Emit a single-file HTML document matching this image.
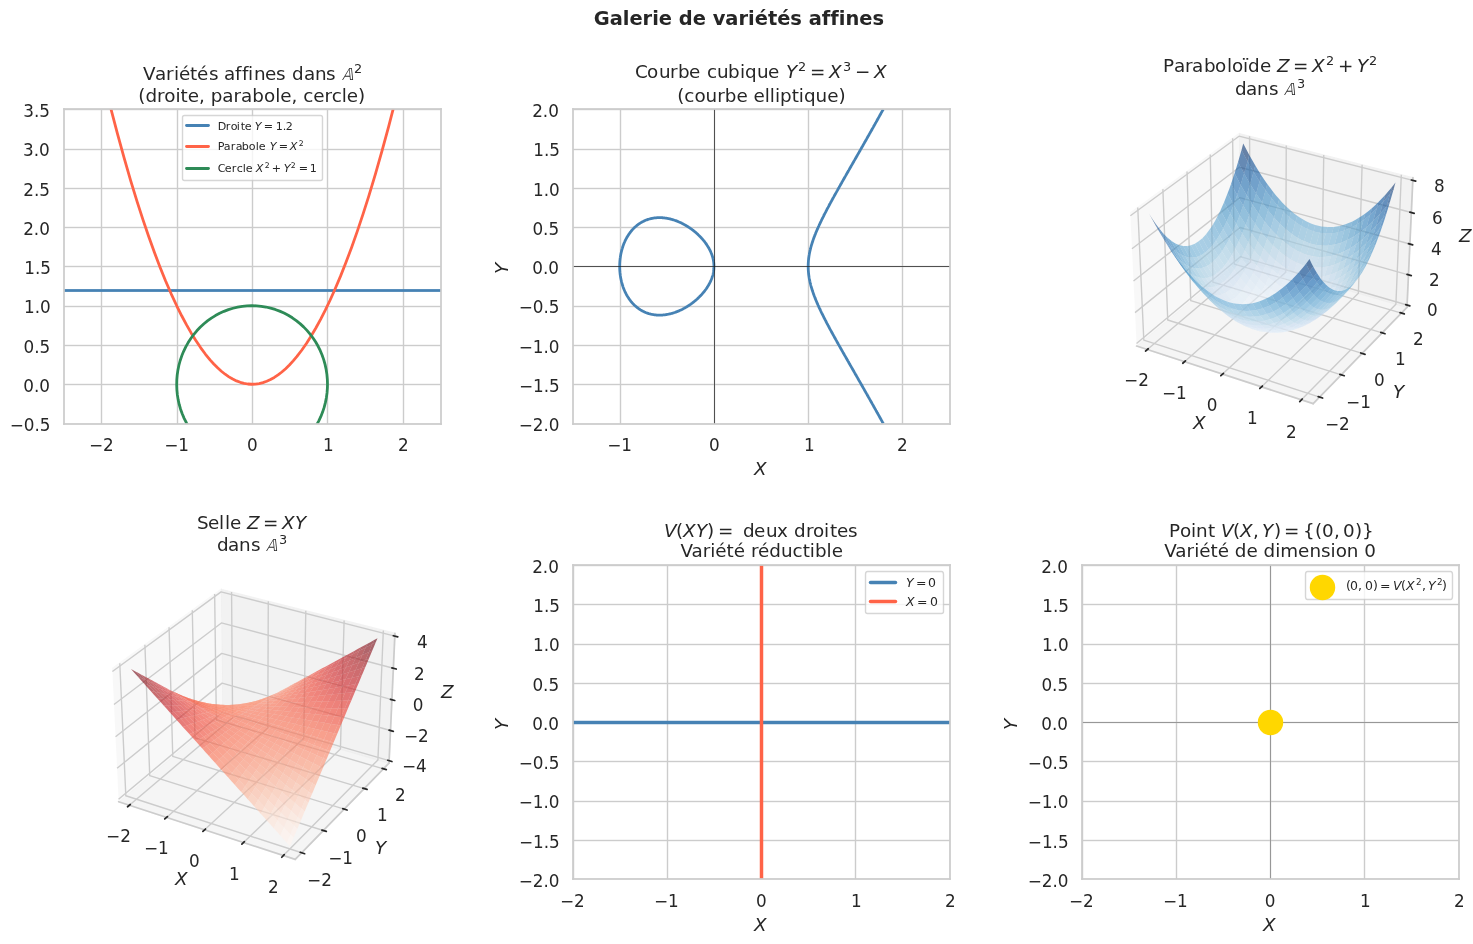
<!DOCTYPE html>
<html lang="fr"><head><meta charset="utf-8"><title>Galerie de variétés affines</title>
<style>html,body{margin:0;padding:0;background:#fff;overflow:hidden}svg{display:block}svg *{stroke-linejoin:round;stroke-linecap:butt}text{font-family:"DejaVu Sans","Liberation Sans",sans-serif;fill:#262626;white-space:pre;font-variant-ligatures:none;font-kerning:normal}</style></head>
<body>
<svg width="1473" height="944" viewBox="0 0 1473 944"><defs></defs><g><g><path d="M-161 989L1639 989L1639 -11L-161 -11Z" style="fill:#ffffff" /></g><g><g><path d="M64 424L441 424L441 109L64 109Z" style="fill:#ffffff" /></g><g><g><g><rect clip-path="url(#pf85b3733b2)" style="fill:#cccccc" x="100.806" y="108.806" width="1.389" height="316.389" /></g><g><text style="font-size:16.806px;text-anchor:middle" x="101.33" y="451">−2</text></g></g><g><g><rect clip-path="url(#pf85b3733b2)" style="fill:#cccccc" x="176.806" y="108.806" width="1.389" height="316.389" /></g><g><text style="font-size:16.806px;text-anchor:middle" x="176.56" y="451">−1</text></g></g><g><g><rect clip-path="url(#pf85b3733b2)" style="fill:#cccccc" x="251.806" y="108.806" width="1.389" height="316.389" /></g><g><text style="font-size:16.806px;text-anchor:middle" x="252.23" y="451">0</text></g></g><g><g><rect clip-path="url(#pf85b3733b2)" style="fill:#cccccc" x="326.806" y="108.806" width="1.389" height="316.389" /></g><g><text style="font-size:16.806px;text-anchor:middle" x="328.32" y="451">1</text></g></g><g><g><rect clip-path="url(#pf85b3733b2)" style="fill:#cccccc" x="402.806" y="108.806" width="1.389" height="316.389" /></g><g><text style="font-size:16.806px;text-anchor:middle" x="403.39" y="451">2</text></g></g></g><g><g><g><rect clip-path="url(#pf85b3733b2)" style="fill:#cccccc" x="63.806" y="423.806" width="378.389" height="1.389" /></g><g><text style="font-size:16.806px;text-anchor:end" x="50.52" y="431">−0.5</text></g></g><g><g><rect clip-path="url(#pf85b3733b2)" style="fill:#cccccc" x="63.806" y="383.806" width="378.389" height="1.389" /></g><g><text style="font-size:16.806px;text-anchor:end" x="50.01" y="392">0.0</text></g></g><g><g><rect clip-path="url(#pf85b3733b2)" style="fill:#cccccc" x="63.806" y="344.806" width="378.389" height="1.389" /></g><g><text style="font-size:16.806px;text-anchor:end" x="50.19" y="353">0.5</text></g></g><g><g><rect clip-path="url(#pf85b3733b2)" style="fill:#cccccc" x="63.806" y="305.806" width="378.389" height="1.389" /></g><g><text style="font-size:16.806px;text-anchor:end" x="50.77" y="313">1.0</text></g></g><g><g><rect clip-path="url(#pf85b3733b2)" style="fill:#cccccc" x="63.806" y="265.806" width="378.389" height="1.389" /></g><g><text style="font-size:16.806px;text-anchor:end" x="51.03" y="274">1.5</text></g></g><g><g><rect clip-path="url(#pf85b3733b2)" style="fill:#cccccc" x="63.806" y="226.806" width="378.389" height="1.389" /></g><g><text style="font-size:16.806px;text-anchor:end" x="49.91" y="235">2.0</text></g></g><g><g><rect clip-path="url(#pf85b3733b2)" style="fill:#cccccc" x="63.806" y="187.806" width="378.389" height="1.389" /></g><g><text style="font-size:16.806px;text-anchor:end" x="50.01" y="196">2.5</text></g></g><g><g><rect clip-path="url(#pf85b3733b2)" style="fill:#cccccc" x="63.806" y="148.806" width="378.389" height="1.389" /></g><g><text style="font-size:16.806px;text-anchor:end" x="49.73" y="156">3.0</text></g></g><g><g><rect clip-path="url(#pf85b3733b2)" style="fill:#cccccc" x="63.806" y="108.806" width="378.389" height="1.389" /></g><g><text style="font-size:16.806px;text-anchor:end" x="49.95" y="117">3.5</text></g></g></g><g><rect clip-path="url(#pf85b3733b2)" style="fill:#4682b4" x="63.111" y="289.111" width="379.778" height="2.778" /></g><g><path d="M82.72 -12.14L90.03 21.35L97.59 54.42L104.2 82.05L110.82 108.48L117.43 133.7L124.04 157.71L130.66 180.52L137.27 202.11L142.94 219.65L148.61 236.31L154.28 252.08L159.95 266.96L165.62 280.95L171.29 294.05L176.96 306.27L181.69 315.77L186.41 324.65L191.13 332.92L195.86 340.57L200.58 347.6L205.31 354.02L210.03 359.82L213.81 364.01L217.59 367.81L221.37 371.22L225.15 374.23L228.93 376.84L232.71 379.06L236.49 380.89L240.27 382.32L244.05 383.36L247.83 384L251.61 384.25L255.39 384.1L259.17 383.56L262.95 382.62L266.73 381.29L270.51 379.56L274.29 377.44L278.07 374.92L281.85 372.01L285.63 368.7L289.41 365L293.19 360.9L296.97 356.41L301.69 350.24L306.42 343.46L311.14 336.05L315.87 328.03L320.59 319.4L325.32 310.14L330.04 300.27L334.76 289.78L340.43 276.38L346.1 262.1L351.77 246.92L357.44 230.86L363.11 213.9L368.78 196.06L375.4 174.12L382.01 150.98L388.63 126.62L395.24 101.06L401.85 74.28L408.47 46.3L415.08 17.11L421.45 -12.14L421.45 -12.14" clip-path="url(#pf85b3733b2)" style="fill:none;stroke:#ff6347;stroke-width:2.778;stroke-linecap:round" /></g><g><path d="M327.49 384.25L327.34 379.3L326.89 374.38L326.15 369.49L325.11 364.66L323.78 359.91L322.17 355.26L320.28 350.72L318.12 346.31L315.69 342.06L313.02 337.97L310.1 334.06L306.95 330.36L303.59 326.86L300.02 323.6L296.26 320.58L292.33 317.8L288.23 315.3L284 313.06L279.63 311.11L275.16 309.45L270.59 308.08L265.96 307.02L261.26 306.26L256.53 305.82L251.79 305.68L247.04 305.85L242.31 306.34L237.63 307.14L233 308.24L228.44 309.64L223.98 311.34L219.63 313.33L215.41 315.59L211.34 318.14L207.43 320.94L203.69 323.99L200.15 327.29L196.81 330.81L193.69 334.54L190.8 338.47L188.16 342.58L185.77 346.85L183.64 351.28L181.78 355.83L180.2 360.5L178.91 365.26L177.91 370.1L177.2 374.99L176.79 379.92L176.68 384.87L176.87 389.81L177.35 394.74L178.13 399.62L179.21 404.44L180.57 409.18L182.22 413.82L184.15 418.34L186.34 422.73L188.79 426.97L191.5 431.03L194.45 434.91L197.62 438.59L201.01 442.06L204.61 445.29L208.39 448.29L212.34 451.02L216.46 453.5L220.71 455.7L225.09 457.61L229.57 459.24L234.15 460.57L238.79 461.59L243.49 462.31L248.23 462.72L252.97 462.82L257.72 462.6L262.44 462.08L267.12 461.24L271.74 460.1L276.29 458.66L280.73 456.93L285.07 454.91L289.27 452.6L293.33 450.03L297.22 447.19L300.93 444.11L304.45 440.78L307.76 437.24L310.85 433.48L313.71 429.53L316.32 425.4L318.68 421.1L320.77 416.66L322.6 412.09L324.14 407.41L325.39 402.64L326.36 397.79L327.03 392.89L327.4 387.96L327.49 384.25L327.49 384.25" clip-path="url(#pf85b3733b2)" style="fill:none;stroke:#2e8b57;stroke-width:2.778;stroke-linecap:round" /></g><g><rect style="fill:#cccccc" x="63.132" y="108.132" width="1.736" height="316.736" /></g><g><rect style="fill:#cccccc" x="440.132" y="108.132" width="1.736" height="316.736" /></g><g><rect style="fill:#cccccc" x="63.132" y="423.132" width="378.736" height="1.736" /></g><g><rect style="fill:#cccccc" x="63.132" y="108.132" width="378.736" height="1.736" /></g><g><g transform="translate(142.01 81)"><text><tspan x="1 13 24 32 37 48 55 67 76 82 93 100 106 112 123 134 144 150 162 173 184 194" y="-1" style="font-size:18.333px">Variétés affines dans </tspan><tspan x="212" y="-8" style="font-size:12.833px">2</tspan></text><text transform="translate(200 -1) skewX(-14) scale(0.92 1)" style="font-size:16.5px">𝔸</text></g><text style="font-size:18.333px" x="138.32" y="102">(droite, parabole, cercle)</text></g><g><g><path d="M184.5 180.5L320.5 180.5Q322.5 180.5 322.5 178.5L322.5 117.5Q322.5 115.5 320.5 115.5L184.5 115.5Q182.5 115.5 182.5 117.5L182.5 178.5Q182.5 180.5 184.5 180.5Z" style="fill:#ffffff;opacity:0.8;stroke:#cccccc;stroke-linejoin:miter;stroke-width:1.389" /></g><g><path d="M186.5 125.5L208.5 125.5" style="fill:none;stroke:#4682b4;stroke-width:2.778;stroke-linecap:round" /></g><g><g transform="translate(216.82 130)"><text><tspan x="1 9 14 20 24 28 35" y="0" style="font-size:11.111px">Droite </tspan><tspan x="38" y="0" style="font-style:italic;font-size:11.111px">Y</tspan><tspan x="47 59 66 69" y="0" style="font-size:11.111px">=1.2</tspan></text></g></g><g><path d="M186.5 146.5L208.5 146.5" style="fill:none;stroke:#ff6347;stroke-width:2.778;stroke-linecap:round" /></g><g><g transform="translate(216.84 151)"><text><tspan x="1 7 14 19 25 32 39 42 49" y="-0.6" style="font-size:11.111px">Parabole </tspan><tspan x="53" y="-0.6" style="font-style:italic;font-size:11.111px">Y</tspan><tspan x="62" y="-0.6" style="font-size:11.111px">=</tspan><tspan x="73" y="-0.6" style="font-style:italic;font-size:11.111px">X</tspan><tspan x="82" y="-4.6" style="font-size:7.778px">2</tspan></text></g></g><g><path d="M186.5 168.5L208.5 168.5" style="fill:none;stroke:#2e8b57;stroke-width:2.778;stroke-linecap:round" /></g><g><g transform="translate(216.78 173)"><text><tspan x="1 8 15 20 26 29 36" y="-0.6" style="font-size:11.111px">Cercle </tspan><tspan x="39" y="-0.6" style="font-style:italic;font-size:11.111px">X</tspan><tspan x="48" y="-4.6" style="font-size:7.778px">2</tspan><tspan x="55" y="-0.6" style="font-size:11.111px">+</tspan><tspan x="67" y="-0.6" style="font-style:italic;font-size:11.111px">Y</tspan><tspan x="74" y="-4.6" style="font-size:7.778px">2</tspan><tspan x="82 93" y="-0.6" style="font-size:11.111px">=1</tspan></text></g></g></g></g><g><g><path d="M573 424L950 424L950 109L573 109Z" style="fill:#ffffff" /></g><g><g><g><rect clip-path="url(#p10204e9731)" style="fill:#cccccc" x="619.806" y="108.806" width="1.389" height="316.389" /></g><g><text style="font-size:16.806px;text-anchor:middle" x="619.56" y="451">−1</text></g></g><g><g><rect clip-path="url(#p10204e9731)" style="fill:#cccccc" x="713.806" y="108.806" width="1.389" height="316.389" /></g><g><text style="font-size:16.806px;text-anchor:middle" x="714.36" y="451">0</text></g></g><g><g><rect clip-path="url(#p10204e9731)" style="fill:#cccccc" x="807.806" y="108.806" width="1.389" height="316.389" /></g><g><text style="font-size:16.806px;text-anchor:middle" x="809.42" y="451">1</text></g></g><g><g><rect clip-path="url(#p10204e9731)" style="fill:#cccccc" x="901.806" y="108.806" width="1.389" height="316.389" /></g><g><text style="font-size:16.806px;text-anchor:middle" x="902.45" y="451">2</text></g></g><g><g transform="translate(753.03 475)"><text><tspan x="1" y="0" style="font-style:italic;font-size:18.333px">X</tspan></text></g></g></g><g><g><g><rect clip-path="url(#p10204e9731)" style="fill:#cccccc" x="572.806" y="423.806" width="378.389" height="1.389" /></g><g><text style="font-size:16.806px;text-anchor:end" x="559.49" y="431">−2.0</text></g></g><g><g><rect clip-path="url(#p10204e9731)" style="fill:#cccccc" x="572.806" y="383.806" width="378.389" height="1.389" /></g><g><text style="font-size:16.806px;text-anchor:end" x="559.69" y="392">−1.5</text></g></g><g><g><rect clip-path="url(#p10204e9731)" style="fill:#cccccc" x="572.806" y="344.806" width="378.389" height="1.389" /></g><g><text style="font-size:16.806px;text-anchor:end" x="559.5" y="353">−1.0</text></g></g><g><g><rect clip-path="url(#p10204e9731)" style="fill:#cccccc" x="572.806" y="305.806" width="378.389" height="1.389" /></g><g><text style="font-size:16.806px;text-anchor:end" x="559.5" y="313">−0.5</text></g></g><g><g><rect clip-path="url(#p10204e9731)" style="fill:#cccccc" x="572.806" y="265.806" width="378.389" height="1.389" /></g><g><text style="font-size:16.806px;text-anchor:end" x="558.99" y="274">0.0</text></g></g><g><g><rect clip-path="url(#p10204e9731)" style="fill:#cccccc" x="572.806" y="226.806" width="378.389" height="1.389" /></g><g><text style="font-size:16.806px;text-anchor:end" x="559.17" y="235">0.5</text></g></g><g><g><rect clip-path="url(#p10204e9731)" style="fill:#cccccc" x="572.806" y="187.806" width="378.389" height="1.389" /></g><g><text style="font-size:16.806px;text-anchor:end" x="559.76" y="196">1.0</text></g></g><g><g><rect clip-path="url(#p10204e9731)" style="fill:#cccccc" x="572.806" y="148.806" width="378.389" height="1.389" /></g><g><text style="font-size:16.806px;text-anchor:end" x="560.02" y="156">1.5</text></g></g><g><g><rect clip-path="url(#p10204e9731)" style="fill:#cccccc" x="572.806" y="108.806" width="378.389" height="1.389" /></g><g><text style="font-size:16.806px;text-anchor:end" x="558.9" y="117">2.0</text></g></g><g><g transform="translate(508.15 275.08)rotate(-90)"><text><tspan x="1" y="0" style="font-style:italic;font-size:18.333px">Y</tspan></text></g></g></g><g><path d="M883.26 423.54L882.97 423.01L882.86 422.83L882.68 422.49L882.39 421.96L882.23 421.69L882.09 421.44L881.8 420.91L881.6 420.55L881.51 420.39L881.22 419.86L880.98 419.42L880.93 419.34L880.64 418.81L880.35 418.29L880.35 418.28L880.06 417.76L879.77 417.24L879.72 417.15L879.47 416.71L879.18 416.19L879.09 416.02L878.89 415.67L878.6 415.14L878.46 414.89L878.31 414.62L878.01 414.09L877.83 413.76L877.72 413.57L877.43 413.04L877.2 412.63L877.13 412.52L876.84 411.99L876.57 411.5L876.55 411.47L876.26 410.94L875.96 410.42L875.94 410.38L875.67 409.89L875.38 409.37L875.31 409.25L875.08 408.84L874.79 408.32L874.68 408.13L874.49 407.8L874.2 407.27L874.05 407.01L873.91 406.75L873.61 406.22L873.42 405.88L873.32 405.7L873.02 405.17L872.79 404.76L872.73 404.65L872.43 404.12L872.16 403.64L872.14 403.6L871.84 403.07L871.55 402.55L871.53 402.52L871.25 402.02L870.96 401.5L870.9 401.41L870.66 400.97L870.36 400.45L870.28 400.29L870.07 399.92L869.77 399.4L869.65 399.17L869.48 398.88L869.18 398.35L869.02 398.06L868.88 397.83L868.59 397.3L868.39 396.94L868.29 396.78L867.99 396.25L867.76 395.83L867.7 395.73L867.4 395.2L867.13 394.72L867.1 394.68L866.81 394.15L866.51 393.63L866.5 393.61L866.21 393.1L865.92 392.58L865.87 392.5L865.62 392.05L865.32 391.53L865.24 391.39L865.02 391.01L864.73 390.48L864.61 390.28L864.43 389.96L864.13 389.43L863.98 389.17L863.83 388.91L863.53 388.38L863.35 388.06L863.24 387.86L862.94 387.33L862.72 386.95L862.64 386.81L862.34 386.28L862.09 385.85L862.04 385.76L861.74 385.23L861.46 384.74L861.45 384.71L861.15 384.18L860.85 383.66L860.83 383.63L860.55 383.14L860.25 382.61L860.2 382.53L859.95 382.09L859.65 381.56L859.57 381.42L859.35 381.04L859.05 380.51L858.95 380.32L858.75 379.99L858.46 379.46L858.32 379.22L858.16 378.94L857.86 378.41L857.69 378.11L857.56 377.89L857.26 377.36L857.06 377.01L856.96 376.84L856.66 376.31L856.43 375.91L856.36 375.79L856.06 375.26L855.8 374.81L855.76 374.74L855.46 374.22L855.17 373.71L855.16 373.69L854.86 373.17L854.56 372.64L854.54 372.6L854.26 372.12L853.96 371.59L853.91 371.5L853.66 371.07L853.36 370.54L853.28 370.4L853.06 370.02L852.76 369.49L852.65 369.3L852.46 368.97L852.16 368.44L852.02 368.2L851.86 367.92L851.56 367.39L851.39 367.1L851.26 366.87L850.96 366.35L850.76 366L850.66 365.82L850.36 365.3L850.13 364.9L850.06 364.77L849.76 364.25L849.5 363.79L849.46 363.72L849.16 363.2L848.87 362.69L848.86 362.67L848.56 362.15L848.26 361.62L848.25 361.59L847.96 361.1L847.66 360.57L847.62 360.49L847.36 360.05L847.07 359.52L846.99 359.39L846.77 359L846.47 358.47L846.36 358.28L846.17 357.95L845.87 357.43L845.73 357.18L845.57 356.9L845.27 356.38L845.1 356.07L844.97 355.85L844.67 355.33L844.47 354.97L844.37 354.8L844.08 354.28L843.84 353.86L843.78 353.75L843.48 353.23L843.21 352.75L843.18 352.7L842.88 352.18L842.59 351.65L842.58 351.64L842.29 351.13L841.99 350.6L841.95 350.53L841.69 350.08L841.4 349.56L841.32 349.42L841.1 349.03L840.8 348.51L840.69 348.31L840.51 347.98L840.21 347.46L840.06 347.2L839.91 346.93L839.62 346.41L839.43 346.08L839.32 345.88L839.03 345.36L838.8 344.96L838.73 344.83L838.43 344.31L838.17 343.84L838.14 343.78L837.85 343.26L837.55 342.73L837.54 342.72L837.26 342.21L836.96 341.69L836.92 341.6L836.67 341.16L836.38 340.64L836.29 340.47L836.09 340.11L835.79 339.59L835.66 339.34L835.5 339.06L835.21 338.54L835.03 338.21L834.92 338.01L834.63 337.49L834.4 337.07L834.34 336.96L834.05 336.44L833.77 335.93L833.76 335.91L833.47 335.39L833.18 334.86L833.14 334.79L832.89 334.34L832.6 333.81L832.51 333.64L832.31 333.29L832.03 332.77L831.88 332.49L831.74 332.24L831.46 331.72L831.25 331.34L831.17 331.19L830.88 330.67L830.62 330.18L830.6 330.14L830.32 329.62L830.03 329.09L829.99 329.01L829.75 328.57L829.47 328.04L829.36 327.84L829.19 327.52L828.91 326.99L828.73 326.67L828.63 326.47L828.35 325.94L828.1 325.48L828.07 325.42L827.79 324.9L827.51 324.37L827.47 324.29L827.24 323.85L826.96 323.32L826.84 323.1L826.69 322.8L826.41 322.27L826.22 321.89L826.14 321.75L825.87 321.22L825.6 320.7L825.59 320.68L825.32 320.17L825.06 319.65L824.96 319.45L824.79 319.12L824.52 318.6L824.33 318.22L824.25 318.07L823.99 317.55L823.72 317.02L823.7 316.98L823.46 316.5L823.2 315.98L823.07 315.72L822.93 315.45L822.67 314.93L822.44 314.45L822.41 314.4L822.16 313.88L821.9 313.35L821.81 313.17L821.64 312.83L821.39 312.3L821.18 311.87L821.14 311.78L820.88 311.25L820.63 310.73L820.55 310.55L820.38 310.2L820.14 309.68L819.92 309.22L819.89 309.15L819.65 308.63L819.4 308.11L819.29 307.86L819.16 307.58L818.92 307.06L818.68 306.53L818.66 306.49L818.44 306.01L818.21 305.48L818.03 305.08L817.98 304.96L817.74 304.43L817.51 303.91L817.4 303.65L817.29 303.38L817.06 302.86L816.83 302.33L816.77 302.19L816.61 301.81L816.39 301.28L816.17 300.76L816.14 300.69L815.96 300.23L815.74 299.71L815.53 299.19L815.51 299.15L815.32 298.66L815.11 298.14L814.9 297.61L814.89 297.56L814.7 297.09L814.5 296.56L814.3 296.04L814.26 295.92L814.1 295.51L813.91 294.99L813.72 294.46L813.63 294.21L813.53 293.94L813.34 293.41L813.16 292.89L813 292.42L812.98 292.36L812.8 291.84L812.62 291.32L812.45 290.79L812.37 290.54L812.28 290.27L812.11 289.74L811.95 289.22L811.79 288.69L811.74 288.53L811.63 288.17L811.47 287.64L811.32 287.12L811.17 286.59L811.11 286.37L811.02 286.07L810.88 285.54L810.74 285.02L810.61 284.49L810.48 283.99L810.47 283.97L810.34 283.45L810.22 282.92L810.09 282.4L809.98 281.87L809.86 281.35L809.85 281.3L809.75 280.82L809.64 280.3L809.53 279.77L809.43 279.25L809.34 278.72L809.24 278.2L809.22 278.06L809.15 277.67L809.07 277.15L808.99 276.62L808.91 276.1L808.83 275.57L808.76 275.05L808.7 274.53L808.64 274L808.59 273.59L808.58 273.48L808.52 272.95L808.47 272.43L808.43 271.9L808.39 271.38L808.35 270.85L808.31 270.33L808.28 269.8L808.26 269.28L808.24 268.75L808.22 268.23L808.21 267.7L808.2 267.18L808.2 266.66L808.2 266.13L808.2 265.61L808.21 265.08L808.22 264.56L808.24 264.03L808.26 263.51L808.28 262.98L808.31 262.46L808.35 261.93L808.39 261.41L808.43 260.88L808.47 260.36L808.52 259.83L808.58 259.31L808.59 259.2L808.64 258.78L808.7 258.26L808.76 257.74L808.83 257.21L808.91 256.69L808.99 256.16L809.07 255.64L809.15 255.11L809.22 254.73L809.24 254.59L809.34 254.06L809.43 253.54L809.53 253.01L809.64 252.49L809.75 251.96L809.85 251.49L809.86 251.44L809.98 250.91L810.09 250.39L810.22 249.87L810.34 249.34L810.47 248.82L810.48 248.79L810.61 248.29L810.74 247.77L810.88 247.24L811.02 246.72L811.11 246.42L811.17 246.19L811.32 245.67L811.47 245.14L811.63 244.62L811.74 244.25L811.79 244.09L811.95 243.57L812.11 243.04L812.28 242.52L812.37 242.25L812.45 242L812.62 241.47L812.8 240.95L812.98 240.42L813 240.36L813.16 239.9L813.34 239.37L813.53 238.85L813.63 238.58L813.72 238.32L813.91 237.8L814.1 237.27L814.26 236.87L814.3 236.75L814.5 236.22L814.7 235.7L814.89 235.22L814.9 235.17L815.11 234.65L815.32 234.12L815.51 233.64L815.53 233.6L815.74 233.08L815.96 232.55L816.14 232.1L816.17 232.03L816.39 231.5L816.61 230.98L816.77 230.6L816.83 230.45L817.06 229.93L817.29 229.4L817.4 229.13L817.51 228.88L817.74 228.35L817.98 227.83L818.03 227.7L818.21 227.3L818.44 226.78L818.66 226.3L818.68 226.25L818.92 225.73L819.16 225.21L819.29 224.92L819.4 224.68L819.65 224.16L819.89 223.63L819.92 223.57L820.14 223.11L820.38 222.58L820.55 222.23L820.63 222.06L820.88 221.53L821.14 221.01L821.18 220.92L821.39 220.48L821.64 219.96L821.81 219.62L821.9 219.43L822.16 218.91L822.41 218.38L822.44 218.34L822.67 217.86L822.93 217.33L823.07 217.07L823.2 216.81L823.46 216.29L823.7 215.81L823.72 215.76L823.99 215.24L824.25 214.71L824.33 214.57L824.52 214.19L824.79 213.66L824.96 213.33L825.06 213.14L825.32 212.61L825.59 212.11L825.6 212.09L825.87 211.56L826.14 211.04L826.22 210.9L826.41 210.51L826.69 209.99L826.84 209.69L826.96 209.46L827.24 208.94L827.47 208.49L827.51 208.42L827.79 207.89L828.07 207.37L828.1 207.3L828.35 206.84L828.63 206.32L828.73 206.12L828.91 205.79L829.19 205.27L829.36 204.94L829.47 204.74L829.75 204.22L829.99 203.77L830.03 203.69L830.32 203.17L830.6 202.64L830.62 202.61L830.88 202.12L831.17 201.59L831.25 201.45L831.46 201.07L831.74 200.55L831.88 200.29L832.03 200.02L832.31 199.5L832.51 199.14L832.6 198.97L832.89 198.45L833.14 198L833.18 197.92L833.47 197.4L833.76 196.87L833.77 196.85L834.05 196.35L834.34 195.82L834.4 195.71L834.63 195.3L834.92 194.77L835.03 194.58L835.21 194.25L835.5 193.72L835.66 193.45L835.79 193.2L836.09 192.67L836.29 192.32L836.38 192.15L836.67 191.63L836.92 191.19L836.96 191.1L837.26 190.58L837.54 190.06L837.55 190.05L837.85 189.53L838.14 189L838.17 188.94L838.43 188.48L838.73 187.95L838.8 187.82L839.03 187.43L839.32 186.9L839.43 186.71L839.62 186.38L839.91 185.85L840.06 185.59L840.21 185.33L840.51 184.8L840.69 184.48L840.8 184.28L841.1 183.76L841.32 183.36L841.4 183.23L841.69 182.71L841.95 182.25L841.99 182.18L842.29 181.66L842.58 181.14L842.59 181.13L842.88 180.61L843.18 180.08L843.21 180.03L843.48 179.56L843.78 179.03L843.84 178.93L844.08 178.51L844.37 177.98L844.47 177.82L844.67 177.46L844.97 176.93L845.1 176.71L845.27 176.41L845.57 175.88L845.73 175.61L845.87 175.36L846.17 174.84L846.36 174.5L846.47 174.31L846.77 173.79L846.99 173.4L847.07 173.26L847.36 172.74L847.62 172.3L847.66 172.21L847.96 171.69L848.25 171.19L848.26 171.16L848.56 170.64L848.86 170.11L848.87 170.09L849.16 169.59L849.46 169.06L849.5 168.99L849.76 168.54L850.06 168.01L850.13 167.89L850.36 167.49L850.66 166.97L850.76 166.79L850.96 166.44L851.26 165.92L851.39 165.69L851.56 165.39L851.86 164.87L852.02 164.59L852.16 164.34L852.46 163.82L852.65 163.49L852.76 163.29L853.06 162.77L853.28 162.38L853.36 162.24L853.66 161.72L853.91 161.28L853.96 161.19L854.26 160.67L854.54 160.18L854.56 160.14L854.86 159.62L855.16 159.09L855.17 159.08L855.46 158.57L855.76 158.05L855.8 157.98L856.06 157.52L856.36 157L856.43 156.88L856.66 156.47L856.96 155.95L857.06 155.77L857.26 155.42L857.56 154.9L857.69 154.67L857.86 154.37L858.16 153.85L858.32 153.57L858.46 153.32L858.75 152.8L858.95 152.47L859.05 152.27L859.35 151.75L859.57 151.36L859.65 151.22L859.95 150.7L860.2 150.26L860.25 150.18L860.55 149.65L860.83 149.15L860.85 149.13L861.15 148.6L861.45 148.08L861.46 148.05L861.74 147.55L862.04 147.03L862.09 146.94L862.34 146.5L862.64 145.98L862.72 145.83L862.94 145.45L863.24 144.93L863.35 144.73L863.53 144.4L863.83 143.88L863.98 143.62L864.13 143.35L864.43 142.83L864.61 142.51L864.73 142.31L865.02 141.78L865.24 141.4L865.32 141.26L865.62 140.73L865.87 140.29L865.92 140.21L866.21 139.68L866.5 139.18L866.51 139.16L866.81 138.63L867.1 138.11L867.13 138.07L867.4 137.58L867.7 137.06L867.76 136.95L867.99 136.53L868.29 136.01L868.39 135.84L868.59 135.48L868.88 134.96L869.02 134.73L869.18 134.43L869.48 133.91L869.65 133.61L869.77 133.39L870.07 132.86L870.28 132.5L870.36 132.34L870.66 131.81L870.9 131.38L870.96 131.29L871.25 130.76L871.53 130.26L871.55 130.24L871.84 129.71L872.14 129.19L872.16 129.14L872.43 128.66L872.73 128.14L872.79 128.02L873.02 127.61L873.32 127.09L873.42 126.9L873.61 126.56L873.91 126.04L874.05 125.78L874.2 125.52L874.49 124.99L874.68 124.66L874.79 124.47L875.08 123.94L875.31 123.53L875.38 123.42L875.67 122.89L875.94 122.41L875.96 122.37L876.26 121.84L876.55 121.32L876.57 121.28L876.84 120.79L877.13 120.27L877.2 120.15L877.43 119.74L877.72 119.22L877.83 119.03L878.01 118.69L878.31 118.17L878.46 117.9L878.6 117.64L878.89 117.12L879.09 116.77L879.18 116.6L879.47 116.07L879.72 115.64L879.77 115.55L880.06 115.02L880.35 114.5L880.35 114.5L880.64 113.97L880.93 113.45L880.98 113.37L881.22 112.92L881.51 112.4L881.6 112.23L881.8 111.87L882.09 111.35L882.23 111.1L882.39 110.82L882.68 110.3L882.86 109.96L882.97 109.77L883.26 109.25M655.64 314.95L655.44 314.93L655.01 314.88L654.38 314.8L653.75 314.71L653.12 314.61L652.49 314.5L652 314.4L651.86 314.37L651.23 314.24L650.6 314.09L649.98 313.93L649.77 313.88L649.35 313.76L648.72 313.58L648.09 313.38L648 313.35L647.46 313.17L646.83 312.95L646.51 312.83L646.2 312.71L645.57 312.46L645.21 312.3L644.94 312.19L644.31 311.91L644.03 311.78L643.68 311.61L643.05 311.3L642.96 311.25L642.42 310.97L641.98 310.73L641.79 310.63L641.16 310.27L641.06 310.2L640.53 309.89L640.2 309.68L639.9 309.49L639.4 309.15L639.28 309.07L638.65 308.64L638.64 308.63L638.02 308.18L637.92 308.11L637.39 307.7L637.23 307.58L636.76 307.2L636.58 307.06L636.13 306.68L635.95 306.53L635.5 306.13L635.36 306.01L634.87 305.56L634.78 305.48L634.24 304.96L634.23 304.96L633.7 304.43L633.61 304.34L633.2 303.91L632.98 303.68L632.7 303.38L632.35 303L632.23 302.86L631.77 302.33L631.72 302.28L631.33 301.81L631.09 301.52L630.9 301.28L630.49 300.76L630.46 300.73L630.09 300.23L629.83 299.9L629.7 299.71L629.32 299.19L629.2 299.02L628.96 298.66L628.6 298.14L628.57 298.09L628.26 297.61L627.95 297.12L627.93 297.09L627.6 296.56L627.32 296.08L627.29 296.04L626.99 295.51L626.69 294.99L626.69 294.99L626.4 294.46L626.12 293.94L626.06 293.82L625.85 293.41L625.59 292.89L625.43 292.56L625.33 292.36L625.08 291.84L624.84 291.32L624.8 291.22L624.61 290.79L624.38 290.27L624.17 289.76L624.16 289.74L623.95 289.22L623.74 288.69L623.54 288.17L623.54 288.17L623.34 287.64L623.15 287.12L622.97 286.59L622.91 286.42L622.79 286.07L622.62 285.54L622.46 285.02L622.29 284.49L622.28 284.45L622.14 283.97L621.99 283.45L621.84 282.92L621.7 282.4L621.65 282.19L621.57 281.87L621.44 281.35L621.32 280.82L621.2 280.3L621.08 279.77L621.02 279.49L620.97 279.25L620.87 278.72L620.77 278.2L620.67 277.67L620.58 277.15L620.49 276.62L620.41 276.1L620.39 275.97L620.34 275.57L620.26 275.05L620.19 274.53L620.13 274L620.07 273.48L620.02 272.95L619.96 272.43L619.92 271.9L619.88 271.38L619.84 270.85L619.8 270.33L619.77 269.8L619.76 269.59L619.75 269.28L619.73 268.75L619.71 268.23L619.7 267.7L619.69 267.18L619.69 266.66L619.69 266.13L619.69 265.61L619.7 265.08L619.71 264.56L619.73 264.03L619.75 263.51L619.76 263.19L619.77 262.98L619.8 262.46L619.84 261.93L619.88 261.41L619.92 260.88L619.96 260.36L620.02 259.83L620.07 259.31L620.13 258.78L620.19 258.26L620.26 257.74L620.34 257.21L620.39 256.82L620.41 256.69L620.49 256.16L620.58 255.64L620.67 255.11L620.77 254.59L620.87 254.06L620.97 253.54L621.02 253.3L621.08 253.01L621.2 252.49L621.32 251.96L621.44 251.44L621.57 250.91L621.65 250.59L621.7 250.39L621.84 249.87L621.99 249.34L622.14 248.82L622.28 248.33L622.29 248.29L622.46 247.77L622.62 247.24L622.79 246.72L622.91 246.37L622.97 246.19L623.15 245.67L623.34 245.14L623.54 244.62L623.54 244.61L623.74 244.09L623.95 243.57L624.16 243.04L624.17 243.02L624.38 242.52L624.61 242L624.8 241.57L624.84 241.47L625.08 240.95L625.33 240.42L625.43 240.22L625.59 239.9L625.85 239.37L626.06 238.97L626.12 238.85L626.4 238.32L626.69 237.8L626.69 237.8L626.99 237.27L627.29 236.75L627.32 236.7L627.6 236.22L627.93 235.7L627.95 235.67L628.26 235.17L628.57 234.69L628.6 234.65L628.96 234.12L629.2 233.77L629.32 233.6L629.7 233.08L629.83 232.89L630.09 232.55L630.46 232.06L630.49 232.03L630.9 231.5L631.09 231.26L631.33 230.98L631.72 230.51L631.77 230.45L632.23 229.93L632.35 229.79L632.7 229.4L632.98 229.1L633.2 228.88L633.61 228.45L633.7 228.35L634.23 227.83L634.24 227.82L634.78 227.3L634.87 227.22L635.36 226.78L635.5 226.65L635.95 226.25L636.13 226.11L636.58 225.73L636.76 225.58L637.23 225.21L637.39 225.08L637.92 224.68L638.02 224.61L638.64 224.16L638.65 224.15L639.28 223.71L639.4 223.63L639.9 223.3L640.2 223.11L640.53 222.9L641.06 222.58L641.16 222.52L641.79 222.16L641.98 222.06L642.42 221.81L642.96 221.53L643.05 221.48L643.68 221.17L644.03 221.01L644.31 220.88L644.94 220.6L645.21 220.48L645.57 220.33L646.2 220.08L646.51 219.96L646.83 219.84L647.46 219.62L648 219.43L648.09 219.41L648.72 219.21L649.35 219.02L649.77 218.91L649.98 218.85L650.6 218.69L651.23 218.55L651.86 218.41L652 218.38L652.49 218.29L653.12 218.18L653.75 218.07L654.38 217.99L655.01 217.91L655.44 217.86L655.64 217.84L656.27 217.78L656.9 217.73L657.53 217.7L658.16 217.67L658.79 217.65L659.42 217.65L660.05 217.65L660.68 217.66L661.31 217.69L661.93 217.72L662.56 217.76L663.19 217.81L663.72 217.86L663.82 217.87L664.45 217.94L665.08 218.02L665.71 218.1L666.34 218.2L666.97 218.31L667.41 218.38L667.6 218.42L668.23 218.54L668.86 218.67L669.49 218.81L669.9 218.91L670.12 218.96L670.75 219.12L671.38 219.28L671.92 219.43L672.01 219.46L672.63 219.64L673.26 219.83L673.67 219.96L673.89 220.03L674.52 220.24L675.15 220.46L675.23 220.48L675.78 220.68L676.41 220.91L676.66 221.01L677.04 221.16L677.67 221.41L677.98 221.53L678.3 221.67L678.93 221.93L679.21 222.06L679.56 222.21L680.19 222.49L680.38 222.58L680.82 222.79L681.45 223.09L681.48 223.11L682.08 223.4L682.53 223.63L682.71 223.72L683.34 224.05L683.54 224.16L683.96 224.38L684.5 224.68L684.59 224.73L685.22 225.09L685.43 225.21L685.85 225.45L686.32 225.73L686.48 225.82L687.11 226.21L687.19 226.25L687.74 226.6L688.02 226.78L688.37 227L688.83 227.3L689 227.42L689.61 227.83L689.63 227.84L690.26 228.27L690.37 228.35L690.89 228.72L691.11 228.88L691.52 229.17L691.83 229.4L692.15 229.64L692.53 229.93L692.78 230.11L693.22 230.45L693.41 230.6L693.88 230.98L694.04 231.1L694.53 231.5L694.66 231.61L695.16 232.03L695.29 232.14L695.78 232.55L695.92 232.67L696.38 233.08L696.55 233.23L696.97 233.6L697.18 233.79L697.55 234.12L697.81 234.37L698.11 234.65L698.44 234.97L698.66 235.17L699.07 235.58L699.2 235.7L699.7 236.2L699.72 236.22L700.23 236.75L700.33 236.85L700.73 237.27L700.96 237.51L701.22 237.8L701.59 238.2L701.7 238.32L702.17 238.85L702.22 238.9L702.63 239.37L702.85 239.63L703.08 239.9L703.48 240.38L703.51 240.42L703.94 240.95L704.11 241.15L704.36 241.47L704.74 241.96L704.77 242L705.16 242.52L705.37 242.79L705.55 243.04L705.93 243.57L705.99 243.66L706.3 244.09L706.62 244.57L706.66 244.62L707.01 245.14L707.25 245.52L707.35 245.67L707.68 246.19L707.88 246.52L708.01 246.72L708.32 247.24L708.51 247.57L708.63 247.77L708.92 248.29L709.14 248.69L709.21 248.82L709.49 249.34L709.76 249.87L709.77 249.88L710.02 250.39L710.28 250.91L710.4 251.18L710.52 251.44L710.76 251.96L710.99 252.49L711.03 252.59L711.21 253.01L711.42 253.54L711.62 254.06L711.66 254.17L711.81 254.59L712 255.11L712.17 255.64L712.29 255.99L712.34 256.16L712.5 256.69L712.65 257.21L712.8 257.74L712.92 258.21L712.93 258.26L713.06 258.78L713.17 259.31L713.28 259.83L713.39 260.36L713.48 260.88L713.55 261.32L713.56 261.41L713.64 261.93L713.7 262.46L713.76 262.98L713.81 263.51L713.86 264.03L713.89 264.56L713.91 265.08L713.93 265.61L713.94 266.13L713.94 266.66L713.93 267.18L713.91 267.7L713.89 268.23L713.86 268.75L713.81 269.28L713.76 269.8L713.7 270.33L713.64 270.85L713.56 271.38L713.55 271.47L713.48 271.9L713.39 272.43L713.28 272.95L713.17 273.48L713.06 274L712.93 274.53L712.92 274.58L712.8 275.05L712.65 275.57L712.5 276.1L712.34 276.62L712.29 276.79L712.17 277.15L712 277.67L711.81 278.2L711.66 278.61L711.62 278.72L711.42 279.25L711.21 279.77L711.03 280.19L710.99 280.3L710.76 280.82L710.52 281.35L710.4 281.61L710.28 281.87L710.02 282.4L709.77 282.9L709.76 282.92L709.49 283.45L709.21 283.97L709.14 284.1L708.92 284.49L708.63 285.02L708.51 285.22L708.32 285.54L708.01 286.07L707.88 286.27L707.68 286.59L707.35 287.12L707.25 287.27L707.01 287.64L706.66 288.17L706.62 288.22L706.3 288.69L705.99 289.12L705.93 289.22L705.55 289.74L705.37 289.99L705.16 290.27L704.77 290.79L704.74 290.83L704.36 291.32L704.11 291.63L703.94 291.84L703.51 292.36L703.48 292.41L703.08 292.89L702.85 293.16L702.63 293.41L702.22 293.89L702.17 293.94L701.7 294.46L701.59 294.59L701.22 294.99L700.96 295.27L700.73 295.51L700.33 295.94L700.23 296.04L699.72 296.56L699.7 296.58L699.2 297.09L699.07 297.21L698.66 297.61L698.44 297.82L698.11 298.14L697.81 298.41L697.55 298.66L697.18 298.99L696.97 299.19L696.55 299.56L696.38 299.71L695.92 300.11L695.78 300.23L695.29 300.65L695.16 300.76L694.66 301.17L694.53 301.28L694.04 301.69L693.88 301.81L693.41 302.18L693.22 302.33L692.78 302.67L692.53 302.86L692.15 303.15L691.83 303.38L691.52 303.61L691.11 303.91L690.89 304.07L690.37 304.43L690.26 304.51L689.63 304.95L689.61 304.96L689 305.37L688.83 305.48L688.37 305.78L688.02 306.01L687.74 306.18L687.19 306.53L687.11 306.58L686.48 306.96L686.32 307.06L685.85 307.33L685.43 307.58L685.22 307.7L684.59 308.06L684.5 308.11L683.96 308.4L683.54 308.63L683.34 308.74L682.71 309.07L682.53 309.15L682.08 309.39L681.48 309.68L681.45 309.7L680.82 310L680.38 310.2L680.19 310.29L679.56 310.58L679.21 310.73L678.93 310.85L678.3 311.12L677.98 311.25L677.67 311.38L677.04 311.63L676.66 311.78L676.41 311.87L675.78 312.1L675.23 312.3L675.15 312.33L674.52 312.55L673.89 312.75L673.67 312.83L673.26 312.95L672.63 313.15L672.01 313.33L671.92 313.35L671.38 313.5L670.75 313.67L670.12 313.82L669.9 313.88L669.49 313.97L668.86 314.11L668.23 314.24L667.6 314.37L667.41 314.4L666.97 314.48L666.34 314.59L665.71 314.68L665.08 314.77L664.45 314.85L663.82 314.92L663.72 314.93L663.19 314.98L662.56 315.03L661.93 315.07L661.31 315.1L660.68 315.12L660.05 315.13L659.42 315.14L658.79 315.13L658.16 315.12L657.53 315.09L656.9 315.05L656.27 315.01L655.64 314.95Z" clip-path="url(#p10204e9731)" style="fill:none;stroke:#4682b4;stroke-width:2.778" /></g><g><rect clip-path="url(#p10204e9731)" style="fill:#1a1a1a" x="573.153" y="266.153" width="377.694" height="0.694" /></g><g><rect clip-path="url(#p10204e9731)" style="fill:#1a1a1a" x="714.153" y="109.153" width="0.694" height="315.694" /></g><g><rect style="fill:#cccccc" x="572.132" y="108.132" width="1.736" height="316.736" /></g><g><rect style="fill:#cccccc" x="949.132" y="108.132" width="1.736" height="316.736" /></g><g><rect style="fill:#cccccc" x="572.132" y="423.132" width="378.736" height="1.736" /></g><g><rect style="fill:#cccccc" x="572.132" y="108.132" width="378.736" height="1.736" /></g><g><g transform="translate(633.88 79)"><text><tspan x="1 13 25 36 44 55 67 73 83 94 106 111 123 134 146" y="-1" style="font-size:18.333px">Courbe cubique </tspan><tspan x="152" y="-1" style="font-style:italic;font-size:18.333px">Y</tspan><tspan x="164" y="-8" style="font-size:12.833px">2</tspan><tspan x="176" y="-1" style="font-size:18.333px">=</tspan><tspan x="195" y="-1" style="font-style:italic;font-size:18.333px">X</tspan><tspan x="209" y="-8" style="font-size:12.833px">3</tspan><tspan x="221" y="-1" style="font-size:18.333px">−</tspan><tspan x="240" y="-1" style="font-style:italic;font-size:18.333px">X</tspan></text></g><text style="font-size:18.333px" x="677.16" y="102">(courbe elliptique)</text></g></g><g><path d="M1113 424L1427 424L1427 109L1113 109Z" style="fill:#ffffff" /></g><g><g><path d="M1136.64 346.04L1240.43 259.05L1238.99 133.58L1130.23 212.95" style="fill:#f2f2f2;opacity:0.5;stroke:#f2f2f2;stroke-linejoin:miter;stroke-width:1.389" /></g></g><g><g><path d="M1240.43 259.05L1406.97 307.45L1412.92 177.67L1238.99 133.58" style="fill:#e6e6e6;opacity:0.5;stroke:#e6e6e6;stroke-linejoin:miter;stroke-width:1.389" /></g></g><g><g><path d="M1136.64 346.04L1313.19 403.7L1406.97 307.45L1240.43 259.05" style="fill:#ececec;opacity:0.5;stroke:#ececec;stroke-linejoin:miter;stroke-width:1.389" /></g></g><g><g><path d="M1147.34 349.54L1250.56 261.99L1249.55 136.26" style="fill:none;stroke:#cccccc;stroke-width:1.389" /><path d="M1184.53 361.68L1285.75 272.22L1286.25 145.56" style="fill:none;stroke:#cccccc;stroke-width:1.389" /><path d="M1222.59 374.11L1321.69 282.67L1323.76 155.07" style="fill:none;stroke:#cccccc;stroke-width:1.389" /><path d="M1261.53 386.83L1358.39 293.33L1362.11 164.79" style="fill:none;stroke:#cccccc;stroke-width:1.389" /><path d="M1301.38 399.85L1395.89 304.23L1401.31 174.73" style="fill:none;stroke:#cccccc;stroke-width:1.389" /></g></g><g><g><path d="M1137.75 207.46L1143.8 340.05L1319.68 397.04" style="fill:none;stroke:#cccccc;stroke-width:1.389" /><path d="M1162.88 189.12L1167.72 320L1341.35 374.8" style="fill:none;stroke:#cccccc;stroke-width:1.389" /><path d="M1187.03 171.5L1190.75 300.69L1362.18 353.42" style="fill:none;stroke:#cccccc;stroke-width:1.389" /><path d="M1210.26 154.55L1212.94 282.09L1382.21 332.87" style="fill:none;stroke:#cccccc;stroke-width:1.389" /><path d="M1232.62 138.23L1234.33 264.16L1401.49 313.08" style="fill:none;stroke:#cccccc;stroke-width:1.389" /></g></g><g><g><path d="M1407.08 305.02L1240.4 256.69L1136.52 343.55" style="fill:none;stroke:#cccccc;stroke-width:1.389" /><path d="M1408.47 274.83L1240.07 227.46L1135.03 312.63" style="fill:none;stroke:#cccccc;stroke-width:1.389" /><path d="M1409.88 244.01L1239.73 197.65L1133.51 281.03" style="fill:none;stroke:#cccccc;stroke-width:1.389" /><path d="M1411.32 212.53L1239.38 167.23L1131.96 248.74" style="fill:none;stroke:#cccccc;stroke-width:1.389" /><path d="M1412.79 180.38L1239.02 136.2L1130.37 215.73" style="fill:none;stroke:#cccccc;stroke-width:1.389" /></g></g><g><g><path d="M1136.64 346.04L1313.19 403.7" style="fill:none;stroke:#cccccc;stroke-width:1.736;stroke-linecap:round" /></g><g><g><path d="M1274.3 262.15" clip-path="url(#p0a0b44ae8d)" style="fill:none;stroke:#cccccc;stroke-linecap:round;stroke-width:1.389" /></g><g><path d="M1148.24 348.77L1145.53 351.06" style="fill:none;stroke:#262626;stroke-width:1.736;stroke-linecap:round" /></g><g><text style="font-size:16.806px;text-anchor:middle" x="1136.46" y="386">−2</text></g></g><g><g><path d="M1274.3 262.15" clip-path="url(#p0a0b44ae8d)" style="fill:none;stroke:#cccccc;stroke-linecap:round;stroke-width:1.389" /></g><g><path d="M1185.42 360.9L1182.77 363.25" style="fill:none;stroke:#262626;stroke-width:1.736;stroke-linecap:round" /></g><g><text style="font-size:16.806px;text-anchor:middle" x="1174.4" y="399">−1</text></g></g><g><g><path d="M1274.3 262.15" clip-path="url(#p0a0b44ae8d)" style="fill:none;stroke:#cccccc;stroke-linecap:round;stroke-width:1.389" /></g><g><path d="M1223.45 373.31L1220.85 375.71" style="fill:none;stroke:#262626;stroke-width:1.736;stroke-linecap:round" /></g><g><text style="font-size:16.806px;text-anchor:middle" x="1212.19" y="411">0</text></g></g><g><g><path d="M1274.3 262.15" clip-path="url(#p0a0b44ae8d)" style="fill:none;stroke:#cccccc;stroke-linecap:round;stroke-width:1.389" /></g><g><path d="M1262.37 386.01L1259.83 388.47" style="fill:none;stroke:#262626;stroke-width:1.736;stroke-linecap:round" /></g><g><text style="font-size:16.806px;text-anchor:middle" x="1252.43" y="424">1</text></g></g><g><g><path d="M1274.3 262.15" clip-path="url(#p0a0b44ae8d)" style="fill:none;stroke:#cccccc;stroke-linecap:round;stroke-width:1.389" /></g><g><path d="M1302.21 399.01L1299.73 401.52" style="fill:none;stroke:#262626;stroke-width:1.736;stroke-linecap:round" /></g><g><text style="font-size:16.806px;text-anchor:middle" x="1291.33" y="438">2</text></g></g><g><g transform="translate(1192.09 429)"><text><tspan x="1" y="0" style="font-style:italic;font-size:18.333px">X</tspan></text></g></g></g><g><g><path d="M1406.97 307.45L1313.19 403.7" style="fill:none;stroke:#cccccc;stroke-width:1.736;stroke-linecap:round" /></g><g><g><path d="M1274.3 262.15" clip-path="url(#p0a0b44ae8d)" style="fill:none;stroke:#cccccc;stroke-linecap:round;stroke-width:1.389" /></g><g><path d="M1318.19 396.56L1322.64 398" style="fill:none;stroke:#262626;stroke-width:1.736;stroke-linecap:round" /></g><g><text style="font-size:16.806px;text-anchor:middle" x="1337.43" y="430">−2</text></g></g><g><g><path d="M1274.3 262.15" clip-path="url(#p0a0b44ae8d)" style="fill:none;stroke:#cccccc;stroke-linecap:round;stroke-width:1.389" /></g><g><path d="M1339.89 374.34L1344.28 375.72" style="fill:none;stroke:#262626;stroke-width:1.736;stroke-linecap:round" /></g><g><text style="font-size:16.806px;text-anchor:middle" x="1358.5" y="408">−1</text></g></g><g><g><path d="M1274.3 262.15" clip-path="url(#p0a0b44ae8d)" style="fill:none;stroke:#cccccc;stroke-linecap:round;stroke-width:1.389" /></g><g><path d="M1360.74 352.98L1365.07 354.31" style="fill:none;stroke:#262626;stroke-width:1.736;stroke-linecap:round" /></g><g><text style="font-size:16.806px;text-anchor:middle" x="1379.37" y="386">0</text></g></g><g><g><path d="M1274.3 262.15" clip-path="url(#p0a0b44ae8d)" style="fill:none;stroke:#cccccc;stroke-linecap:round;stroke-width:1.389" /></g><g><path d="M1380.79 332.44L1385.06 333.72" style="fill:none;stroke:#262626;stroke-width:1.736;stroke-linecap:round" /></g><g><text style="font-size:16.806px;text-anchor:middle" x="1400.33" y="365">1</text></g></g><g><g><path d="M1274.3 262.15" clip-path="url(#p0a0b44ae8d)" style="fill:none;stroke:#cccccc;stroke-linecap:round;stroke-width:1.389" /></g><g><path d="M1400.08 312.67L1404.3 313.91" style="fill:none;stroke:#262626;stroke-width:1.736;stroke-linecap:round" /></g><g><text style="font-size:16.806px;text-anchor:middle" x="1418.28" y="345">2</text></g></g><g><g transform="translate(1391.9 398)"><text><tspan x="1" y="0" style="font-style:italic;font-size:18.333px">Y</tspan></text></g></g></g><g><g><path d="M1406.97 307.45L1412.92 177.67" style="fill:none;stroke:#cccccc;stroke-width:1.736;stroke-linecap:round" /></g><g><g><path d="M1274.3 262.15" style="fill:none;stroke:#cccccc;stroke-linecap:round;stroke-width:1.389" /></g><g><path d="M1405.69 304.61L1409.89 305.83" style="fill:none;stroke:#262626;stroke-width:1.736;stroke-linecap:round" /></g><g><text style="font-size:16.806px;text-anchor:middle" x="1432.41" y="316">0</text></g></g><g><g><path d="M1274.3 262.15" style="fill:none;stroke:#cccccc;stroke-linecap:round;stroke-width:1.389" /></g><g><path d="M1407.05 274.43L1411.3 275.63" style="fill:none;stroke:#262626;stroke-width:1.736;stroke-linecap:round" /></g><g><text style="font-size:16.806px;text-anchor:middle" x="1434.28" y="286">2</text></g></g><g><g><path d="M1274.3 262.15" style="fill:none;stroke:#cccccc;stroke-linecap:round;stroke-width:1.389" /></g><g><path d="M1408.45 243.62L1412.74 244.79" style="fill:none;stroke:#262626;stroke-width:1.736;stroke-linecap:round" /></g><g><text style="font-size:16.806px;text-anchor:middle" x="1436.35" y="255">4</text></g></g><g><g><path d="M1274.3 262.15" style="fill:none;stroke:#cccccc;stroke-linecap:round;stroke-width:1.389" /></g><g><path d="M1409.87 212.15L1414.21 213.29" style="fill:none;stroke:#262626;stroke-width:1.736;stroke-linecap:round" /></g><g><text style="font-size:16.806px;text-anchor:middle" x="1437.4" y="224">6</text></g></g><g><g><path d="M1274.3 262.15" style="fill:none;stroke:#cccccc;stroke-linecap:round;stroke-width:1.389" /></g><g><path d="M1411.33 180.01L1415.72 181.12" style="fill:none;stroke:#262626;stroke-width:1.736;stroke-linecap:round" /></g><g><text style="font-size:16.806px;text-anchor:middle" x="1439.39" y="192">8</text></g></g><g><g transform="translate(1458 242)"><text><tspan x="1" y="0" style="font-style:italic;font-size:18.333px">Z</tspan></text></g></g></g><g><g><path d="M1268.07 210.32L1271.06 214L1274.04 217.47L1275.77 211.56L1277.49 205.44L1274.51 201.96L1271.52 198.28L1269.8 204.4Z" clip-path="url(#p0a0b44ae8d)" style="fill:#4a98c9;fill-opacity:0.6" /><path d="M1274.04 217.47L1277.03 220.75L1280.01 223.82L1281.74 217.9L1283.46 211.78L1280.48 208.71L1277.49 205.44L1275.77 211.56Z" clip-path="url(#p0a0b44ae8d)" style="fill:#5aa2cf;fill-opacity:0.6" /><path d="M1271.52 198.28L1274.51 201.96L1277.49 205.44L1279.21 199.11L1276.23 195.63L1273.24 191.95Z" clip-path="url(#p0a0b44ae8d)" style="fill:#3989c1;fill-opacity:0.6" /><path d="M1264.62 221.54L1267.61 225.22L1270.6 228.7L1272.32 223.19L1274.04 217.47L1271.06 214L1268.07 210.32L1266.35 216.03Z" clip-path="url(#p0a0b44ae8d)" style="fill:#64a9d3;fill-opacity:0.6" /><path d="M1277.49 205.44L1280.48 208.71L1283.46 211.78L1285.19 205.45L1282.2 202.38L1279.21 199.11Z" clip-path="url(#p0a0b44ae8d)" style="fill:#4594c7;fill-opacity:0.6" /><path d="M1270.6 228.7L1273.58 231.97L1276.57 235.04L1278.29 229.53L1280.01 223.82L1277.03 220.75L1274.04 217.47L1272.32 223.19Z" clip-path="url(#p0a0b44ae8d)" style="fill:#74b3d8;fill-opacity:0.6" /><path d="M1262.1 202.34L1265.09 206.43L1268.07 210.32L1269.8 204.4L1271.52 198.28L1268.53 194.39L1265.55 190.29L1263.82 196.42Z" clip-path="url(#p0a0b44ae8d)" style="fill:#3c8cc3;fill-opacity:0.6" /><path d="M1265.55 190.29L1268.53 194.39L1271.52 198.28L1273.24 191.95L1270.26 188.06L1267.27 183.96Z" clip-path="url(#p0a0b44ae8d)" style="fill:#2c7cba;fill-opacity:0.6" /><path d="M1258.65 213.56L1261.64 217.65L1264.62 221.54L1266.35 216.03L1268.07 210.32L1265.09 206.43L1262.1 202.34L1260.37 208.05Z" clip-path="url(#p0a0b44ae8d)" style="fill:#539ecd;fill-opacity:0.6" /><path d="M1280.01 223.82L1283 226.68L1285.99 229.35L1287.72 223.43L1289.44 217.3L1286.45 214.64L1283.46 211.78L1281.74 217.9Z" clip-path="url(#p0a0b44ae8d)" style="fill:#65aad4;fill-opacity:0.6" /><path d="M1283.46 211.78L1286.45 214.64L1289.44 217.3L1291.17 210.97L1288.18 208.31L1285.19 205.45Z" clip-path="url(#p0a0b44ae8d)" style="fill:#519ccc;fill-opacity:0.6" /><path d="M1276.57 235.04L1279.56 237.91L1282.54 240.58L1284.27 235.06L1285.99 229.35L1283 226.68L1280.01 223.82L1278.29 229.53Z" clip-path="url(#p0a0b44ae8d)" style="fill:#82bbdb;fill-opacity:0.6" /><path d="M1261.17 231.95L1264.16 235.64L1267.14 239.11L1268.87 234.01L1270.6 228.7L1267.61 225.22L1264.62 221.54L1262.9 226.85Z" clip-path="url(#p0a0b44ae8d)" style="fill:#7db8da;fill-opacity:0.6" /><path d="M1267.14 239.11L1270.13 242.39L1273.12 245.47L1274.84 240.35L1276.57 235.04L1273.58 231.97L1270.6 228.7L1268.87 234.01Z" clip-path="url(#p0a0b44ae8d)" style="fill:#8fc2de;fill-opacity:0.6" /><path d="M1255.19 223.97L1258.18 228.07L1261.17 231.95L1262.9 226.85L1264.62 221.54L1261.64 217.65L1258.65 213.56L1256.92 218.87Z" clip-path="url(#p0a0b44ae8d)" style="fill:#69add5;fill-opacity:0.6" /><path d="M1256.11 193.52L1259.11 198.03L1262.1 202.34L1263.82 196.42L1265.55 190.29L1262.56 185.99L1259.56 181.47L1257.84 187.6Z" clip-path="url(#p0a0b44ae8d)" style="fill:#2d7dbb;fill-opacity:0.6" /><path d="M1259.56 181.47L1262.56 185.99L1265.55 190.29L1267.27 183.96L1264.28 179.65L1261.29 175.14Z" clip-path="url(#p0a0b44ae8d)" style="fill:#1d6cb1;fill-opacity:0.6" /><path d="M1252.66 204.75L1255.65 209.26L1258.65 213.56L1260.37 208.05L1262.1 202.34L1259.11 198.03L1256.11 193.52L1254.39 199.24Z" clip-path="url(#p0a0b44ae8d)" style="fill:#4090c5;fill-opacity:0.6" /><path d="M1273.12 245.47L1276.11 248.34L1279.1 251.01L1280.82 245.9L1282.54 240.58L1279.56 237.91L1276.57 235.04L1274.84 240.35Z" clip-path="url(#p0a0b44ae8d)" style="fill:#9dcae1;fill-opacity:0.6" /><path d="M1285.99 229.35L1288.98 231.81L1291.98 234.07L1293.7 228.15L1295.43 222.02L1292.43 219.76L1289.44 217.3L1287.72 223.43Z" clip-path="url(#p0a0b44ae8d)" style="fill:#6fb0d7;fill-opacity:0.6" /><path d="M1289.44 217.3L1292.43 219.76L1295.43 222.02L1297.16 215.68L1294.16 213.43L1291.17 210.97Z" clip-path="url(#p0a0b44ae8d)" style="fill:#5ba3d0;fill-opacity:0.6" /><path d="M1282.54 240.58L1285.54 243.05L1288.53 245.31L1290.25 239.79L1291.98 234.07L1288.98 231.81L1285.99 229.35L1284.27 235.06Z" clip-path="url(#p0a0b44ae8d)" style="fill:#8fc2de;fill-opacity:0.6" /><path d="M1257.71 241.57L1260.7 245.25L1263.69 248.73L1265.42 244.02L1267.14 239.11L1264.16 235.64L1261.17 231.95L1259.44 236.86Z" clip-path="url(#p0a0b44ae8d)" style="fill:#95c5df;fill-opacity:0.6" /><path d="M1263.69 248.73L1266.68 252.01L1269.66 255.09L1271.39 250.38L1273.12 245.47L1270.13 242.39L1267.14 239.11L1265.42 244.02Z" clip-path="url(#p0a0b44ae8d)" style="fill:#a6cee4;fill-opacity:0.6" /><path d="M1249.19 215.17L1252.19 219.68L1255.19 223.97L1256.92 218.87L1258.65 213.56L1255.65 209.26L1252.66 204.75L1250.93 210.06Z" clip-path="url(#p0a0b44ae8d)" style="fill:#56a0ce;fill-opacity:0.6" /><path d="M1251.72 233.59L1254.71 237.68L1257.71 241.57L1259.44 236.86L1261.17 231.95L1258.18 228.07L1255.19 223.97L1253.45 228.88Z" clip-path="url(#p0a0b44ae8d)" style="fill:#82bbdb;fill-opacity:0.6" /><path d="M1279.1 251.01L1282.09 253.48L1285.08 255.75L1286.81 250.63L1288.53 245.31L1285.54 243.05L1282.54 240.58L1280.82 245.9Z" clip-path="url(#p0a0b44ae8d)" style="fill:#a8cee4;fill-opacity:0.6" /><path d="M1250.11 183.88L1253.12 188.81L1256.11 193.52L1257.84 187.6L1259.56 181.47L1256.57 176.75L1253.57 171.81L1251.84 177.95Z" clip-path="url(#p0a0b44ae8d)" style="fill:#1c6bb0;fill-opacity:0.6" /><path d="M1269.66 255.09L1272.65 257.97L1275.65 260.64L1277.37 255.93L1279.1 251.01L1276.11 248.34L1273.12 245.47L1271.39 250.38Z" clip-path="url(#p0a0b44ae8d)" style="fill:#b2d2e8;fill-opacity:0.6" /><path d="M1253.57 171.81L1256.57 176.75L1259.56 181.47L1261.29 175.14L1258.29 170.41L1255.29 165.47Z" clip-path="url(#p0a0b44ae8d)" style="fill:#115ca5;fill-opacity:0.6" /><path d="M1246.65 195.11L1249.66 200.04L1252.66 204.75L1254.39 199.24L1256.11 193.52L1253.12 188.81L1250.11 183.88L1248.39 189.6Z" clip-path="url(#p0a0b44ae8d)" style="fill:#2f7fbc;fill-opacity:0.6" /><path d="M1291.98 234.07L1294.98 236.13L1297.98 237.99L1299.71 232.06L1301.44 225.92L1298.43 224.07L1295.43 222.02L1293.7 228.15Z" clip-path="url(#p0a0b44ae8d)" style="fill:#79b5d9;fill-opacity:0.6" /><path d="M1245.72 224.78L1248.72 229.29L1251.72 233.59L1253.45 228.88L1255.19 223.97L1252.19 219.68L1249.19 215.17L1247.46 220.08Z" clip-path="url(#p0a0b44ae8d)" style="fill:#6aaed6;fill-opacity:0.6" /><path d="M1295.43 222.02L1298.43 224.07L1301.44 225.92L1303.17 219.58L1300.16 217.73L1297.16 215.68Z" clip-path="url(#p0a0b44ae8d)" style="fill:#63a8d3;fill-opacity:0.6" /><path d="M1288.53 245.31L1291.53 247.38L1294.53 249.24L1296.26 243.71L1297.98 237.99L1294.98 236.13L1291.98 234.07L1290.25 239.79Z" clip-path="url(#p0a0b44ae8d)" style="fill:#97c6df;fill-opacity:0.6" /><path d="M1243.18 205.53L1246.19 210.46L1249.19 215.17L1250.93 210.06L1252.66 204.75L1249.66 200.04L1246.65 195.11L1244.92 200.43Z" clip-path="url(#p0a0b44ae8d)" style="fill:#4191c6;fill-opacity:0.6" /><path d="M1254.23 250.39L1257.23 254.07L1260.22 257.56L1261.95 253.25L1263.69 248.73L1260.7 245.25L1257.71 241.57L1255.97 246.08Z" clip-path="url(#p0a0b44ae8d)" style="fill:#a9cfe5;fill-opacity:0.6" /><path d="M1275.65 260.64L1278.64 263.12L1281.63 265.4L1283.36 260.67L1285.08 255.75L1282.09 253.48L1279.1 251.01L1277.37 255.93Z" clip-path="url(#p0a0b44ae8d)" style="fill:#bcd7eb;fill-opacity:0.6" /><path d="M1260.22 257.56L1263.21 260.84L1266.2 263.93L1267.94 259.61L1269.66 255.09L1266.68 252.01L1263.69 248.73L1261.95 253.25Z" clip-path="url(#p0a0b44ae8d)" style="fill:#b7d4ea;fill-opacity:0.6" /><path d="M1248.24 242.4L1251.23 246.49L1254.23 250.39L1255.97 246.08L1257.71 241.57L1254.71 237.68L1251.72 233.59L1249.98 238.09Z" clip-path="url(#p0a0b44ae8d)" style="fill:#97c6df;fill-opacity:0.6" /><path d="M1285.08 255.75L1288.08 257.82L1291.08 259.69L1292.81 254.57L1294.53 249.24L1291.53 247.38L1288.53 245.31L1286.81 250.63Z" clip-path="url(#p0a0b44ae8d)" style="fill:#afd1e7;fill-opacity:0.6" /><path d="M1266.2 263.93L1269.2 266.81L1272.19 269.49L1273.92 265.17L1275.65 260.64L1272.65 257.97L1269.66 255.09L1267.94 259.61Z" clip-path="url(#p0a0b44ae8d)" style="fill:#c3daee;fill-opacity:0.6" /><path d="M1244.1 173.38L1247.11 178.73L1250.11 183.88L1251.84 177.95L1253.57 171.81L1250.56 166.66L1247.55 161.3L1245.83 167.44Z" clip-path="url(#p0a0b44ae8d)" style="fill:#0e59a2;fill-opacity:0.6" /><path d="M1247.55 161.3L1250.56 166.66L1253.57 171.81L1255.29 165.47L1252.29 160.32L1249.28 154.95Z" clip-path="url(#p0a0b44ae8d)" style="fill:#084a91;fill-opacity:0.6" /><path d="M1239.7 215.15L1242.71 220.07L1245.72 224.78L1247.46 220.08L1249.19 215.17L1246.19 210.46L1243.18 205.53L1241.44 210.44Z" clip-path="url(#p0a0b44ae8d)" style="fill:#549fcd;fill-opacity:0.6" /><path d="M1240.63 184.63L1243.64 189.98L1246.65 195.11L1248.39 189.6L1250.11 183.88L1247.11 178.73L1244.1 173.38L1242.36 179.11Z" clip-path="url(#p0a0b44ae8d)" style="fill:#1d6cb1;fill-opacity:0.6" /><path d="M1242.23 233.59L1245.23 238.1L1248.24 242.4L1249.98 238.09L1251.72 233.59L1248.72 229.29L1245.72 224.78L1243.97 229.29Z" clip-path="url(#p0a0b44ae8d)" style="fill:#81badb;fill-opacity:0.6" /><path d="M1281.63 265.4L1284.63 267.47L1287.64 269.35L1289.36 264.62L1291.08 259.69L1288.08 257.82L1285.08 255.75L1283.36 260.67Z" clip-path="url(#p0a0b44ae8d)" style="fill:#c2d9ee;fill-opacity:0.6" /><path d="M1297.98 237.99L1300.99 239.64L1304 241.1L1305.73 235.16L1307.46 229.02L1304.45 227.57L1301.44 225.92L1299.71 232.06Z" clip-path="url(#p0a0b44ae8d)" style="fill:#7fb9da;fill-opacity:0.6" /><path d="M1237.15 195.05L1240.17 200.4L1243.18 205.53L1244.92 200.43L1246.65 195.11L1243.64 189.98L1240.63 184.63L1238.89 189.94Z" clip-path="url(#p0a0b44ae8d)" style="fill:#2f7fbc;fill-opacity:0.6" /><path d="M1272.19 269.49L1275.18 271.97L1278.18 274.25L1279.91 269.92L1281.63 265.4L1278.64 263.12L1275.65 260.64L1273.92 265.17Z" clip-path="url(#p0a0b44ae8d)" style="fill:#caddf0;fill-opacity:0.6" /><path d="M1301.44 225.92L1304.45 227.57L1307.46 229.02L1309.2 222.67L1306.18 221.23L1303.17 219.58Z" clip-path="url(#p0a0b44ae8d)" style="fill:#68acd5;fill-opacity:0.6" /><path d="M1294.53 249.24L1297.54 250.91L1300.55 252.37L1302.28 246.83L1304 241.1L1300.99 239.64L1297.98 237.99L1296.26 243.71Z" clip-path="url(#p0a0b44ae8d)" style="fill:#9dcae1;fill-opacity:0.6" /><path d="M1250.74 258.42L1253.74 262.11L1256.74 265.6L1258.48 261.68L1260.22 257.56L1257.23 254.07L1254.23 250.39L1252.49 254.5Z" clip-path="url(#p0a0b44ae8d)" style="fill:#b8d5ea;fill-opacity:0.6" /><path d="M1256.74 265.6L1259.74 268.89L1262.73 271.97L1264.47 268.05L1266.2 263.93L1263.21 260.84L1260.22 257.56L1258.48 261.68Z" clip-path="url(#p0a0b44ae8d)" style="fill:#c6dbef;fill-opacity:0.6" /><path d="M1291.08 259.69L1294.09 261.37L1297.1 262.84L1298.83 257.7L1300.55 252.37L1297.54 250.91L1294.53 249.24L1292.81 254.57Z" clip-path="url(#p0a0b44ae8d)" style="fill:#b4d3e9;fill-opacity:0.6" /><path d="M1244.74 250.42L1247.74 254.52L1250.74 258.42L1252.49 254.5L1254.23 250.39L1251.23 246.49L1248.24 242.4L1246.49 246.51Z" clip-path="url(#p0a0b44ae8d)" style="fill:#a8cee4;fill-opacity:0.6" /><path d="M1236.2 223.95L1239.22 228.88L1242.23 233.59L1243.97 229.29L1245.72 224.78L1242.71 220.07L1239.7 215.15L1237.95 219.65Z" clip-path="url(#p0a0b44ae8d)" style="fill:#66abd4;fill-opacity:0.6" /><path d="M1262.73 271.97L1265.73 274.86L1268.72 277.55L1270.46 273.62L1272.19 269.49L1269.2 266.81L1266.2 263.93L1264.47 268.05Z" clip-path="url(#p0a0b44ae8d)" style="fill:#cde0f1;fill-opacity:0.6" /><path d="M1233.66 204.67L1236.68 210.01L1239.7 215.15L1241.44 210.44L1243.18 205.53L1240.17 200.4L1237.15 195.05L1235.41 199.96Z" clip-path="url(#p0a0b44ae8d)" style="fill:#3e8ec4;fill-opacity:0.6" /><path d="M1238.05 162.02L1241.08 167.81L1244.1 173.38L1245.83 167.44L1247.55 161.3L1244.54 155.72L1241.52 149.93L1239.79 156.08Z" clip-path="url(#p0a0b44ae8d)" style="fill:#08458a;fill-opacity:0.6" /><path d="M1278.18 274.25L1281.18 276.34L1284.19 278.22L1285.91 273.89L1287.64 269.35L1284.63 267.47L1281.63 265.4L1279.91 269.92Z" clip-path="url(#p0a0b44ae8d)" style="fill:#cee0f2;fill-opacity:0.6" /><path d="M1241.52 149.93L1244.54 155.72L1247.55 161.3L1249.28 154.95L1246.26 149.36L1243.24 143.56Z" clip-path="url(#p0a0b44ae8d)" style="fill:#083573;fill-opacity:0.6" /><path d="M1234.58 173.28L1237.61 179.06L1240.63 184.63L1242.36 179.11L1244.1 173.38L1241.08 167.81L1238.05 162.02L1236.32 167.76Z" clip-path="url(#p0a0b44ae8d)" style="fill:#0e58a2;fill-opacity:0.6" /><path d="M1238.72 241.61L1241.73 246.12L1244.74 250.42L1246.49 246.51L1248.24 242.4L1245.23 238.1L1242.23 233.59L1240.48 237.7Z" clip-path="url(#p0a0b44ae8d)" style="fill:#94c4df;fill-opacity:0.6" /><path d="M1287.64 269.35L1290.64 271.03L1293.65 272.51L1295.38 267.77L1297.1 262.84L1294.09 261.37L1291.08 259.69L1289.36 264.62Z" clip-path="url(#p0a0b44ae8d)" style="fill:#c7dbef;fill-opacity:0.6" /><path d="M1268.72 277.55L1271.72 280.04L1274.72 282.33L1276.45 278.39L1278.18 274.25L1275.18 271.97L1272.19 269.49L1270.46 273.62Z" clip-path="url(#p0a0b44ae8d)" style="fill:#d3e3f3;fill-opacity:0.6" /><path d="M1231.1 183.72L1234.13 189.49L1237.15 195.05L1238.89 189.94L1240.63 184.63L1237.61 179.06L1234.58 173.28L1232.84 178.6Z" clip-path="url(#p0a0b44ae8d)" style="fill:#1c6ab0;fill-opacity:0.6" /><path d="M1304 241.1L1307.02 242.35L1310.05 243.4L1311.78 237.46L1313.52 231.31L1310.49 230.26L1307.46 229.02L1305.73 235.16Z" clip-path="url(#p0a0b44ae8d)" style="fill:#82bbdb;fill-opacity:0.6" /><path d="M1307.46 229.02L1310.49 230.26L1313.52 231.31L1315.25 224.95L1312.22 223.91L1309.2 222.67Z" clip-path="url(#p0a0b44ae8d)" style="fill:#6aaed6;fill-opacity:0.6" /><path d="M1300.55 252.37L1303.57 253.63L1306.59 254.69L1308.32 249.15L1310.05 243.4L1307.02 242.35L1304 241.1L1302.28 246.83Z" clip-path="url(#p0a0b44ae8d)" style="fill:#a1cbe2;fill-opacity:0.6" /><path d="M1230.15 213.48L1233.18 218.82L1236.2 223.95L1237.95 219.65L1239.7 215.15L1236.68 210.01L1233.66 204.67L1231.91 209.17Z" clip-path="url(#p0a0b44ae8d)" style="fill:#4f9bcb;fill-opacity:0.6" /><path d="M1247.24 265.66L1250.24 269.36L1253.25 272.85L1254.99 269.32L1256.74 265.6L1253.74 262.11L1250.74 258.42L1248.99 262.14Z" clip-path="url(#p0a0b44ae8d)" style="fill:#c6dbef;fill-opacity:0.6" /><path d="M1232.68 231.96L1235.7 236.89L1238.72 241.61L1240.48 237.7L1242.23 233.59L1239.22 228.88L1236.2 223.95L1234.44 228.06Z" clip-path="url(#p0a0b44ae8d)" style="fill:#79b5d9;fill-opacity:0.6" /><path d="M1253.25 272.85L1256.25 276.15L1259.25 279.24L1260.99 275.71L1262.73 271.97L1259.74 268.89L1256.74 265.6L1254.99 269.32Z" clip-path="url(#p0a0b44ae8d)" style="fill:#cee0f2;fill-opacity:0.6" /><path d="M1297.1 262.84L1300.12 264.11L1303.14 265.18L1304.87 260.04L1306.59 254.69L1303.57 253.63L1300.55 252.37L1298.83 257.7Z" clip-path="url(#p0a0b44ae8d)" style="fill:#b7d4ea;fill-opacity:0.6" /><path d="M1241.22 257.65L1244.23 261.76L1247.24 265.66L1248.99 262.14L1250.74 258.42L1247.74 254.52L1244.74 250.42L1242.98 254.14Z" clip-path="url(#p0a0b44ae8d)" style="fill:#b5d4e9;fill-opacity:0.6" /><path d="M1227.59 193.34L1230.63 199.11L1233.66 204.67L1235.41 199.96L1237.15 195.05L1234.13 189.49L1231.1 183.72L1229.35 188.63Z" clip-path="url(#p0a0b44ae8d)" style="fill:#2a7ab9;fill-opacity:0.6" /><path d="M1284.19 278.22L1287.19 279.91L1290.21 281.39L1291.93 277.05L1293.65 272.51L1290.64 271.03L1287.64 269.35L1285.91 273.89Z" clip-path="url(#p0a0b44ae8d)" style="fill:#d1e2f3;fill-opacity:0.6" /><path d="M1274.72 282.33L1277.72 284.42L1280.73 286.31L1282.46 282.36L1284.19 278.22L1281.18 276.34L1278.18 274.25L1276.45 278.39Z" clip-path="url(#p0a0b44ae8d)" style="fill:#d7e6f5;fill-opacity:0.6" /><path d="M1259.25 279.24L1262.25 282.13L1265.25 284.83L1266.99 281.29L1268.72 277.55L1265.73 274.86L1262.73 271.97L1260.99 275.71Z" clip-path="url(#p0a0b44ae8d)" style="fill:#d5e5f4;fill-opacity:0.6" /><path d="M1235.19 248.83L1238.21 253.35L1241.22 257.65L1242.98 254.14L1244.74 250.42L1241.73 246.12L1238.72 241.61L1236.96 245.32Z" clip-path="url(#p0a0b44ae8d)" style="fill:#a3cce3;fill-opacity:0.6" /><path d="M1293.65 272.51L1296.67 273.79L1299.7 274.87L1301.42 270.12L1303.14 265.18L1300.12 264.11L1297.1 262.84L1295.38 267.77Z" clip-path="url(#p0a0b44ae8d)" style="fill:#c9ddf0;fill-opacity:0.6" /><path d="M1265.25 284.83L1268.25 287.32L1271.25 289.62L1272.99 286.07L1274.72 282.33L1271.72 280.04L1268.72 277.55L1266.99 281.29Z" clip-path="url(#p0a0b44ae8d)" style="fill:#dbe9f6;fill-opacity:0.6" /><path d="M1226.62 221.48L1229.65 226.83L1232.68 231.96L1234.44 228.06L1236.2 223.95L1233.18 218.82L1230.15 213.48L1228.39 217.58Z" clip-path="url(#p0a0b44ae8d)" style="fill:#5fa6d1;fill-opacity:0.6" /><path d="M1224.07 202.15L1227.11 207.92L1230.15 213.48L1231.91 209.17L1233.66 204.67L1230.63 199.11L1227.59 193.34L1225.83 197.84Z" clip-path="url(#p0a0b44ae8d)" style="fill:#3888c1;fill-opacity:0.6" /><path d="M1310.05 243.4L1313.09 244.26L1316.13 244.9L1317.86 238.94L1319.6 232.78L1316.56 232.14L1313.52 231.31L1311.78 237.46Z" clip-path="url(#p0a0b44ae8d)" style="fill:#84bcdb;fill-opacity:0.6" /><path d="M1313.52 231.31L1316.56 232.14L1319.6 232.78L1321.34 226.41L1318.29 225.78L1315.25 224.95Z" clip-path="url(#p0a0b44ae8d)" style="fill:#6caed6;fill-opacity:0.6" /><path d="M1306.59 254.69L1309.63 255.55L1312.67 256.21L1314.4 250.66L1316.13 244.9L1313.09 244.26L1310.05 243.4L1308.32 249.15Z" clip-path="url(#p0a0b44ae8d)" style="fill:#a1cbe2;fill-opacity:0.6" /><path d="M1229.14 239.18L1232.17 244.11L1235.19 248.83L1236.96 245.32L1238.72 241.61L1235.7 236.89L1232.68 231.96L1230.91 235.67Z" clip-path="url(#p0a0b44ae8d)" style="fill:#89bedc;fill-opacity:0.6" /><path d="M1280.73 286.31L1283.74 288L1286.75 289.49L1288.48 285.54L1290.21 281.39L1287.19 279.91L1284.19 278.22L1282.46 282.36Z" clip-path="url(#p0a0b44ae8d)" style="fill:#dae8f6;fill-opacity:0.6" /><path d="M1290.21 281.39L1293.22 282.68L1296.25 283.77L1297.97 279.42L1299.7 274.87L1296.67 273.79L1293.65 272.51L1291.93 277.05Z" clip-path="url(#p0a0b44ae8d)" style="fill:#d3e3f3;fill-opacity:0.6" /><path d="M1243.71 272.12L1246.72 275.82L1249.73 279.33L1251.49 276.19L1253.25 272.85L1250.24 269.36L1247.24 265.66L1245.48 268.99Z" clip-path="url(#p0a0b44ae8d)" style="fill:#ccdff1;fill-opacity:0.6" /><path d="M1249.73 279.33L1252.74 282.63L1255.74 285.73L1257.5 282.58L1259.25 279.24L1256.25 276.15L1253.25 272.85L1251.49 276.19Z" clip-path="url(#p0a0b44ae8d)" style="fill:#d4e4f4;fill-opacity:0.6" /><path d="M1271.25 289.62L1274.26 291.71L1277.27 293.61L1279 290.06L1280.73 286.31L1277.72 284.42L1274.72 282.33L1272.99 286.07Z" clip-path="url(#p0a0b44ae8d)" style="fill:#dfebf7;fill-opacity:0.6" /><path d="M1303.14 265.18L1306.17 266.05L1309.21 266.72L1310.94 261.57L1312.67 256.21L1309.63 255.55L1306.59 254.69L1304.87 260.04Z" clip-path="url(#p0a0b44ae8d)" style="fill:#b7d4ea;fill-opacity:0.6" /><path d="M1237.69 264.1L1240.7 268.21L1243.71 272.12L1245.48 268.99L1247.24 265.66L1244.23 261.76L1241.22 257.65L1239.46 260.98Z" clip-path="url(#p0a0b44ae8d)" style="fill:#bfd8ed;fill-opacity:0.6" /><path d="M1255.74 285.73L1258.75 288.63L1261.75 291.33L1263.5 288.17L1265.25 284.83L1262.25 282.13L1259.25 279.24L1257.5 282.58Z" clip-path="url(#p0a0b44ae8d)" style="fill:#dbe9f6;fill-opacity:0.6" /><path d="M1220.53 210.15L1223.58 215.92L1226.62 221.48L1228.39 217.58L1230.15 213.48L1227.11 207.92L1224.07 202.15L1222.3 206.25Z" clip-path="url(#p0a0b44ae8d)" style="fill:#4594c7;fill-opacity:0.6" /><path d="M1231.64 255.26L1234.67 259.79L1237.69 264.1L1239.46 260.98L1241.22 257.65L1238.21 253.35L1235.19 248.83L1233.42 252.15Z" clip-path="url(#p0a0b44ae8d)" style="fill:#add0e6;fill-opacity:0.6" /><path d="M1299.7 274.87L1302.73 275.75L1305.76 276.43L1307.49 271.67L1309.21 266.72L1306.17 266.05L1303.14 265.18L1301.42 270.12Z" clip-path="url(#p0a0b44ae8d)" style="fill:#c9ddf0;fill-opacity:0.6" /><path d="M1223.06 228.69L1226.11 234.04L1229.14 239.18L1230.91 235.67L1232.68 231.96L1229.65 226.83L1226.62 221.48L1224.84 225.18Z" clip-path="url(#p0a0b44ae8d)" style="fill:#6caed6;fill-opacity:0.6" /><path d="M1261.75 291.33L1264.76 293.83L1267.77 296.13L1269.51 292.97L1271.25 289.62L1268.25 287.32L1265.25 284.83L1263.5 288.17Z" clip-path="url(#p0a0b44ae8d)" style="fill:#e1edf8;fill-opacity:0.6" /><path d="M1286.75 289.49L1289.77 290.79L1292.8 291.89L1294.52 287.92L1296.25 283.77L1293.22 282.68L1290.21 281.39L1288.48 285.54Z" clip-path="url(#p0a0b44ae8d)" style="fill:#dce9f6;fill-opacity:0.6" /><path d="M1277.27 293.61L1280.28 295.31L1283.3 296.81L1285.03 293.25L1286.75 289.49L1283.74 288L1280.73 286.31L1279 290.06Z" clip-path="url(#p0a0b44ae8d)" style="fill:#e2edf8;fill-opacity:0.6" /><path d="M1225.58 245.6L1228.61 250.54L1231.64 255.26L1233.42 252.15L1235.19 248.83L1232.17 244.11L1229.14 239.18L1227.36 242.49Z" clip-path="url(#p0a0b44ae8d)" style="fill:#97c6df;fill-opacity:0.6" /><path d="M1316.13 244.9L1319.18 245.35L1322.24 245.59L1323.98 239.62L1325.72 233.44L1322.66 233.21L1319.6 232.78L1317.86 238.94Z" clip-path="url(#p0a0b44ae8d)" style="fill:#82bbdb;fill-opacity:0.6" /><path d="M1319.6 232.78L1322.66 233.21L1325.72 233.44L1327.47 227.06L1324.4 226.84L1321.34 226.41Z" clip-path="url(#p0a0b44ae8d)" style="fill:#69add5;fill-opacity:0.6" /><path d="M1296.25 283.77L1299.28 284.66L1302.32 285.35L1304.04 280.98L1305.76 276.43L1302.73 275.75L1299.7 274.87L1297.97 279.42Z" clip-path="url(#p0a0b44ae8d)" style="fill:#d3e4f3;fill-opacity:0.6" /><path d="M1312.67 256.21L1315.72 256.67L1318.78 256.92L1320.51 251.36L1322.24 245.59L1319.18 245.35L1316.13 244.9L1314.4 250.66Z" clip-path="url(#p0a0b44ae8d)" style="fill:#a0cbe2;fill-opacity:0.6" /><path d="M1267.77 296.13L1270.78 298.24L1273.79 300.14L1275.53 296.97L1277.27 293.61L1274.26 291.71L1271.25 289.62L1269.51 292.97Z" clip-path="url(#p0a0b44ae8d)" style="fill:#e6f0f9;fill-opacity:0.6" /><path d="M1240.17 277.79L1243.18 281.51L1246.2 285.02L1247.97 282.27L1249.73 279.33L1246.72 275.82L1243.71 272.12L1241.94 275.05Z" clip-path="url(#p0a0b44ae8d)" style="fill:#d1e2f3;fill-opacity:0.6" /><path d="M1309.21 266.72L1312.26 267.19L1315.32 267.45L1317.05 262.29L1318.78 256.92L1315.72 256.67L1312.67 256.21L1310.94 261.57Z" clip-path="url(#p0a0b44ae8d)" style="fill:#b5d4e9;fill-opacity:0.6" /><path d="M1246.2 285.02L1249.21 288.32L1252.22 291.43L1253.99 288.68L1255.74 285.73L1252.74 282.63L1249.73 279.33L1247.97 282.27Z" clip-path="url(#p0a0b44ae8d)" style="fill:#d9e8f5;fill-opacity:0.6" /><path d="M1216.96 217.35L1220.01 223.12L1223.06 228.69L1224.84 225.18L1226.62 221.48L1223.58 215.92L1220.53 210.15L1218.75 213.85Z" clip-path="url(#p0a0b44ae8d)" style="fill:#529dcc;fill-opacity:0.6" /><path d="M1234.12 269.76L1237.15 273.88L1240.17 277.79L1241.94 275.05L1243.71 272.12L1240.7 268.21L1237.69 264.1L1235.91 267.03Z" clip-path="url(#p0a0b44ae8d)" style="fill:#c7dcef;fill-opacity:0.6" /><path d="M1252.22 291.43L1255.23 294.34L1258.24 297.05L1260 294.29L1261.75 291.33L1258.75 288.63L1255.74 285.73L1253.99 288.68Z" clip-path="url(#p0a0b44ae8d)" style="fill:#e0ecf8;fill-opacity:0.6" /><path d="M1219.48 235.1L1222.53 240.45L1225.58 245.6L1227.36 242.49L1229.14 239.18L1226.11 234.04L1223.06 228.69L1221.28 231.99Z" clip-path="url(#p0a0b44ae8d)" style="fill:#7ab6d9;fill-opacity:0.6" /><path d="M1283.3 296.81L1286.32 298.12L1289.35 299.22L1291.07 295.65L1292.8 291.89L1289.77 290.79L1286.75 289.49L1285.03 293.25Z" clip-path="url(#p0a0b44ae8d)" style="fill:#e4eff9;fill-opacity:0.6" /><path d="M1305.76 276.43L1308.81 276.91L1311.87 277.18L1313.59 272.42L1315.32 267.45L1312.26 267.19L1309.21 266.72L1307.49 271.67Z" clip-path="url(#p0a0b44ae8d)" style="fill:#c8dcf0;fill-opacity:0.6" /><path d="M1228.06 260.91L1231.1 265.44L1234.12 269.76L1235.91 267.03L1237.69 264.1L1234.67 259.79L1231.64 255.26L1229.86 258.19Z" clip-path="url(#p0a0b44ae8d)" style="fill:#b5d4e9;fill-opacity:0.6" /><path d="M1292.8 291.89L1295.83 292.78L1298.87 293.48L1300.59 289.51L1302.32 285.35L1299.28 284.66L1296.25 283.77L1294.52 287.92Z" clip-path="url(#p0a0b44ae8d)" style="fill:#dceaf6;fill-opacity:0.6" /><path d="M1273.79 300.14L1276.81 301.85L1279.83 303.36L1281.56 300.18L1283.3 296.81L1280.28 295.31L1277.27 293.61L1275.53 296.97Z" clip-path="url(#p0a0b44ae8d)" style="fill:#e9f2fa;fill-opacity:0.6" /><path d="M1258.24 297.05L1261.26 299.56L1264.27 301.87L1266.02 299.1L1267.77 296.13L1264.76 293.83L1261.75 291.33L1260 294.29Z" clip-path="url(#p0a0b44ae8d)" style="fill:#e7f0fa;fill-opacity:0.6" /><path d="M1221.98 251.23L1225.03 256.17L1228.06 260.91L1229.86 258.19L1231.64 255.26L1228.61 250.54L1225.58 245.6L1223.78 248.51Z" clip-path="url(#p0a0b44ae8d)" style="fill:#a1cbe2;fill-opacity:0.6" /><path d="M1302.32 285.35L1305.36 285.83L1308.42 286.12L1310.14 281.75L1311.87 277.18L1308.81 276.91L1305.76 276.43L1304.04 280.98Z" clip-path="url(#p0a0b44ae8d)" style="fill:#d2e3f3;fill-opacity:0.6" /><path d="M1322.24 245.59L1325.32 245.63L1328.4 245.46L1330.14 239.48L1331.89 233.29L1328.8 233.47L1325.72 233.44L1323.98 239.62Z" clip-path="url(#p0a0b44ae8d)" style="fill:#7cb7da;fill-opacity:0.6" /><path d="M1264.27 301.87L1267.28 303.98L1270.3 305.89L1272.05 303.11L1273.79 300.14L1270.78 298.24L1267.77 296.13L1266.02 299.1Z" clip-path="url(#p0a0b44ae8d)" style="fill:#eaf3fb;fill-opacity:0.6" /><path d="M1213.36 223.74L1216.42 229.53L1219.48 235.1L1221.28 231.99L1223.06 228.69L1220.01 223.12L1216.96 217.35L1215.16 220.65Z" clip-path="url(#p0a0b44ae8d)" style="fill:#5da5d1;fill-opacity:0.6" /><path d="M1325.72 233.44L1328.8 233.47L1331.89 233.29L1333.64 226.89L1330.55 227.08L1327.47 227.06Z" clip-path="url(#p0a0b44ae8d)" style="fill:#65aad4;fill-opacity:0.6" /><path d="M1318.78 256.92L1321.84 256.98L1324.92 256.82L1326.66 251.25L1328.4 245.46L1325.32 245.63L1322.24 245.59L1320.51 251.36Z" clip-path="url(#p0a0b44ae8d)" style="fill:#9cc9e1;fill-opacity:0.6" /><path d="M1315.32 267.45L1318.38 267.52L1321.46 267.38L1323.19 262.2L1324.92 256.82L1321.84 256.98L1318.78 256.92L1317.05 262.29Z" clip-path="url(#p0a0b44ae8d)" style="fill:#b2d2e8;fill-opacity:0.6" /><path d="M1236.59 282.69L1239.62 286.41L1242.64 289.93L1244.42 287.57L1246.2 285.02L1243.18 281.51L1240.17 277.79L1238.38 280.34Z" clip-path="url(#p0a0b44ae8d)" style="fill:#d5e5f4;fill-opacity:0.6" /><path d="M1289.35 299.22L1292.38 300.13L1295.42 300.83L1297.15 297.25L1298.87 293.48L1295.83 292.78L1292.8 291.89L1291.07 295.65Z" clip-path="url(#p0a0b44ae8d)" style="fill:#e4eff9;fill-opacity:0.6" /><path d="M1242.64 289.93L1245.66 293.24L1248.68 296.36L1250.45 293.99L1252.22 291.43L1249.21 288.32L1246.2 285.02L1244.42 287.57Z" clip-path="url(#p0a0b44ae8d)" style="fill:#ddeaf7;fill-opacity:0.6" /><path d="M1279.83 303.36L1282.85 304.67L1285.88 305.78L1287.62 302.6L1289.35 299.22L1286.32 298.12L1283.3 296.81L1281.56 300.18Z" clip-path="url(#p0a0b44ae8d)" style="fill:#eaf3fb;fill-opacity:0.6" /><path d="M1230.54 274.64L1233.57 278.76L1236.59 282.69L1238.38 280.34L1240.17 277.79L1237.15 273.88L1234.12 269.76L1232.33 272.3Z" clip-path="url(#p0a0b44ae8d)" style="fill:#cbdef1;fill-opacity:0.6" /><path d="M1215.87 240.71L1218.93 246.08L1221.98 251.23L1223.78 248.51L1225.58 245.6L1222.53 240.45L1219.48 235.1L1217.68 238Z" clip-path="url(#p0a0b44ae8d)" style="fill:#84bcdb;fill-opacity:0.6" /><path d="M1248.68 296.36L1251.7 299.27L1254.71 301.99L1256.48 299.62L1258.24 297.05L1255.23 294.34L1252.22 291.43L1250.45 293.99Z" clip-path="url(#p0a0b44ae8d)" style="fill:#e4eff9;fill-opacity:0.6" /><path d="M1298.87 293.48L1301.92 293.98L1304.97 294.27L1306.69 290.3L1308.42 286.12L1305.36 285.83L1302.32 285.35L1300.59 289.51Z" clip-path="url(#p0a0b44ae8d)" style="fill:#dbe9f6;fill-opacity:0.6" /><path d="M1311.87 277.18L1314.93 277.26L1318.01 277.13L1319.73 272.35L1321.46 267.38L1318.38 267.52L1315.32 267.45L1313.59 272.42Z" clip-path="url(#p0a0b44ae8d)" style="fill:#c6dbef;fill-opacity:0.6" /><path d="M1270.3 305.89L1273.32 307.61L1276.35 309.12L1278.09 306.34L1279.83 303.36L1276.81 301.85L1273.79 300.14L1272.05 303.11Z" clip-path="url(#p0a0b44ae8d)" style="fill:#eef5fc;fill-opacity:0.6" /><path d="M1224.46 265.77L1227.5 270.3L1230.54 274.64L1232.33 272.3L1234.12 269.76L1231.1 265.44L1228.06 260.91L1226.26 263.44Z" clip-path="url(#p0a0b44ae8d)" style="fill:#bcd7eb;fill-opacity:0.6" /><path d="M1254.71 301.99L1257.73 304.51L1260.75 306.82L1262.51 304.44L1264.27 301.87L1261.26 299.56L1258.24 297.05L1256.48 299.62Z" clip-path="url(#p0a0b44ae8d)" style="fill:#eaf3fb;fill-opacity:0.6" /><path d="M1218.36 256.07L1221.41 261.02L1224.46 265.77L1226.26 263.44L1228.06 260.91L1225.03 256.17L1221.98 251.23L1220.17 253.75Z" clip-path="url(#p0a0b44ae8d)" style="fill:#a6cee4;fill-opacity:0.6" /><path d="M1308.42 286.12L1311.48 286.21L1314.56 286.09L1316.28 281.71L1318.01 277.13L1314.93 277.26L1311.87 277.18L1310.14 281.75Z" clip-path="url(#p0a0b44ae8d)" style="fill:#d0e1f2;fill-opacity:0.6" /><path d="M1209.73 229.34L1212.8 235.13L1215.87 240.71L1217.68 238L1219.48 235.1L1216.42 229.53L1213.36 223.74L1211.55 226.64Z" clip-path="url(#p0a0b44ae8d)" style="fill:#65aad4;fill-opacity:0.6" /><path d="M1285.88 305.78L1288.92 306.69L1291.96 307.4L1293.69 304.21L1295.42 300.83L1292.38 300.13L1289.35 299.22L1287.62 302.6Z" clip-path="url(#p0a0b44ae8d)" style="fill:#eaf3fb;fill-opacity:0.6" /><path d="M1260.75 306.82L1263.77 308.94L1266.79 310.86L1268.55 308.47L1270.3 305.89L1267.28 303.98L1264.27 301.87L1262.51 304.44Z" clip-path="url(#p0a0b44ae8d)" style="fill:#eef5fc;fill-opacity:0.6" /><path d="M1295.42 300.83L1298.47 301.34L1301.52 301.64L1303.25 298.06L1304.97 294.27L1301.92 293.98L1298.87 293.48L1297.15 297.25Z" clip-path="url(#p0a0b44ae8d)" style="fill:#e3eef9;fill-opacity:0.6" /><path d="M1328.4 245.46L1331.49 245.09L1334.6 244.52L1336.35 238.51L1338.1 232.31L1334.99 232.9L1331.89 233.29L1330.14 239.48Z" clip-path="url(#p0a0b44ae8d)" style="fill:#75b4d8;fill-opacity:0.6" /><path d="M1331.89 233.29L1334.99 232.9L1338.1 232.31L1339.85 225.89L1336.74 226.49L1333.64 226.89Z" clip-path="url(#p0a0b44ae8d)" style="fill:#5fa6d1;fill-opacity:0.6" /><path d="M1276.35 309.12L1279.38 310.44L1282.41 311.56L1284.15 308.76L1285.88 305.78L1282.85 304.67L1279.83 303.36L1278.09 306.34Z" clip-path="url(#p0a0b44ae8d)" style="fill:#f0f6fd;fill-opacity:0.6" /><path d="M1324.92 256.82L1328.01 256.47L1331.12 255.91L1332.86 250.31L1334.6 244.52L1331.49 245.09L1328.4 245.46L1326.66 251.25Z" clip-path="url(#p0a0b44ae8d)" style="fill:#94c4df;fill-opacity:0.6" /><path d="M1321.46 267.38L1324.55 267.03L1327.65 266.49L1329.38 261.3L1331.12 255.91L1328.01 256.47L1324.92 256.82L1323.19 262.2Z" clip-path="url(#p0a0b44ae8d)" style="fill:#abd0e6;fill-opacity:0.6" /><path d="M1212.23 245.53L1215.3 250.9L1218.36 256.07L1220.17 253.75L1221.98 251.23L1218.93 246.08L1215.87 240.71L1214.05 243.22Z" clip-path="url(#p0a0b44ae8d)" style="fill:#8cc0dd;fill-opacity:0.6" /><path d="M1232.99 286.79L1236.03 290.52L1239.06 294.05L1240.85 292.09L1242.64 289.93L1239.62 286.41L1236.59 282.69L1234.8 284.84Z" clip-path="url(#p0a0b44ae8d)" style="fill:#d7e6f5;fill-opacity:0.6" /><path d="M1239.06 294.05L1242.08 297.38L1245.11 300.5L1246.9 298.53L1248.68 296.36L1245.66 293.24L1242.64 289.93L1240.85 292.09Z" clip-path="url(#p0a0b44ae8d)" style="fill:#dfecf7;fill-opacity:0.6" /><path d="M1304.97 294.27L1308.04 294.37L1311.11 294.26L1312.83 290.28L1314.56 286.09L1311.48 286.21L1308.42 286.12L1306.69 290.3Z" clip-path="url(#p0a0b44ae8d)" style="fill:#d9e7f5;fill-opacity:0.6" /><path d="M1226.92 278.72L1229.96 282.86L1232.99 286.79L1234.8 284.84L1236.59 282.69L1233.57 278.76L1230.54 274.64L1228.73 276.78Z" clip-path="url(#p0a0b44ae8d)" style="fill:#cde0f1;fill-opacity:0.6" /><path d="M1245.11 300.5L1248.13 303.43L1251.16 306.15L1252.94 304.17L1254.71 301.99L1251.7 299.27L1248.68 296.36L1246.9 298.53Z" clip-path="url(#p0a0b44ae8d)" style="fill:#e7f0fa;fill-opacity:0.6" /><path d="M1266.79 310.86L1269.82 312.59L1272.85 314.11L1274.6 311.71L1276.35 309.12L1273.32 307.61L1270.3 305.89L1268.55 308.47Z" clip-path="url(#p0a0b44ae8d)" style="fill:#f2f7fd;fill-opacity:0.6" /><path d="M1318.01 277.13L1321.09 276.8L1324.19 276.27L1325.92 271.48L1327.65 266.49L1324.55 267.03L1321.46 267.38L1319.73 272.35Z" clip-path="url(#p0a0b44ae8d)" style="fill:#bfd8ed;fill-opacity:0.6" /><path d="M1220.82 269.83L1223.87 274.38L1226.92 278.72L1228.73 276.78L1230.54 274.64L1227.5 270.3L1224.46 265.77L1222.64 267.9Z" clip-path="url(#p0a0b44ae8d)" style="fill:#bfd8ed;fill-opacity:0.6" /><path d="M1251.16 306.15L1254.18 308.68L1257.21 311L1258.98 309.01L1260.75 306.82L1257.73 304.51L1254.71 301.99L1252.94 304.17Z" clip-path="url(#p0a0b44ae8d)" style="fill:#edf4fc;fill-opacity:0.6" /><path d="M1291.96 307.4L1295.01 307.92L1298.07 308.23L1299.8 305.03L1301.52 301.64L1298.47 301.34L1295.42 300.83L1293.69 304.21Z" clip-path="url(#p0a0b44ae8d)" style="fill:#eaf2fb;fill-opacity:0.6" /><path d="M1282.41 311.56L1285.45 312.48L1288.5 313.2L1290.23 310.4L1291.96 307.4L1288.92 306.69L1285.88 305.78L1284.15 308.76Z" clip-path="url(#p0a0b44ae8d)" style="fill:#f0f6fd;fill-opacity:0.6" /><path d="M1206.06 234.14L1209.15 239.94L1212.23 245.53L1214.05 243.22L1215.87 240.71L1212.8 235.13L1209.73 229.34L1207.9 231.84Z" clip-path="url(#p0a0b44ae8d)" style="fill:#6caed6;fill-opacity:0.6" /><path d="M1214.7 260.11L1217.76 265.07L1220.82 269.83L1222.64 267.9L1224.46 265.77L1221.41 261.02L1218.36 256.07L1216.53 258.19Z" clip-path="url(#p0a0b44ae8d)" style="fill:#abd0e6;fill-opacity:0.6" /><path d="M1314.56 286.09L1317.64 285.77L1320.74 285.25L1322.46 280.86L1324.19 276.27L1321.09 276.8L1318.01 277.13L1316.28 281.71Z" clip-path="url(#p0a0b44ae8d)" style="fill:#ccdff1;fill-opacity:0.6" /><path d="M1301.52 301.64L1304.59 301.75L1307.66 301.65L1309.39 298.05L1311.11 294.26L1308.04 294.37L1304.97 294.27L1303.25 298.06Z" clip-path="url(#p0a0b44ae8d)" style="fill:#e1edf8;fill-opacity:0.6" /><path d="M1272.85 314.11L1275.88 315.43L1278.92 316.56L1280.67 314.15L1282.41 311.56L1279.38 310.44L1276.35 309.12L1274.6 311.71Z" clip-path="url(#p0a0b44ae8d)" style="fill:#f4f9fe;fill-opacity:0.6" /><path d="M1257.21 311L1260.24 313.13L1263.27 315.06L1265.03 313.06L1266.79 310.86L1263.77 308.94L1260.75 306.82L1258.98 309.01Z" clip-path="url(#p0a0b44ae8d)" style="fill:#f1f7fd;fill-opacity:0.6" /><path d="M1334.6 244.52L1337.72 243.73L1340.85 242.74L1342.6 236.72L1344.36 230.49L1341.22 231.5L1338.1 232.31L1336.35 238.51Z" clip-path="url(#p0a0b44ae8d)" style="fill:#6aaed6;fill-opacity:0.6" /><path d="M1338.1 232.31L1341.22 231.5L1344.36 230.49L1346.12 224.06L1342.98 225.08L1339.85 225.89Z" clip-path="url(#p0a0b44ae8d)" style="fill:#56a0ce;fill-opacity:0.6" /><path d="M1331.12 255.91L1334.23 255.14L1337.36 254.16L1339.1 248.55L1340.85 242.74L1337.72 243.73L1334.6 244.52L1332.86 250.31Z" clip-path="url(#p0a0b44ae8d)" style="fill:#89bedc;fill-opacity:0.6" /><path d="M1208.55 249.54L1211.63 254.93L1214.7 260.11L1216.53 258.19L1218.36 256.07L1215.3 250.9L1212.23 245.53L1210.39 247.64Z" clip-path="url(#p0a0b44ae8d)" style="fill:#91c3de;fill-opacity:0.6" /><path d="M1311.11 294.26L1314.19 293.95L1317.29 293.44L1319.01 289.44L1320.74 285.25L1317.64 285.77L1314.56 286.09L1312.83 290.28Z" clip-path="url(#p0a0b44ae8d)" style="fill:#d5e5f4;fill-opacity:0.6" /><path d="M1327.65 266.49L1330.76 265.73L1333.88 264.77L1335.62 259.57L1337.36 254.16L1334.23 255.14L1331.12 255.91L1329.38 261.3Z" clip-path="url(#p0a0b44ae8d)" style="fill:#a3cce3;fill-opacity:0.6" /><path d="M1229.36 290.11L1232.4 293.85L1235.44 297.39L1237.25 295.82L1239.06 294.05L1236.03 290.52L1232.99 286.79L1231.18 288.55Z" clip-path="url(#p0a0b44ae8d)" style="fill:#d8e7f5;fill-opacity:0.6" /><path d="M1235.44 297.39L1238.48 300.73L1241.51 303.86L1243.31 302.28L1245.11 300.5L1242.08 297.38L1239.06 294.05L1237.25 295.82Z" clip-path="url(#p0a0b44ae8d)" style="fill:#e0ecf8;fill-opacity:0.6" /><path d="M1263.27 315.06L1266.3 316.79L1269.33 318.32L1271.09 316.31L1272.85 314.11L1269.82 312.59L1266.79 310.86L1265.03 313.06Z" clip-path="url(#p0a0b44ae8d)" style="fill:#f4f9fe;fill-opacity:0.6" /><path d="M1223.26 282.02L1226.31 286.17L1229.36 290.11L1231.18 288.55L1232.99 286.79L1229.96 282.86L1226.92 278.72L1225.09 280.47Z" clip-path="url(#p0a0b44ae8d)" style="fill:#cee0f2;fill-opacity:0.6" /><path d="M1288.5 313.2L1291.55 313.72L1294.61 314.04L1296.34 311.23L1298.07 308.23L1295.01 307.92L1291.96 307.4L1290.23 310.4Z" clip-path="url(#p0a0b44ae8d)" style="fill:#eff6fc;fill-opacity:0.6" /><path d="M1241.51 303.86L1244.55 306.8L1247.58 309.53L1249.37 307.94L1251.16 306.15L1248.13 303.43L1245.11 300.5L1243.31 302.28Z" clip-path="url(#p0a0b44ae8d)" style="fill:#e7f1fa;fill-opacity:0.6" /><path d="M1324.19 276.27L1327.3 275.53L1330.42 274.58L1332.15 269.78L1333.88 264.77L1330.76 265.73L1327.65 266.49L1325.92 271.48Z" clip-path="url(#p0a0b44ae8d)" style="fill:#b7d4ea;fill-opacity:0.6" /><path d="M1298.07 308.23L1301.14 308.34L1304.21 308.25L1305.94 305.05L1307.66 301.65L1304.59 301.75L1301.52 301.64L1299.8 305.03Z" clip-path="url(#p0a0b44ae8d)" style="fill:#e7f1fa;fill-opacity:0.6" /><path d="M1278.92 316.56L1281.97 317.48L1285.02 318.21L1286.76 315.8L1288.5 313.2L1285.45 312.48L1282.41 311.56L1280.67 314.15Z" clip-path="url(#p0a0b44ae8d)" style="fill:#f4f9fe;fill-opacity:0.6" /><path d="M1217.14 273.1L1220.21 277.66L1223.26 282.02L1225.09 280.47L1226.92 278.72L1223.87 274.38L1220.82 269.83L1218.99 271.56Z" clip-path="url(#p0a0b44ae8d)" style="fill:#c1d9ed;fill-opacity:0.6" /><path d="M1247.58 309.53L1250.61 312.07L1253.64 314.4L1255.43 312.8L1257.21 311L1254.18 308.68L1251.16 306.15L1249.37 307.94Z" clip-path="url(#p0a0b44ae8d)" style="fill:#eef5fc;fill-opacity:0.6" /><path d="M1202.36 238.13L1205.46 243.94L1208.55 249.54L1210.39 247.64L1212.23 245.53L1209.15 239.94L1206.06 234.14L1204.22 236.23Z" clip-path="url(#p0a0b44ae8d)" style="fill:#71b1d7;fill-opacity:0.6" /><path d="M1307.66 301.65L1310.75 301.35L1313.84 300.85L1315.57 297.24L1317.29 293.44L1314.19 293.95L1311.11 294.26L1309.39 298.05Z" clip-path="url(#p0a0b44ae8d)" style="fill:#ddeaf7;fill-opacity:0.6" /><path d="M1320.74 285.25L1323.84 284.52L1326.96 283.59L1328.69 279.18L1330.42 274.58L1327.3 275.53L1324.19 276.27L1322.46 280.86Z" clip-path="url(#p0a0b44ae8d)" style="fill:#c7dcef;fill-opacity:0.6" /><path d="M1211 263.35L1214.08 268.33L1217.14 273.1L1218.99 271.56L1220.82 269.83L1217.76 265.07L1214.7 260.11L1212.85 261.83Z" clip-path="url(#p0a0b44ae8d)" style="fill:#add0e6;fill-opacity:0.6" /><path d="M1269.33 318.32L1272.37 319.65L1275.42 320.78L1277.17 318.77L1278.92 316.56L1275.88 315.43L1272.85 314.11L1271.09 316.31Z" clip-path="url(#p0a0b44ae8d)" style="fill:#f6faff;fill-opacity:0.6" /><path d="M1253.64 314.4L1256.68 316.53L1259.72 318.47L1261.49 316.86L1263.27 315.06L1260.24 313.13L1257.21 311L1255.43 312.8Z" clip-path="url(#p0a0b44ae8d)" style="fill:#f2f8fd;fill-opacity:0.6" /><path d="M1340.85 242.74L1344 241.54L1347.16 240.12L1348.92 234.08L1350.68 227.84L1347.51 229.27L1344.36 230.49L1342.6 236.72Z" clip-path="url(#p0a0b44ae8d)" style="fill:#5fa6d1;fill-opacity:0.6" /><path d="M1344.36 230.49L1347.51 229.27L1350.68 227.84L1352.45 221.38L1349.28 222.83L1346.12 224.06Z" clip-path="url(#p0a0b44ae8d)" style="fill:#4b98ca;fill-opacity:0.6" /><path d="M1204.83 252.76L1207.92 258.16L1211 263.35L1212.85 261.83L1214.7 260.11L1211.63 254.93L1208.55 249.54L1206.69 251.25Z" clip-path="url(#p0a0b44ae8d)" style="fill:#94c4df;fill-opacity:0.6" /><path d="M1337.36 254.16L1340.5 252.98L1343.66 251.58L1345.41 245.96L1347.16 240.12L1344 241.54L1340.85 242.74L1339.1 248.55Z" clip-path="url(#p0a0b44ae8d)" style="fill:#7cb7da;fill-opacity:0.6" /><path d="M1294.61 314.04L1297.68 314.16L1300.76 314.07L1302.49 311.26L1304.21 308.25L1301.14 308.34L1298.07 308.23L1296.34 311.23Z" clip-path="url(#p0a0b44ae8d)" style="fill:#edf4fc;fill-opacity:0.6" /><path d="M1285.02 318.21L1288.07 318.74L1291.14 319.06L1292.88 316.65L1294.61 314.04L1291.55 313.72L1288.5 313.2L1286.76 315.8Z" clip-path="url(#p0a0b44ae8d)" style="fill:#f3f8fe;fill-opacity:0.6" /><path d="M1317.29 293.44L1320.4 292.73L1323.52 291.8L1325.24 287.79L1326.96 283.59L1323.84 284.52L1320.74 285.25L1319.01 289.44Z" clip-path="url(#p0a0b44ae8d)" style="fill:#d0e2f2;fill-opacity:0.6" /><path d="M1333.88 264.77L1337.02 263.61L1340.18 262.23L1341.92 257.01L1343.66 251.58L1340.5 252.98L1337.36 254.16L1335.62 259.57Z" clip-path="url(#p0a0b44ae8d)" style="fill:#97c6df;fill-opacity:0.6" /><path d="M1259.72 318.47L1262.75 320.21L1265.8 321.74L1267.57 320.13L1269.33 318.32L1266.3 316.79L1263.27 315.06L1261.49 316.86Z" clip-path="url(#p0a0b44ae8d)" style="fill:#f5fafe;fill-opacity:0.6" /><path d="M1304.21 308.25L1307.3 307.96L1310.4 307.47L1312.12 304.25L1313.84 300.85L1310.75 301.35L1307.66 301.65L1305.94 305.05Z" clip-path="url(#p0a0b44ae8d)" style="fill:#e3eef9;fill-opacity:0.6" /><path d="M1225.69 292.64L1228.74 296.39L1231.79 299.94L1233.62 298.77L1235.44 297.39L1232.4 293.85L1229.36 290.11L1227.53 291.48Z" clip-path="url(#p0a0b44ae8d)" style="fill:#d8e7f5;fill-opacity:0.6" /><path d="M1231.79 299.94L1234.84 303.29L1237.88 306.44L1239.7 305.25L1241.51 303.86L1238.48 300.73L1235.44 297.39L1233.62 298.77Z" clip-path="url(#p0a0b44ae8d)" style="fill:#e0ecf8;fill-opacity:0.6" /><path d="M1275.42 320.78L1278.47 321.71L1281.52 322.45L1283.27 320.43L1285.02 318.21L1281.97 317.48L1278.92 316.56L1277.17 318.77Z" clip-path="url(#p0a0b44ae8d)" style="fill:#f6faff;fill-opacity:0.6" /><path d="M1219.57 284.52L1222.63 288.68L1225.69 292.64L1227.53 291.48L1229.36 290.11L1226.31 286.17L1223.26 282.02L1221.42 283.37Z" clip-path="url(#p0a0b44ae8d)" style="fill:#cee0f2;fill-opacity:0.6" /><path d="M1237.88 306.44L1240.92 309.38L1243.97 312.12L1245.78 310.93L1247.58 309.53L1244.55 306.8L1241.51 303.86L1239.7 305.25Z" clip-path="url(#p0a0b44ae8d)" style="fill:#e7f1fa;fill-opacity:0.6" /><path d="M1330.42 274.58L1333.56 273.43L1336.71 272.07L1338.44 267.25L1340.18 262.23L1337.02 263.61L1333.88 264.77L1332.15 269.78Z" clip-path="url(#p0a0b44ae8d)" style="fill:#add0e6;fill-opacity:0.6" /><path d="M1213.43 275.57L1216.5 280.15L1219.57 284.52L1221.42 283.37L1223.26 282.02L1220.21 277.66L1217.14 273.1L1215.29 274.44Z" clip-path="url(#p0a0b44ae8d)" style="fill:#c1d9ed;fill-opacity:0.6" /><path d="M1198.62 241.31L1201.73 247.14L1204.83 252.76L1206.69 251.25L1208.55 249.54L1205.46 243.94L1202.36 238.13L1200.49 239.82Z" clip-path="url(#p0a0b44ae8d)" style="fill:#74b3d8;fill-opacity:0.6" /><path d="M1243.97 312.12L1247.01 314.67L1250.05 317.01L1251.85 315.8L1253.64 314.4L1250.61 312.07L1247.58 309.53L1245.78 310.93Z" clip-path="url(#p0a0b44ae8d)" style="fill:#eef5fc;fill-opacity:0.6" /><path d="M1313.84 300.85L1316.95 300.14L1320.07 299.23L1321.79 295.61L1323.52 291.8L1320.4 292.73L1317.29 293.44L1315.57 297.24Z" clip-path="url(#p0a0b44ae8d)" style="fill:#d8e7f5;fill-opacity:0.6" /><path d="M1265.8 321.74L1268.84 323.08L1271.89 324.22L1273.66 322.6L1275.42 320.78L1272.37 319.65L1269.33 318.32L1267.57 320.13Z" clip-path="url(#p0a0b44ae8d)" style="fill:#f7fbff;fill-opacity:0.6" /><path d="M1326.96 283.59L1330.1 282.45L1333.25 281.1L1334.98 276.68L1336.71 272.07L1333.56 273.43L1330.42 274.58L1328.69 279.18Z" clip-path="url(#p0a0b44ae8d)" style="fill:#bdd7ec;fill-opacity:0.6" /><path d="M1207.26 265.79L1210.35 270.79L1213.43 275.57L1215.29 274.44L1217.14 273.1L1214.08 268.33L1211 263.35L1209.14 264.67Z" clip-path="url(#p0a0b44ae8d)" style="fill:#add0e6;fill-opacity:0.6" /><path d="M1291.14 319.06L1294.21 319.19L1297.29 319.11L1299.03 316.69L1300.76 314.07L1297.68 314.16L1294.61 314.04L1292.88 316.65Z" clip-path="url(#p0a0b44ae8d)" style="fill:#f1f7fd;fill-opacity:0.6" /><path d="M1250.05 317.01L1253.09 319.15L1256.14 321.1L1257.93 319.88L1259.72 318.47L1256.68 316.53L1253.64 314.4L1251.85 315.8Z" clip-path="url(#p0a0b44ae8d)" style="fill:#f2f7fd;fill-opacity:0.6" /><path d="M1300.76 314.07L1303.85 313.79L1306.95 313.3L1308.67 310.48L1310.4 307.47L1307.3 307.96L1304.21 308.25L1302.49 311.26Z" clip-path="url(#p0a0b44ae8d)" style="fill:#e9f2fa;fill-opacity:0.6" /><path d="M1281.52 322.45L1284.59 322.98L1287.65 323.31L1289.4 321.29L1291.14 319.06L1288.07 318.74L1285.02 318.21L1283.27 320.43Z" clip-path="url(#p0a0b44ae8d)" style="fill:#f5fafe;fill-opacity:0.6" /><path d="M1201.06 255.17L1204.17 260.59L1207.26 265.79L1209.14 264.67L1211 263.35L1207.92 258.16L1204.83 252.76L1202.95 254.07Z" clip-path="url(#p0a0b44ae8d)" style="fill:#92c4de;fill-opacity:0.6" /><path d="M1323.52 291.8L1326.65 290.67L1329.79 289.34L1331.52 285.32L1333.25 281.1L1330.1 282.45L1326.96 283.59L1325.24 287.79Z" clip-path="url(#p0a0b44ae8d)" style="fill:#caddf0;fill-opacity:0.6" /><path d="M1347.16 240.12L1350.34 238.5L1353.54 236.66L1355.3 230.6L1357.07 224.33L1353.87 226.19L1350.68 227.84L1348.92 234.08Z" clip-path="url(#p0a0b44ae8d)" style="fill:#529dcc;fill-opacity:0.6" /><path d="M1350.68 227.84L1353.87 226.19L1357.07 224.33L1358.85 217.85L1355.64 219.72L1352.45 221.38Z" clip-path="url(#p0a0b44ae8d)" style="fill:#3f8fc5;fill-opacity:0.6" /><path d="M1310.4 307.47L1313.5 306.77L1316.62 305.86L1318.35 302.64L1320.07 299.23L1316.95 300.14L1313.84 300.85L1312.12 304.25Z" clip-path="url(#p0a0b44ae8d)" style="fill:#deebf7;fill-opacity:0.6" /><path d="M1343.66 251.58L1346.83 249.98L1350.02 248.16L1351.78 242.51L1353.54 236.66L1350.34 238.5L1347.16 240.12L1345.41 245.96Z" clip-path="url(#p0a0b44ae8d)" style="fill:#6aaed6;fill-opacity:0.6" /><path d="M1271.89 324.22L1274.95 325.16L1278.01 325.9L1279.77 324.27L1281.52 322.45L1278.47 321.71L1275.42 320.78L1273.66 322.6Z" clip-path="url(#p0a0b44ae8d)" style="fill:#f7fbff;fill-opacity:0.6" /><path d="M1256.14 321.1L1259.18 322.84L1262.23 324.38L1264.02 323.16L1265.8 321.74L1262.75 320.21L1259.72 318.47L1257.93 319.88Z" clip-path="url(#p0a0b44ae8d)" style="fill:#f5f9fe;fill-opacity:0.6" /><path d="M1340.18 262.23L1343.35 260.64L1346.53 258.84L1348.28 253.6L1350.02 248.16L1346.83 249.98L1343.66 251.58L1341.92 257.01Z" clip-path="url(#p0a0b44ae8d)" style="fill:#87bddc;fill-opacity:0.6" /><path d="M1221.98 294.37L1225.04 298.13L1228.1 301.7L1229.95 300.92L1231.79 299.94L1228.74 296.39L1225.69 292.64L1223.84 293.6Z" clip-path="url(#p0a0b44ae8d)" style="fill:#d6e5f4;fill-opacity:0.6" /><path d="M1228.1 301.7L1231.16 305.06L1234.22 308.21L1236.05 307.42L1237.88 306.44L1234.84 303.29L1231.79 299.94L1229.95 300.92Z" clip-path="url(#p0a0b44ae8d)" style="fill:#deebf7;fill-opacity:0.6" /><path d="M1215.84 286.22L1218.91 290.39L1221.98 294.37L1223.84 293.6L1225.69 292.64L1222.63 288.68L1219.57 284.52L1217.71 285.47Z" clip-path="url(#p0a0b44ae8d)" style="fill:#ccdff1;fill-opacity:0.6" /><path d="M1234.22 308.21L1237.27 311.17L1240.32 313.92L1242.15 313.12L1243.97 312.12L1240.92 309.38L1237.88 306.44L1236.05 307.42Z" clip-path="url(#p0a0b44ae8d)" style="fill:#e6f0f9;fill-opacity:0.6" /><path d="M1336.71 272.07L1339.87 270.49L1343.05 268.71L1344.79 263.88L1346.53 258.84L1343.35 260.64L1340.18 262.23L1338.44 267.25Z" clip-path="url(#p0a0b44ae8d)" style="fill:#9fcae1;fill-opacity:0.6" /><path d="M1194.83 243.69L1197.95 249.54L1201.06 255.17L1202.95 254.07L1204.83 252.76L1201.73 247.14L1198.62 241.31L1196.73 242.6Z" clip-path="url(#p0a0b44ae8d)" style="fill:#72b2d8;fill-opacity:0.6" /><path d="M1320.07 299.23L1323.2 298.11L1326.35 296.78L1328.07 293.16L1329.79 289.34L1326.65 290.67L1323.52 291.8L1321.79 295.61Z" clip-path="url(#p0a0b44ae8d)" style="fill:#d2e3f3;fill-opacity:0.6" /><path d="M1209.67 277.24L1212.76 281.83L1215.84 286.22L1217.71 285.47L1219.57 284.52L1216.5 280.15L1213.43 275.57L1211.56 276.51Z" clip-path="url(#p0a0b44ae8d)" style="fill:#bed8ec;fill-opacity:0.6" /><path d="M1297.29 319.11L1300.39 318.84L1303.49 318.35L1305.22 315.93L1306.95 313.3L1303.85 313.79L1300.76 314.07L1299.03 316.69Z" clip-path="url(#p0a0b44ae8d)" style="fill:#edf4fc;fill-opacity:0.6" /><path d="M1287.65 323.31L1290.73 323.44L1293.82 323.37L1295.56 321.34L1297.29 319.11L1294.21 319.19L1291.14 319.06L1289.4 321.29Z" clip-path="url(#p0a0b44ae8d)" style="fill:#f3f8fe;fill-opacity:0.6" /><path d="M1240.32 313.92L1243.37 316.48L1246.42 318.83L1248.24 318.02L1250.05 317.01L1247.01 314.67L1243.97 312.12L1242.15 313.12Z" clip-path="url(#p0a0b44ae8d)" style="fill:#ebf3fb;fill-opacity:0.6" /><path d="M1262.23 324.38L1265.29 325.73L1268.35 326.87L1270.12 325.64L1271.89 324.22L1268.84 323.08L1265.8 321.74L1264.02 323.16Z" clip-path="url(#p0a0b44ae8d)" style="fill:#f7fbff;fill-opacity:0.6" /><path d="M1333.25 281.1L1336.41 279.54L1339.59 277.77L1341.32 273.34L1343.05 268.71L1339.87 270.49L1336.71 272.07L1334.98 276.68Z" clip-path="url(#p0a0b44ae8d)" style="fill:#b0d2e7;fill-opacity:0.6" /><path d="M1306.95 313.3L1310.06 312.61L1313.18 311.71L1314.9 308.89L1316.62 305.86L1313.5 306.77L1310.4 307.47L1308.67 310.48Z" clip-path="url(#p0a0b44ae8d)" style="fill:#e3eef9;fill-opacity:0.6" /><path d="M1203.48 267.43L1206.58 272.44L1209.67 277.24L1211.56 276.51L1213.43 275.57L1210.35 270.79L1207.26 265.79L1205.38 266.71Z" clip-path="url(#p0a0b44ae8d)" style="fill:#a9cfe5;fill-opacity:0.6" /><path d="M1278.01 325.9L1281.08 326.43L1284.15 326.77L1285.91 325.14L1287.65 323.31L1284.59 322.98L1281.52 322.45L1279.77 324.27Z" clip-path="url(#p0a0b44ae8d)" style="fill:#f6faff;fill-opacity:0.6" /><path d="M1246.42 318.83L1249.48 320.98L1252.53 322.93L1254.34 322.11L1256.14 321.1L1253.09 319.15L1250.05 317.01L1248.24 318.02Z" clip-path="url(#p0a0b44ae8d)" style="fill:#f0f6fd;fill-opacity:0.6" /><path d="M1316.62 305.86L1319.76 304.75L1322.9 303.44L1324.63 300.21L1326.35 296.78L1323.2 298.11L1320.07 299.23L1318.35 302.64Z" clip-path="url(#p0a0b44ae8d)" style="fill:#d8e7f5;fill-opacity:0.6" /><path d="M1329.79 289.34L1332.96 287.79L1336.13 286.04L1337.86 282L1339.59 277.77L1336.41 279.54L1333.25 281.1L1331.52 285.32Z" clip-path="url(#p0a0b44ae8d)" style="fill:#bfd8ed;fill-opacity:0.6" /><path d="M1197.25 256.77L1200.37 262.2L1203.48 267.43L1205.38 266.71L1207.26 265.79L1204.17 260.59L1201.06 255.17L1199.16 256.07Z" clip-path="url(#p0a0b44ae8d)" style="fill:#8fc2de;fill-opacity:0.6" /><path d="M1268.35 326.87L1271.41 327.82L1274.48 328.56L1276.25 327.33L1278.01 325.9L1274.95 325.16L1271.89 324.22L1270.12 325.64Z" clip-path="url(#p0a0b44ae8d)" style="fill:#f7fbff;fill-opacity:0.6" /><path d="M1353.54 236.66L1356.75 234.61L1359.98 232.34L1361.75 226.25L1363.53 219.96L1360.29 222.25L1357.07 224.33L1355.3 230.6Z" clip-path="url(#p0a0b44ae8d)" style="fill:#4292c6;fill-opacity:0.6" /><path d="M1357.07 224.33L1360.29 222.25L1363.53 219.96L1365.31 213.46L1362.07 215.76L1358.85 217.85Z" clip-path="url(#p0a0b44ae8d)" style="fill:#3383be;fill-opacity:0.6" /><path d="M1252.53 322.93L1255.59 324.68L1258.64 326.23L1260.44 325.41L1262.23 324.38L1259.18 322.84L1256.14 321.1L1254.34 322.11Z" clip-path="url(#p0a0b44ae8d)" style="fill:#f3f8fe;fill-opacity:0.6" /><path d="M1350.02 248.16L1353.23 246.13L1356.46 243.88L1358.22 238.21L1359.98 232.34L1356.75 234.61L1353.54 236.66L1351.78 242.51Z" clip-path="url(#p0a0b44ae8d)" style="fill:#5ba3d0;fill-opacity:0.6" /><path d="M1346.53 258.84L1349.73 256.83L1352.95 254.6L1354.7 249.34L1356.46 243.88L1353.23 246.13L1350.02 248.16L1348.28 253.6Z" clip-path="url(#p0a0b44ae8d)" style="fill:#74b3d8;fill-opacity:0.6" /><path d="M1293.82 323.37L1296.91 323.1L1300.02 322.62L1301.75 320.59L1303.49 318.35L1300.39 318.84L1297.29 319.11L1295.56 321.34Z" clip-path="url(#p0a0b44ae8d)" style="fill:#eff6fc;fill-opacity:0.6" /><path d="M1218.23 295.29L1221.3 299.07L1224.38 302.65L1226.25 302.27L1228.1 301.7L1225.04 298.13L1221.98 294.37L1220.11 294.93Z" clip-path="url(#p0a0b44ae8d)" style="fill:#d3e3f3;fill-opacity:0.6" /><path d="M1303.49 318.35L1306.6 317.67L1309.72 316.78L1311.45 314.34L1313.18 311.71L1310.06 312.61L1306.95 313.3L1305.22 315.93Z" clip-path="url(#p0a0b44ae8d)" style="fill:#e7f1fa;fill-opacity:0.6" /><path d="M1224.38 302.65L1227.45 306.02L1230.51 309.19L1232.37 308.8L1234.22 308.21L1231.16 305.06L1228.1 301.7L1226.25 302.27Z" clip-path="url(#p0a0b44ae8d)" style="fill:#dbe9f6;fill-opacity:0.6" /><path d="M1284.15 326.77L1287.24 326.91L1290.33 326.84L1292.07 325.2L1293.82 323.37L1290.73 323.44L1287.65 323.31L1285.91 325.14Z" clip-path="url(#p0a0b44ae8d)" style="fill:#f4f9fe;fill-opacity:0.6" /><path d="M1190.99 245.25L1194.13 251.11L1197.25 256.77L1199.16 256.07L1201.06 255.17L1197.95 249.54L1194.83 243.69L1192.91 244.57Z" clip-path="url(#p0a0b44ae8d)" style="fill:#6fb0d7;fill-opacity:0.6" /><path d="M1212.06 287.11L1215.15 291.3L1218.23 295.29L1220.11 294.93L1221.98 294.37L1218.91 290.39L1215.84 286.22L1213.95 286.76Z" clip-path="url(#p0a0b44ae8d)" style="fill:#c9ddf0;fill-opacity:0.6" /><path d="M1326.35 296.78L1329.51 295.25L1332.68 293.5L1334.41 289.87L1336.13 286.04L1332.96 287.79L1329.79 289.34L1328.07 293.16Z" clip-path="url(#p0a0b44ae8d)" style="fill:#caddf0;fill-opacity:0.6" /><path d="M1343.05 268.71L1346.25 266.71L1349.47 264.5L1351.21 259.65L1352.95 254.6L1349.73 256.83L1346.53 258.84L1344.79 263.88Z" clip-path="url(#p0a0b44ae8d)" style="fill:#8cc0dd;fill-opacity:0.6" /><path d="M1230.51 309.19L1233.58 312.16L1236.64 314.92L1238.48 314.52L1240.32 313.92L1237.27 311.17L1234.22 308.21L1232.37 308.8Z" clip-path="url(#p0a0b44ae8d)" style="fill:#e3eef8;fill-opacity:0.6" /><path d="M1205.87 278.09L1208.97 282.7L1212.06 287.11L1213.95 286.76L1215.84 286.22L1212.76 281.83L1209.67 277.24L1207.78 277.77Z" clip-path="url(#p0a0b44ae8d)" style="fill:#b9d6ea;fill-opacity:0.6" /><path d="M1258.64 326.23L1261.71 327.58L1264.77 328.73L1266.56 327.9L1268.35 326.87L1265.29 325.73L1262.23 324.38L1260.44 325.41Z" clip-path="url(#p0a0b44ae8d)" style="fill:#f5f9fe;fill-opacity:0.6" /><path d="M1313.18 311.71L1316.31 310.61L1319.46 309.3L1321.18 306.47L1322.9 303.44L1319.76 304.75L1316.62 305.86L1314.9 308.89Z" clip-path="url(#p0a0b44ae8d)" style="fill:#ddeaf7;fill-opacity:0.6" /><path d="M1236.64 314.92L1239.7 317.48L1242.76 319.85L1244.6 319.44L1246.42 318.83L1243.37 316.48L1240.32 313.92L1238.48 314.52Z" clip-path="url(#p0a0b44ae8d)" style="fill:#e8f1fa;fill-opacity:0.6" /><path d="M1274.48 328.56L1277.55 329.1L1280.63 329.44L1282.4 328.21L1284.15 326.77L1281.08 326.43L1278.01 325.9L1276.25 327.33Z" clip-path="url(#p0a0b44ae8d)" style="fill:#f6faff;fill-opacity:0.6" /><path d="M1339.59 277.77L1342.78 275.79L1346 273.6L1347.73 269.15L1349.47 264.5L1346.25 266.71L1343.05 268.71L1341.32 273.34Z" clip-path="url(#p0a0b44ae8d)" style="fill:#a1cbe2;fill-opacity:0.6" /><path d="M1199.65 268.24L1202.76 273.27L1205.87 278.09L1207.78 277.77L1209.67 277.24L1206.58 272.44L1203.48 267.43L1201.57 267.94Z" clip-path="url(#p0a0b44ae8d)" style="fill:#a4cce3;fill-opacity:0.6" /><path d="M1242.76 319.85L1245.83 322.01L1248.89 323.97L1250.71 323.55L1252.53 322.93L1249.48 320.98L1246.42 318.83L1244.6 319.44Z" clip-path="url(#p0a0b44ae8d)" style="fill:#edf4fc;fill-opacity:0.6" /><path d="M1322.9 303.44L1326.06 301.91L1329.24 300.17L1330.96 296.94L1332.68 293.5L1329.51 295.25L1326.35 296.78L1324.63 300.21Z" clip-path="url(#p0a0b44ae8d)" style="fill:#d0e2f2;fill-opacity:0.6" /><path d="M1264.77 328.73L1267.84 329.68L1270.92 330.43L1272.7 329.59L1274.48 328.56L1271.41 327.82L1268.35 326.87L1266.56 327.9Z" clip-path="url(#p0a0b44ae8d)" style="fill:#f5fafe;fill-opacity:0.6" /><path d="M1336.13 286.04L1339.33 284.07L1342.54 281.89L1344.26 277.84L1346 273.6L1342.78 275.79L1339.59 277.77L1337.86 282Z" clip-path="url(#p0a0b44ae8d)" style="fill:#b0d2e7;fill-opacity:0.6" /><path d="M1193.39 257.54L1196.52 263L1199.65 268.24L1201.57 267.94L1203.48 267.43L1200.37 262.2L1197.25 256.77L1195.33 257.26Z" clip-path="url(#p0a0b44ae8d)" style="fill:#89bedc;fill-opacity:0.6" /><path d="M1300.02 322.62L1303.14 321.94L1306.26 321.05L1307.99 319.01L1309.72 316.78L1306.6 317.67L1303.49 318.35L1301.75 320.59Z" clip-path="url(#p0a0b44ae8d)" style="fill:#eaf2fb;fill-opacity:0.6" /><path d="M1290.33 326.84L1293.43 326.57L1296.54 326.1L1298.28 324.46L1300.02 322.62L1296.91 323.1L1293.82 323.37L1292.07 325.2Z" clip-path="url(#p0a0b44ae8d)" style="fill:#f0f6fd;fill-opacity:0.6" /><path d="M1248.89 323.97L1251.95 325.72L1255.02 327.28L1256.84 326.86L1258.64 326.23L1255.59 324.68L1252.53 322.93L1250.71 323.55Z" clip-path="url(#p0a0b44ae8d)" style="fill:#f0f6fd;fill-opacity:0.6" /><path d="M1309.72 316.78L1312.86 315.68L1316.01 314.37L1317.74 311.94L1319.46 309.3L1316.31 310.61L1313.18 311.71L1311.45 314.34Z" clip-path="url(#p0a0b44ae8d)" style="fill:#e1edf8;fill-opacity:0.6" /><path d="M1359.98 232.34L1363.23 229.85L1366.5 227.14L1368.28 221.03L1370.06 214.71L1366.78 217.45L1363.53 219.96L1361.75 226.25Z" clip-path="url(#p0a0b44ae8d)" style="fill:#3484bf;fill-opacity:0.6" /><path d="M1363.53 219.96L1366.78 217.45L1370.06 214.71L1371.85 208.18L1368.57 210.93L1365.31 213.46Z" clip-path="url(#p0a0b44ae8d)" style="fill:#2474b7;fill-opacity:0.6" /><path d="M1356.46 243.88L1359.7 241.41L1362.96 238.73L1364.73 233.04L1366.5 227.14L1363.23 229.85L1359.98 232.34L1358.22 238.21Z" clip-path="url(#p0a0b44ae8d)" style="fill:#4a98c9;fill-opacity:0.6" /><path d="M1280.63 329.44L1283.72 329.58L1286.82 329.52L1288.58 328.28L1290.33 326.84L1287.24 326.91L1284.15 326.77L1282.4 328.21Z" clip-path="url(#p0a0b44ae8d)" style="fill:#f4f9fe;fill-opacity:0.6" /><path d="M1352.95 254.6L1356.19 252.16L1359.45 249.49L1361.2 244.21L1362.96 238.73L1359.7 241.41L1356.46 243.88L1354.7 249.34Z" clip-path="url(#p0a0b44ae8d)" style="fill:#60a7d2;fill-opacity:0.6" /><path d="M1187.1 245.98L1190.25 251.87L1193.39 257.54L1195.33 257.26L1197.25 256.77L1194.13 251.11L1190.99 245.25L1189.05 245.72Z" clip-path="url(#p0a0b44ae8d)" style="fill:#69add5;fill-opacity:0.6" /><path d="M1214.43 295.39L1217.52 299.19L1220.6 302.78L1222.5 302.82L1224.38 302.65L1221.3 299.07L1218.23 295.29L1216.33 295.44Z" clip-path="url(#p0a0b44ae8d)" style="fill:#cfe1f2;fill-opacity:0.6" /><path d="M1332.68 293.5L1335.88 291.54L1339.08 289.37L1340.81 285.73L1342.54 281.89L1339.33 284.07L1336.13 286.04L1334.41 289.87Z" clip-path="url(#p0a0b44ae8d)" style="fill:#bdd7ec;fill-opacity:0.6" /><path d="M1220.6 302.78L1223.69 306.17L1226.76 309.35L1228.64 309.37L1230.51 309.19L1227.45 306.02L1224.38 302.65L1222.5 302.82Z" clip-path="url(#p0a0b44ae8d)" style="fill:#d7e6f5;fill-opacity:0.6" /><path d="M1319.46 309.3L1322.62 307.78L1325.8 306.05L1327.52 303.21L1329.24 300.17L1326.06 301.91L1322.9 303.44L1321.18 306.47Z" clip-path="url(#p0a0b44ae8d)" style="fill:#d5e5f4;fill-opacity:0.6" /><path d="M1208.23 287.18L1211.33 291.39L1214.43 295.39L1216.33 295.44L1218.23 295.29L1215.15 291.3L1212.06 287.11L1210.15 287.24Z" clip-path="url(#p0a0b44ae8d)" style="fill:#c4daee;fill-opacity:0.6" /><path d="M1349.47 264.5L1352.7 262.08L1355.95 259.43L1357.7 254.56L1359.45 249.49L1356.19 252.16L1352.95 254.6L1351.21 259.65Z" clip-path="url(#p0a0b44ae8d)" style="fill:#75b4d8;fill-opacity:0.6" /><path d="M1226.76 309.35L1229.84 312.33L1232.92 315.11L1234.78 315.12L1236.64 314.92L1233.58 312.16L1230.51 309.19L1228.64 309.37Z" clip-path="url(#p0a0b44ae8d)" style="fill:#deebf7;fill-opacity:0.6" /><path d="M1270.92 330.43L1274 330.98L1277.09 331.32L1278.86 330.48L1280.63 329.44L1277.55 329.1L1274.48 328.56L1272.7 329.59Z" clip-path="url(#p0a0b44ae8d)" style="fill:#f4f9fe;fill-opacity:0.6" /><path d="M1255.02 327.28L1258.09 328.64L1261.17 329.79L1262.97 329.36L1264.77 328.73L1261.71 327.58L1258.64 326.23L1256.84 326.86Z" clip-path="url(#p0a0b44ae8d)" style="fill:#f2f7fd;fill-opacity:0.6" /><path d="M1202.01 278.13L1205.13 282.76L1208.23 287.18L1210.15 287.24L1212.06 287.11L1208.97 282.7L1205.87 278.09L1203.95 278.21Z" clip-path="url(#p0a0b44ae8d)" style="fill:#b2d2e8;fill-opacity:0.6" /><path d="M1232.92 315.11L1235.99 317.68L1239.06 320.06L1240.92 320.05L1242.76 319.85L1239.7 317.48L1236.64 314.92L1234.78 315.12Z" clip-path="url(#p0a0b44ae8d)" style="fill:#e4eff9;fill-opacity:0.6" /><path d="M1346 273.6L1349.23 271.19L1352.47 268.56L1354.21 264.1L1355.95 259.43L1352.7 262.08L1349.47 264.5L1347.73 269.15Z" clip-path="url(#p0a0b44ae8d)" style="fill:#8cc0dd;fill-opacity:0.6" /><path d="M1296.54 326.1L1299.66 325.42L1302.79 324.53L1304.53 322.89L1306.26 321.05L1303.14 321.94L1300.02 322.62L1298.28 324.46Z" clip-path="url(#p0a0b44ae8d)" style="fill:#eaf3fb;fill-opacity:0.6" /><path d="M1195.76 268.24L1198.89 273.29L1202.01 278.13L1203.95 278.21L1205.87 278.09L1202.76 273.27L1199.65 268.24L1197.71 268.34Z" clip-path="url(#p0a0b44ae8d)" style="fill:#9cc9e1;fill-opacity:0.6" /><path d="M1306.26 321.05L1309.4 319.96L1312.56 318.65L1314.28 316.61L1316.01 314.37L1312.86 315.68L1309.72 316.78L1307.99 319.01Z" clip-path="url(#p0a0b44ae8d)" style="fill:#e3eef9;fill-opacity:0.6" /><path d="M1329.24 300.17L1332.43 298.22L1335.64 296.06L1337.36 292.82L1339.08 289.37L1335.88 291.54L1332.68 293.5L1330.96 296.94Z" clip-path="url(#p0a0b44ae8d)" style="fill:#c7dcef;fill-opacity:0.6" /><path d="M1286.82 329.52L1289.92 329.25L1293.04 328.78L1294.79 327.54L1296.54 326.1L1293.43 326.57L1290.33 326.84L1288.58 328.28Z" clip-path="url(#p0a0b44ae8d)" style="fill:#f0f6fd;fill-opacity:0.6" /><path d="M1239.06 320.06L1242.14 322.23L1245.21 324.19L1247.05 324.18L1248.89 323.97L1245.83 322.01L1242.76 319.85L1240.92 320.05Z" clip-path="url(#p0a0b44ae8d)" style="fill:#e8f1fa;fill-opacity:0.6" /><path d="M1261.17 329.79L1264.25 330.75L1267.33 331.5L1269.13 331.07L1270.92 330.43L1267.84 329.68L1264.77 328.73L1262.97 329.36Z" clip-path="url(#p0a0b44ae8d)" style="fill:#f2f8fd;fill-opacity:0.6" /><path d="M1342.54 281.89L1345.76 279.49L1349.01 276.87L1350.74 272.82L1352.47 268.56L1349.23 271.19L1346 273.6L1344.26 277.84Z" clip-path="url(#p0a0b44ae8d)" style="fill:#9fcae1;fill-opacity:0.6" /><path d="M1316.01 314.37L1319.17 312.86L1322.35 311.13L1324.07 308.69L1325.8 306.05L1322.62 307.78L1319.46 309.3L1317.74 311.94Z" clip-path="url(#p0a0b44ae8d)" style="fill:#d9e7f5;fill-opacity:0.6" /><path d="M1189.48 257.49L1192.63 262.97L1195.76 268.24L1197.71 268.34L1199.65 268.24L1196.52 263L1193.39 257.54L1191.44 257.62Z" clip-path="url(#p0a0b44ae8d)" style="fill:#7fb9da;fill-opacity:0.6" /><path d="M1277.09 331.32L1280.18 331.46L1283.29 331.4L1285.06 330.56L1286.82 329.52L1283.72 329.58L1280.63 329.44L1278.86 330.48Z" clip-path="url(#p0a0b44ae8d)" style="fill:#f2f7fd;fill-opacity:0.6" /><path d="M1245.21 324.19L1248.29 325.96L1251.37 327.52L1253.2 327.5L1255.02 327.28L1251.95 325.72L1248.89 323.97L1247.05 324.18Z" clip-path="url(#p0a0b44ae8d)" style="fill:#ebf3fb;fill-opacity:0.6" /><path d="M1366.5 227.14L1369.79 224.21L1373.1 221.05L1374.89 214.92L1376.68 208.57L1373.36 211.75L1370.06 214.71L1368.28 221.03Z" clip-path="url(#p0a0b44ae8d)" style="fill:#2474b7;fill-opacity:0.6" /><path d="M1370.06 214.71L1373.36 211.75L1376.68 208.57L1378.48 202.01L1375.16 205.21L1371.85 208.18Z" clip-path="url(#p0a0b44ae8d)" style="fill:#1764ab;fill-opacity:0.6" /><path d="M1362.96 238.73L1366.25 235.82L1369.55 232.69L1371.32 226.98L1373.1 221.05L1369.79 224.21L1366.5 227.14L1364.73 233.04Z" clip-path="url(#p0a0b44ae8d)" style="fill:#3888c1;fill-opacity:0.6" /><path d="M1325.8 306.05L1328.99 304.11L1332.2 301.95L1333.92 299.11L1335.64 296.06L1332.43 298.22L1329.24 300.17L1327.52 303.21Z" clip-path="url(#p0a0b44ae8d)" style="fill:#ccdff1;fill-opacity:0.6" /><path d="M1359.45 249.49L1362.73 246.61L1366.02 243.5L1367.78 238.2L1369.55 232.69L1366.25 235.82L1362.96 238.73L1361.2 244.21Z" clip-path="url(#p0a0b44ae8d)" style="fill:#4b98ca;fill-opacity:0.6" /><path d="M1183.15 245.88L1186.32 251.79L1189.48 257.49L1191.44 257.62L1193.39 257.54L1190.25 251.87L1187.1 245.98L1185.13 246.03Z" clip-path="url(#p0a0b44ae8d)" style="fill:#61a7d2;fill-opacity:0.6" /><path d="M1339.08 289.37L1342.31 286.99L1345.55 284.38L1347.28 280.73L1349.01 276.87L1345.76 279.49L1342.54 281.89L1340.81 285.73Z" clip-path="url(#p0a0b44ae8d)" style="fill:#add0e6;fill-opacity:0.6" /><path d="M1267.33 331.5L1270.42 332.05L1273.52 332.4L1275.31 331.96L1277.09 331.32L1274 330.98L1270.92 330.43L1269.13 331.07Z" clip-path="url(#p0a0b44ae8d)" style="fill:#f1f7fd;fill-opacity:0.6" /><path d="M1210.58 294.68L1213.68 298.49L1216.78 302.1L1218.7 302.54L1220.6 302.78L1217.52 299.19L1214.43 295.39L1212.51 295.14Z" clip-path="url(#p0a0b44ae8d)" style="fill:#c9ddf0;fill-opacity:0.6" /><path d="M1216.78 302.1L1219.88 305.5L1222.97 308.7L1224.87 309.13L1226.76 309.35L1223.69 306.17L1220.6 302.78L1218.7 302.54Z" clip-path="url(#p0a0b44ae8d)" style="fill:#d1e2f3;fill-opacity:0.6" /><path d="M1251.37 327.52L1254.45 328.89L1257.53 330.05L1259.35 330.02L1261.17 329.79L1258.09 328.64L1255.02 327.28L1253.2 327.5Z" clip-path="url(#p0a0b44ae8d)" style="fill:#eef5fc;fill-opacity:0.6" /><path d="M1204.36 286.42L1207.47 290.65L1210.58 294.68L1212.51 295.14L1214.43 295.39L1211.33 291.39L1208.23 287.18L1206.3 286.9Z" clip-path="url(#p0a0b44ae8d)" style="fill:#bad6eb;fill-opacity:0.6" /><path d="M1355.95 259.43L1359.22 256.57L1362.52 253.48L1364.27 248.59L1366.02 243.5L1362.73 246.61L1359.45 249.49L1357.7 254.56Z" clip-path="url(#p0a0b44ae8d)" style="fill:#60a7d2;fill-opacity:0.6" /><path d="M1302.79 324.53L1305.93 323.44L1309.09 322.14L1310.82 320.5L1312.56 318.65L1309.4 319.96L1306.26 321.05L1304.53 322.89Z" clip-path="url(#p0a0b44ae8d)" style="fill:#e4eff9;fill-opacity:0.6" /><path d="M1222.97 308.7L1226.06 311.69L1229.15 314.48L1231.04 314.9L1232.92 315.11L1229.84 312.33L1226.76 309.35L1224.87 309.13Z" clip-path="url(#p0a0b44ae8d)" style="fill:#d8e7f5;fill-opacity:0.6" /><path d="M1293.04 328.78L1296.17 328.1L1299.3 327.22L1301.05 325.98L1302.79 324.53L1299.66 325.42L1296.54 326.1L1294.79 327.54Z" clip-path="url(#p0a0b44ae8d)" style="fill:#eaf3fb;fill-opacity:0.6" /><path d="M1198.11 277.33L1201.23 281.98L1204.36 286.42L1206.3 286.9L1208.23 287.18L1205.13 282.76L1202.01 278.13L1200.07 277.83Z" clip-path="url(#p0a0b44ae8d)" style="fill:#a8cee4;fill-opacity:0.6" /><path d="M1312.56 318.65L1315.72 317.14L1318.9 315.42L1320.63 313.38L1322.35 311.13L1319.17 312.86L1316.01 314.37L1314.28 316.61Z" clip-path="url(#p0a0b44ae8d)" style="fill:#dbe9f6;fill-opacity:0.6" /><path d="M1229.15 314.48L1232.23 317.07L1235.32 319.45L1237.2 319.85L1239.06 320.06L1235.99 317.68L1232.92 315.11L1231.04 314.9Z" clip-path="url(#p0a0b44ae8d)" style="fill:#deebf7;fill-opacity:0.6" /><path d="M1283.29 331.4L1286.4 331.14L1289.52 330.66L1291.28 329.82L1293.04 328.78L1289.92 329.25L1286.82 329.52L1285.06 330.56Z" clip-path="url(#p0a0b44ae8d)" style="fill:#eef5fc;fill-opacity:0.6" /><path d="M1352.47 268.56L1355.74 265.71L1359.03 262.64L1360.77 258.16L1362.52 253.48L1359.22 256.57L1355.95 259.43L1354.21 264.1Z" clip-path="url(#p0a0b44ae8d)" style="fill:#74b3d8;fill-opacity:0.6" /><path d="M1335.64 296.06L1338.86 293.69L1342.11 291.09L1343.83 287.84L1345.55 284.38L1342.31 286.99L1339.08 289.37L1337.36 292.82Z" clip-path="url(#p0a0b44ae8d)" style="fill:#b7d4ea;fill-opacity:0.6" /><path d="M1191.82 267.39L1194.97 272.47L1198.11 277.33L1200.07 277.83L1202.01 278.13L1198.89 273.29L1195.76 268.24L1193.8 267.92Z" clip-path="url(#p0a0b44ae8d)" style="fill:#91c3de;fill-opacity:0.6" /><path d="M1235.32 319.45L1238.41 321.63L1241.49 323.6L1243.36 324L1245.21 324.19L1242.14 322.23L1239.06 320.06L1237.2 319.85Z" clip-path="url(#p0a0b44ae8d)" style="fill:#e3eef8;fill-opacity:0.6" /><path d="M1322.35 311.13L1325.54 309.2L1328.75 307.05L1330.48 304.6L1332.2 301.95L1328.99 304.11L1325.8 306.05L1324.07 308.69Z" clip-path="url(#p0a0b44ae8d)" style="fill:#d0e1f2;fill-opacity:0.6" /><path d="M1257.53 330.05L1260.62 331L1263.71 331.76L1265.53 331.73L1267.33 331.5L1264.25 330.75L1261.17 329.79L1259.35 330.02Z" clip-path="url(#p0a0b44ae8d)" style="fill:#eef5fc;fill-opacity:0.6" /><path d="M1273.52 332.4L1276.62 332.54L1279.73 332.48L1281.51 332.04L1283.29 331.4L1280.18 331.46L1277.09 331.32L1275.31 331.96Z" clip-path="url(#p0a0b44ae8d)" style="fill:#eef5fc;fill-opacity:0.6" /><path d="M1349.01 276.87L1352.27 274.04L1355.56 270.99L1357.29 266.91L1359.03 262.64L1355.74 265.71L1352.47 268.56L1350.74 272.82Z" clip-path="url(#p0a0b44ae8d)" style="fill:#87bddc;fill-opacity:0.6" /><path d="M1185.5 256.6L1188.67 262.1L1191.82 267.39L1193.8 267.92L1195.76 268.24L1192.63 262.97L1189.48 257.49L1187.5 257.15Z" clip-path="url(#p0a0b44ae8d)" style="fill:#74b3d8;fill-opacity:0.6" /><path d="M1241.49 323.6L1244.58 325.38L1247.67 326.95L1249.52 327.34L1251.37 327.52L1248.29 325.96L1245.21 324.19L1243.36 324Z" clip-path="url(#p0a0b44ae8d)" style="fill:#e6f0f9;fill-opacity:0.6" /><path d="M1299.3 327.22L1302.45 326.13L1305.61 324.83L1307.35 323.59L1309.09 322.14L1305.93 323.44L1302.79 324.53L1301.05 325.98Z" clip-path="url(#p0a0b44ae8d)" style="fill:#e4eff9;fill-opacity:0.6" /><path d="M1332.2 301.95L1335.42 299.58L1338.66 297L1340.39 294.14L1342.11 291.09L1338.86 293.69L1335.64 296.06L1333.92 299.11Z" clip-path="url(#p0a0b44ae8d)" style="fill:#bfd8ed;fill-opacity:0.6" /><path d="M1373.1 221.05L1376.43 217.67L1379.79 214.06L1381.59 207.9L1383.39 201.52L1380.02 205.16L1376.68 208.57L1374.89 214.92Z" clip-path="url(#p0a0b44ae8d)" style="fill:#1562a9;fill-opacity:0.6" /><path d="M1376.68 208.57L1380.02 205.16L1383.39 201.52L1385.2 194.93L1381.83 198.58L1378.48 202.01Z" clip-path="url(#p0a0b44ae8d)" style="fill:#0a539e;fill-opacity:0.6" /><path d="M1369.55 232.69L1372.88 229.34L1376.23 225.76L1378 220.01L1379.79 214.06L1376.43 217.67L1373.1 221.05L1371.32 226.98Z" clip-path="url(#p0a0b44ae8d)" style="fill:#2676b8;fill-opacity:0.6" /><path d="M1309.09 322.14L1312.26 320.63L1315.44 318.91L1317.17 317.27L1318.9 315.42L1315.72 317.14L1312.56 318.65L1310.82 320.5Z" clip-path="url(#p0a0b44ae8d)" style="fill:#dceaf6;fill-opacity:0.6" /><path d="M1289.52 330.66L1292.66 329.99L1295.8 329.1L1297.55 328.26L1299.3 327.22L1296.17 328.1L1293.04 328.78L1291.28 329.82Z" clip-path="url(#p0a0b44ae8d)" style="fill:#e9f2fa;fill-opacity:0.6" /><path d="M1345.55 284.38L1348.82 281.56L1352.1 278.52L1353.83 274.85L1355.56 270.99L1352.27 274.04L1349.01 276.87L1347.28 280.73Z" clip-path="url(#p0a0b44ae8d)" style="fill:#97c6df;fill-opacity:0.6" /><path d="M1263.71 331.76L1266.81 332.31L1269.92 332.66L1271.72 332.63L1273.52 332.4L1270.42 332.05L1267.33 331.5L1265.53 331.73Z" clip-path="url(#p0a0b44ae8d)" style="fill:#edf4fc;fill-opacity:0.6" /><path d="M1179.14 244.93L1182.33 250.88L1185.5 256.6L1187.5 257.15L1189.48 257.49L1186.32 251.79L1183.15 245.88L1181.15 245.51Z" clip-path="url(#p0a0b44ae8d)" style="fill:#58a1cf;fill-opacity:0.6" /><path d="M1366.02 243.5L1369.34 240.17L1372.69 236.61L1374.45 231.29L1376.23 225.76L1372.88 229.34L1369.55 232.69L1367.78 238.2Z" clip-path="url(#p0a0b44ae8d)" style="fill:#3888c1;fill-opacity:0.6" /><path d="M1247.67 326.95L1250.76 328.32L1253.86 329.48L1255.7 329.87L1257.53 330.05L1254.45 328.89L1251.37 327.52L1249.52 327.34Z" clip-path="url(#p0a0b44ae8d)" style="fill:#e7f1fa;fill-opacity:0.6" /><path d="M1318.9 315.42L1322.1 313.49L1325.31 311.34L1327.03 309.29L1328.75 307.05L1325.54 309.2L1322.35 311.13L1320.63 313.38Z" clip-path="url(#p0a0b44ae8d)" style="fill:#d2e3f3;fill-opacity:0.6" /><path d="M1206.68 293.12L1209.8 296.95L1212.91 300.58L1214.85 301.44L1216.78 302.1L1213.68 298.49L1210.58 294.68L1208.64 294Z" clip-path="url(#p0a0b44ae8d)" style="fill:#bfd8ed;fill-opacity:0.6" /><path d="M1212.91 300.58L1216.02 304L1219.13 307.21L1221.06 308.06L1222.97 308.7L1219.88 305.5L1216.78 302.1L1214.85 301.44Z" clip-path="url(#p0a0b44ae8d)" style="fill:#cadef0;fill-opacity:0.6" /><path d="M1279.73 332.48L1282.85 332.21L1285.98 331.74L1287.76 331.31L1289.52 330.66L1286.4 331.14L1283.29 331.4L1281.51 332.04Z" clip-path="url(#p0a0b44ae8d)" style="fill:#eaf3fb;fill-opacity:0.6" /><path d="M1362.52 253.48L1365.83 250.17L1369.17 246.63L1370.92 241.72L1372.69 236.61L1369.34 240.17L1366.02 243.5L1364.27 248.59Z" clip-path="url(#p0a0b44ae8d)" style="fill:#4a98c9;fill-opacity:0.6" /><path d="M1200.42 284.83L1203.55 289.08L1206.68 293.12L1208.64 294L1210.58 294.68L1207.47 290.65L1204.36 286.42L1202.4 285.73Z" clip-path="url(#p0a0b44ae8d)" style="fill:#afd1e7;fill-opacity:0.6" /><path d="M1219.13 307.21L1222.23 310.22L1225.33 313.02L1227.25 313.85L1229.15 314.48L1226.06 311.69L1222.97 308.7L1221.06 308.06Z" clip-path="url(#p0a0b44ae8d)" style="fill:#d1e2f3;fill-opacity:0.6" /><path d="M1194.14 275.69L1197.28 280.37L1200.42 284.83L1202.4 285.73L1204.36 286.42L1201.23 281.98L1198.11 277.33L1196.13 276.62Z" clip-path="url(#p0a0b44ae8d)" style="fill:#9cc9e1;fill-opacity:0.6" /><path d="M1225.33 313.02L1228.43 315.62L1231.53 318.01L1233.43 318.83L1235.32 319.45L1232.23 317.07L1229.15 314.48L1227.25 313.85Z" clip-path="url(#p0a0b44ae8d)" style="fill:#d7e6f5;fill-opacity:0.6" /><path d="M1342.11 291.09L1345.37 288.28L1348.65 285.25L1350.37 281.98L1352.1 278.52L1348.82 281.56L1345.55 284.38L1343.83 287.84Z" clip-path="url(#p0a0b44ae8d)" style="fill:#a3cce3;fill-opacity:0.6" /><path d="M1359.03 262.64L1362.34 259.35L1365.67 255.83L1367.42 251.33L1369.17 246.63L1365.83 250.17L1362.52 253.48L1360.77 258.16Z" clip-path="url(#p0a0b44ae8d)" style="fill:#5ba3d0;fill-opacity:0.6" /><path d="M1328.75 307.05L1331.98 304.68L1335.22 302.1L1336.94 299.65L1338.66 297L1335.42 299.58L1332.2 301.95L1330.48 304.6Z" clip-path="url(#p0a0b44ae8d)" style="fill:#c6dbef;fill-opacity:0.6" /><path d="M1187.82 265.7L1190.99 270.81L1194.14 275.69L1196.13 276.62L1198.11 277.33L1194.97 272.47L1191.82 267.39L1189.83 266.66Z" clip-path="url(#p0a0b44ae8d)" style="fill:#82bbdb;fill-opacity:0.6" /><path d="M1269.92 332.66L1273.03 332.81L1276.15 332.75L1277.95 332.71L1279.73 332.48L1276.62 332.54L1273.52 332.4L1271.72 332.63Z" clip-path="url(#p0a0b44ae8d)" style="fill:#eaf3fb;fill-opacity:0.6" /><path d="M1253.86 329.48L1256.96 330.44L1260.06 331.2L1261.89 331.58L1263.71 331.76L1260.62 331L1257.53 330.05L1255.7 329.87Z" clip-path="url(#p0a0b44ae8d)" style="fill:#e7f1fa;fill-opacity:0.6" /><path d="M1231.53 318.01L1234.63 320.2L1237.73 322.18L1239.62 323L1241.49 323.6L1238.41 321.63L1235.32 319.45L1233.43 318.83Z" clip-path="url(#p0a0b44ae8d)" style="fill:#dbe9f6;fill-opacity:0.6" /><path d="M1305.61 324.83L1308.79 323.32L1311.98 321.6L1313.71 320.35L1315.44 318.91L1312.26 320.63L1309.09 322.14L1307.35 323.59Z" clip-path="url(#p0a0b44ae8d)" style="fill:#dce9f6;fill-opacity:0.6" /><path d="M1355.56 270.99L1358.87 267.71L1362.19 264.2L1363.93 260.12L1365.67 255.83L1362.34 259.35L1359.03 262.64L1357.29 266.91Z" clip-path="url(#p0a0b44ae8d)" style="fill:#6aaed6;fill-opacity:0.6" /><path d="M1295.8 329.1L1298.95 328.01L1302.12 326.71L1303.87 325.87L1305.61 324.83L1302.45 326.13L1299.3 327.22L1297.55 328.26Z" clip-path="url(#p0a0b44ae8d)" style="fill:#e2edf8;fill-opacity:0.6" /><path d="M1181.47 254.85L1184.65 260.39L1187.82 265.7L1189.83 266.66L1191.82 267.39L1188.67 262.1L1185.5 256.6L1183.49 255.83Z" clip-path="url(#p0a0b44ae8d)" style="fill:#65aad4;fill-opacity:0.6" /><path d="M1315.44 318.91L1318.64 316.98L1321.86 314.83L1323.58 313.19L1325.31 311.34L1322.1 313.49L1318.9 315.42L1317.17 317.27Z" clip-path="url(#p0a0b44ae8d)" style="fill:#d3e4f3;fill-opacity:0.6" /><path d="M1285.98 331.74L1289.12 331.07L1292.27 330.18L1294.04 329.74L1295.8 329.1L1292.66 329.99L1289.52 330.66L1287.76 331.31Z" clip-path="url(#p0a0b44ae8d)" style="fill:#e6f0f9;fill-opacity:0.6" /><path d="M1237.73 322.18L1240.83 323.97L1243.93 325.54L1245.81 326.35L1247.67 326.95L1244.58 325.38L1241.49 323.6L1239.62 323Z" clip-path="url(#p0a0b44ae8d)" style="fill:#deebf7;fill-opacity:0.6" /><path d="M1338.66 297L1341.93 294.19L1345.21 291.16L1346.93 288.31L1348.65 285.25L1345.37 288.28L1342.11 291.09L1340.39 294.14Z" clip-path="url(#p0a0b44ae8d)" style="fill:#abd0e6;fill-opacity:0.6" /><path d="M1260.06 331.2L1263.17 331.76L1266.29 332.11L1268.11 332.49L1269.92 332.66L1266.81 332.31L1263.71 331.76L1261.89 331.58Z" clip-path="url(#p0a0b44ae8d)" style="fill:#e7f0fa;fill-opacity:0.6" /><path d="M1379.79 214.06L1383.17 210.22L1386.58 206.15L1388.38 199.95L1390.19 193.54L1386.78 197.65L1383.39 201.52L1381.59 207.9Z" clip-path="url(#p0a0b44ae8d)" style="fill:#084f99;fill-opacity:0.6" /><path d="M1352.1 278.52L1355.4 275.25L1358.73 271.76L1360.46 268.08L1362.19 264.2L1358.87 267.71L1355.56 270.99L1353.83 274.85Z" clip-path="url(#p0a0b44ae8d)" style="fill:#7cb7da;fill-opacity:0.6" /><path d="M1325.31 311.34L1328.54 308.98L1331.78 306.4L1333.5 304.35L1335.22 302.1L1331.98 304.68L1328.75 307.05L1327.03 309.29Z" clip-path="url(#p0a0b44ae8d)" style="fill:#c8dcf0;fill-opacity:0.6" /><path d="M1383.39 201.52L1386.78 197.65L1390.19 193.54L1392.01 186.91L1388.59 191.04L1385.2 194.93Z" clip-path="url(#p0a0b44ae8d)" style="fill:#084082;fill-opacity:0.6" /><path d="M1376.23 225.76L1379.6 221.94L1383 217.9L1384.78 212.13L1386.58 206.15L1383.17 210.22L1379.79 214.06L1378 220.01Z" clip-path="url(#p0a0b44ae8d)" style="fill:#1562a9;fill-opacity:0.6" /><path d="M1175.07 243.13L1178.27 249.1L1181.47 254.85L1183.49 255.83L1185.5 256.6L1182.33 250.88L1179.14 244.93L1177.11 244.14Z" clip-path="url(#p0a0b44ae8d)" style="fill:#4b98ca;fill-opacity:0.6" /><path d="M1276.15 332.75L1279.28 332.48L1282.42 332.01L1284.21 331.98L1285.98 331.74L1282.85 332.21L1279.73 332.48L1277.95 332.71Z" clip-path="url(#p0a0b44ae8d)" style="fill:#e7f0fa;fill-opacity:0.6" /><path d="M1372.69 236.61L1376.05 232.82L1379.44 228.8L1381.22 223.45L1383 217.9L1379.6 221.94L1376.23 225.76L1374.45 231.29Z" clip-path="url(#p0a0b44ae8d)" style="fill:#2474b7;fill-opacity:0.6" /><path d="M1243.93 325.54L1247.04 326.92L1250.14 328.09L1252.01 328.89L1253.86 329.48L1250.76 328.32L1247.67 326.95L1245.81 326.35Z" clip-path="url(#p0a0b44ae8d)" style="fill:#e0ecf8;fill-opacity:0.6" /><path d="M1202.72 290.72L1205.85 294.57L1208.98 298.21L1210.95 299.5L1212.91 300.58L1209.8 296.95L1206.68 293.12L1204.71 292.02Z" clip-path="url(#p0a0b44ae8d)" style="fill:#b2d2e8;fill-opacity:0.6" /><path d="M1208.98 298.21L1212.11 301.65L1215.23 304.88L1217.19 306.15L1219.13 307.21L1216.02 304L1212.91 300.58L1210.95 299.5Z" clip-path="url(#p0a0b44ae8d)" style="fill:#bfd8ed;fill-opacity:0.6" /><path d="M1369.17 246.63L1372.53 242.86L1375.91 238.87L1377.67 233.94L1379.44 228.8L1376.05 232.82L1372.69 236.61L1370.92 241.72Z" clip-path="url(#p0a0b44ae8d)" style="fill:#3484bf;fill-opacity:0.6" /><path d="M1196.43 282.38L1199.58 286.65L1202.72 290.72L1204.71 292.02L1206.68 293.12L1203.55 289.08L1200.42 284.83L1198.43 283.71Z" clip-path="url(#p0a0b44ae8d)" style="fill:#a1cbe2;fill-opacity:0.6" /><path d="M1215.23 304.88L1218.35 307.9L1221.47 310.72L1223.41 311.97L1225.33 313.02L1222.23 310.22L1219.13 307.21L1217.19 306.15Z" clip-path="url(#p0a0b44ae8d)" style="fill:#c9ddf0;fill-opacity:0.6" /><path d="M1335.22 302.1L1338.49 299.3L1341.77 296.27L1343.49 293.82L1345.21 291.16L1341.93 294.19L1338.66 297L1336.94 299.65Z" clip-path="url(#p0a0b44ae8d)" style="fill:#b2d2e8;fill-opacity:0.6" /><path d="M1190.11 273.19L1193.27 277.89L1196.43 282.38L1198.43 283.71L1200.42 284.83L1197.28 280.37L1194.14 275.69L1192.13 274.55Z" clip-path="url(#p0a0b44ae8d)" style="fill:#8abfdd;fill-opacity:0.6" /><path d="M1348.65 285.25L1351.95 281.99L1355.28 278.51L1357 275.24L1358.73 271.76L1355.4 275.25L1352.1 278.52L1350.37 281.98Z" clip-path="url(#p0a0b44ae8d)" style="fill:#89bedc;fill-opacity:0.6" /><path d="M1302.12 326.71L1305.3 325.2L1308.49 323.47L1310.24 322.64L1311.98 321.6L1308.79 323.32L1305.61 324.83L1303.87 325.87Z" clip-path="url(#p0a0b44ae8d)" style="fill:#dae8f6;fill-opacity:0.6" /><path d="M1221.47 310.72L1224.58 313.33L1227.69 315.73L1229.62 316.98L1231.53 318.01L1228.43 315.62L1225.33 313.02L1223.41 311.97Z" clip-path="url(#p0a0b44ae8d)" style="fill:#cfe1f2;fill-opacity:0.6" /><path d="M1266.29 332.11L1269.41 332.25L1272.54 332.19L1274.35 332.57L1276.15 332.75L1273.03 332.81L1269.92 332.66L1268.11 332.49Z" clip-path="url(#p0a0b44ae8d)" style="fill:#e4eff9;fill-opacity:0.6" /><path d="M1365.67 255.83L1369.03 252.08L1372.41 248.1L1374.16 243.59L1375.91 238.87L1372.53 242.86L1369.17 246.63L1367.42 251.33Z" clip-path="url(#p0a0b44ae8d)" style="fill:#4292c6;fill-opacity:0.6" /><path d="M1311.98 321.6L1315.18 319.66L1318.4 317.51L1320.13 316.27L1321.86 314.83L1318.64 316.98L1315.44 318.91L1313.71 320.35Z" clip-path="url(#p0a0b44ae8d)" style="fill:#d3e3f3;fill-opacity:0.6" /><path d="M1292.27 330.18L1295.44 329.09L1298.61 327.78L1300.37 327.35L1302.12 326.71L1298.95 328.01L1295.8 329.1L1294.04 329.74Z" clip-path="url(#p0a0b44ae8d)" style="fill:#dfebf7;fill-opacity:0.6" /><path d="M1250.14 328.09L1253.26 329.05L1256.37 329.81L1258.22 330.61L1260.06 331.2L1256.96 330.44L1253.86 329.48L1252.01 328.89Z" clip-path="url(#p0a0b44ae8d)" style="fill:#e0ecf8;fill-opacity:0.6" /><path d="M1183.76 263.15L1186.94 268.28L1190.11 273.19L1192.13 274.55L1194.14 275.69L1190.99 270.81L1187.82 265.7L1185.8 264.54Z" clip-path="url(#p0a0b44ae8d)" style="fill:#6fb0d7;fill-opacity:0.6" /><path d="M1227.69 315.73L1230.81 317.93L1233.92 319.92L1235.83 321.16L1237.73 322.18L1234.63 320.2L1231.53 318.01L1229.62 316.98Z" clip-path="url(#p0a0b44ae8d)" style="fill:#d3e3f3;fill-opacity:0.6" /><path d="M1321.86 314.83L1325.09 312.47L1328.34 309.88L1330.06 308.24L1331.78 306.4L1328.54 308.98L1325.31 311.34L1323.58 313.19Z" clip-path="url(#p0a0b44ae8d)" style="fill:#c9ddf0;fill-opacity:0.6" /><path d="M1282.42 332.01L1285.57 331.33L1288.72 330.44L1290.5 330.41L1292.27 330.18L1289.12 331.07L1285.98 331.74L1284.21 331.98Z" clip-path="url(#p0a0b44ae8d)" style="fill:#e1edf8;fill-opacity:0.6" /><path d="M1362.19 264.2L1365.54 260.47L1368.92 256.51L1370.66 252.41L1372.41 248.1L1369.03 252.08L1365.67 255.83L1363.93 260.12Z" clip-path="url(#p0a0b44ae8d)" style="fill:#529dcc;fill-opacity:0.6" /><path d="M1177.36 252.25L1180.57 257.81L1183.76 263.15L1185.8 264.54L1187.82 265.7L1184.65 260.39L1181.47 254.85L1179.42 253.66Z" clip-path="url(#p0a0b44ae8d)" style="fill:#57a0ce;fill-opacity:0.6" /><path d="M1386.58 206.15L1390.01 201.83L1391.82 195.62L1393.63 189.19L1390.19 193.54L1388.38 199.95Z" clip-path="url(#p0a0b44ae8d)" style="fill:#084082;fill-opacity:0.6" /><path d="M1390.19 193.54L1393.63 189.19L1395.46 182.55L1392.01 186.91Z" clip-path="url(#p0a0b44ae8d)" style="fill:#08306b;fill-opacity:0.6" /><path d="M1383 217.9L1386.42 213.61L1388.21 207.83L1390.01 201.83L1386.58 206.15L1384.78 212.13Z" clip-path="url(#p0a0b44ae8d)" style="fill:#0a539e;fill-opacity:0.6" /><path d="M1345.21 291.16L1348.51 287.91L1351.83 284.44L1353.55 281.57L1355.28 278.51L1351.95 281.99L1348.65 285.25L1346.93 288.31Z" clip-path="url(#p0a0b44ae8d)" style="fill:#94c4df;fill-opacity:0.6" /><path d="M1233.92 319.92L1237.03 321.71L1240.15 323.3L1242.05 324.53L1243.93 325.54L1240.83 323.97L1237.73 322.18L1235.83 321.16Z" clip-path="url(#p0a0b44ae8d)" style="fill:#d6e5f4;fill-opacity:0.6" /><path d="M1379.44 228.8L1382.86 224.55L1384.63 219.19L1386.42 213.61L1383 217.9L1381.22 223.45Z" clip-path="url(#p0a0b44ae8d)" style="fill:#1764ab;fill-opacity:0.6" /><path d="M1331.78 306.4L1335.05 303.59L1338.33 300.57L1340.05 298.52L1341.77 296.27L1338.49 299.3L1335.22 302.1L1333.5 304.35Z" clip-path="url(#p0a0b44ae8d)" style="fill:#b5d4e9;fill-opacity:0.6" /><path d="M1256.37 329.81L1259.49 330.37L1262.62 330.72L1264.46 331.52L1266.29 332.11L1263.17 331.76L1260.06 331.2L1258.22 330.61Z" clip-path="url(#p0a0b44ae8d)" style="fill:#dfecf7;fill-opacity:0.6" /><path d="M1272.54 332.19L1275.68 331.92L1278.82 331.45L1280.63 331.83L1282.42 332.01L1279.28 332.48L1276.15 332.75L1274.35 332.57Z" clip-path="url(#p0a0b44ae8d)" style="fill:#e0ecf8;fill-opacity:0.6" /><path d="M1358.73 271.76L1362.08 268.04L1365.45 264.09L1367.18 260.4L1368.92 256.51L1365.54 260.47L1362.19 264.2L1360.46 268.08Z" clip-path="url(#p0a0b44ae8d)" style="fill:#5fa6d1;fill-opacity:0.6" /><path d="M1375.91 238.87L1379.32 234.63L1381.09 229.69L1382.86 224.55L1379.44 228.8L1377.67 233.94Z" clip-path="url(#p0a0b44ae8d)" style="fill:#2474b7;fill-opacity:0.6" /><path d="M1170.93 240.46L1174.15 246.46L1177.36 252.25L1179.42 253.66L1181.47 254.85L1178.27 249.1L1175.07 243.13L1173.01 241.9Z" clip-path="url(#p0a0b44ae8d)" style="fill:#3e8ec4;fill-opacity:0.6" /><path d="M1240.15 323.3L1243.27 324.68L1246.39 325.85L1248.27 327.07L1250.14 328.09L1247.04 326.92L1243.93 325.54L1242.05 324.53Z" clip-path="url(#p0a0b44ae8d)" style="fill:#d8e7f5;fill-opacity:0.6" /><path d="M1308.49 323.47L1311.7 321.54L1314.93 319.38L1316.66 318.55L1318.4 317.51L1315.18 319.66L1311.98 321.6L1310.24 322.64Z" clip-path="url(#p0a0b44ae8d)" style="fill:#d1e2f3;fill-opacity:0.6" /><path d="M1298.61 327.78L1301.8 326.26L1305 324.53L1306.75 324.11L1308.49 323.47L1305.3 325.2L1302.12 326.71L1300.37 327.35Z" clip-path="url(#p0a0b44ae8d)" style="fill:#d7e6f5;fill-opacity:0.6" /><path d="M1372.41 248.1L1375.81 243.89L1377.56 239.37L1379.32 234.63L1375.91 238.87L1374.16 243.59Z" clip-path="url(#p0a0b44ae8d)" style="fill:#3383be;fill-opacity:0.6" /><path d="M1318.4 317.51L1321.63 315.15L1324.89 312.56L1326.61 311.33L1328.34 309.88L1325.09 312.47L1321.86 314.83L1320.13 316.27Z" clip-path="url(#p0a0b44ae8d)" style="fill:#c9ddf0;fill-opacity:0.6" /><path d="M1198.69 287.44L1201.85 291.32L1204.99 294.98L1207 296.71L1208.98 298.21L1205.85 294.57L1202.72 290.72L1200.71 289.19Z" clip-path="url(#p0a0b44ae8d)" style="fill:#a1cbe2;fill-opacity:0.6" /><path d="M1204.99 294.98L1208.14 298.44L1211.28 301.68L1213.26 303.39L1215.23 304.88L1212.11 301.65L1208.98 298.21L1207 296.71Z" clip-path="url(#p0a0b44ae8d)" style="fill:#afd1e7;fill-opacity:0.6" /><path d="M1341.77 296.27L1345.07 293.03L1348.39 289.55L1350.11 287.1L1351.83 284.44L1348.51 287.91L1345.21 291.16L1343.49 293.82Z" clip-path="url(#p0a0b44ae8d)" style="fill:#9cc9e1;fill-opacity:0.6" /><path d="M1288.72 330.44L1291.89 329.34L1295.07 328.03L1296.84 328.01L1298.61 327.78L1295.44 329.09L1292.27 330.18L1290.5 330.41Z" clip-path="url(#p0a0b44ae8d)" style="fill:#dbe9f6;fill-opacity:0.6" /><path d="M1192.37 279.06L1195.53 283.36L1198.69 287.44L1200.71 289.19L1202.72 290.72L1199.58 286.65L1196.43 282.38L1194.41 280.83Z" clip-path="url(#p0a0b44ae8d)" style="fill:#8dc1dd;fill-opacity:0.6" /><path d="M1211.28 301.68L1214.41 304.72L1217.54 307.55L1219.51 309.24L1221.47 310.72L1218.35 307.9L1215.23 304.88L1213.26 303.39Z" clip-path="url(#p0a0b44ae8d)" style="fill:#bad6eb;fill-opacity:0.6" /><path d="M1355.28 278.51L1358.62 274.8L1361.99 270.86L1363.72 267.58L1365.45 264.09L1362.08 268.04L1358.73 271.76L1357 275.24Z" clip-path="url(#p0a0b44ae8d)" style="fill:#6aaed6;fill-opacity:0.6" /><path d="M1262.62 330.72L1265.75 330.86L1268.89 330.8L1270.72 331.6L1272.54 332.19L1269.41 332.25L1266.29 332.11L1264.46 331.52Z" clip-path="url(#p0a0b44ae8d)" style="fill:#ddeaf7;fill-opacity:0.6" /><path d="M1186.01 269.83L1189.2 274.55L1192.37 279.06L1194.41 280.83L1196.43 282.38L1193.27 277.89L1190.11 273.19L1188.07 271.62Z" clip-path="url(#p0a0b44ae8d)" style="fill:#75b4d8;fill-opacity:0.6" /><path d="M1368.92 256.51L1372.32 252.31L1374.06 248.2L1375.81 243.89L1372.41 248.1L1370.66 252.41Z" clip-path="url(#p0a0b44ae8d)" style="fill:#3f8fc5;fill-opacity:0.6" /><path d="M1217.54 307.55L1220.67 310.17L1223.8 312.59L1225.75 314.27L1227.69 315.73L1224.58 313.33L1221.47 310.72L1219.51 309.24Z" clip-path="url(#p0a0b44ae8d)" style="fill:#c4daee;fill-opacity:0.6" /><path d="M1328.34 309.88L1331.6 307.08L1334.89 304.06L1336.61 302.42L1338.33 300.57L1335.05 303.59L1331.78 306.4L1330.06 308.24Z" clip-path="url(#p0a0b44ae8d)" style="fill:#b7d4ea;fill-opacity:0.6" /><path d="M1246.39 325.85L1249.51 326.82L1252.64 327.58L1254.51 328.8L1256.37 329.81L1253.26 329.05L1250.14 328.09L1248.27 327.07Z" clip-path="url(#p0a0b44ae8d)" style="fill:#d8e7f5;fill-opacity:0.6" /><path d="M1278.82 331.45L1281.98 330.76L1285.15 329.87L1286.94 330.26L1288.72 330.44L1285.57 331.33L1282.42 332.01L1280.63 331.83Z" clip-path="url(#p0a0b44ae8d)" style="fill:#dbe9f6;fill-opacity:0.6" /><path d="M1179.62 259.73L1182.82 264.88L1186.01 269.83L1188.07 271.62L1190.11 273.19L1186.94 268.28L1183.76 263.15L1181.7 261.55Z" clip-path="url(#p0a0b44ae8d)" style="fill:#5fa6d1;fill-opacity:0.6" /><path d="M1223.8 312.59L1226.93 314.8L1230.06 316.8L1231.99 318.47L1233.92 319.92L1230.81 317.93L1227.69 315.73L1225.75 314.27Z" clip-path="url(#p0a0b44ae8d)" style="fill:#c9ddf0;fill-opacity:0.6" /><path d="M1365.45 264.09L1368.84 259.91L1370.58 256.21L1372.32 252.31L1368.92 256.51L1367.18 260.4Z" clip-path="url(#p0a0b44ae8d)" style="fill:#4b98ca;fill-opacity:0.6" /><path d="M1351.83 284.44L1355.18 280.73L1358.54 276.8L1360.27 273.93L1361.99 270.86L1358.62 274.8L1355.28 278.51L1353.55 281.57Z" clip-path="url(#p0a0b44ae8d)" style="fill:#75b4d8;fill-opacity:0.6" /><path d="M1173.19 248.75L1176.41 254.35L1179.62 259.73L1181.7 261.55L1183.76 263.15L1180.57 257.81L1177.36 252.25L1175.29 250.61Z" clip-path="url(#p0a0b44ae8d)" style="fill:#4695c8;fill-opacity:0.6" /><path d="M1338.33 300.57L1341.63 297.33L1344.96 293.86L1346.67 291.81L1348.39 289.55L1345.07 293.03L1341.77 296.27L1340.05 298.52Z" clip-path="url(#p0a0b44ae8d)" style="fill:#a0cbe2;fill-opacity:0.6" /><path d="M1230.06 316.8L1233.18 318.6L1236.31 320.19L1238.24 321.85L1240.15 323.3L1237.03 321.71L1233.92 319.92L1231.99 318.47Z" clip-path="url(#p0a0b44ae8d)" style="fill:#ccdff1;fill-opacity:0.6" /><path d="M1268.89 330.8L1272.04 330.53L1275.2 330.05L1277.02 330.85L1278.82 331.45L1275.68 331.92L1272.54 332.19L1270.72 331.6Z" clip-path="url(#p0a0b44ae8d)" style="fill:#d9e8f5;fill-opacity:0.6" /><path d="M1252.64 327.58L1255.77 328.14L1258.91 328.48L1260.77 329.71L1262.62 330.72L1259.49 330.37L1256.37 329.81L1254.51 328.8Z" clip-path="url(#p0a0b44ae8d)" style="fill:#d7e6f5;fill-opacity:0.6" /><path d="M1305 324.53L1308.21 322.59L1311.44 320.43L1313.18 320.01L1314.93 319.38L1311.7 321.54L1308.49 323.47L1306.75 324.11Z" clip-path="url(#p0a0b44ae8d)" style="fill:#cee0f2;fill-opacity:0.6" /><path d="M1314.93 319.38L1318.17 317.01L1321.42 314.42L1323.16 313.59L1324.89 312.56L1321.63 315.15L1318.4 317.51L1316.66 318.55Z" clip-path="url(#p0a0b44ae8d)" style="fill:#c7dbef;fill-opacity:0.6" /><path d="M1295.07 328.03L1298.27 326.51L1301.48 324.77L1303.24 324.76L1305 324.53L1301.8 326.26L1298.61 327.78L1296.84 328.01Z" clip-path="url(#p0a0b44ae8d)" style="fill:#d3e3f3;fill-opacity:0.6" /><path d="M1166.71 236.89L1169.96 242.94L1173.19 248.75L1175.29 250.61L1177.36 252.25L1174.15 246.46L1170.93 240.46L1168.83 238.79Z" clip-path="url(#p0a0b44ae8d)" style="fill:#3181bd;fill-opacity:0.6" /><path d="M1361.99 270.86L1365.38 266.68L1367.11 263.4L1368.84 259.91L1365.45 264.09L1363.72 267.58Z" clip-path="url(#p0a0b44ae8d)" style="fill:#56a0ce;fill-opacity:0.6" /><path d="M1324.89 312.56L1328.16 309.76L1331.44 306.73L1333.17 305.5L1334.89 304.06L1331.6 307.08L1328.34 309.88L1326.61 311.33Z" clip-path="url(#p0a0b44ae8d)" style="fill:#b7d4ea;fill-opacity:0.6" /><path d="M1285.15 329.87L1288.33 328.76L1291.52 327.45L1293.3 327.84L1295.07 328.03L1291.89 329.34L1288.72 330.44L1286.94 330.26Z" clip-path="url(#p0a0b44ae8d)" style="fill:#d5e5f4;fill-opacity:0.6" /><path d="M1236.31 320.19L1239.45 321.58L1242.58 322.75L1244.49 324.41L1246.39 325.85L1243.27 324.68L1240.15 323.3L1238.24 321.85Z" clip-path="url(#p0a0b44ae8d)" style="fill:#cee0f2;fill-opacity:0.6" /><path d="M1348.39 289.55L1351.74 285.85L1355.11 281.92L1356.82 279.46L1358.54 276.8L1355.18 280.73L1351.83 284.44L1350.11 287.1Z" clip-path="url(#p0a0b44ae8d)" style="fill:#7cb7da;fill-opacity:0.6" /><path d="M1258.91 328.48L1262.05 328.63L1265.21 328.56L1267.05 329.79L1268.89 330.8L1265.75 330.86L1262.62 330.72L1260.77 329.71Z" clip-path="url(#p0a0b44ae8d)" style="fill:#d5e5f4;fill-opacity:0.6" /><path d="M1194.6 283.29L1197.78 287.19L1200.94 290.87L1202.98 293.04L1204.99 294.98L1201.85 291.32L1198.69 287.44L1196.66 285.48Z" clip-path="url(#p0a0b44ae8d)" style="fill:#8abfdd;fill-opacity:0.6" /><path d="M1200.94 290.87L1204.1 294.35L1207.26 297.61L1209.27 299.76L1211.28 301.68L1208.14 298.44L1204.99 294.98L1202.98 293.04Z" clip-path="url(#p0a0b44ae8d)" style="fill:#9cc9e1;fill-opacity:0.6" /><path d="M1334.89 304.06L1338.2 300.81L1341.52 297.34L1343.24 295.7L1344.96 293.86L1341.63 297.33L1338.33 300.57L1336.61 302.42Z" clip-path="url(#p0a0b44ae8d)" style="fill:#a1cbe2;fill-opacity:0.6" /><path d="M1188.24 274.86L1191.43 279.18L1194.6 283.29L1196.66 285.48L1198.69 287.44L1195.53 283.36L1192.37 279.06L1190.31 277.07Z" clip-path="url(#p0a0b44ae8d)" style="fill:#75b4d8;fill-opacity:0.6" /><path d="M1207.26 297.61L1210.41 300.67L1213.56 303.51L1215.56 305.64L1217.54 307.55L1214.41 304.72L1211.28 301.68L1209.27 299.76Z" clip-path="url(#p0a0b44ae8d)" style="fill:#a8cee4;fill-opacity:0.6" /><path d="M1275.2 330.05L1278.36 329.36L1281.54 328.46L1283.35 329.27L1285.15 329.87L1281.98 330.76L1278.82 331.45L1277.02 330.85Z" clip-path="url(#p0a0b44ae8d)" style="fill:#d4e4f4;fill-opacity:0.6" /><path d="M1181.85 265.57L1185.05 270.32L1188.24 274.86L1190.31 277.07L1192.37 279.06L1189.2 274.55L1186.01 269.83L1183.94 267.81Z" clip-path="url(#p0a0b44ae8d)" style="fill:#60a7d2;fill-opacity:0.6" /><path d="M1242.58 322.75L1245.72 323.72L1248.86 324.49L1250.75 326.14L1252.64 327.58L1249.51 326.82L1246.39 325.85L1244.49 324.41Z" clip-path="url(#p0a0b44ae8d)" style="fill:#cee0f2;fill-opacity:0.6" /><path d="M1358.54 276.8L1361.94 272.63L1363.66 269.76L1365.38 266.68L1361.99 270.86L1360.27 273.93Z" clip-path="url(#p0a0b44ae8d)" style="fill:#5fa6d1;fill-opacity:0.6" /><path d="M1213.56 303.51L1216.7 306.15L1219.85 308.58L1221.83 310.69L1223.8 312.59L1220.67 310.17L1217.54 307.55L1215.56 305.64Z" clip-path="url(#p0a0b44ae8d)" style="fill:#b2d2e8;fill-opacity:0.6" /><path d="M1175.41 255.41L1178.63 260.6L1181.85 265.57L1183.94 267.81L1186.01 269.83L1182.82 264.88L1179.62 259.73L1177.53 257.68Z" clip-path="url(#p0a0b44ae8d)" style="fill:#4b98ca;fill-opacity:0.6" /><path d="M1311.44 320.43L1314.68 318.05L1317.95 315.45L1319.69 315.04L1321.42 314.42L1318.17 317.01L1314.93 319.38L1313.18 320.01Z" clip-path="url(#p0a0b44ae8d)" style="fill:#c2d9ee;fill-opacity:0.6" /><path d="M1301.48 324.77L1304.7 322.82L1307.93 320.65L1309.69 320.64L1311.44 320.43L1308.21 322.59L1305 324.53L1303.24 324.76Z" clip-path="url(#p0a0b44ae8d)" style="fill:#caddf0;fill-opacity:0.6" /><path d="M1219.85 308.58L1222.99 310.8L1226.14 312.81L1228.1 314.92L1230.06 316.8L1226.93 314.8L1223.8 312.59L1221.83 310.69Z" clip-path="url(#p0a0b44ae8d)" style="fill:#b9d6ea;fill-opacity:0.6" /><path d="M1344.96 293.86L1348.3 290.16L1351.67 286.23L1353.39 284.18L1355.11 281.92L1351.74 285.85L1348.39 289.55L1346.67 291.81Z" clip-path="url(#p0a0b44ae8d)" style="fill:#82bbdb;fill-opacity:0.6" /><path d="M1321.42 314.42L1324.7 311.61L1327.99 308.57L1329.72 307.76L1331.44 306.73L1328.16 309.76L1324.89 312.56L1323.16 313.59Z" clip-path="url(#p0a0b44ae8d)" style="fill:#b4d3e9;fill-opacity:0.6" /><path d="M1291.52 327.45L1294.72 325.92L1297.93 324.17L1299.71 324.58L1301.48 324.77L1298.27 326.51L1295.07 328.03L1293.3 327.84Z" clip-path="url(#p0a0b44ae8d)" style="fill:#cde0f1;fill-opacity:0.6" /><path d="M1265.21 328.56L1268.37 328.28L1271.53 327.8L1273.37 329.03L1275.2 330.05L1272.04 330.53L1268.89 330.8L1267.05 329.79Z" clip-path="url(#p0a0b44ae8d)" style="fill:#d1e2f3;fill-opacity:0.6" /><path d="M1168.94 244.36L1172.18 250L1175.41 255.41L1177.53 257.68L1179.62 259.73L1176.41 254.35L1173.19 248.75L1171.07 246.67Z" clip-path="url(#p0a0b44ae8d)" style="fill:#3787c0;fill-opacity:0.6" /><path d="M1248.86 324.49L1252 325.04L1255.16 325.39L1257.04 327.05L1258.91 328.48L1255.77 328.14L1252.64 327.58L1250.75 326.14Z" clip-path="url(#p0a0b44ae8d)" style="fill:#cde0f1;fill-opacity:0.6" /><path d="M1226.14 312.81L1229.28 314.62L1232.43 316.21L1234.38 318.31L1236.31 320.19L1233.18 318.6L1230.06 316.8L1228.1 314.92Z" clip-path="url(#p0a0b44ae8d)" style="fill:#bed8ec;fill-opacity:0.6" /><path d="M1355.11 281.92L1358.5 277.76L1360.21 275.3L1361.94 272.63L1358.54 276.8L1356.82 279.46Z" clip-path="url(#p0a0b44ae8d)" style="fill:#65aad4;fill-opacity:0.6" /><path d="M1331.44 306.73L1334.75 303.48L1338.08 300L1339.8 298.77L1341.52 297.34L1338.2 300.81L1334.89 304.06L1333.17 305.5Z" clip-path="url(#p0a0b44ae8d)" style="fill:#a1cbe2;fill-opacity:0.6" /><path d="M1281.54 328.46L1284.73 327.34L1287.93 326.02L1289.73 326.84L1291.52 327.45L1288.33 328.76L1285.15 329.87L1283.35 329.27Z" clip-path="url(#p0a0b44ae8d)" style="fill:#cee0f2;fill-opacity:0.6" /><path d="M1162.41 232.43L1165.68 238.51L1168.94 244.36L1171.07 246.67L1173.19 248.75L1169.96 242.94L1166.71 236.89L1164.57 234.78Z" clip-path="url(#p0a0b44ae8d)" style="fill:#2272b6;fill-opacity:0.6" /><path d="M1232.43 316.21L1235.57 317.6L1238.72 318.78L1240.66 320.88L1242.58 322.75L1239.45 321.58L1236.31 320.19L1234.38 318.31Z" clip-path="url(#p0a0b44ae8d)" style="fill:#c1d9ed;fill-opacity:0.6" /><path d="M1341.52 297.34L1344.87 293.64L1348.24 289.7L1349.95 288.07L1351.67 286.23L1348.3 290.16L1344.96 293.86L1343.24 295.7Z" clip-path="url(#p0a0b44ae8d)" style="fill:#84bcdb;fill-opacity:0.6" /><path d="M1255.16 325.39L1258.31 325.53L1261.48 325.46L1263.35 327.12L1265.21 328.56L1262.05 328.63L1258.91 328.48L1257.04 327.05Z" clip-path="url(#p0a0b44ae8d)" style="fill:#cbdef1;fill-opacity:0.6" /><path d="M1271.53 327.8L1274.71 327.1L1277.9 326.19L1279.72 327.43L1281.54 328.46L1278.36 329.36L1275.2 330.05L1273.37 329.03Z" clip-path="url(#p0a0b44ae8d)" style="fill:#ccdff1;fill-opacity:0.6" /><path d="M1190.44 278.24L1193.63 282.16L1196.82 285.87L1198.89 288.48L1200.94 290.87L1197.78 287.19L1194.6 283.29L1192.53 280.88Z" clip-path="url(#p0a0b44ae8d)" style="fill:#6fb0d7;fill-opacity:0.6" /><path d="M1196.82 285.87L1200 289.36L1203.17 292.65L1205.22 295.24L1207.26 297.61L1204.1 294.35L1200.94 290.87L1198.89 288.48Z" clip-path="url(#p0a0b44ae8d)" style="fill:#82bbdb;fill-opacity:0.6" /><path d="M1307.93 320.65L1311.19 318.26L1314.46 315.65L1316.2 315.66L1317.95 315.45L1314.68 318.05L1311.44 320.43L1309.69 320.64Z" clip-path="url(#p0a0b44ae8d)" style="fill:#bcd7eb;fill-opacity:0.6" /><path d="M1351.67 286.23L1355.06 282.06L1356.78 280.01L1358.5 277.76L1355.11 281.92L1353.39 284.18Z" clip-path="url(#p0a0b44ae8d)" style="fill:#69add5;fill-opacity:0.6" /><path d="M1184.04 269.75L1187.24 274.1L1190.44 278.24L1192.53 280.88L1194.6 283.29L1191.43 279.18L1188.24 274.86L1186.15 272.42Z" clip-path="url(#p0a0b44ae8d)" style="fill:#5fa6d1;fill-opacity:0.6" /><path d="M1317.95 315.45L1321.23 312.63L1324.53 309.59L1326.26 309.19L1327.99 308.57L1324.7 311.61L1321.42 314.42L1319.69 315.04Z" clip-path="url(#p0a0b44ae8d)" style="fill:#afd1e7;fill-opacity:0.6" /><path d="M1203.17 292.65L1206.34 295.72L1209.51 298.58L1211.54 301.16L1213.56 303.51L1210.41 300.67L1207.26 297.61L1205.22 295.24Z" clip-path="url(#p0a0b44ae8d)" style="fill:#91c3de;fill-opacity:0.6" /><path d="M1297.93 324.17L1301.16 322.21L1304.41 320.03L1306.17 320.44L1307.93 320.65L1304.7 322.82L1301.48 324.77L1299.71 324.58Z" clip-path="url(#p0a0b44ae8d)" style="fill:#c3daee;fill-opacity:0.6" /><path d="M1238.72 318.78L1241.87 319.75L1245.03 320.52L1246.95 322.61L1248.86 324.49L1245.72 323.72L1242.58 322.75L1240.66 320.88Z" clip-path="url(#p0a0b44ae8d)" style="fill:#c1d9ed;fill-opacity:0.6" /><path d="M1177.6 260.4L1180.82 265.18L1184.04 269.75L1186.15 272.42L1188.24 274.86L1185.05 270.32L1181.85 265.57L1179.73 263.1Z" clip-path="url(#p0a0b44ae8d)" style="fill:#4b98ca;fill-opacity:0.6" /><path d="M1209.51 298.58L1212.67 301.23L1215.84 303.67L1217.85 306.24L1219.85 308.58L1216.7 306.15L1213.56 303.51L1211.54 301.16Z" clip-path="url(#p0a0b44ae8d)" style="fill:#9cc9e1;fill-opacity:0.6" /><path d="M1327.99 308.57L1331.3 305.31L1334.64 301.83L1336.36 301.02L1338.08 300L1334.75 303.48L1331.44 306.73L1329.72 307.76Z" clip-path="url(#p0a0b44ae8d)" style="fill:#9dcae1;fill-opacity:0.6" /><path d="M1287.93 326.02L1291.14 324.48L1294.36 322.72L1296.15 323.55L1297.93 324.17L1294.72 325.92L1291.52 327.45L1289.73 326.84Z" clip-path="url(#p0a0b44ae8d)" style="fill:#c6dbef;fill-opacity:0.6" /><path d="M1171.13 250.17L1174.37 255.4L1177.6 260.4L1179.73 263.1L1181.85 265.57L1178.63 260.6L1175.41 255.41L1173.28 252.9Z" clip-path="url(#p0a0b44ae8d)" style="fill:#3888c1;fill-opacity:0.6" /><path d="M1215.84 303.67L1219 305.9L1222.16 307.92L1224.16 310.48L1226.14 312.81L1222.99 310.8L1219.85 308.58L1217.85 306.24Z" clip-path="url(#p0a0b44ae8d)" style="fill:#a4cce3;fill-opacity:0.6" /><path d="M1261.48 325.46L1264.65 325.18L1267.83 324.68L1269.69 326.35L1271.53 327.8L1268.37 328.28L1265.21 328.56L1263.35 327.12Z" clip-path="url(#p0a0b44ae8d)" style="fill:#c7dcef;fill-opacity:0.6" /><path d="M1338.08 300L1341.43 296.29L1344.8 292.35L1346.52 291.13L1348.24 289.7L1344.87 293.64L1341.52 297.34L1339.8 298.77Z" clip-path="url(#p0a0b44ae8d)" style="fill:#82bbdb;fill-opacity:0.6" /><path d="M1245.03 320.52L1248.19 321.07L1251.35 321.42L1253.26 323.52L1255.16 325.39L1252 325.04L1248.86 324.49L1246.95 322.61Z" clip-path="url(#p0a0b44ae8d)" style="fill:#bfd8ed;fill-opacity:0.6" /><path d="M1164.61 239.06L1167.87 244.72L1171.13 250.17L1173.28 252.9L1175.41 255.41L1172.18 250L1168.94 244.36L1166.78 241.83Z" clip-path="url(#p0a0b44ae8d)" style="fill:#2575b7;fill-opacity:0.6" /><path d="M1277.9 326.19L1281.1 325.07L1284.31 323.73L1286.12 324.98L1287.93 326.02L1284.73 327.34L1281.54 328.46L1279.72 327.43Z" clip-path="url(#p0a0b44ae8d)" style="fill:#c6dbef;fill-opacity:0.6" /><path d="M1348.24 289.7L1351.63 285.53L1353.35 283.9L1355.06 282.06L1351.67 286.23L1349.95 288.07Z" clip-path="url(#p0a0b44ae8d)" style="fill:#6caed6;fill-opacity:0.6" /><path d="M1222.16 307.92L1225.32 309.74L1228.48 311.34L1230.46 313.89L1232.43 316.21L1229.28 314.62L1226.14 312.81L1224.16 310.48Z" clip-path="url(#p0a0b44ae8d)" style="fill:#a9cfe5;fill-opacity:0.6" /><path d="M1158.03 227.04L1161.33 233.16L1164.61 239.06L1166.78 241.83L1168.94 244.36L1165.68 238.51L1162.41 232.43L1160.24 229.85Z" clip-path="url(#p0a0b44ae8d)" style="fill:#1561a9;fill-opacity:0.6" /><path d="M1314.46 315.65L1317.74 312.82L1321.05 309.76L1322.79 309.78L1324.53 309.59L1321.23 312.63L1317.95 315.45L1316.2 315.66Z" clip-path="url(#p0a0b44ae8d)" style="fill:#a8cee4;fill-opacity:0.6" /><path d="M1304.41 320.03L1307.67 317.63L1310.94 315L1312.7 315.43L1314.46 315.65L1311.19 318.26L1307.93 320.65L1306.17 320.44Z" clip-path="url(#p0a0b44ae8d)" style="fill:#b2d2e8;fill-opacity:0.6" /><path d="M1228.48 311.34L1231.64 312.73L1234.81 313.92L1236.77 316.46L1238.72 318.78L1235.57 317.6L1232.43 316.21L1230.46 313.89Z" clip-path="url(#p0a0b44ae8d)" style="fill:#add0e6;fill-opacity:0.6" /><path d="M1267.83 324.68L1271.02 323.98L1274.22 323.06L1276.06 324.74L1277.9 326.19L1274.71 327.1L1271.53 327.8L1269.69 326.35Z" clip-path="url(#p0a0b44ae8d)" style="fill:#bfd8ed;fill-opacity:0.6" /><path d="M1251.35 321.42L1254.53 321.55L1257.7 321.48L1259.6 323.58L1261.48 325.46L1258.31 325.53L1255.16 325.39L1253.26 323.52Z" clip-path="url(#p0a0b44ae8d)" style="fill:#bcd7eb;fill-opacity:0.6" /><path d="M1324.53 309.59L1327.84 306.32L1331.18 302.82L1332.91 302.43L1334.64 301.83L1331.3 305.31L1327.99 308.57L1326.26 309.19Z" clip-path="url(#p0a0b44ae8d)" style="fill:#97c6df;fill-opacity:0.6" /><path d="M1294.36 322.72L1297.6 320.75L1300.85 318.55L1302.63 319.4L1304.41 320.03L1301.16 322.21L1297.93 324.17L1296.15 323.55Z" clip-path="url(#p0a0b44ae8d)" style="fill:#b7d4ea;fill-opacity:0.6" /><path d="M1334.64 301.83L1337.99 298.11L1341.37 294.16L1343.09 293.36L1344.8 292.35L1341.43 296.29L1338.08 300L1336.36 301.02Z" clip-path="url(#p0a0b44ae8d)" style="fill:#7fb9da;fill-opacity:0.6" /><path d="M1186.2 272.26L1189.41 276.21L1192.62 279.94L1194.73 283.02L1196.82 285.87L1193.63 282.16L1190.44 278.24L1188.33 275.37Z" clip-path="url(#p0a0b44ae8d)" style="fill:#57a0ce;fill-opacity:0.6" /><path d="M1192.62 279.94L1195.82 283.46L1199.01 286.76L1201.1 289.82L1203.17 292.65L1200 289.36L1196.82 285.87L1194.73 283.02Z" clip-path="url(#p0a0b44ae8d)" style="fill:#65aad4;fill-opacity:0.6" /><path d="M1284.31 323.73L1287.53 322.18L1290.76 320.41L1292.57 321.67L1294.36 322.72L1291.14 324.48L1287.93 326.02L1286.12 324.98Z" clip-path="url(#p0a0b44ae8d)" style="fill:#b8d5ea;fill-opacity:0.6" /><path d="M1344.8 292.35L1348.2 288.17L1349.92 286.96L1351.63 285.53L1348.24 289.7L1346.52 291.13Z" clip-path="url(#p0a0b44ae8d)" style="fill:#6aaed6;fill-opacity:0.6" /><path d="M1179.76 263.72L1182.98 268.1L1186.2 272.26L1188.33 275.37L1190.44 278.24L1187.24 274.1L1184.04 269.75L1181.91 266.85Z" clip-path="url(#p0a0b44ae8d)" style="fill:#4695c8;fill-opacity:0.6" /><path d="M1234.81 313.92L1237.97 314.89L1241.14 315.66L1243.09 318.2L1245.03 320.52L1241.87 319.75L1238.72 318.78L1236.77 316.46Z" clip-path="url(#p0a0b44ae8d)" style="fill:#add0e6;fill-opacity:0.6" /><path d="M1199.01 286.76L1202.2 289.85L1205.39 292.73L1207.46 295.77L1209.51 298.58L1206.34 295.72L1203.17 292.65L1201.1 289.82Z" clip-path="url(#p0a0b44ae8d)" style="fill:#74b3d8;fill-opacity:0.6" /><path d="M1173.27 254.3L1176.52 259.12L1179.76 263.72L1181.91 266.85L1184.04 269.75L1180.82 265.18L1177.6 260.4L1175.45 257.47Z" clip-path="url(#p0a0b44ae8d)" style="fill:#3787c0;fill-opacity:0.6" /><path d="M1205.39 292.73L1208.57 295.4L1211.75 297.85L1213.8 300.88L1215.84 303.67L1212.67 301.23L1209.51 298.58L1207.46 295.77Z" clip-path="url(#p0a0b44ae8d)" style="fill:#7fb9da;fill-opacity:0.6" /><path d="M1257.7 321.48L1260.89 321.19L1264.08 320.69L1265.96 322.8L1267.83 324.68L1264.65 325.18L1261.48 325.46L1259.6 323.58Z" clip-path="url(#p0a0b44ae8d)" style="fill:#b5d4e9;fill-opacity:0.6" /><path d="M1166.75 244L1170.02 249.26L1173.27 254.3L1175.45 257.47L1177.6 260.4L1174.37 255.4L1171.13 250.17L1168.95 247.2Z" clip-path="url(#p0a0b44ae8d)" style="fill:#2575b7;fill-opacity:0.6" /><path d="M1211.75 297.85L1214.93 300.09L1218.11 302.12L1220.14 305.14L1222.16 307.92L1219 305.9L1215.84 303.67L1213.8 300.88Z" clip-path="url(#p0a0b44ae8d)" style="fill:#89bedc;fill-opacity:0.6" /><path d="M1274.22 323.06L1277.43 321.93L1280.65 320.58L1282.48 322.27L1284.31 323.73L1281.1 325.07L1277.9 326.19L1276.06 324.74Z" clip-path="url(#p0a0b44ae8d)" style="fill:#b5d4e9;fill-opacity:0.6" /><path d="M1241.14 315.66L1244.32 316.21L1247.5 316.55L1249.43 319.1L1251.35 321.42L1248.19 321.07L1245.03 320.52L1243.09 318.2Z" clip-path="url(#p0a0b44ae8d)" style="fill:#abd0e6;fill-opacity:0.6" /><path d="M1160.19 232.81L1163.48 238.52L1166.75 244L1168.95 247.2L1171.13 250.17L1167.87 244.72L1164.61 239.06L1162.41 236.05Z" clip-path="url(#p0a0b44ae8d)" style="fill:#1663aa;fill-opacity:0.6" /><path d="M1310.94 315L1314.24 312.16L1317.55 309.08L1319.3 309.53L1321.05 309.76L1317.74 312.82L1314.46 315.65L1312.7 315.43Z" clip-path="url(#p0a0b44ae8d)" style="fill:#9dcae1;fill-opacity:0.6" /><path d="M1321.05 309.76L1324.37 306.48L1327.71 302.96L1329.45 303L1331.18 302.82L1327.84 306.32L1324.53 309.59L1322.79 309.78Z" clip-path="url(#p0a0b44ae8d)" style="fill:#8fc2de;fill-opacity:0.6" /><path d="M1300.85 318.55L1304.12 316.14L1307.41 313.5L1309.18 314.36L1310.94 315L1307.67 317.63L1304.41 320.03L1302.63 319.4Z" clip-path="url(#p0a0b44ae8d)" style="fill:#a6cee4;fill-opacity:0.6" /><path d="M1218.11 302.12L1221.29 303.94L1224.47 305.55L1226.48 308.56L1228.48 311.34L1225.32 309.74L1222.16 307.92L1220.14 305.14Z" clip-path="url(#p0a0b44ae8d)" style="fill:#8fc2de;fill-opacity:0.6" /><path d="M1331.18 302.82L1334.54 299.09L1337.92 295.12L1339.65 294.75L1341.37 294.16L1337.99 298.11L1334.64 301.83L1332.91 302.43Z" clip-path="url(#p0a0b44ae8d)" style="fill:#79b5d9;fill-opacity:0.6" /><path d="M1341.37 294.16L1344.77 289.97L1346.48 289.18L1348.2 288.17L1344.8 292.35L1343.09 293.36Z" clip-path="url(#p0a0b44ae8d)" style="fill:#68acd5;fill-opacity:0.6" /><path d="M1290.76 320.41L1294.01 318.42L1297.27 316.21L1299.07 317.49L1300.85 318.55L1297.6 320.75L1294.36 322.72L1292.57 321.67Z" clip-path="url(#p0a0b44ae8d)" style="fill:#a9cfe5;fill-opacity:0.6" /><path d="M1153.57 220.7L1156.88 226.87L1160.19 232.81L1162.41 236.05L1164.61 239.06L1161.33 233.16L1158.03 227.04L1155.81 223.99Z" clip-path="url(#p0a0b44ae8d)" style="fill:#084f99;fill-opacity:0.6" /><path d="M1264.08 320.69L1267.28 319.97L1270.5 319.04L1272.36 321.16L1274.22 323.06L1271.02 323.98L1267.83 324.68L1265.96 322.8Z" clip-path="url(#p0a0b44ae8d)" style="fill:#add0e6;fill-opacity:0.6" /><path d="M1224.47 305.55L1227.65 306.95L1230.83 308.14L1232.83 311.14L1234.81 313.92L1231.64 312.73L1228.48 311.34L1226.48 308.56Z" clip-path="url(#p0a0b44ae8d)" style="fill:#92c4de;fill-opacity:0.6" /><path d="M1247.5 316.55L1250.69 316.68L1253.88 316.6L1255.8 319.15L1257.7 321.48L1254.53 321.55L1251.35 321.42L1249.43 319.1Z" clip-path="url(#p0a0b44ae8d)" style="fill:#a6cee4;fill-opacity:0.6" /><path d="M1280.65 320.58L1283.88 319.01L1287.13 317.22L1288.95 318.93L1290.76 320.41L1287.53 322.18L1284.31 323.73L1282.48 322.27Z" clip-path="url(#p0a0b44ae8d)" style="fill:#a8cee4;fill-opacity:0.6" /><path d="M1230.83 308.14L1234.01 309.11L1237.2 309.88L1239.18 312.88L1241.14 315.66L1237.97 314.89L1234.81 313.92L1232.83 311.14Z" clip-path="url(#p0a0b44ae8d)" style="fill:#94c4df;fill-opacity:0.6" /><path d="M1181.88 265.34L1185.11 269.31L1188.34 273.07L1190.49 276.62L1192.62 279.94L1189.41 276.21L1186.2 272.26L1184.05 268.92Z" clip-path="url(#p0a0b44ae8d)" style="fill:#3e8ec4;fill-opacity:0.6" /><path d="M1188.34 273.07L1191.56 276.61L1194.78 279.94L1196.91 283.47L1199.01 286.76L1195.82 283.46L1192.62 279.94L1190.49 276.62Z" clip-path="url(#p0a0b44ae8d)" style="fill:#4b98ca;fill-opacity:0.6" /><path d="M1175.39 256.74L1178.64 261.15L1181.88 265.34L1184.05 268.92L1186.2 272.26L1182.98 268.1L1179.76 263.72L1177.58 260.35Z" clip-path="url(#p0a0b44ae8d)" style="fill:#3181bd;fill-opacity:0.6" /><path d="M1194.78 279.94L1197.99 283.05L1201.2 285.94L1203.3 289.45L1205.39 292.73L1202.2 289.85L1199.01 286.76L1196.91 283.47Z" clip-path="url(#p0a0b44ae8d)" style="fill:#58a1cf;fill-opacity:0.6" /><path d="M1168.86 247.25L1172.13 252.1L1175.39 256.74L1177.58 260.35L1179.76 263.72L1176.52 259.12L1173.27 254.3L1171.08 250.9Z" clip-path="url(#p0a0b44ae8d)" style="fill:#2272b6;fill-opacity:0.6" /><path d="M1253.88 316.6L1257.08 316.3L1260.29 315.79L1262.19 318.35L1264.08 320.69L1260.89 321.19L1257.7 321.48L1255.8 319.15Z" clip-path="url(#p0a0b44ae8d)" style="fill:#a1cbe2;fill-opacity:0.6" /><path d="M1317.55 309.08L1320.88 305.78L1324.23 302.25L1325.97 302.71L1327.71 302.96L1324.37 306.48L1321.05 309.76L1319.3 309.53Z" clip-path="url(#p0a0b44ae8d)" style="fill:#82bbdb;fill-opacity:0.6" /><path d="M1201.2 285.94L1204.4 288.62L1207.6 291.09L1209.69 294.59L1211.75 297.85L1208.57 295.4L1205.39 292.73L1203.3 289.45Z" clip-path="url(#p0a0b44ae8d)" style="fill:#61a7d2;fill-opacity:0.6" /><path d="M1307.41 313.5L1310.71 310.63L1314.03 307.54L1315.79 308.42L1317.55 309.08L1314.24 312.16L1310.94 315L1309.18 314.36Z" clip-path="url(#p0a0b44ae8d)" style="fill:#8fc2de;fill-opacity:0.6" /><path d="M1270.5 319.04L1273.72 317.89L1276.95 316.53L1278.81 318.66L1280.65 320.58L1277.43 321.93L1274.22 323.06L1272.36 321.16Z" clip-path="url(#p0a0b44ae8d)" style="fill:#a3cce3;fill-opacity:0.6" /><path d="M1337.92 295.12L1341.33 290.92L1343.05 290.55L1344.77 289.97L1341.37 294.16L1339.65 294.75Z" clip-path="url(#p0a0b44ae8d)" style="fill:#63a8d3;fill-opacity:0.6" /><path d="M1327.71 302.96L1331.08 299.22L1334.47 295.23L1336.19 295.29L1337.92 295.12L1334.54 299.09L1331.18 302.82L1329.45 303Z" clip-path="url(#p0a0b44ae8d)" style="fill:#6fb0d7;fill-opacity:0.6" /><path d="M1162.29 236.87L1165.58 242.17L1168.86 247.25L1171.08 250.9L1173.27 254.3L1170.02 249.26L1166.75 244L1164.53 240.56Z" clip-path="url(#p0a0b44ae8d)" style="fill:#1561a9;fill-opacity:0.6" /><path d="M1297.27 316.21L1300.55 313.78L1303.85 311.12L1305.63 312.42L1307.41 313.5L1304.12 316.14L1300.85 318.55L1299.07 317.49Z" clip-path="url(#p0a0b44ae8d)" style="fill:#95c5df;fill-opacity:0.6" /><path d="M1207.6 291.09L1210.8 293.35L1214 295.39L1216.06 298.87L1218.11 302.12L1214.93 300.09L1211.75 297.85L1209.69 294.59Z" clip-path="url(#p0a0b44ae8d)" style="fill:#69add5;fill-opacity:0.6" /><path d="M1237.2 309.88L1240.39 310.43L1243.59 310.76L1245.55 313.77L1247.5 316.55L1244.32 316.21L1241.14 315.66L1239.18 312.88Z" clip-path="url(#p0a0b44ae8d)" style="fill:#91c3de;fill-opacity:0.6" /><path d="M1155.67 225.59L1158.99 231.35L1162.29 236.87L1164.53 240.56L1166.75 244L1163.48 238.52L1160.19 232.81L1157.94 229.32Z" clip-path="url(#p0a0b44ae8d)" style="fill:#084f99;fill-opacity:0.6" /><path d="M1287.13 317.22L1290.39 315.22L1293.66 312.99L1295.47 314.71L1297.27 316.21L1294.01 318.42L1290.76 320.41L1288.95 318.93Z" clip-path="url(#p0a0b44ae8d)" style="fill:#97c6df;fill-opacity:0.6" /><path d="M1214 295.39L1217.19 297.22L1220.39 298.83L1222.44 302.31L1224.47 305.55L1221.29 303.94L1218.11 302.12L1216.06 298.87Z" clip-path="url(#p0a0b44ae8d)" style="fill:#6fb0d7;fill-opacity:0.6" /><path d="M1260.29 315.79L1263.5 315.06L1266.73 314.11L1268.62 316.69L1270.5 319.04L1267.28 319.97L1264.08 320.69L1262.19 318.35Z" clip-path="url(#p0a0b44ae8d)" style="fill:#97c6df;fill-opacity:0.6" /><path d="M1149 213.4L1152.34 219.61L1155.67 225.59L1157.94 229.32L1160.19 232.81L1156.88 226.87L1153.57 220.7L1151.3 217.17Z" clip-path="url(#p0a0b44ae8d)" style="fill:#083a7a;fill-opacity:0.6" /><path d="M1243.59 310.76L1246.79 310.89L1250 310.79L1251.95 313.81L1253.88 316.6L1250.69 316.68L1247.5 316.55L1245.55 313.77Z" clip-path="url(#p0a0b44ae8d)" style="fill:#8cc0dd;fill-opacity:0.6" /><path d="M1220.39 298.83L1223.59 300.23L1226.79 301.42L1228.82 304.9L1230.83 308.14L1227.65 306.95L1224.47 305.55L1222.44 302.31Z" clip-path="url(#p0a0b44ae8d)" style="fill:#72b2d8;fill-opacity:0.6" /><path d="M1276.95 316.53L1280.2 314.94L1283.45 313.14L1285.3 315.29L1287.13 317.22L1283.88 319.01L1280.65 320.58L1278.81 318.66Z" clip-path="url(#p0a0b44ae8d)" style="fill:#94c4df;fill-opacity:0.6" /><path d="M1334.47 295.23L1337.87 291.01L1339.6 291.08L1341.33 290.92L1337.92 295.12L1336.19 295.29Z" clip-path="url(#p0a0b44ae8d)" style="fill:#5ba3d0;fill-opacity:0.6" /><path d="M1314.03 307.54L1317.37 304.22L1320.73 300.66L1322.48 301.57L1324.23 302.25L1320.88 305.78L1317.55 309.08L1315.79 308.42Z" clip-path="url(#p0a0b44ae8d)" style="fill:#74b3d8;fill-opacity:0.6" /><path d="M1324.23 302.25L1327.6 298.48L1331 294.48L1332.73 294.97L1334.47 295.23L1331.08 299.22L1327.71 302.96L1325.97 302.71Z" clip-path="url(#p0a0b44ae8d)" style="fill:#65aad4;fill-opacity:0.6" /><path d="M1303.85 311.12L1307.16 308.23L1310.49 305.12L1312.26 306.44L1314.03 307.54L1310.71 310.63L1307.41 313.5L1305.63 312.42Z" clip-path="url(#p0a0b44ae8d)" style="fill:#7db8da;fill-opacity:0.6" /><path d="M1226.79 301.42L1229.99 302.4L1233.2 303.16L1235.21 306.64L1237.2 309.88L1234.01 309.11L1230.83 308.14L1228.82 304.9Z" clip-path="url(#p0a0b44ae8d)" style="fill:#74b3d8;fill-opacity:0.6" /><path d="M1293.66 312.99L1296.95 310.53L1300.25 307.85L1302.05 309.6L1303.85 311.12L1300.55 313.78L1297.27 316.21L1295.47 314.71Z" clip-path="url(#p0a0b44ae8d)" style="fill:#82bbdb;fill-opacity:0.6" /><path d="M1266.73 314.11L1269.96 312.95L1273.21 311.57L1275.09 314.16L1276.95 316.53L1273.72 317.89L1270.5 319.04L1268.62 316.69Z" clip-path="url(#p0a0b44ae8d)" style="fill:#89bedc;fill-opacity:0.6" /><path d="M1250 310.79L1253.21 310.49L1256.44 309.96L1258.37 312.99L1260.29 315.79L1257.08 316.3L1253.88 316.6L1251.95 313.81Z" clip-path="url(#p0a0b44ae8d)" style="fill:#84bcdb;fill-opacity:0.6" /><path d="M1283.45 313.14L1286.73 311.11L1290.01 308.86L1291.84 311.04L1293.66 312.99L1290.39 315.22L1287.13 317.22L1285.3 315.29Z" clip-path="url(#p0a0b44ae8d)" style="fill:#81badb;fill-opacity:0.6" /><path d="M1233.2 303.16L1236.4 303.7L1239.62 304.04L1241.61 307.52L1243.59 310.76L1240.39 310.43L1237.2 309.88L1235.21 306.64Z" clip-path="url(#p0a0b44ae8d)" style="fill:#71b1d7;fill-opacity:0.6" /><path d="M1331 294.48L1334.41 290.24L1336.15 290.74L1337.87 291.01L1334.47 295.23L1332.73 294.97Z" clip-path="url(#p0a0b44ae8d)" style="fill:#519ccc;fill-opacity:0.6" /><path d="M1256.44 309.96L1259.67 309.22L1262.91 308.26L1264.83 311.31L1266.73 314.11L1263.5 315.06L1260.29 315.79L1258.37 312.99Z" clip-path="url(#p0a0b44ae8d)" style="fill:#7ab6d9;fill-opacity:0.6" /><path d="M1273.21 311.57L1276.47 309.97L1279.74 308.14L1281.6 310.76L1283.45 313.14L1280.2 314.94L1276.95 316.53L1275.09 314.16Z" clip-path="url(#p0a0b44ae8d)" style="fill:#79b5d9;fill-opacity:0.6" /><path d="M1320.73 300.66L1324.11 296.87L1327.51 292.85L1329.25 293.77L1331 294.48L1327.6 298.48L1324.23 302.25L1322.48 301.57Z" clip-path="url(#p0a0b44ae8d)" style="fill:#5aa2cf;fill-opacity:0.6" /><path d="M1310.49 305.12L1313.84 301.77L1317.2 298.19L1318.97 299.54L1320.73 300.66L1317.37 304.22L1314.03 307.54L1312.26 306.44Z" clip-path="url(#p0a0b44ae8d)" style="fill:#64a9d3;fill-opacity:0.6" /><path d="M1239.62 304.04L1242.84 304.15L1246.06 304.05L1248.04 307.54L1250 310.79L1246.79 310.89L1243.59 310.76L1241.61 307.52Z" clip-path="url(#p0a0b44ae8d)" style="fill:#6caed6;fill-opacity:0.6" /><path d="M1300.25 307.85L1303.58 304.94L1306.92 301.8L1308.71 303.57L1310.49 305.12L1307.16 308.23L1303.85 311.12L1302.05 309.6Z" clip-path="url(#p0a0b44ae8d)" style="fill:#69add5;fill-opacity:0.6" /><path d="M1290.01 308.86L1293.31 306.38L1296.63 303.68L1298.45 305.88L1300.25 307.85L1296.95 310.53L1293.66 312.99L1291.84 311.04Z" clip-path="url(#p0a0b44ae8d)" style="fill:#6aaed6;fill-opacity:0.6" /><path d="M1262.91 308.26L1266.16 307.08L1269.42 305.68L1271.32 308.74L1273.21 311.57L1269.96 312.95L1266.73 314.11L1264.83 311.31Z" clip-path="url(#p0a0b44ae8d)" style="fill:#6caed6;fill-opacity:0.6" /><path d="M1246.06 304.05L1249.29 303.73L1252.53 303.19L1254.49 306.7L1256.44 309.96L1253.21 310.49L1250 310.79L1248.04 307.54Z" clip-path="url(#p0a0b44ae8d)" style="fill:#65aad4;fill-opacity:0.6" /><path d="M1279.74 308.14L1283.02 306.09L1286.32 303.81L1288.17 306.45L1290.01 308.86L1286.73 311.11L1283.45 313.14L1281.6 310.76Z" clip-path="url(#p0a0b44ae8d)" style="fill:#66abd4;fill-opacity:0.6" /><path d="M1327.51 292.85L1330.93 288.58L1332.67 289.52L1334.41 290.24L1331 294.48L1329.25 293.77Z" clip-path="url(#p0a0b44ae8d)" style="fill:#4594c7;fill-opacity:0.6" /><path d="M1317.2 298.19L1320.59 294.38L1324 290.32L1325.76 291.7L1327.51 292.85L1324.11 296.87L1320.73 300.66L1318.97 299.54Z" clip-path="url(#p0a0b44ae8d)" style="fill:#4a98c9;fill-opacity:0.6" /><path d="M1306.92 301.8L1310.27 298.43L1313.65 294.82L1315.43 296.62L1317.2 298.19L1313.84 301.77L1310.49 305.12L1308.71 303.57Z" clip-path="url(#p0a0b44ae8d)" style="fill:#539ecd;fill-opacity:0.6" /><path d="M1252.53 303.19L1255.78 302.44L1259.04 301.46L1260.98 304.98L1262.91 308.26L1259.67 309.22L1256.44 309.96L1254.49 306.7Z" clip-path="url(#p0a0b44ae8d)" style="fill:#5da5d1;fill-opacity:0.6" /><path d="M1269.42 305.68L1272.69 304.05L1275.98 302.21L1277.87 305.29L1279.74 308.14L1276.47 309.97L1273.21 311.57L1271.32 308.74Z" clip-path="url(#p0a0b44ae8d)" style="fill:#5fa6d1;fill-opacity:0.6" /><path d="M1296.63 303.68L1299.96 300.74L1303.31 297.57L1305.12 299.8L1306.92 301.8L1303.58 304.94L1300.25 307.85L1298.45 305.88Z" clip-path="url(#p0a0b44ae8d)" style="fill:#56a0ce;fill-opacity:0.6" /><path d="M1286.32 303.81L1289.64 301.31L1292.97 298.58L1294.8 301.24L1296.63 303.68L1293.31 306.38L1290.01 308.86L1288.17 306.45Z" clip-path="url(#p0a0b44ae8d)" style="fill:#549fcd;fill-opacity:0.6" /><path d="M1324 290.32L1327.43 286.02L1329.19 287.41L1330.93 288.58L1327.51 292.85L1325.76 291.7Z" clip-path="url(#p0a0b44ae8d)" style="fill:#3989c1;fill-opacity:0.6" /><path d="M1259.04 301.46L1262.3 300.26L1265.58 298.83L1267.51 302.38L1269.42 305.68L1266.16 307.08L1262.91 308.26L1260.98 304.98Z" clip-path="url(#p0a0b44ae8d)" style="fill:#529dcc;fill-opacity:0.6" /><path d="M1275.98 302.21L1279.28 300.13L1282.59 297.83L1284.46 300.94L1286.32 303.81L1283.02 306.09L1279.74 308.14L1277.87 305.29Z" clip-path="url(#p0a0b44ae8d)" style="fill:#4f9bcb;fill-opacity:0.6" /><path d="M1313.65 294.82L1317.05 290.97L1320.47 286.89L1322.24 288.72L1324 290.32L1320.59 294.38L1317.2 298.19L1315.43 296.62Z" clip-path="url(#p0a0b44ae8d)" style="fill:#3c8cc3;fill-opacity:0.6" /><path d="M1303.31 297.57L1306.68 294.17L1310.07 290.53L1311.87 292.79L1313.65 294.82L1310.27 298.43L1306.92 301.8L1305.12 299.8Z" clip-path="url(#p0a0b44ae8d)" style="fill:#4090c5;fill-opacity:0.6" /><path d="M1292.97 298.58L1296.31 295.61L1299.67 292.41L1301.5 295.11L1303.31 297.57L1299.96 300.74L1296.63 303.68L1294.8 301.24Z" clip-path="url(#p0a0b44ae8d)" style="fill:#4191c6;fill-opacity:0.6" /><path d="M1265.58 298.83L1268.87 297.19L1272.17 295.31L1274.08 298.88L1275.98 302.21L1272.69 304.05L1269.42 305.68L1267.51 302.38Z" clip-path="url(#p0a0b44ae8d)" style="fill:#4594c7;fill-opacity:0.6" /><path d="M1282.59 297.83L1285.92 295.29L1289.26 292.53L1291.12 295.67L1292.97 298.58L1289.64 301.31L1286.32 303.81L1284.46 300.94Z" clip-path="url(#p0a0b44ae8d)" style="fill:#3e8ec4;fill-opacity:0.6" /><path d="M1320.47 286.89L1323.91 282.55L1325.68 284.4L1327.43 286.02L1324 290.32L1322.24 288.72Z" clip-path="url(#p0a0b44ae8d)" style="fill:#2c7cba;fill-opacity:0.6" /><path d="M1310.07 290.53L1313.48 286.64L1316.91 282.52L1318.7 284.82L1320.47 286.89L1317.05 290.97L1313.65 294.82L1311.87 292.79Z" clip-path="url(#p0a0b44ae8d)" style="fill:#2d7dbb;fill-opacity:0.6" /><path d="M1272.17 295.31L1275.48 293.21L1278.81 290.87L1280.71 294.47L1282.59 297.83L1279.28 300.13L1275.98 302.21L1274.08 298.88Z" clip-path="url(#p0a0b44ae8d)" style="fill:#3888c1;fill-opacity:0.6" /><path d="M1299.67 292.41L1303.06 288.97L1306.46 285.29L1308.27 288.03L1310.07 290.53L1306.68 294.17L1303.31 297.57L1301.5 295.11Z" clip-path="url(#p0a0b44ae8d)" style="fill:#2f7fbc;fill-opacity:0.6" /><path d="M1289.26 292.53L1292.62 289.53L1296 286.29L1297.84 289.47L1299.67 292.41L1296.31 295.61L1292.97 298.58L1291.12 295.67Z" clip-path="url(#p0a0b44ae8d)" style="fill:#2f7fbc;fill-opacity:0.6" /><path d="M1316.91 282.52L1320.37 278.15L1322.14 280.47L1323.91 282.55L1320.47 286.89L1318.7 284.82Z" clip-path="url(#p0a0b44ae8d)" style="fill:#1d6cb1;fill-opacity:0.6" /><path d="M1278.81 290.87L1282.15 288.3L1285.51 285.5L1287.39 289.14L1289.26 292.53L1285.92 295.29L1282.59 297.83L1280.71 294.47Z" clip-path="url(#p0a0b44ae8d)" style="fill:#2a7ab9;fill-opacity:0.6" /><path d="M1306.46 285.29L1309.88 281.37L1313.32 277.21L1315.12 279.98L1316.91 282.52L1313.48 286.64L1310.07 290.53L1308.27 288.03Z" clip-path="url(#p0a0b44ae8d)" style="fill:#1c6bb0;fill-opacity:0.6" /><path d="M1296 286.29L1299.39 282.81L1302.81 279.09L1304.64 282.31L1306.46 285.29L1303.06 288.97L1299.67 292.41L1297.84 289.47Z" clip-path="url(#p0a0b44ae8d)" style="fill:#1d6cb1;fill-opacity:0.6" /><path d="M1285.51 285.5L1288.88 282.46L1292.27 279.19L1294.14 282.86L1296 286.29L1292.62 289.53L1289.26 292.53L1287.39 289.14Z" clip-path="url(#p0a0b44ae8d)" style="fill:#1c6ab0;fill-opacity:0.6" /><path d="M1313.32 277.21L1316.79 272.79L1318.58 275.59L1320.37 278.15L1316.91 282.52L1315.12 279.98Z" clip-path="url(#p0a0b44ae8d)" style="fill:#115ca5;fill-opacity:0.6" /><path d="M1302.81 279.09L1306.24 275.13L1309.7 270.92L1311.51 274.19L1313.32 277.21L1309.88 281.37L1306.46 285.29L1304.64 282.31Z" clip-path="url(#p0a0b44ae8d)" style="fill:#0e59a2;fill-opacity:0.6" /><path d="M1292.27 279.19L1295.68 275.67L1299.11 271.9L1300.96 275.62L1302.81 279.09L1299.39 282.81L1296 286.29L1294.14 282.86Z" clip-path="url(#p0a0b44ae8d)" style="fill:#0e58a2;fill-opacity:0.6" /><path d="M1309.7 270.92L1313.18 266.46L1314.99 269.75L1316.79 272.79L1313.32 277.21L1311.51 274.19Z" clip-path="url(#p0a0b44ae8d)" style="fill:#084a91;fill-opacity:0.6" /><path d="M1299.11 271.9L1302.56 267.89L1306.03 263.63L1307.87 267.4L1309.7 270.92L1306.24 275.13L1302.81 279.09L1300.96 275.62Z" clip-path="url(#p0a0b44ae8d)" style="fill:#08458a;fill-opacity:0.6" /><path d="M1306.03 263.63L1309.52 259.12L1311.35 262.92L1313.18 266.46L1309.7 270.92L1307.87 267.4Z" clip-path="url(#p0a0b44ae8d)" style="fill:#083573;fill-opacity:0.6" /></g><g><g transform="translate(1162.07 73)"><text><tspan x="1 12 23 30 42 53 65 70 81 86 98 109" y="-1" style="font-size:18.333px">Paraboloïde </tspan><tspan x="115" y="-1" style="font-style:italic;font-size:18.333px">Z</tspan><tspan x="131" y="-1" style="font-size:18.333px">=</tspan><tspan x="150" y="-1" style="font-style:italic;font-size:18.333px">X</tspan><tspan x="164" y="-8" style="font-size:12.833px">2</tspan><tspan x="176" y="-1" style="font-size:18.333px">+</tspan><tspan x="195" y="-1" style="font-style:italic;font-size:18.333px">Y</tspan><tspan x="207" y="-8" style="font-size:12.833px">2</tspan></text></g><g transform="translate(1234.09 96)"><text><tspan x="1 12 23 35 45" y="-1" style="font-size:18.333px">dans </tspan><tspan x="63" y="-8" style="font-size:12.833px">3</tspan></text><text transform="translate(50 -1) skewX(-14) scale(0.92 1)" style="font-size:16.5px">𝔸</text></g></g></g><g><path d="M95 879L409 879L409 565L95 565Z" style="fill:#ffffff" /></g><g><g><path d="M118.67 801.76L222.46 714.76L221.02 589.3L112.26 668.66" style="fill:#f2f2f2;opacity:0.5;stroke:#f2f2f2;stroke-linejoin:miter;stroke-width:1.389" /></g></g><g><g><path d="M222.46 714.76L389 763.17L394.94 633.38L221.02 589.3" style="fill:#e6e6e6;opacity:0.5;stroke:#e6e6e6;stroke-linejoin:miter;stroke-width:1.389" /></g></g><g><g><path d="M118.67 801.76L295.21 859.42L389 763.17L222.46 714.76" style="fill:#ececec;opacity:0.5;stroke:#ececec;stroke-linejoin:miter;stroke-width:1.389" /></g></g><g><g><path d="M129.36 805.25L232.59 717.7L231.57 591.97" style="fill:none;stroke:#cccccc;stroke-width:1.389" /><path d="M166.56 817.4L267.78 727.93L268.28 601.27" style="fill:none;stroke:#cccccc;stroke-width:1.389" /><path d="M204.61 829.83L303.72 738.38L305.79 610.78" style="fill:none;stroke:#cccccc;stroke-width:1.389" /><path d="M243.55 842.54L340.42 749.05L344.13 620.5" style="fill:none;stroke:#cccccc;stroke-width:1.389" /><path d="M283.41 855.56L377.91 759.94L383.34 630.44" style="fill:none;stroke:#cccccc;stroke-width:1.389" /></g></g><g><g><path d="M119.78 663.17L125.82 795.76L301.7 852.76" style="fill:none;stroke:#cccccc;stroke-width:1.389" /><path d="M144.91 644.84L149.74 775.71L323.38 830.51" style="fill:none;stroke:#cccccc;stroke-width:1.389" /><path d="M169.06 627.21L172.77 756.41L344.21 809.14" style="fill:none;stroke:#cccccc;stroke-width:1.389" /><path d="M192.29 610.26L194.97 737.81L364.24 788.58" style="fill:none;stroke:#cccccc;stroke-width:1.389" /><path d="M214.65 593.94L216.36 719.87L383.51 768.8" style="fill:none;stroke:#cccccc;stroke-width:1.389" /></g></g><g><g><path d="M389.11 760.68L222.43 712.35L118.55 799.21" style="fill:none;stroke:#cccccc;stroke-width:1.389" /><path d="M390.5 730.51L222.09 683.14L117.06 768.3" style="fill:none;stroke:#cccccc;stroke-width:1.389" /><path d="M391.91 699.7L221.75 653.34L115.54 736.72" style="fill:none;stroke:#cccccc;stroke-width:1.389" /><path d="M393.35 668.23L221.4 622.93L113.98 704.44" style="fill:none;stroke:#cccccc;stroke-width:1.389" /><path d="M394.82 636.09L221.05 591.91L112.4 671.44" style="fill:none;stroke:#cccccc;stroke-width:1.389" /></g></g><g><g><path d="M118.67 801.76L295.21 859.42" style="fill:none;stroke:#cccccc;stroke-width:1.736;stroke-linecap:round" /></g><g><g><path d="M256.33 717.86" clip-path="url(#p7e990c3744)" style="fill:none;stroke:#cccccc;stroke-linecap:round;stroke-width:1.389" /></g><g><path d="M130.26 804.49L127.56 806.78" style="fill:none;stroke:#262626;stroke-width:1.736;stroke-linecap:round" /></g><g><text style="font-size:16.806px;text-anchor:middle" x="118.49" y="842">−2</text></g></g><g><g><path d="M256.33 717.86" clip-path="url(#p7e990c3744)" style="fill:none;stroke:#cccccc;stroke-linecap:round;stroke-width:1.389" /></g><g><path d="M167.44 816.62L164.79 818.96" style="fill:none;stroke:#262626;stroke-width:1.736;stroke-linecap:round" /></g><g><text style="font-size:16.806px;text-anchor:middle" x="156.42" y="854">−1</text></g></g><g><g><path d="M256.33 717.86" clip-path="url(#p7e990c3744)" style="fill:none;stroke:#cccccc;stroke-linecap:round;stroke-width:1.389" /></g><g><path d="M205.48 829.03L202.88 831.43" style="fill:none;stroke:#262626;stroke-width:1.736;stroke-linecap:round" /></g><g><text style="font-size:16.806px;text-anchor:middle" x="194.22" y="867">0</text></g></g><g><g><path d="M256.33 717.86" clip-path="url(#p7e990c3744)" style="fill:none;stroke:#cccccc;stroke-linecap:round;stroke-width:1.389" /></g><g><path d="M244.4 841.73L241.86 844.18" style="fill:none;stroke:#262626;stroke-width:1.736;stroke-linecap:round" /></g><g><text style="font-size:16.806px;text-anchor:middle" x="234.25" y="880">1</text></g></g><g><g><path d="M256.33 717.86" clip-path="url(#p7e990c3744)" style="fill:none;stroke:#cccccc;stroke-linecap:round;stroke-width:1.389" /></g><g><path d="M284.24 854.73L281.76 857.24" style="fill:none;stroke:#262626;stroke-width:1.736;stroke-linecap:round" /></g><g><text style="font-size:16.806px;text-anchor:middle" x="273.36" y="893">2</text></g></g><g><g transform="translate(174.12 885)"><text><tspan x="1" y="0" style="font-style:italic;font-size:18.333px">X</tspan></text></g></g></g><g><g><path d="M389 763.17L295.21 859.42" style="fill:none;stroke:#cccccc;stroke-width:1.736;stroke-linecap:round" /></g><g><g><path d="M256.33 717.86" clip-path="url(#p7e990c3744)" style="fill:none;stroke:#cccccc;stroke-linecap:round;stroke-width:1.389" /></g><g><path d="M300.22 852.28L304.67 853.72" style="fill:none;stroke:#262626;stroke-width:1.736;stroke-linecap:round" /></g><g><text style="font-size:16.806px;text-anchor:middle" x="319.45" y="886">−2</text></g></g><g><g><path d="M256.33 717.86" clip-path="url(#p7e990c3744)" style="fill:none;stroke:#cccccc;stroke-linecap:round;stroke-width:1.389" /></g><g><path d="M321.92 830.05L326.31 831.44" style="fill:none;stroke:#262626;stroke-width:1.736;stroke-linecap:round" /></g><g><text style="font-size:16.806px;text-anchor:middle" x="340.53" y="864">−1</text></g></g><g><g><path d="M256.33 717.86" clip-path="url(#p7e990c3744)" style="fill:none;stroke:#cccccc;stroke-linecap:round;stroke-width:1.389" /></g><g><path d="M342.77 808.69L347.09 810.02" style="fill:none;stroke:#262626;stroke-width:1.736;stroke-linecap:round" /></g><g><text style="font-size:16.806px;text-anchor:middle" x="361.4" y="842">0</text></g></g><g><g><path d="M256.33 717.86" clip-path="url(#p7e990c3744)" style="fill:none;stroke:#cccccc;stroke-linecap:round;stroke-width:1.389" /></g><g><path d="M362.81 788.15L367.09 789.43" style="fill:none;stroke:#262626;stroke-width:1.736;stroke-linecap:round" /></g><g><text style="font-size:16.806px;text-anchor:middle" x="382.36" y="821">1</text></g></g><g><g><path d="M256.33 717.86" clip-path="url(#p7e990c3744)" style="fill:none;stroke:#cccccc;stroke-linecap:round;stroke-width:1.389" /></g><g><path d="M382.11 768.39L386.32 769.62" style="fill:none;stroke:#262626;stroke-width:1.736;stroke-linecap:round" /></g><g><text style="font-size:16.806px;text-anchor:middle" x="400.31" y="801">2</text></g></g><g><g transform="translate(373.93 854)"><text><tspan x="1" y="0" style="font-style:italic;font-size:18.333px">Y</tspan></text></g></g></g><g><g><path d="M389 763.17L394.94 633.38" style="fill:none;stroke:#cccccc;stroke-width:1.736;stroke-linecap:round" /></g><g><g><path d="M256.33 717.86" style="fill:none;stroke:#cccccc;stroke-linecap:round;stroke-width:1.389" /></g><g><path d="M387.71 760.28L391.92 761.49" style="fill:none;stroke:#262626;stroke-width:1.736;stroke-linecap:round" /></g><g><text style="font-size:16.806px;text-anchor:middle" x="414.38" y="772">−4</text></g></g><g><g><path d="M256.33 717.86" style="fill:none;stroke:#cccccc;stroke-linecap:round;stroke-width:1.389" /></g><g><path d="M389.08 730.11L393.33 731.3" style="fill:none;stroke:#262626;stroke-width:1.736;stroke-linecap:round" /></g><g><text style="font-size:16.806px;text-anchor:middle" x="416.37" y="742">−2</text></g></g><g><g><path d="M256.33 717.86" style="fill:none;stroke:#cccccc;stroke-linecap:round;stroke-width:1.389" /></g><g><path d="M390.48 699.31L394.77 700.48" style="fill:none;stroke:#262626;stroke-width:1.736;stroke-linecap:round" /></g><g><text style="font-size:16.806px;text-anchor:middle" x="418.2" y="711">0</text></g></g><g><g><path d="M256.33 717.86" style="fill:none;stroke:#cccccc;stroke-linecap:round;stroke-width:1.389" /></g><g><path d="M391.9 667.85L396.24 668.99" style="fill:none;stroke:#262626;stroke-width:1.736;stroke-linecap:round" /></g><g><text style="font-size:16.806px;text-anchor:middle" x="419.3" y="680">2</text></g></g><g><g><path d="M256.33 717.86" style="fill:none;stroke:#cccccc;stroke-linecap:round;stroke-width:1.389" /></g><g><path d="M393.36 635.72L397.75 636.84" style="fill:none;stroke:#262626;stroke-width:1.736;stroke-linecap:round" /></g><g><text style="font-size:16.806px;text-anchor:middle" x="422.28" y="648">4</text></g></g><g><g transform="translate(440.03 698)"><text><tspan x="1" y="0" style="font-style:italic;font-size:18.333px">Z</tspan></text></g></g></g><g><g><path d="M224.77 719.49L227.61 718.04L230.46 716.58L232.18 717.33L229.34 718.88L226.5 720.42Z" clip-path="url(#p7e990c3744)" style="fill:#fff5f0;fill-opacity:0.6" /><path d="M230.46 716.58L233.31 715.12L236.18 713.66L237.9 714.22L235.04 715.78L232.18 717.33Z" clip-path="url(#p7e990c3744)" style="fill:#ffeee7;fill-opacity:0.6" /><path d="M221.27 717.61L224.12 716.35L226.98 715.08L228.72 715.83L230.46 716.58L227.61 718.04L224.77 719.49L223.02 718.55Z" clip-path="url(#p7e990c3744)" style="fill:#fff0e9;fill-opacity:0.6" /><path d="M226.98 715.08L229.85 713.81L232.73 712.53L234.46 713.1L236.18 713.66L233.31 715.12L230.46 716.58L228.72 715.83Z" clip-path="url(#p7e990c3744)" style="fill:#fee9df;fill-opacity:0.6" /><path d="M236.18 713.66L239.06 712.19L241.95 710.71L243.66 711.09L240.78 712.66L237.9 714.22Z" clip-path="url(#p7e990c3744)" style="fill:#fee7dc;fill-opacity:0.6" /><path d="M217.75 715.72L220.61 714.64L223.47 713.56L225.23 714.32L226.98 715.08L224.12 716.35L221.27 717.61L219.51 716.67Z" clip-path="url(#p7e990c3744)" style="fill:#fee9df;fill-opacity:0.6" /><path d="M232.73 712.53L235.61 711.25L238.51 709.96L240.23 710.34L241.95 710.71L239.06 712.19L236.18 713.66L234.46 713.1Z" clip-path="url(#p7e990c3744)" style="fill:#fee3d6;fill-opacity:0.6" /><path d="M241.95 710.71L244.85 709.23L247.75 707.75L249.46 707.93L246.55 709.51L243.66 711.09Z" clip-path="url(#p7e990c3744)" style="fill:#fee0d2;fill-opacity:0.6" /><path d="M223.47 713.56L226.35 712.48L229.24 711.39L230.99 711.96L232.73 712.53L229.85 713.81L226.98 715.08L225.23 714.32Z" clip-path="url(#p7e990c3744)" style="fill:#fee3d7;fill-opacity:0.6" /><path d="M214.19 713.81L217.06 712.92L219.94 712.03L221.71 712.8L223.47 713.56L220.61 714.64L217.75 715.72L215.97 714.76Z" clip-path="url(#p7e990c3744)" style="fill:#fee2d5;fill-opacity:0.6" /><path d="M238.51 709.96L241.41 708.67L244.33 707.38L246.04 707.57L247.75 707.75L244.85 709.23L241.95 710.71L240.23 710.34Z" clip-path="url(#p7e990c3744)" style="fill:#fed9c9;fill-opacity:0.6" /><path d="M247.75 707.75L250.67 706.26L253.59 704.77L255.29 704.76L252.37 706.35L249.46 707.93Z" clip-path="url(#p7e990c3744)" style="fill:#fdd3c1;fill-opacity:0.6" /><path d="M229.24 711.39L232.13 710.3L235.04 709.21L236.78 709.59L238.51 709.96L235.61 711.25L232.73 712.53L230.99 711.96Z" clip-path="url(#p7e990c3744)" style="fill:#fedbcc;fill-opacity:0.6" /><path d="M219.94 712.03L222.82 711.14L225.72 710.24L227.48 710.82L229.24 711.39L226.35 712.48L223.47 713.56L221.71 712.8Z" clip-path="url(#p7e990c3744)" style="fill:#fedaca;fill-opacity:0.6" /><path d="M244.33 707.38L247.25 706.08L250.18 704.78L251.89 704.77L253.59 704.77L250.67 706.26L247.75 707.75L246.04 707.57Z" clip-path="url(#p7e990c3744)" style="fill:#fdcdb9;fill-opacity:0.6" /><path d="M253.59 704.77L256.53 703.27L259.47 701.76L261.17 701.56L258.22 703.16L255.29 704.76Z" clip-path="url(#p7e990c3744)" style="fill:#fdc7b2;fill-opacity:0.6" /><path d="M210.59 711.87L213.48 711.18L216.37 710.48L218.15 711.26L219.94 712.03L217.06 712.92L214.19 713.81L212.39 712.84Z" clip-path="url(#p7e990c3744)" style="fill:#fed8c7;fill-opacity:0.6" /><path d="M235.04 709.21L237.95 708.11L240.87 707.01L242.6 707.2L244.33 707.38L241.41 708.67L238.51 709.96L236.78 709.59Z" clip-path="url(#p7e990c3744)" style="fill:#fdd0bc;fill-opacity:0.6" /><path d="M225.72 710.24L228.62 709.34L231.54 708.44L233.29 708.83L235.04 709.21L232.13 710.3L229.24 711.39L227.48 710.82Z" clip-path="url(#p7e990c3744)" style="fill:#fdd1be;fill-opacity:0.6" /><path d="M250.18 704.78L253.12 703.48L256.07 702.17L257.78 701.96L259.47 701.76L256.53 703.27L253.59 704.77L251.89 704.77Z" clip-path="url(#p7e990c3744)" style="fill:#fcc2aa;fill-opacity:0.6" /><path d="M216.37 710.48L219.26 709.78L222.17 709.08L223.95 709.66L225.72 710.24L222.82 711.14L219.94 712.03L218.15 711.26Z" clip-path="url(#p7e990c3744)" style="fill:#fdd0bc;fill-opacity:0.6" /><path d="M259.47 701.76L262.43 700.25L265.39 698.74L267.08 698.34L264.12 699.95L261.17 701.56Z" clip-path="url(#p7e990c3744)" style="fill:#fcbba1;fill-opacity:0.6" /><path d="M240.87 707.01L243.8 705.91L246.74 704.8L248.46 704.79L250.18 704.78L247.25 706.08L244.33 707.38L242.6 707.2Z" clip-path="url(#p7e990c3744)" style="fill:#fdc5ae;fill-opacity:0.6" /><path d="M231.54 708.44L234.46 707.54L237.39 706.64L239.13 706.82L240.87 707.01L237.95 708.11L235.04 709.21L233.29 708.83Z" clip-path="url(#p7e990c3744)" style="fill:#fdc7b2;fill-opacity:0.6" /><path d="M206.97 709.93L209.86 709.43L212.76 708.92L214.57 709.7L216.37 710.48L213.48 711.18L210.59 711.87L208.79 710.9Z" clip-path="url(#p7e990c3744)" style="fill:#fdcbb6;fill-opacity:0.6" /><path d="M222.17 709.08L225.08 708.38L228 707.67L229.77 708.06L231.54 708.44L228.62 709.34L225.72 710.24L223.95 709.66Z" clip-path="url(#p7e990c3744)" style="fill:#fdc6b0;fill-opacity:0.6" /><path d="M256.07 702.17L259.03 700.85L262 699.53L263.7 699.14L265.39 698.74L262.43 700.25L259.47 701.76L257.78 701.96Z" clip-path="url(#p7e990c3744)" style="fill:#fcb69b;fill-opacity:0.6" /><path d="M265.39 698.74L268.37 697.22L271.35 695.69L273.03 695.1L270.05 696.72L267.08 698.34Z" clip-path="url(#p7e990c3744)" style="fill:#fcad90;fill-opacity:0.6" /><path d="M246.74 704.8L249.69 703.69L252.65 702.58L254.36 702.37L256.07 702.17L253.12 703.48L250.18 704.78L248.46 704.79Z" clip-path="url(#p7e990c3744)" style="fill:#fcbba1;fill-opacity:0.6" /><path d="M212.76 708.92L215.67 708.42L218.59 707.91L220.38 708.5L222.17 709.08L219.26 709.78L216.37 710.48L214.57 709.7Z" clip-path="url(#p7e990c3744)" style="fill:#fcc4ad;fill-opacity:0.6" /><path d="M237.39 706.64L240.32 705.73L243.27 704.82L245.01 704.81L246.74 704.8L243.8 705.91L240.87 707.01L239.13 706.82Z" clip-path="url(#p7e990c3744)" style="fill:#fcbda4;fill-opacity:0.6" /><path d="M228 707.67L230.93 706.97L233.87 706.26L235.63 706.45L237.39 706.64L234.46 707.54L231.54 708.44L229.77 708.06Z" clip-path="url(#p7e990c3744)" style="fill:#fcbea5;fill-opacity:0.6" /><path d="M262 699.53L264.98 698.21L267.97 696.89L269.67 696.29L271.35 695.69L268.37 697.22L265.39 698.74L263.7 699.14Z" clip-path="url(#p7e990c3744)" style="fill:#fca98c;fill-opacity:0.6" /><path d="M203.31 707.96L206.21 707.65L209.13 707.35L210.95 708.14L212.76 708.92L209.86 709.43L206.97 709.93L205.14 708.95Z" clip-path="url(#p7e990c3744)" style="fill:#fcbfa7;fill-opacity:0.6" /><path d="M252.65 702.58L255.61 701.46L258.59 700.34L260.3 699.94L262 699.53L259.03 700.85L256.07 702.17L254.36 702.37Z" clip-path="url(#p7e990c3744)" style="fill:#fcaf93;fill-opacity:0.6" /><path d="M271.35 695.69L274.35 694.16L277.35 692.63L279.03 691.84L276.03 693.47L273.03 695.1Z" clip-path="url(#p7e990c3744)" style="fill:#fc9e80;fill-opacity:0.6" /><path d="M218.59 707.91L221.51 707.41L224.44 706.9L226.23 707.29L228 707.67L225.08 708.38L222.17 709.08L220.38 708.5Z" clip-path="url(#p7e990c3744)" style="fill:#fcbca2;fill-opacity:0.6" /><path d="M243.27 704.82L246.23 703.9L249.19 702.99L250.92 702.78L252.65 702.58L249.69 703.69L246.74 704.8L245.01 704.81Z" clip-path="url(#p7e990c3744)" style="fill:#fcb398;fill-opacity:0.6" /><path d="M233.87 706.26L236.82 705.55L239.77 704.83L241.53 704.83L243.27 704.82L240.32 705.73L237.39 706.64L235.63 706.45Z" clip-path="url(#p7e990c3744)" style="fill:#fcb499;fill-opacity:0.6" /><path d="M209.13 707.35L212.05 707.04L214.97 706.73L216.79 707.32L218.59 707.91L215.67 708.42L212.76 708.92L210.95 708.14Z" clip-path="url(#p7e990c3744)" style="fill:#fcb89e;fill-opacity:0.6" /><path d="M267.97 696.89L270.97 695.55L273.98 694.22L275.67 693.42L277.35 692.63L274.35 694.16L271.35 695.69L269.67 696.29Z" clip-path="url(#p7e990c3744)" style="fill:#fc9c7d;fill-opacity:0.6" /><path d="M258.59 700.34L261.57 699.21L264.57 698.09L266.27 697.48L267.97 696.89L264.98 698.21L262 699.53L260.3 699.94Z" clip-path="url(#p7e990c3744)" style="fill:#fca486;fill-opacity:0.6" /><path d="M224.44 706.9L227.38 706.39L230.33 705.88L232.11 706.07L233.87 706.26L230.93 706.97L228 707.67L226.23 707.29Z" clip-path="url(#p7e990c3744)" style="fill:#fcb499;fill-opacity:0.6" /><path d="M277.35 692.63L280.37 691.09L283.39 689.54L285.07 688.55L282.04 690.2L279.03 691.84Z" clip-path="url(#p7e990c3744)" style="fill:#fc9070;fill-opacity:0.6" /><path d="M249.19 702.99L252.16 702.07L255.15 701.15L256.87 700.74L258.59 700.34L255.61 701.46L252.65 702.58L250.92 702.78Z" clip-path="url(#p7e990c3744)" style="fill:#fca98c;fill-opacity:0.6" /><path d="M199.62 705.97L202.53 705.87L205.46 705.76L207.3 706.56L209.13 707.35L206.21 707.65L203.31 707.96L201.47 706.97Z" clip-path="url(#p7e990c3744)" style="fill:#fcb296;fill-opacity:0.6" /><path d="M239.77 704.83L242.74 704.12L245.71 703.4L247.45 703.19L249.19 702.99L246.23 703.9L243.27 704.82L241.53 704.83Z" clip-path="url(#p7e990c3744)" style="fill:#fcab8f;fill-opacity:0.6" /><path d="M214.97 706.73L217.91 706.42L220.85 706.11L222.65 706.51L224.44 706.9L221.51 707.41L218.59 707.91L216.79 707.32Z" clip-path="url(#p7e990c3744)" style="fill:#fcb296;fill-opacity:0.6" /><path d="M230.33 705.88L233.29 705.37L236.25 704.85L238.02 704.84L239.77 704.83L236.82 705.55L233.87 706.26L232.11 706.07Z" clip-path="url(#p7e990c3744)" style="fill:#fcab8f;fill-opacity:0.6" /><path d="M273.98 694.22L277 692.88L280.02 691.54L281.71 690.54L283.39 689.54L280.37 691.09L277.35 692.63L275.67 693.42Z" clip-path="url(#p7e990c3744)" style="fill:#fc8f6f;fill-opacity:0.6" /><path d="M264.57 698.09L267.57 696.96L270.58 695.82L272.28 695.02L273.98 694.22L270.97 695.55L267.97 696.89L266.27 697.48Z" clip-path="url(#p7e990c3744)" style="fill:#fc9777;fill-opacity:0.6" /><path d="M205.46 705.76L208.39 705.65L211.33 705.54L213.16 706.14L214.97 706.73L212.05 707.04L209.13 707.35L207.3 706.56Z" clip-path="url(#p7e990c3744)" style="fill:#fcad90;fill-opacity:0.6" /><path d="M255.15 701.15L258.14 700.22L261.14 699.3L262.85 698.69L264.57 698.09L261.57 699.21L258.59 700.34L256.87 700.74Z" clip-path="url(#p7e990c3744)" style="fill:#fc9d7f;fill-opacity:0.6" /><path d="M283.39 689.54L286.43 687.99L289.47 686.44L291.14 685.25L288.1 686.9L285.07 688.55Z" clip-path="url(#p7e990c3744)" style="fill:#fc8464;fill-opacity:0.6" /><path d="M220.85 706.11L223.8 705.8L226.76 705.49L228.55 705.69L230.33 705.88L227.38 706.39L224.44 706.9L222.65 706.51Z" clip-path="url(#p7e990c3744)" style="fill:#fcaa8d;fill-opacity:0.6" /><path d="M245.71 703.4L248.69 702.68L251.68 701.96L253.42 701.55L255.15 701.15L252.16 702.07L249.19 702.99L247.45 703.19Z" clip-path="url(#p7e990c3744)" style="fill:#fca183;fill-opacity:0.6" /><path d="M236.25 704.85L239.22 704.34L242.2 703.82L243.96 703.61L245.71 703.4L242.74 704.12L239.77 704.83L238.02 704.84Z" clip-path="url(#p7e990c3744)" style="fill:#fca486;fill-opacity:0.6" /><path d="M195.89 703.97L198.82 704.06L201.76 704.16L203.61 704.96L205.46 705.76L202.53 705.87L199.62 705.97L197.76 704.97Z" clip-path="url(#p7e990c3744)" style="fill:#fca588;fill-opacity:0.6" /><path d="M211.33 705.54L214.28 705.43L217.23 705.33L219.04 705.72L220.85 706.11L217.91 706.42L214.97 706.73L213.16 706.14Z" clip-path="url(#p7e990c3744)" style="fill:#fca689;fill-opacity:0.6" /><path d="M280.02 691.54L283.06 690.19L286.11 688.83L287.79 687.63L289.47 686.44L286.43 687.99L283.39 689.54L281.71 690.54Z" clip-path="url(#p7e990c3744)" style="fill:#fc8262;fill-opacity:0.6" /><path d="M270.58 695.82L273.6 694.68L276.64 693.54L278.33 692.54L280.02 691.54L277 692.88L273.98 694.22L272.28 695.02Z" clip-path="url(#p7e990c3744)" style="fill:#fc8b6b;fill-opacity:0.6" /><path d="M261.14 699.3L264.14 698.37L267.16 697.43L268.87 696.63L270.58 695.82L267.57 696.96L264.57 698.09L262.85 698.69Z" clip-path="url(#p7e990c3744)" style="fill:#fc9373;fill-opacity:0.6" /><path d="M226.76 705.49L229.72 705.18L232.7 704.87L234.48 704.86L236.25 704.85L233.29 705.37L230.33 705.88L228.55 705.69Z" clip-path="url(#p7e990c3744)" style="fill:#fca285;fill-opacity:0.6" /><path d="M289.47 686.44L292.53 684.88L295.59 683.31L297.26 681.92L294.2 683.58L291.14 685.25Z" clip-path="url(#p7e990c3744)" style="fill:#fb7656;fill-opacity:0.6" /><path d="M251.68 701.96L254.67 701.24L257.68 700.51L259.41 699.9L261.14 699.3L258.14 700.22L255.15 701.15L253.42 701.55Z" clip-path="url(#p7e990c3744)" style="fill:#fc9879;fill-opacity:0.6" /><path d="M201.76 704.16L204.7 704.25L207.65 704.34L209.49 704.94L211.33 705.54L208.39 705.65L205.46 705.76L203.61 704.96Z" clip-path="url(#p7e990c3744)" style="fill:#fca082;fill-opacity:0.6" /><path d="M242.2 703.82L245.19 703.3L248.18 702.78L249.93 702.37L251.68 701.96L248.69 702.68L245.71 703.4L243.96 703.61Z" clip-path="url(#p7e990c3744)" style="fill:#fc9b7c;fill-opacity:0.6" /><path d="M217.23 705.33L220.19 705.22L223.16 705.11L224.96 705.3L226.76 705.49L223.8 705.8L220.85 706.11L219.04 705.72Z" clip-path="url(#p7e990c3744)" style="fill:#fca082;fill-opacity:0.6" /><path d="M276.64 693.54L279.68 692.4L282.73 691.25L284.42 690.04L286.11 688.83L283.06 690.19L280.02 691.54L278.33 692.54Z" clip-path="url(#p7e990c3744)" style="fill:#fc8060;fill-opacity:0.6" /><path d="M286.11 688.83L289.17 687.48L292.24 686.12L293.92 684.71L295.59 683.31L292.53 684.88L289.47 686.44L287.79 687.63Z" clip-path="url(#p7e990c3744)" style="fill:#fb7555;fill-opacity:0.6" /><path d="M232.7 704.87L235.68 704.56L238.66 704.24L240.44 704.03L242.2 703.82L239.22 704.34L236.25 704.85L234.48 704.86Z" clip-path="url(#p7e990c3744)" style="fill:#fc9c7d;fill-opacity:0.6" /><path d="M267.16 697.43L270.19 696.5L273.22 695.56L274.93 694.55L276.64 693.54L273.6 694.68L270.58 695.82L268.87 696.63Z" clip-path="url(#p7e990c3744)" style="fill:#fc8969;fill-opacity:0.6" /><path d="M257.68 700.51L260.69 699.79L263.72 699.06L265.44 698.24L267.16 697.43L264.14 698.37L261.14 699.3L259.41 699.9Z" clip-path="url(#p7e990c3744)" style="fill:#fc8f6f;fill-opacity:0.6" /><path d="M192.12 701.95L195.07 702.24L198.02 702.54L199.89 703.35L201.76 704.16L198.82 704.06L195.89 703.97L194.01 702.96Z" clip-path="url(#p7e990c3744)" style="fill:#fc9777;fill-opacity:0.6" /><path d="M207.65 704.34L210.61 704.43L213.57 704.53L215.41 704.93L217.23 705.33L214.28 705.43L211.33 705.54L209.49 704.94Z" clip-path="url(#p7e990c3744)" style="fill:#fc9b7c;fill-opacity:0.6" /><path d="M295.59 683.31L298.67 681.74L301.76 680.16L303.43 678.56L300.34 680.24L297.26 681.92Z" clip-path="url(#p7e990c3744)" style="fill:#fa6849;fill-opacity:0.6" /><path d="M223.16 705.11L226.13 705L229.11 704.89L230.91 704.88L232.7 704.87L229.72 705.18L226.76 705.49L224.96 705.3Z" clip-path="url(#p7e990c3744)" style="fill:#fc997a;fill-opacity:0.6" /><path d="M248.18 702.78L251.19 702.26L254.2 701.74L255.94 701.13L257.68 700.51L254.67 701.24L251.68 701.96L249.93 702.37Z" clip-path="url(#p7e990c3744)" style="fill:#fc9373;fill-opacity:0.6" /><path d="M238.66 704.24L241.66 703.93L244.66 703.61L246.43 703.2L248.18 702.78L245.19 703.3L242.2 703.82L240.44 704.03Z" clip-path="url(#p7e990c3744)" style="fill:#fc9474;fill-opacity:0.6" /><path d="M282.73 691.25L285.79 690.09L288.86 688.94L290.55 687.53L292.24 686.12L289.17 687.48L286.11 688.83L284.42 690.04Z" clip-path="url(#p7e990c3744)" style="fill:#fb7555;fill-opacity:0.6" /><path d="M198.02 702.54L200.98 702.83L203.94 703.13L205.8 703.74L207.65 704.34L204.7 704.25L201.76 704.16L199.89 703.35Z" clip-path="url(#p7e990c3744)" style="fill:#fc9373;fill-opacity:0.6" /><path d="M273.22 695.56L276.27 694.62L279.32 693.68L281.03 692.46L282.73 691.25L279.68 692.4L276.64 693.54L274.93 694.55Z" clip-path="url(#p7e990c3744)" style="fill:#fb7d5d;fill-opacity:0.6" /><path d="M292.24 686.12L295.31 684.75L298.4 683.38L300.08 681.77L301.76 680.16L298.67 681.74L295.59 683.31L293.92 684.71Z" clip-path="url(#p7e990c3744)" style="fill:#fa6849;fill-opacity:0.6" /><path d="M213.57 704.53L216.55 704.62L219.53 704.72L221.35 704.91L223.16 705.11L220.19 705.22L217.23 705.33L215.41 704.93Z" clip-path="url(#p7e990c3744)" style="fill:#fc9576;fill-opacity:0.6" /><path d="M263.72 699.06L266.75 698.33L269.79 697.59L271.51 696.57L273.22 695.56L270.19 696.5L267.16 697.43L265.44 698.24Z" clip-path="url(#p7e990c3744)" style="fill:#fc8565;fill-opacity:0.6" /><path d="M229.11 704.89L232.1 704.78L235.1 704.67L236.89 704.45L238.66 704.24L235.68 704.56L232.7 704.87L230.91 704.88Z" clip-path="url(#p7e990c3744)" style="fill:#fc9474;fill-opacity:0.6" /><path d="M254.2 701.74L257.22 701.22L260.25 700.69L261.99 699.87L263.72 699.06L260.69 699.79L257.68 700.51L255.94 701.13Z" clip-path="url(#p7e990c3744)" style="fill:#fc8a6a;fill-opacity:0.6" /><path d="M301.76 680.16L304.85 678.58L307.96 676.99L309.63 675.19L306.52 676.88L303.43 678.56Z" clip-path="url(#p7e990c3744)" style="fill:#f6583e;fill-opacity:0.6" /><path d="M244.66 703.61L247.67 703.29L250.69 702.98L252.45 702.36L254.2 701.74L251.19 702.26L248.18 702.78L246.43 703.2Z" clip-path="url(#p7e990c3744)" style="fill:#fc8e6e;fill-opacity:0.6" /><path d="M203.94 703.13L206.91 703.43L209.89 703.73L211.74 704.13L213.57 704.53L210.61 704.43L207.65 704.34L205.8 703.74Z" clip-path="url(#p7e990c3744)" style="fill:#fc8f6f;fill-opacity:0.6" /><path d="M188.32 699.9L191.28 700.4L194.25 700.9L196.14 701.72L198.02 702.54L195.07 702.24L192.12 701.95L190.23 700.93Z" clip-path="url(#p7e990c3744)" style="fill:#fc8a6a;fill-opacity:0.6" /><path d="M219.53 704.72L222.51 704.81L225.5 704.91L227.31 704.9L229.11 704.89L226.13 705L223.16 705.11L221.35 704.91Z" clip-path="url(#p7e990c3744)" style="fill:#fc9070;fill-opacity:0.6" /><path d="M279.32 693.68L282.38 692.73L285.46 691.78L287.16 690.36L288.86 688.94L285.79 690.09L282.73 691.25L281.03 692.46Z" clip-path="url(#p7e990c3744)" style="fill:#fb7353;fill-opacity:0.6" /><path d="M288.86 688.94L291.93 687.78L295.02 686.62L296.71 685L298.4 683.38L295.31 684.75L292.24 686.12L290.55 687.53Z" clip-path="url(#p7e990c3744)" style="fill:#fb694a;fill-opacity:0.6" /><path d="M235.1 704.67L238.1 704.56L241.12 704.44L242.89 704.03L244.66 703.61L241.66 703.93L238.66 704.24L236.89 704.45Z" clip-path="url(#p7e990c3744)" style="fill:#fc8e6e;fill-opacity:0.6" /><path d="M269.79 697.59L272.84 696.86L275.89 696.12L277.61 694.89L279.32 693.68L276.27 694.62L273.22 695.56L271.51 696.57Z" clip-path="url(#p7e990c3744)" style="fill:#fb7c5c;fill-opacity:0.6" /><path d="M298.4 683.38L301.5 682.01L304.61 680.63L306.29 678.81L307.96 676.99L304.85 678.58L301.76 680.16L300.08 681.77Z" clip-path="url(#p7e990c3744)" style="fill:#f7593f;fill-opacity:0.6" /><path d="M260.25 700.69L263.28 700.17L266.33 699.64L268.06 698.61L269.79 697.59L266.75 698.33L263.72 699.06L261.99 699.87Z" clip-path="url(#p7e990c3744)" style="fill:#fc8262;fill-opacity:0.6" /><path d="M209.89 703.73L212.87 704.02L215.86 704.32L217.7 704.52L219.53 704.72L216.55 704.62L213.57 704.53L211.74 704.13Z" clip-path="url(#p7e990c3744)" style="fill:#fc8b6b;fill-opacity:0.6" /><path d="M194.25 700.9L197.22 701.4L200.2 701.91L202.07 702.52L203.94 703.13L200.98 702.83L198.02 702.54L196.14 701.72Z" clip-path="url(#p7e990c3744)" style="fill:#fc8767;fill-opacity:0.6" /><path d="M307.96 676.99L311.08 675.4L314.21 673.8L315.88 671.78L312.75 673.49L309.63 675.19Z" clip-path="url(#p7e990c3744)" style="fill:#f34935;fill-opacity:0.6" /><path d="M250.69 702.98L253.72 702.66L256.75 702.34L258.5 701.51L260.25 700.69L257.22 701.22L254.2 701.74L252.45 702.36Z" clip-path="url(#p7e990c3744)" style="fill:#fc8666;fill-opacity:0.6" /><path d="M225.5 704.91L228.5 705L231.51 705.09L233.31 704.88L235.1 704.67L232.1 704.78L229.11 704.89L227.31 704.9Z" clip-path="url(#p7e990c3744)" style="fill:#fc8d6d;fill-opacity:0.6" /><path d="M241.12 704.44L244.13 704.33L247.16 704.22L248.93 703.6L250.69 702.98L247.67 703.29L244.66 703.61L242.89 704.03Z" clip-path="url(#p7e990c3744)" style="fill:#fc8767;fill-opacity:0.6" /><path d="M285.46 691.78L288.54 690.83L291.63 689.87L293.33 688.24L295.02 686.62L291.93 687.78L288.86 688.94L287.16 690.36Z" clip-path="url(#p7e990c3744)" style="fill:#fb694a;fill-opacity:0.6" /><path d="M275.89 696.12L278.96 695.38L282.03 694.64L283.75 693.21L285.46 691.78L282.38 692.73L279.32 693.68L277.61 694.89Z" clip-path="url(#p7e990c3744)" style="fill:#fb7252;fill-opacity:0.6" /><path d="M295.02 686.62L298.12 685.45L301.23 684.28L302.92 682.45L304.61 680.63L301.5 682.01L298.4 683.38L296.71 685Z" clip-path="url(#p7e990c3744)" style="fill:#f75b40;fill-opacity:0.6" /><path d="M200.2 701.91L203.18 702.41L206.17 702.91L208.03 703.32L209.89 703.73L206.91 703.43L203.94 703.13L202.07 702.52Z" clip-path="url(#p7e990c3744)" style="fill:#fc8565;fill-opacity:0.6" /><path d="M215.86 704.32L218.86 704.62L221.86 704.92L223.69 704.91L225.5 704.91L222.51 704.81L219.53 704.72L217.7 704.52Z" clip-path="url(#p7e990c3744)" style="fill:#fc8767;fill-opacity:0.6" /><path d="M266.33 699.64L269.38 699.11L272.44 698.58L274.17 697.35L275.89 696.12L272.84 696.86L269.79 697.59L268.06 698.61Z" clip-path="url(#p7e990c3744)" style="fill:#fb7a5a;fill-opacity:0.6" /><path d="M304.61 680.63L307.72 679.24L310.85 677.85L312.53 675.83L314.21 673.8L311.08 675.4L307.96 676.99L306.29 678.81Z" clip-path="url(#p7e990c3744)" style="fill:#f34a36;fill-opacity:0.6" /><path d="M184.49 697.84L187.46 698.55L190.44 699.25L192.35 700.08L194.25 700.9L191.28 700.4L188.32 699.9L186.41 698.88Z" clip-path="url(#p7e990c3744)" style="fill:#fb7c5c;fill-opacity:0.6" /><path d="M231.51 705.09L234.52 705.19L237.54 705.29L239.33 704.86L241.12 704.44L238.1 704.56L235.1 704.67L233.31 704.88Z" clip-path="url(#p7e990c3744)" style="fill:#fc8767;fill-opacity:0.6" /><path d="M256.75 702.34L259.8 702.02L262.85 701.7L264.59 700.67L266.33 699.64L263.28 700.17L260.25 700.69L258.5 701.51Z" clip-path="url(#p7e990c3744)" style="fill:#fc7f5f;fill-opacity:0.6" /><path d="M314.21 673.8L317.35 672.2L320.5 670.59L322.17 668.36L319.02 670.08L315.88 671.78Z" clip-path="url(#p7e990c3744)" style="fill:#ed392b;fill-opacity:0.6" /><path d="M247.16 704.22L250.19 704.11L253.24 704L255 703.17L256.75 702.34L253.72 702.66L250.69 702.98L248.93 703.6Z" clip-path="url(#p7e990c3744)" style="fill:#fc8262;fill-opacity:0.6" /><path d="M206.17 702.91L209.17 703.42L212.17 703.93L214.02 704.12L215.86 704.32L212.87 704.02L209.89 703.73L208.03 703.32Z" clip-path="url(#p7e990c3744)" style="fill:#fc8262;fill-opacity:0.6" /><path d="M221.86 704.92L224.87 705.22L227.89 705.53L229.7 705.31L231.51 705.09L228.5 705L225.5 704.91L223.69 704.91Z" clip-path="url(#p7e990c3744)" style="fill:#fc8565;fill-opacity:0.6" /><path d="M190.44 699.25L193.43 699.96L196.42 700.67L198.31 701.29L200.2 701.91L197.22 701.4L194.25 700.9L192.35 700.08Z" clip-path="url(#p7e990c3744)" style="fill:#fb7b5b;fill-opacity:0.6" /><path d="M282.03 694.64L285.12 693.89L288.21 693.15L289.92 691.51L291.63 689.87L288.54 690.83L285.46 691.78L283.75 693.21Z" clip-path="url(#p7e990c3744)" style="fill:#fb694a;fill-opacity:0.6" /><path d="M291.63 689.87L294.73 688.91L297.84 687.95L299.54 686.11L301.23 684.28L298.12 685.45L295.02 686.62L293.33 688.24Z" clip-path="url(#p7e990c3744)" style="fill:#f75c41;fill-opacity:0.6" /><path d="M272.44 698.58L275.51 698.05L278.59 697.51L280.32 696.07L282.03 694.64L278.96 695.38L275.89 696.12L274.17 697.35Z" clip-path="url(#p7e990c3744)" style="fill:#fb7252;fill-opacity:0.6" /><path d="M301.23 684.28L304.35 683.1L307.48 681.93L309.17 679.89L310.85 677.85L307.72 679.24L304.61 680.63L302.92 682.45Z" clip-path="url(#p7e990c3744)" style="fill:#f44d38;fill-opacity:0.6" /><path d="M237.54 705.29L240.57 705.38L243.6 705.48L245.38 704.85L247.16 704.22L244.13 704.33L241.12 704.44L239.33 704.86Z" clip-path="url(#p7e990c3744)" style="fill:#fc8262;fill-opacity:0.6" /><path d="M262.85 701.7L265.9 701.38L268.97 701.05L270.71 699.81L272.44 698.58L269.38 699.11L266.33 699.64L264.59 700.67Z" clip-path="url(#p7e990c3744)" style="fill:#fb7858;fill-opacity:0.6" /><path d="M310.85 677.85L313.99 676.46L317.14 675.06L318.82 672.82L320.5 670.59L317.35 672.2L314.21 673.8L312.53 675.83Z" clip-path="url(#p7e990c3744)" style="fill:#ef3c2c;fill-opacity:0.6" /><path d="M212.17 703.93L215.18 704.43L218.19 704.94L220.03 704.93L221.86 704.92L218.86 704.62L215.86 704.32L214.02 704.12Z" clip-path="url(#p7e990c3744)" style="fill:#fc8060;fill-opacity:0.6" /><path d="M253.24 704L256.28 703.89L259.34 703.77L261.1 702.73L262.85 701.7L259.8 702.02L256.75 702.34L255 703.17Z" clip-path="url(#p7e990c3744)" style="fill:#fb7c5c;fill-opacity:0.6" /><path d="M196.42 700.67L199.42 701.38L202.42 702.1L204.3 702.51L206.17 702.91L203.18 702.41L200.2 701.91L198.31 701.29Z" clip-path="url(#p7e990c3744)" style="fill:#fb7a5a;fill-opacity:0.6" /><path d="M227.89 705.53L230.91 705.83L233.94 706.13L235.74 705.71L237.54 705.29L234.52 705.19L231.51 705.09L229.7 705.31Z" clip-path="url(#p7e990c3744)" style="fill:#fc8161;fill-opacity:0.6" /><path d="M320.5 670.59L323.66 668.97L326.83 667.35L328.51 664.91L325.33 666.64L322.17 668.36Z" clip-path="url(#p7e990c3744)" style="fill:#e12d26;fill-opacity:0.6" /><path d="M180.61 695.76L183.6 696.67L186.6 697.59L188.52 698.42L190.44 699.25L187.46 698.55L184.49 697.84L182.55 696.8Z" clip-path="url(#p7e990c3744)" style="fill:#fb6e4e;fill-opacity:0.6" /><path d="M243.6 705.48L246.64 705.57L249.69 705.67L251.47 704.83L253.24 704L250.19 704.11L247.16 704.22L245.38 704.85Z" clip-path="url(#p7e990c3744)" style="fill:#fb7d5d;fill-opacity:0.6" /><path d="M288.21 693.15L291.31 692.4L294.42 691.65L296.13 689.8L297.84 687.95L294.73 688.91L291.63 689.87L289.92 691.51Z" clip-path="url(#p7e990c3744)" style="fill:#f85f43;fill-opacity:0.6" /><path d="M278.59 697.51L281.68 696.98L284.77 696.44L286.49 694.79L288.21 693.15L285.12 693.89L282.03 694.64L280.32 696.07Z" clip-path="url(#p7e990c3744)" style="fill:#fb694a;fill-opacity:0.6" /><path d="M297.84 687.95L300.95 686.99L304.08 686.02L305.78 683.97L307.48 681.93L304.35 683.1L301.23 684.28L299.54 686.11Z" clip-path="url(#p7e990c3744)" style="fill:#f4503a;fill-opacity:0.6" /><path d="M268.97 701.05L272.04 700.73L275.13 700.41L276.86 698.96L278.59 697.51L275.51 698.05L272.44 698.58L270.71 699.81Z" clip-path="url(#p7e990c3744)" style="fill:#fb7151;fill-opacity:0.6" /><path d="M307.48 681.93L310.61 680.75L313.76 679.56L315.45 677.31L317.14 675.06L313.99 676.46L310.85 677.85L309.17 679.89Z" clip-path="url(#p7e990c3744)" style="fill:#f0402f;fill-opacity:0.6" /><path d="M218.19 704.94L221.21 705.45L224.24 705.96L226.07 705.74L227.89 705.53L224.87 705.22L221.86 704.92L220.03 704.93Z" clip-path="url(#p7e990c3744)" style="fill:#fb7c5c;fill-opacity:0.6" /><path d="M202.42 702.1L205.43 702.81L208.44 703.53L210.31 703.73L212.17 703.93L209.17 703.42L206.17 702.91L204.3 702.51Z" clip-path="url(#p7e990c3744)" style="fill:#fb7858;fill-opacity:0.6" /><path d="M233.94 706.13L236.97 706.44L240.02 706.74L241.81 706.11L243.6 705.48L240.57 705.38L237.54 705.29L235.74 705.71Z" clip-path="url(#p7e990c3744)" style="fill:#fb7d5d;fill-opacity:0.6" /><path d="M259.34 703.77L262.4 703.66L265.47 703.55L267.23 702.3L268.97 701.05L265.9 701.38L262.85 701.7L261.1 702.73Z" clip-path="url(#p7e990c3744)" style="fill:#fb7656;fill-opacity:0.6" /><path d="M317.14 675.06L320.3 673.66L323.47 672.25L325.15 669.8L326.83 667.35L323.66 668.97L320.5 670.59L318.82 672.82Z" clip-path="url(#p7e990c3744)" style="fill:#e43027;fill-opacity:0.6" /><path d="M186.6 697.59L189.6 698.51L192.6 699.43L194.52 700.05L196.42 700.67L193.43 699.96L190.44 699.25L188.52 698.42Z" clip-path="url(#p7e990c3744)" style="fill:#fb6e4e;fill-opacity:0.6" /><path d="M249.69 705.67L252.75 705.77L255.81 705.86L257.58 704.82L259.34 703.77L256.28 703.89L253.24 704L251.47 704.83Z" clip-path="url(#p7e990c3744)" style="fill:#fb7858;fill-opacity:0.6" /><path d="M208.44 703.53L211.46 704.24L214.49 704.96L216.34 704.95L218.19 704.94L215.18 704.43L212.17 703.93L210.31 703.73Z" clip-path="url(#p7e990c3744)" style="fill:#fb7757;fill-opacity:0.6" /><path d="M224.24 705.96L227.27 706.47L230.31 706.99L232.13 706.56L233.94 706.13L230.91 705.83L227.89 705.53L226.07 705.74Z" clip-path="url(#p7e990c3744)" style="fill:#fb7a5a;fill-opacity:0.6" /><path d="M326.83 667.35L330.02 665.73L333.21 664.1L334.89 661.44L331.69 663.18L328.51 664.91Z" clip-path="url(#p7e990c3744)" style="fill:#d42121;fill-opacity:0.6" /><path d="M284.77 696.44L287.88 695.9L290.99 695.36L292.71 693.5L294.42 691.65L291.31 692.4L288.21 693.15L286.49 694.79Z" clip-path="url(#p7e990c3744)" style="fill:#f96044;fill-opacity:0.6" /><path d="M294.42 691.65L297.54 690.9L300.67 690.14L302.38 688.08L304.08 686.02L300.95 686.99L297.84 687.95L296.13 689.8Z" clip-path="url(#p7e990c3744)" style="fill:#f5533b;fill-opacity:0.6" /><path d="M275.13 700.41L278.22 700.08L281.31 699.76L283.05 698.1L284.77 696.44L281.68 696.98L278.59 697.51L276.86 698.96Z" clip-path="url(#p7e990c3744)" style="fill:#fb694a;fill-opacity:0.6" /><path d="M304.08 686.02L307.22 685.05L310.37 684.08L312.07 681.82L313.76 679.56L310.61 680.75L307.48 681.93L305.78 683.97Z" clip-path="url(#p7e990c3744)" style="fill:#f14432;fill-opacity:0.6" /><path d="M192.6 699.43L195.62 700.35L198.63 701.27L200.53 701.69L202.42 702.1L199.42 701.38L196.42 700.67L194.52 700.05Z" clip-path="url(#p7e990c3744)" style="fill:#fb6e4e;fill-opacity:0.6" /><path d="M240.02 706.74L243.07 707.05L246.12 707.35L247.91 706.51L249.69 705.67L246.64 705.57L243.6 705.48L241.81 706.11Z" clip-path="url(#p7e990c3744)" style="fill:#fb7a5a;fill-opacity:0.6" /><path d="M265.47 703.55L268.55 703.43L271.64 703.32L273.39 701.86L275.13 700.41L272.04 700.73L268.97 701.05L267.23 702.3Z" clip-path="url(#p7e990c3744)" style="fill:#fb7050;fill-opacity:0.6" /><path d="M313.76 679.56L316.92 678.37L320.09 677.18L321.78 674.71L323.47 672.25L320.3 673.66L317.14 675.06L315.45 677.31Z" clip-path="url(#p7e990c3744)" style="fill:#e93529;fill-opacity:0.6" /><path d="M176.7 693.66L179.71 694.78L182.72 695.91L184.66 696.75L186.6 697.59L183.6 696.67L180.61 695.76L178.66 694.71Z" clip-path="url(#p7e990c3744)" style="fill:#f96044;fill-opacity:0.6" /><path d="M255.81 705.86L258.88 705.96L261.96 706.06L263.72 704.8L265.47 703.55L262.4 703.66L259.34 703.77L257.58 704.82Z" clip-path="url(#p7e990c3744)" style="fill:#fb7555;fill-opacity:0.6" /><path d="M323.47 672.25L326.65 670.84L329.84 669.43L331.53 666.76L333.21 664.1L330.02 665.73L326.83 667.35L325.15 669.8Z" clip-path="url(#p7e990c3744)" style="fill:#d92523;fill-opacity:0.6" /><path d="M214.49 704.96L217.52 705.68L220.56 706.4L222.4 706.18L224.24 705.96L221.21 705.45L218.19 704.94L216.34 704.95Z" clip-path="url(#p7e990c3744)" style="fill:#fb7555;fill-opacity:0.6" /><path d="M230.31 706.99L233.35 707.5L236.41 708.01L238.21 707.38L240.02 706.74L236.97 706.44L233.94 706.13L232.13 706.56Z" clip-path="url(#p7e990c3744)" style="fill:#fb7757;fill-opacity:0.6" /><path d="M198.63 701.27L201.66 702.2L204.68 703.12L206.57 703.32L208.44 703.53L205.43 702.81L202.42 702.1L200.53 701.69Z" clip-path="url(#p7e990c3744)" style="fill:#fb6e4e;fill-opacity:0.6" /><path d="M246.12 707.35L249.18 707.66L252.25 707.97L254.03 706.91L255.81 705.86L252.75 705.77L249.69 705.67L247.91 706.51Z" clip-path="url(#p7e990c3744)" style="fill:#fb7656;fill-opacity:0.6" /><path d="M290.99 695.36L294.11 694.82L297.24 694.28L298.96 692.21L300.67 690.14L297.54 690.9L294.42 691.65L292.71 693.5Z" clip-path="url(#p7e990c3744)" style="fill:#f6563d;fill-opacity:0.6" /><path d="M281.31 699.76L284.42 699.43L287.53 699.1L289.26 697.23L290.99 695.36L287.88 695.9L284.77 696.44L283.05 698.1Z" clip-path="url(#p7e990c3744)" style="fill:#f96245;fill-opacity:0.6" /><path d="M300.67 690.14L303.81 689.38L306.95 688.62L308.66 686.35L310.37 684.08L307.22 685.05L304.08 686.02L302.38 688.08Z" clip-path="url(#p7e990c3744)" style="fill:#f34935;fill-opacity:0.6" /><path d="M182.72 695.91L185.74 697.04L188.76 698.17L190.69 698.8L192.6 699.43L189.6 698.51L186.6 697.59L184.66 696.75Z" clip-path="url(#p7e990c3744)" style="fill:#f96245;fill-opacity:0.6" /><path d="M271.64 703.32L274.73 703.21L277.83 703.09L279.58 701.42L281.31 699.76L278.22 700.08L275.13 700.41L273.39 701.86Z" clip-path="url(#p7e990c3744)" style="fill:#fb6b4b;fill-opacity:0.6" /><path d="M310.37 684.08L313.52 683.1L316.69 682.13L318.39 679.65L320.09 677.18L316.92 678.37L313.76 679.56L312.07 681.82Z" clip-path="url(#p7e990c3744)" style="fill:#ed392b;fill-opacity:0.6" /><path d="M333.21 664.1L336.41 662.46L339.63 660.82L341.31 657.94L338.1 659.7L334.89 661.44Z" clip-path="url(#p7e990c3744)" style="fill:#c8171c;fill-opacity:0.6" /><path d="M220.56 706.4L223.6 707.12L226.65 707.85L228.48 707.41L230.31 706.99L227.27 706.47L224.24 705.96L222.4 706.18Z" clip-path="url(#p7e990c3744)" style="fill:#fb7353;fill-opacity:0.6" /><path d="M261.96 706.06L265.04 706.15L268.13 706.25L269.89 704.78L271.64 703.32L268.55 703.43L265.47 703.55L263.72 704.8Z" clip-path="url(#p7e990c3744)" style="fill:#fb7050;fill-opacity:0.6" /><path d="M204.68 703.12L207.72 704.05L210.76 704.98L212.63 704.97L214.49 704.96L211.46 704.24L208.44 703.53L206.57 703.32Z" clip-path="url(#p7e990c3744)" style="fill:#fb6e4e;fill-opacity:0.6" /><path d="M320.09 677.18L323.26 675.98L326.45 674.78L328.15 672.1L329.84 669.43L326.65 670.84L323.47 672.25L321.78 674.71Z" clip-path="url(#p7e990c3744)" style="fill:#de2b25;fill-opacity:0.6" /><path d="M236.41 708.01L239.46 708.53L242.53 709.05L244.33 708.2L246.12 707.35L243.07 707.05L240.02 706.74L238.21 707.38Z" clip-path="url(#p7e990c3744)" style="fill:#fb7555;fill-opacity:0.6" /><path d="M188.76 698.17L191.78 699.3L194.82 700.44L196.73 700.86L198.63 701.27L195.62 700.35L192.6 699.43L190.69 698.8Z" clip-path="url(#p7e990c3744)" style="fill:#f96245;fill-opacity:0.6" /><path d="M252.25 707.97L255.33 708.27L258.41 708.58L260.19 707.32L261.96 706.06L258.88 705.96L255.81 705.86L254.03 706.91Z" clip-path="url(#p7e990c3744)" style="fill:#fb7252;fill-opacity:0.6" /><path d="M329.84 669.43L333.04 668.01L336.25 666.58L337.94 663.69L339.63 660.82L336.41 662.46L333.21 664.1L331.53 666.76Z" clip-path="url(#p7e990c3744)" style="fill:#ce1a1e;fill-opacity:0.6" /><path d="M287.53 699.1L290.66 698.77L293.79 698.44L295.52 696.36L297.24 694.28L294.11 694.82L290.99 695.36L289.26 697.23Z" clip-path="url(#p7e990c3744)" style="fill:#f7593f;fill-opacity:0.6" /><path d="M297.24 694.28L300.38 693.74L303.52 693.19L305.24 690.91L306.95 688.62L303.81 689.38L300.67 690.14L298.96 692.21Z" clip-path="url(#p7e990c3744)" style="fill:#f44d38;fill-opacity:0.6" /><path d="M226.65 707.85L229.71 708.57L232.77 709.3L234.59 708.65L236.41 708.01L233.35 707.5L230.31 706.99L228.48 707.41Z" clip-path="url(#p7e990c3744)" style="fill:#fb7252;fill-opacity:0.6" /><path d="M277.83 703.09L280.94 702.98L284.06 702.86L285.8 700.98L287.53 699.1L284.42 699.43L281.31 699.76L279.58 701.42Z" clip-path="url(#p7e990c3744)" style="fill:#f96346;fill-opacity:0.6" /><path d="M210.76 704.98L213.8 705.91L216.85 706.84L218.71 706.62L220.56 706.4L217.52 705.68L214.49 704.96L212.63 704.97Z" clip-path="url(#p7e990c3744)" style="fill:#fb6d4d;fill-opacity:0.6" /><path d="M306.95 688.62L310.11 687.86L313.27 687.1L314.98 684.61L316.69 682.13L313.52 683.1L310.37 684.08L308.66 686.35Z" clip-path="url(#p7e990c3744)" style="fill:#f03d2d;fill-opacity:0.6" /><path d="M242.53 709.05L245.6 709.56L248.67 710.08L250.47 709.02L252.25 707.97L249.18 707.66L246.12 707.35L244.33 708.2Z" clip-path="url(#p7e990c3744)" style="fill:#fb7252;fill-opacity:0.6" /><path d="M172.75 691.54L175.77 692.87L178.8 694.22L180.77 695.07L182.72 695.91L179.71 694.78L176.7 693.66L174.73 692.6Z" clip-path="url(#p7e990c3744)" style="fill:#f4503a;fill-opacity:0.6" /><path d="M268.13 706.25L271.23 706.35L274.33 706.45L276.09 704.77L277.83 703.09L274.73 703.21L271.64 703.32L269.89 704.78Z" clip-path="url(#p7e990c3744)" style="fill:#fb6b4b;fill-opacity:0.6" /><path d="M316.69 682.13L319.86 681.14L323.05 680.16L324.75 677.47L326.45 674.78L323.26 675.98L320.09 677.18L318.39 679.65Z" clip-path="url(#p7e990c3744)" style="fill:#e32f27;fill-opacity:0.6" /><path d="M194.82 700.44L197.85 701.58L200.89 702.71L202.79 702.92L204.68 703.12L201.66 702.2L198.63 701.27L196.73 700.86Z" clip-path="url(#p7e990c3744)" style="fill:#f96346;fill-opacity:0.6" /><path d="M339.63 660.82L342.86 659.17L346.1 657.51L347.79 654.42L344.54 656.19L341.31 657.94Z" clip-path="url(#p7e990c3744)" style="fill:#bc141a;fill-opacity:0.6" /><path d="M258.41 708.58L261.5 708.89L264.6 709.2L266.37 707.72L268.13 706.25L265.04 706.15L261.96 706.06L260.19 707.32Z" clip-path="url(#p7e990c3744)" style="fill:#fb6e4e;fill-opacity:0.6" /><path d="M326.45 674.78L329.65 673.58L332.86 672.37L334.56 669.47L336.25 666.58L333.04 668.01L329.84 669.43L328.15 672.1Z" clip-path="url(#p7e990c3744)" style="fill:#d32020;fill-opacity:0.6" /><path d="M216.85 706.84L219.9 707.78L222.96 708.71L224.81 708.28L226.65 707.85L223.6 707.12L220.56 706.4L218.71 706.62Z" clip-path="url(#p7e990c3744)" style="fill:#fb6d4d;fill-opacity:0.6" /><path d="M232.77 709.3L235.83 710.02L238.91 710.75L240.72 709.9L242.53 709.05L239.46 708.53L236.41 708.01L234.59 708.65Z" clip-path="url(#p7e990c3744)" style="fill:#fb7151;fill-opacity:0.6" /><path d="M178.8 694.22L181.84 695.56L184.87 696.9L186.82 697.54L188.76 698.17L185.74 697.04L182.72 695.91L180.77 695.07Z" clip-path="url(#p7e990c3744)" style="fill:#f5533b;fill-opacity:0.6" /><path d="M200.89 702.71L203.94 703.86L206.99 705L208.88 704.99L210.76 704.98L207.72 704.05L204.68 703.12L202.79 702.92Z" clip-path="url(#p7e990c3744)" style="fill:#fa6547;fill-opacity:0.6" /><path d="M293.79 698.44L296.93 698.11L300.07 697.78L301.8 695.48L303.52 693.19L300.38 693.74L297.24 694.28L295.52 696.36Z" clip-path="url(#p7e990c3744)" style="fill:#f5523a;fill-opacity:0.6" /><path d="M248.67 710.08L251.76 710.6L254.85 711.12L256.63 709.85L258.41 708.58L255.33 708.27L252.25 707.97L250.47 709.02Z" clip-path="url(#p7e990c3744)" style="fill:#fb7050;fill-opacity:0.6" /><path d="M284.06 702.86L287.19 702.75L290.32 702.63L292.06 700.54L293.79 698.44L290.66 698.77L287.53 699.1L285.8 700.98Z" clip-path="url(#p7e990c3744)" style="fill:#f75c41;fill-opacity:0.6" /><path d="M303.52 693.19L306.68 692.65L309.84 692.1L311.56 689.59L313.27 687.1L310.11 687.86L306.95 688.62L305.24 690.91Z" clip-path="url(#p7e990c3744)" style="fill:#f14331;fill-opacity:0.6" /><path d="M336.25 666.58L339.48 665.15L342.71 663.71L344.4 660.61L346.1 657.51L342.86 659.17L339.63 660.82L337.94 663.69Z" clip-path="url(#p7e990c3744)" style="fill:#c2161b;fill-opacity:0.6" /><path d="M274.33 706.45L277.45 706.54L280.57 706.64L282.32 704.75L284.06 702.86L280.94 702.98L277.83 703.09L276.09 704.77Z" clip-path="url(#p7e990c3744)" style="fill:#fa6547;fill-opacity:0.6" /><path d="M313.27 687.1L316.45 686.33L319.63 685.57L321.34 682.86L323.05 680.16L319.86 681.14L316.69 682.13L314.98 684.61Z" clip-path="url(#p7e990c3744)" style="fill:#e93529;fill-opacity:0.6" /><path d="M184.87 696.9L187.92 698.25L190.96 699.6L192.89 700.02L194.82 700.44L191.78 699.3L188.76 698.17L186.82 697.54Z" clip-path="url(#p7e990c3744)" style="fill:#f6563d;fill-opacity:0.6" /><path d="M264.6 709.2L267.7 709.51L270.81 709.82L272.58 708.13L274.33 706.45L271.23 706.35L268.13 706.25L266.37 707.72Z" clip-path="url(#p7e990c3744)" style="fill:#fb6b4b;fill-opacity:0.6" /><path d="M323.05 680.16L326.25 679.17L329.45 678.18L331.16 675.27L332.86 672.37L329.65 673.58L326.45 674.78L324.75 677.47Z" clip-path="url(#p7e990c3744)" style="fill:#da2723;fill-opacity:0.6" /><path d="M222.96 708.71L226.03 709.65L229.1 710.59L230.94 709.94L232.77 709.3L229.71 708.57L226.65 707.85L224.81 708.28Z" clip-path="url(#p7e990c3744)" style="fill:#fb6d4d;fill-opacity:0.6" /><path d="M238.91 710.75L241.99 711.48L245.07 712.22L246.88 711.15L248.67 710.08L245.6 709.56L242.53 709.05L240.72 709.9Z" clip-path="url(#p7e990c3744)" style="fill:#fb7050;fill-opacity:0.6" /><path d="M206.99 705L210.05 706.14L213.11 707.29L214.98 707.06L216.85 706.84L213.8 705.91L210.76 704.98L208.88 704.99Z" clip-path="url(#p7e990c3744)" style="fill:#fa6547;fill-opacity:0.6" /><path d="M346.1 657.51L349.35 655.85L352.61 654.19L354.3 650.88L351.04 652.65L347.79 654.42Z" clip-path="url(#p7e990c3744)" style="fill:#af1117;fill-opacity:0.6" /><path d="M254.85 711.12L257.94 711.65L261.05 712.17L262.83 710.68L264.6 709.2L261.5 708.89L258.41 708.58L256.63 709.85Z" clip-path="url(#p7e990c3744)" style="fill:#fb6d4d;fill-opacity:0.6" /><path d="M332.86 672.37L336.08 671.16L339.31 669.94L341.01 666.82L342.71 663.71L339.48 665.15L336.25 666.58L334.56 669.47Z" clip-path="url(#p7e990c3744)" style="fill:#c9181d;fill-opacity:0.6" /><path d="M190.96 699.6L194.01 700.95L197.07 702.3L198.99 702.51L200.89 702.71L197.85 701.58L194.82 700.44L192.89 700.02Z" clip-path="url(#p7e990c3744)" style="fill:#f6583e;fill-opacity:0.6" /><path d="M290.32 702.63L293.46 702.52L296.61 702.4L298.34 700.09L300.07 697.78L296.93 698.11L293.79 698.44L292.06 700.54Z" clip-path="url(#p7e990c3744)" style="fill:#f6563d;fill-opacity:0.6" /><path d="M300.07 697.78L303.23 697.45L306.39 697.12L308.12 694.6L309.84 692.1L306.68 692.65L303.52 693.19L301.8 695.48Z" clip-path="url(#p7e990c3744)" style="fill:#f34935;fill-opacity:0.6" /><path d="M168.76 689.39L171.8 690.95L174.85 692.5L176.83 693.36L178.8 694.22L175.77 692.87L172.75 691.54L170.76 690.47Z" clip-path="url(#p7e990c3744)" style="fill:#f14130;fill-opacity:0.6" /><path d="M280.57 706.64L283.7 706.74L286.83 706.84L288.58 704.73L290.32 702.63L287.19 702.75L284.06 702.86L282.32 704.75Z" clip-path="url(#p7e990c3744)" style="fill:#f85f43;fill-opacity:0.6" /><path d="M309.84 692.1L313.02 691.55L316.2 691L317.92 688.28L319.63 685.57L316.45 686.33L313.27 687.1L311.56 689.59Z" clip-path="url(#p7e990c3744)" style="fill:#ee3a2c;fill-opacity:0.6" /><path d="M229.1 710.59L232.18 711.53L235.26 712.47L237.09 711.61L238.91 710.75L235.83 710.02L232.77 709.3L230.94 709.94Z" clip-path="url(#p7e990c3744)" style="fill:#fb6d4d;fill-opacity:0.6" /><path d="M213.11 707.29L216.18 708.44L219.25 709.59L221.11 709.15L222.96 708.71L219.9 707.78L216.85 706.84L214.98 707.06Z" clip-path="url(#p7e990c3744)" style="fill:#fa6648;fill-opacity:0.6" /><path d="M245.07 712.22L248.16 712.95L251.26 713.68L253.06 712.4L254.85 711.12L251.76 710.6L248.67 710.08L246.88 711.15Z" clip-path="url(#p7e990c3744)" style="fill:#fb6e4e;fill-opacity:0.6" /><path d="M270.81 709.82L273.93 710.13L277.05 710.45L278.81 708.54L280.57 706.64L277.45 706.54L274.33 706.45L272.58 708.13Z" clip-path="url(#p7e990c3744)" style="fill:#fa6648;fill-opacity:0.6" /><path d="M319.63 685.57L322.82 684.79L326.03 684.02L327.74 681.1L329.45 678.18L326.25 679.17L323.05 680.16L321.34 682.86Z" clip-path="url(#p7e990c3744)" style="fill:#e12d26;fill-opacity:0.6" /><path d="M342.71 663.71L345.95 662.27L349.21 660.83L350.91 657.5L352.61 654.19L349.35 655.85L346.1 657.51L344.4 660.61Z" clip-path="url(#p7e990c3744)" style="fill:#b51318;fill-opacity:0.6" /><path d="M174.85 692.5L177.9 694.06L180.95 695.62L182.92 696.26L184.87 696.9L181.84 695.56L178.8 694.22L176.83 693.36Z" clip-path="url(#p7e990c3744)" style="fill:#f14432;fill-opacity:0.6" /><path d="M197.07 702.3L200.13 703.66L203.2 705.02L205.1 705.01L206.99 705L203.94 703.86L200.89 702.71L198.99 702.51Z" clip-path="url(#p7e990c3744)" style="fill:#f75b40;fill-opacity:0.6" /><path d="M261.05 712.17L264.15 712.69L267.27 713.22L269.04 711.52L270.81 709.82L267.7 709.51L264.6 709.2L262.83 710.68Z" clip-path="url(#p7e990c3744)" style="fill:#fb6b4b;fill-opacity:0.6" /><path d="M329.45 678.18L332.66 677.19L335.89 676.19L337.6 673.06L339.31 669.94L336.08 671.16L332.86 672.37L331.16 675.27Z" clip-path="url(#p7e990c3744)" style="fill:#d11e1f;fill-opacity:0.6" /><path d="M235.26 712.47L238.35 713.42L241.44 714.36L243.26 713.29L245.07 712.22L241.99 711.48L238.91 710.75L237.09 711.61Z" clip-path="url(#p7e990c3744)" style="fill:#fb6c4c;fill-opacity:0.6" /><path d="M219.25 709.59L222.32 710.74L225.41 711.89L227.26 711.24L229.1 710.59L226.03 709.65L222.96 708.71L221.11 709.15Z" clip-path="url(#p7e990c3744)" style="fill:#fa6849;fill-opacity:0.6" /><path d="M296.61 702.4L299.76 702.28L302.93 702.17L304.66 699.64L306.39 697.12L303.23 697.45L300.07 697.78L298.34 700.09Z" clip-path="url(#p7e990c3744)" style="fill:#f44f39;fill-opacity:0.6" /><path d="M286.83 706.84L289.97 706.94L293.12 707.04L294.87 704.72L296.61 702.4L293.46 702.52L290.32 702.63L288.58 704.73Z" clip-path="url(#p7e990c3744)" style="fill:#f7593f;fill-opacity:0.6" /><path d="M306.39 697.12L309.57 696.79L312.75 696.45L314.47 693.72L316.2 691L313.02 691.55L309.84 692.1L308.12 694.6Z" clip-path="url(#p7e990c3744)" style="fill:#f0402f;fill-opacity:0.6" /><path d="M251.26 713.68L254.36 714.42L257.47 715.16L259.26 713.66L261.05 712.17L257.94 711.65L254.85 711.12L253.06 712.4Z" clip-path="url(#p7e990c3744)" style="fill:#fb6d4d;fill-opacity:0.6" /><path d="M339.31 669.94L342.55 668.72L345.8 667.5L347.5 664.16L349.21 660.83L345.95 662.27L342.71 663.71L341.01 666.82Z" clip-path="url(#p7e990c3744)" style="fill:#be151a;fill-opacity:0.6" /><path d="M352.61 654.19L355.88 652.52L359.17 650.84L360.87 647.3L357.58 649.09L354.3 650.88Z" clip-path="url(#p7e990c3744)" style="fill:#9f0e14;fill-opacity:0.6" /><path d="M180.95 695.62L184.01 697.19L187.08 698.75L189.02 699.18L190.96 699.6L187.92 698.25L184.87 696.9L182.92 696.26Z" clip-path="url(#p7e990c3744)" style="fill:#f34935;fill-opacity:0.6" /><path d="M277.05 710.45L280.18 710.76L283.32 711.07L285.08 708.95L286.83 706.84L283.7 706.74L280.57 706.64L278.81 708.54Z" clip-path="url(#p7e990c3744)" style="fill:#f96245;fill-opacity:0.6" /><path d="M203.2 705.02L206.27 706.38L209.34 707.74L211.23 707.51L213.11 707.29L210.05 706.14L206.99 705L205.1 705.01Z" clip-path="url(#p7e990c3744)" style="fill:#f75c41;fill-opacity:0.6" /><path d="M316.2 691L319.39 690.44L322.59 689.89L324.31 686.95L326.03 684.02L322.82 684.79L319.63 685.57L317.92 688.28Z" clip-path="url(#p7e990c3744)" style="fill:#e63328;fill-opacity:0.6" /><path d="M267.27 713.22L270.39 713.75L273.52 714.27L275.29 712.36L277.05 710.45L273.93 710.13L270.81 709.82L269.04 711.52Z" clip-path="url(#p7e990c3744)" style="fill:#fa6849;fill-opacity:0.6" /><path d="M326.03 684.02L329.24 683.25L332.46 682.47L334.18 679.33L335.89 676.19L332.66 677.19L329.45 678.18L327.74 681.1Z" clip-path="url(#p7e990c3744)" style="fill:#d82422;fill-opacity:0.6" /><path d="M225.41 711.89L228.49 713.05L231.59 714.2L233.43 713.34L235.26 712.47L232.18 711.53L229.1 710.59L227.26 711.24Z" clip-path="url(#p7e990c3744)" style="fill:#fa6849;fill-opacity:0.6" /><path d="M241.44 714.36L244.54 715.31L247.64 716.26L249.45 714.97L251.26 713.68L248.16 712.95L245.07 712.22L243.26 713.29Z" clip-path="url(#p7e990c3744)" style="fill:#fb6c4c;fill-opacity:0.6" /><path d="M349.21 660.83L352.47 659.38L355.75 657.92L357.46 654.38L359.17 650.84L355.88 652.52L352.61 654.19L350.91 657.5Z" clip-path="url(#p7e990c3744)" style="fill:#a91016;fill-opacity:0.6" /><path d="M187.08 698.75L190.14 700.32L193.21 701.89L195.15 702.1L197.07 702.3L194.01 700.95L190.96 699.6L189.02 699.18Z" clip-path="url(#p7e990c3744)" style="fill:#f34c37;fill-opacity:0.6" /><path d="M209.34 707.74L212.42 709.1L215.5 710.47L217.38 710.02L219.25 709.59L216.18 708.44L213.11 707.29L211.23 707.51Z" clip-path="url(#p7e990c3744)" style="fill:#f85f43;fill-opacity:0.6" /><path d="M257.47 715.16L260.58 715.9L263.7 716.64L265.49 714.92L267.27 713.22L264.15 712.69L261.05 712.17L259.26 713.66Z" clip-path="url(#p7e990c3744)" style="fill:#fb6c4c;fill-opacity:0.6" /><path d="M335.89 676.19L339.12 675.19L342.37 674.19L344.08 670.84L345.8 667.5L342.55 668.72L339.31 669.94L337.6 673.06Z" clip-path="url(#p7e990c3744)" style="fill:#c7171c;fill-opacity:0.6" /><path d="M164.73 687.23L167.79 689L170.86 690.77L172.86 691.64L174.85 692.5L171.8 690.95L168.76 689.39L166.75 688.31Z" clip-path="url(#p7e990c3744)" style="fill:#e83429;fill-opacity:0.6" /><path d="M293.12 707.04L296.28 707.14L299.44 707.24L301.19 704.7L302.93 702.17L299.76 702.28L296.61 702.4L294.87 704.72Z" clip-path="url(#p7e990c3744)" style="fill:#f6553c;fill-opacity:0.6" /><path d="M302.93 702.17L306.1 702.05L309.28 701.93L311.02 699.19L312.75 696.45L309.57 696.79L306.39 697.12L304.66 699.64Z" clip-path="url(#p7e990c3744)" style="fill:#f24734;fill-opacity:0.6" /><path d="M283.32 711.07L286.47 711.39L289.62 711.7L291.37 709.37L293.12 707.04L289.97 706.94L286.83 706.84L285.08 708.95Z" clip-path="url(#p7e990c3744)" style="fill:#f85d42;fill-opacity:0.6" /><path d="M312.75 696.45L315.94 696.12L319.13 695.78L320.86 692.83L322.59 689.89L319.39 690.44L316.2 691L314.47 693.72Z" clip-path="url(#p7e990c3744)" style="fill:#ed392b;fill-opacity:0.6" /><path d="M193.21 701.89L196.29 703.46L199.37 705.04L201.29 705.03L203.2 705.02L200.13 703.66L197.07 702.3L195.15 702.1Z" clip-path="url(#p7e990c3744)" style="fill:#f4503a;fill-opacity:0.6" /><path d="M231.59 714.2L234.68 715.36L237.79 716.52L239.62 715.44L241.44 714.36L238.35 713.42L235.26 712.47L233.43 713.34Z" clip-path="url(#p7e990c3744)" style="fill:#fb694a;fill-opacity:0.6" /><path d="M273.52 714.27L276.65 714.8L279.8 715.33L281.56 713.2L283.32 711.07L280.18 710.76L277.05 710.45L275.29 712.36Z" clip-path="url(#p7e990c3744)" style="fill:#fa6547;fill-opacity:0.6" /><path d="M322.59 689.89L325.8 689.33L329.01 688.77L330.74 685.62L332.46 682.47L329.24 683.25L326.03 684.02L324.31 686.95Z" clip-path="url(#p7e990c3744)" style="fill:#e02c26;fill-opacity:0.6" /><path d="M247.64 716.26L250.75 717.21L253.87 718.16L255.67 716.66L257.47 715.16L254.36 714.42L251.26 713.68L249.45 714.97Z" clip-path="url(#p7e990c3744)" style="fill:#fb6c4c;fill-opacity:0.6" /><path d="M345.8 667.5L349.06 666.27L352.33 665.04L354.04 661.48L355.75 657.92L352.47 659.38L349.21 660.83L347.5 664.16Z" clip-path="url(#p7e990c3744)" style="fill:#b31218;fill-opacity:0.6" /><path d="M170.86 690.77L173.93 692.55L177 694.33L178.98 694.98L180.95 695.62L177.9 694.06L174.85 692.5L172.86 691.64Z" clip-path="url(#p7e990c3744)" style="fill:#ec382b;fill-opacity:0.6" /><path d="M215.5 710.47L218.59 711.83L221.68 713.2L223.55 712.55L225.41 711.89L222.32 710.74L219.25 709.59L217.38 710.02Z" clip-path="url(#p7e990c3744)" style="fill:#f96044;fill-opacity:0.6" /><path d="M359.17 650.84L362.46 649.15L365.77 647.46L367.48 643.71L364.17 645.51L360.87 647.3Z" clip-path="url(#p7e990c3744)" style="fill:#8a0812;fill-opacity:0.6" /><path d="M263.7 716.64L266.83 717.38L269.96 718.12L271.74 716.19L273.52 714.27L270.39 713.75L267.27 713.22L265.49 714.92Z" clip-path="url(#p7e990c3744)" style="fill:#fb694a;fill-opacity:0.6" /><path d="M332.46 682.47L335.69 681.69L338.93 680.91L340.65 677.55L342.37 674.19L339.12 675.19L335.89 676.19L334.18 679.33Z" clip-path="url(#p7e990c3744)" style="fill:#d01d1f;fill-opacity:0.6" /><path d="M199.37 705.04L202.45 706.61L205.54 708.19L207.44 707.96L209.34 707.74L206.27 706.38L203.2 705.02L201.29 705.03Z" clip-path="url(#p7e990c3744)" style="fill:#f5533b;fill-opacity:0.6" /><path d="M177 694.33L180.07 696.11L183.15 697.9L185.12 698.33L187.08 698.75L184.01 697.19L180.95 695.62L178.98 694.98Z" clip-path="url(#p7e990c3744)" style="fill:#ef3c2c;fill-opacity:0.6" /><path d="M299.44 707.24L302.62 707.34L305.8 707.44L307.54 704.68L309.28 701.93L306.1 702.05L302.93 702.17L301.19 704.7Z" clip-path="url(#p7e990c3744)" style="fill:#f44f39;fill-opacity:0.6" /><path d="M237.79 716.52L240.89 717.69L244.01 718.85L245.83 717.55L247.64 716.26L244.54 715.31L241.44 714.36L239.62 715.44Z" clip-path="url(#p7e990c3744)" style="fill:#fb6b4b;fill-opacity:0.6" /><path d="M289.62 711.7L292.78 712.02L295.94 712.34L297.7 709.79L299.44 707.24L296.28 707.14L293.12 707.04L291.37 709.37Z" clip-path="url(#p7e990c3744)" style="fill:#f7593f;fill-opacity:0.6" /><path d="M309.28 701.93L312.47 701.82L315.66 701.7L317.4 698.74L319.13 695.78L315.94 696.12L312.75 696.45L311.02 699.19Z" clip-path="url(#p7e990c3744)" style="fill:#f0402f;fill-opacity:0.6" /><path d="M355.75 657.92L359.04 656.47L362.34 655L364.06 651.23L365.77 647.46L362.46 649.15L359.17 650.84L357.46 654.38Z" clip-path="url(#p7e990c3744)" style="fill:#980c13;fill-opacity:0.6" /><path d="M221.68 713.2L224.78 714.57L227.88 715.95L229.74 715.07L231.59 714.2L228.49 713.05L225.41 711.89L223.55 712.55Z" clip-path="url(#p7e990c3744)" style="fill:#f96346;fill-opacity:0.6" /><path d="M253.87 718.16L256.99 719.12L260.12 720.07L261.91 718.35L263.7 716.64L260.58 715.9L257.47 715.16L255.67 716.66Z" clip-path="url(#p7e990c3744)" style="fill:#fb6c4c;fill-opacity:0.6" /><path d="M342.37 674.19L345.62 673.18L348.89 672.17L350.61 668.6L352.33 665.04L349.06 666.27L345.8 667.5L344.08 670.84Z" clip-path="url(#p7e990c3744)" style="fill:#bd151a;fill-opacity:0.6" /><path d="M279.8 715.33L282.94 715.86L286.1 716.39L287.86 714.05L289.62 711.7L286.47 711.39L283.32 711.07L281.56 713.2Z" clip-path="url(#p7e990c3744)" style="fill:#f96245;fill-opacity:0.6" /><path d="M319.13 695.78L322.34 695.44L325.55 695.1L327.29 691.94L329.01 688.77L325.8 689.33L322.59 689.89L320.86 692.83Z" clip-path="url(#p7e990c3744)" style="fill:#e63328;fill-opacity:0.6" /><path d="M205.54 708.19L208.63 709.77L211.73 711.35L213.62 710.91L215.5 710.47L212.42 709.1L209.34 707.74L207.44 707.96Z" clip-path="url(#p7e990c3744)" style="fill:#f6583e;fill-opacity:0.6" /><path d="M183.15 697.9L186.24 699.68L189.32 701.47L191.27 701.68L193.21 701.89L190.14 700.32L187.08 698.75L185.12 698.33Z" clip-path="url(#p7e990c3744)" style="fill:#f0402f;fill-opacity:0.6" /><path d="M269.96 718.12L273.1 718.87L276.25 719.61L278.02 717.47L279.8 715.33L276.65 714.8L273.52 714.27L271.74 716.19Z" clip-path="url(#p7e990c3744)" style="fill:#fa6849;fill-opacity:0.6" /><path d="M329.01 688.77L332.24 688.21L335.48 687.65L337.2 684.28L338.93 680.91L335.69 681.69L332.46 682.47L330.74 685.62Z" clip-path="url(#p7e990c3744)" style="fill:#d82422;fill-opacity:0.6" /><path d="M244.01 718.85L247.12 720.02L250.25 721.19L252.06 719.67L253.87 718.16L250.75 717.21L247.64 716.26L245.83 717.55Z" clip-path="url(#p7e990c3744)" style="fill:#fb6b4b;fill-opacity:0.6" /><path d="M227.88 715.95L230.99 717.32L234.1 718.7L235.95 717.61L237.79 716.52L234.68 715.36L231.59 714.2L229.74 715.07Z" clip-path="url(#p7e990c3744)" style="fill:#fa6648;fill-opacity:0.6" /><path d="M352.33 665.04L355.61 663.8L358.9 662.56L360.62 658.78L362.34 655L359.04 656.47L355.75 657.92L354.04 661.48Z" clip-path="url(#p7e990c3744)" style="fill:#a81016;fill-opacity:0.6" /><path d="M160.67 685.04L163.75 687.03L166.83 689.03L168.85 689.9L170.86 690.77L167.79 689L164.73 687.23L162.71 686.14Z" clip-path="url(#p7e990c3744)" style="fill:#dc2924;fill-opacity:0.6" /><path d="M260.12 720.07L263.25 721.03L266.39 721.99L268.18 720.05L269.96 718.12L266.83 717.38L263.7 716.64L261.91 718.35Z" clip-path="url(#p7e990c3744)" style="fill:#fb6c4c;fill-opacity:0.6" /><path d="M338.93 680.91L342.18 680.12L345.44 679.34L347.16 675.75L348.89 672.17L345.62 673.18L342.37 674.19L340.65 677.55Z" clip-path="url(#p7e990c3744)" style="fill:#c7171c;fill-opacity:0.6" /><path d="M295.94 712.34L299.12 712.66L302.3 712.97L304.05 710.2L305.8 707.44L302.62 707.34L299.44 707.24L297.7 709.79Z" clip-path="url(#p7e990c3744)" style="fill:#f6563d;fill-opacity:0.6" /><path d="M305.8 707.44L308.98 707.54L312.18 707.64L313.92 704.67L315.66 701.7L312.47 701.82L309.28 701.93L307.54 704.68Z" clip-path="url(#p7e990c3744)" style="fill:#f34935;fill-opacity:0.6" /><path d="M365.77 647.46L369.09 645.77L372.42 644.07L374.14 640.08L370.8 641.9L367.48 643.71Z" clip-path="url(#p7e990c3744)" style="fill:#77040f;fill-opacity:0.6" /><path d="M189.32 701.47L192.41 703.26L195.51 705.05L197.44 705.04L199.37 705.04L196.29 703.46L193.21 701.89L191.27 701.68Z" clip-path="url(#p7e990c3744)" style="fill:#f24633;fill-opacity:0.6" /><path d="M211.73 711.35L214.83 712.94L217.93 714.53L219.81 713.86L221.68 713.2L218.59 711.83L215.5 710.47L213.62 710.91Z" clip-path="url(#p7e990c3744)" style="fill:#f75b40;fill-opacity:0.6" /><path d="M286.1 716.39L289.26 716.93L292.43 717.46L294.19 714.9L295.94 712.34L292.78 712.02L289.62 711.7L287.86 714.05Z" clip-path="url(#p7e990c3744)" style="fill:#f85f43;fill-opacity:0.6" /><path d="M315.66 701.7L318.87 701.58L322.08 701.46L323.82 698.28L325.55 695.1L322.34 695.44L319.13 695.78L317.4 698.74Z" clip-path="url(#p7e990c3744)" style="fill:#ee3a2c;fill-opacity:0.6" /><path d="M276.25 719.61L279.4 720.36L282.56 721.11L284.33 718.75L286.1 716.39L282.94 715.86L279.8 715.33L278.02 717.47Z" clip-path="url(#p7e990c3744)" style="fill:#fa6648;fill-opacity:0.6" /><path d="M325.55 695.1L328.78 694.77L332.01 694.43L333.74 691.04L335.48 687.65L332.24 688.21L329.01 688.77L327.29 691.94Z" clip-path="url(#p7e990c3744)" style="fill:#e12d26;fill-opacity:0.6" /><path d="M166.83 689.03L169.92 691.03L173.01 693.03L175.01 693.68L177 694.33L173.93 692.55L170.86 690.77L168.85 689.9Z" clip-path="url(#p7e990c3744)" style="fill:#e12d26;fill-opacity:0.6" /><path d="M234.1 718.7L237.22 720.08L240.34 721.46L242.18 720.16L244.01 718.85L240.89 717.69L237.79 716.52L235.95 717.61Z" clip-path="url(#p7e990c3744)" style="fill:#fa6849;fill-opacity:0.6" /><path d="M250.25 721.19L253.37 722.36L256.51 723.53L258.32 721.8L260.12 720.07L256.99 719.12L253.87 718.16L252.06 719.67Z" clip-path="url(#p7e990c3744)" style="fill:#fb6c4c;fill-opacity:0.6" /><path d="M348.89 672.17L352.16 671.16L355.45 670.15L357.17 666.35L358.9 662.56L355.61 663.8L352.33 665.04L350.61 668.6Z" clip-path="url(#p7e990c3744)" style="fill:#b31218;fill-opacity:0.6" /><path d="M362.34 655L365.65 653.53L368.97 652.06L370.7 648.06L372.42 644.07L369.09 645.77L365.77 647.46L364.06 651.23Z" clip-path="url(#p7e990c3744)" style="fill:#840711;fill-opacity:0.6" /><path d="M195.51 705.05L198.61 706.85L201.71 708.65L203.63 708.42L205.54 708.19L202.45 706.61L199.37 705.04L197.44 705.04Z" clip-path="url(#p7e990c3744)" style="fill:#f34a36;fill-opacity:0.6" /><path d="M217.93 714.53L221.04 716.11L224.16 717.71L226.02 716.83L227.88 715.95L224.78 714.57L221.68 713.2L219.81 713.86Z" clip-path="url(#p7e990c3744)" style="fill:#f85f43;fill-opacity:0.6" /><path d="M266.39 721.99L269.53 722.95L272.68 723.92L274.47 721.76L276.25 719.61L273.1 718.87L269.96 718.12L268.18 720.05Z" clip-path="url(#p7e990c3744)" style="fill:#fb6b4b;fill-opacity:0.6" /><path d="M335.48 687.65L338.72 687.09L341.97 686.53L343.71 682.93L345.44 679.34L342.18 680.12L338.93 680.91L337.2 684.28Z" clip-path="url(#p7e990c3744)" style="fill:#d11e1f;fill-opacity:0.6" /><path d="M173.01 693.03L176.1 695.03L179.2 697.03L181.18 697.47L183.15 697.9L180.07 696.11L177 694.33L175.01 693.68Z" clip-path="url(#p7e990c3744)" style="fill:#e53228;fill-opacity:0.6" /><path d="M302.3 712.97L305.48 713.29L308.68 713.61L310.43 710.62L312.18 707.64L308.98 707.54L305.8 707.44L304.05 710.2Z" clip-path="url(#p7e990c3744)" style="fill:#f5523a;fill-opacity:0.6" /><path d="M292.43 717.46L295.6 718L298.78 718.53L300.54 715.75L302.3 712.97L299.12 712.66L295.94 712.34L294.19 714.9Z" clip-path="url(#p7e990c3744)" style="fill:#f75c41;fill-opacity:0.6" /><path d="M312.18 707.64L315.38 707.74L318.59 707.84L320.34 704.65L322.08 701.46L318.87 701.58L315.66 701.7L313.92 704.67Z" clip-path="url(#p7e990c3744)" style="fill:#f14331;fill-opacity:0.6" /><path d="M240.34 721.46L243.47 722.85L246.6 724.24L248.43 722.71L250.25 721.19L247.12 720.02L244.01 718.85L242.18 720.16Z" clip-path="url(#p7e990c3744)" style="fill:#fb6b4b;fill-opacity:0.6" /><path d="M372.42 644.07L375.76 642.36L377.49 638.26L374.14 640.08Z" clip-path="url(#p7e990c3744)" style="fill:#67000d;fill-opacity:0.6" /><path d="M201.71 708.65L204.81 710.45L207.92 712.25L209.83 711.8L211.73 711.35L208.63 709.77L205.54 708.19L203.63 708.42Z" clip-path="url(#p7e990c3744)" style="fill:#f44f39;fill-opacity:0.6" /><path d="M358.9 662.56L362.2 661.32L365.52 660.07L367.24 656.06L368.97 652.06L365.65 653.53L362.34 655L360.62 658.78Z" clip-path="url(#p7e990c3744)" style="fill:#980c13;fill-opacity:0.6" /><path d="M256.51 723.53L259.65 724.71L262.79 725.89L264.59 723.94L266.39 721.99L263.25 721.03L260.12 720.07L258.32 721.8Z" clip-path="url(#p7e990c3744)" style="fill:#fb6d4d;fill-opacity:0.6" /><path d="M282.56 721.11L285.72 721.86L288.89 722.61L290.66 720.03L292.43 717.46L289.26 716.93L286.1 716.39L284.33 718.75Z" clip-path="url(#p7e990c3744)" style="fill:#fa6547;fill-opacity:0.6" /><path d="M322.08 701.46L325.3 701.34L328.53 701.22L330.27 697.82L332.01 694.43L328.78 694.77L325.55 695.1L323.82 698.28Z" clip-path="url(#p7e990c3744)" style="fill:#e93529;fill-opacity:0.6" /><path d="M345.44 679.34L348.71 678.55L351.98 677.76L353.72 673.95L355.45 670.15L352.16 671.16L348.89 672.17L347.16 675.75Z" clip-path="url(#p7e990c3744)" style="fill:#be151a;fill-opacity:0.6" /><path d="M224.16 717.71L227.28 719.3L230.4 720.9L232.25 719.8L234.1 718.7L230.99 717.32L227.88 715.95L226.02 716.83Z" clip-path="url(#p7e990c3744)" style="fill:#f96245;fill-opacity:0.6" /><path d="M179.2 697.03L182.3 699.04L185.4 701.05L187.37 701.26L189.32 701.47L186.24 699.68L183.15 697.9L181.18 697.47Z" clip-path="url(#p7e990c3744)" style="fill:#eb372a;fill-opacity:0.6" /><path d="M272.68 723.92L275.84 724.88L279 725.85L280.78 723.48L282.56 721.11L279.4 720.36L276.25 719.61L274.47 721.76Z" clip-path="url(#p7e990c3744)" style="fill:#fb6b4b;fill-opacity:0.6" /><path d="M332.01 694.43L335.25 694.08L338.5 693.74L340.24 690.13L341.97 686.53L338.72 687.09L335.48 687.65L333.74 691.04Z" clip-path="url(#p7e990c3744)" style="fill:#da2723;fill-opacity:0.6" /><path d="M368.97 652.06L372.31 650.58L374.03 646.47L375.76 642.36L372.42 644.07L370.7 648.06Z" clip-path="url(#p7e990c3744)" style="fill:#77040f;fill-opacity:0.6" /><path d="M207.92 712.25L211.04 714.05L214.16 715.86L216.05 715.19L217.93 714.53L214.83 712.94L211.73 711.35L209.83 711.8Z" clip-path="url(#p7e990c3744)" style="fill:#f6553c;fill-opacity:0.6" /><path d="M246.6 724.24L249.74 725.62L252.88 727.01L254.69 725.27L256.51 723.53L253.37 722.36L250.25 721.19L248.43 722.71Z" clip-path="url(#p7e990c3744)" style="fill:#fb6c4c;fill-opacity:0.6" /><path d="M355.45 670.15L358.74 669.13L362.05 668.11L363.78 664.09L365.52 660.07L362.2 661.32L358.9 662.56L357.17 666.35Z" clip-path="url(#p7e990c3744)" style="fill:#a91016;fill-opacity:0.6" /><path d="M185.4 701.05L188.51 703.06L191.62 705.07L193.57 705.06L195.51 705.05L192.41 703.26L189.32 701.47L187.37 701.26Z" clip-path="url(#p7e990c3744)" style="fill:#ef3c2c;fill-opacity:0.6" /><path d="M230.4 720.9L233.52 722.49L236.65 724.09L238.5 722.78L240.34 721.46L237.22 720.08L234.1 718.7L232.25 719.8Z" clip-path="url(#p7e990c3744)" style="fill:#fa6648;fill-opacity:0.6" /><path d="M262.79 725.89L265.94 727.06L269.09 728.25L270.89 726.08L272.68 723.92L269.53 722.95L266.39 721.99L264.59 723.94Z" clip-path="url(#p7e990c3744)" style="fill:#fb6d4d;fill-opacity:0.6" /><path d="M298.78 718.53L301.97 719.07L305.16 719.61L306.92 716.61L308.68 713.61L305.48 713.29L302.3 712.97L300.54 715.75Z" clip-path="url(#p7e990c3744)" style="fill:#f7593f;fill-opacity:0.6" /><path d="M308.68 713.61L311.88 713.93L315.09 714.25L316.84 711.05L318.59 707.84L315.38 707.74L312.18 707.64L310.43 710.62Z" clip-path="url(#p7e990c3744)" style="fill:#f44d38;fill-opacity:0.6" /><path d="M156.56 682.83L159.66 685.05L162.76 687.27L164.8 688.15L166.83 689.03L163.75 687.03L160.67 685.04L158.62 683.94Z" clip-path="url(#p7e990c3744)" style="fill:#d01d1f;fill-opacity:0.6" /><path d="M341.97 686.53L345.24 685.96L348.51 685.4L350.25 681.57L351.98 677.76L348.71 678.55L345.44 679.34L343.71 682.93Z" clip-path="url(#p7e990c3744)" style="fill:#c9181d;fill-opacity:0.6" /><path d="M288.89 722.61L292.07 723.36L295.25 724.12L297.02 721.32L298.78 718.53L295.6 718L292.43 717.46L290.66 720.03Z" clip-path="url(#p7e990c3744)" style="fill:#f96346;fill-opacity:0.6" /><path d="M318.59 707.84L321.81 707.95L325.04 708.05L326.78 704.63L328.53 701.22L325.3 701.34L322.08 701.46L320.34 704.65Z" clip-path="url(#p7e990c3744)" style="fill:#f03d2d;fill-opacity:0.6" /><path d="M365.52 660.07L368.84 658.82L370.57 654.69L372.31 650.58L368.97 652.06L367.24 656.06Z" clip-path="url(#p7e990c3744)" style="fill:#8a0812;fill-opacity:0.6" /><path d="M214.16 715.86L217.28 717.67L220.4 719.48L222.28 718.59L224.16 717.71L221.04 716.11L217.93 714.53L216.05 715.19Z" clip-path="url(#p7e990c3744)" style="fill:#f7593f;fill-opacity:0.6" /><path d="M279 725.85L282.16 726.82L285.34 727.79L287.12 725.2L288.89 722.61L285.72 721.86L282.56 721.11L280.78 723.48Z" clip-path="url(#p7e990c3744)" style="fill:#fb6b4b;fill-opacity:0.6" /><path d="M328.53 701.22L331.77 701.1L335.01 700.98L336.76 697.36L338.5 693.74L335.25 694.08L332.01 694.43L330.27 697.82Z" clip-path="url(#p7e990c3744)" style="fill:#e32f27;fill-opacity:0.6" /><path d="M191.62 705.07L194.73 707.09L197.85 709.11L199.78 708.88L201.71 708.65L198.61 706.85L195.51 705.05L193.57 705.06Z" clip-path="url(#p7e990c3744)" style="fill:#f14130;fill-opacity:0.6" /><path d="M162.76 687.27L165.87 689.49L168.98 691.71L171 692.37L173.01 693.03L169.92 691.03L166.83 689.03L164.8 688.15Z" clip-path="url(#p7e990c3744)" style="fill:#d52221;fill-opacity:0.6" /><path d="M252.88 727.01L256.02 728.41L259.17 729.8L260.98 727.84L262.79 725.89L259.65 724.71L256.51 723.53L254.69 725.27Z" clip-path="url(#p7e990c3744)" style="fill:#fb6e4e;fill-opacity:0.6" /><path d="M236.65 724.09L239.79 725.7L242.93 727.3L244.77 725.77L246.6 724.24L243.47 722.85L240.34 721.46L238.5 722.78Z" clip-path="url(#p7e990c3744)" style="fill:#fb694a;fill-opacity:0.6" /><path d="M351.98 677.76L355.27 676.97L358.57 676.17L360.31 672.14L362.05 668.11L358.74 669.13L355.45 670.15L353.72 673.95Z" clip-path="url(#p7e990c3744)" style="fill:#b51318;fill-opacity:0.6" /><path d="M269.09 728.25L272.25 729.43L275.42 730.61L277.21 728.23L279 725.85L275.84 724.88L272.68 723.92L270.89 726.08Z" clip-path="url(#p7e990c3744)" style="fill:#fb6e4e;fill-opacity:0.6" /><path d="M338.5 693.74L341.76 693.4L345.02 693.06L346.77 689.22L348.51 685.4L345.24 685.96L341.97 686.53L340.24 690.13Z" clip-path="url(#p7e990c3744)" style="fill:#d32020;fill-opacity:0.6" /><path d="M220.4 719.48L223.53 721.29L226.66 723.1L228.53 722L230.4 720.9L227.28 719.3L224.16 717.71L222.28 718.59Z" clip-path="url(#p7e990c3744)" style="fill:#f85f43;fill-opacity:0.6" /><path d="M168.98 691.71L172.09 693.94L175.2 696.16L177.2 696.6L179.2 697.03L176.1 695.03L173.01 693.03L171 692.37Z" clip-path="url(#p7e990c3744)" style="fill:#db2824;fill-opacity:0.6" /><path d="M197.85 709.11L200.97 711.13L204.09 713.15L206.01 712.7L207.92 712.25L204.81 710.45L201.71 708.65L199.78 708.88Z" clip-path="url(#p7e990c3744)" style="fill:#f24734;fill-opacity:0.6" /><path d="M362.05 668.11L365.36 667.08L367.1 662.95L368.84 658.82L365.52 660.07L363.78 664.09Z" clip-path="url(#p7e990c3744)" style="fill:#9f0e14;fill-opacity:0.6" /><path d="M305.16 719.61L308.36 720.15L311.57 720.69L313.33 717.47L315.09 714.25L311.88 713.93L308.68 713.61L306.92 716.61Z" clip-path="url(#p7e990c3744)" style="fill:#f6563d;fill-opacity:0.6" /><path d="M295.25 724.12L298.44 724.88L301.63 725.63L303.4 722.62L305.16 719.61L301.97 719.07L298.78 718.53L297.02 721.32Z" clip-path="url(#p7e990c3744)" style="fill:#f96245;fill-opacity:0.6" /><path d="M315.09 714.25L318.31 714.58L321.53 714.9L323.28 711.47L325.04 708.05L321.81 707.95L318.59 707.84L316.84 711.05Z" clip-path="url(#p7e990c3744)" style="fill:#f34935;fill-opacity:0.6" /><path d="M285.34 727.79L288.51 728.76L291.7 729.73L293.48 726.92L295.25 724.12L292.07 723.36L288.89 722.61L287.12 725.2Z" clip-path="url(#p7e990c3744)" style="fill:#fb6b4b;fill-opacity:0.6" /><path d="M325.04 708.05L328.27 708.15L331.51 708.25L333.26 704.61L335.01 700.98L331.77 701.1L328.53 701.22L326.78 704.63Z" clip-path="url(#p7e990c3744)" style="fill:#ed392b;fill-opacity:0.6" /><path d="M242.93 727.3L246.07 728.91L249.22 730.52L251.05 728.76L252.88 727.01L249.74 725.62L246.6 724.24L244.77 725.77Z" clip-path="url(#p7e990c3744)" style="fill:#fb6c4c;fill-opacity:0.6" /><path d="M259.17 729.8L262.33 731.2L265.49 732.6L267.29 730.42L269.09 728.25L265.94 727.06L262.79 725.89L260.98 727.84Z" clip-path="url(#p7e990c3744)" style="fill:#fb7050;fill-opacity:0.6" /><path d="M348.51 685.4L351.79 684.83L355.08 684.26L356.83 680.21L358.57 676.17L355.27 676.97L351.98 677.76L350.25 681.57Z" clip-path="url(#p7e990c3744)" style="fill:#c2161b;fill-opacity:0.6" /><path d="M175.2 696.16L178.32 698.39L181.44 700.62L183.42 700.84L185.4 701.05L182.3 699.04L179.2 697.03L177.2 696.6Z" clip-path="url(#p7e990c3744)" style="fill:#e22e27;fill-opacity:0.6" /><path d="M204.09 713.15L207.22 715.17L210.35 717.2L212.26 716.53L214.16 715.86L211.04 714.05L207.92 712.25L206.01 712.7Z" clip-path="url(#p7e990c3744)" style="fill:#f44f39;fill-opacity:0.6" /><path d="M226.66 723.1L229.8 724.92L232.94 726.74L234.8 725.42L236.65 724.09L233.52 722.49L230.4 720.9L228.53 722Z" clip-path="url(#p7e990c3744)" style="fill:#f96346;fill-opacity:0.6" /><path d="M275.42 730.61L278.59 731.8L281.76 732.99L283.55 730.38L285.34 727.79L282.16 726.82L279 725.85L277.21 728.23Z" clip-path="url(#p7e990c3744)" style="fill:#fb7050;fill-opacity:0.6" /><path d="M335.01 700.98L338.26 700.86L341.53 700.74L343.28 696.9L345.02 693.06L341.76 693.4L338.5 693.74L336.76 697.36Z" clip-path="url(#p7e990c3744)" style="fill:#de2b25;fill-opacity:0.6" /><path d="M358.57 676.17L361.88 675.37L363.62 671.22L365.36 667.08L362.05 668.11L360.31 672.14Z" clip-path="url(#p7e990c3744)" style="fill:#af1117;fill-opacity:0.6" /><path d="M181.44 700.62L184.56 702.86L187.69 705.09L189.66 705.08L191.62 705.07L188.51 703.06L185.4 701.05L183.42 700.84Z" clip-path="url(#p7e990c3744)" style="fill:#e83429;fill-opacity:0.6" /><path d="M249.22 730.52L252.37 732.13L255.53 733.74L257.35 731.77L259.17 729.8L256.02 728.41L252.88 727.01L251.05 728.76Z" clip-path="url(#p7e990c3744)" style="fill:#fb7050;fill-opacity:0.6" /><path d="M301.63 725.63L304.83 726.39L308.04 727.15L309.81 723.92L311.57 720.69L308.36 720.15L305.16 719.61L303.4 722.62Z" clip-path="url(#p7e990c3744)" style="fill:#f96044;fill-opacity:0.6" /><path d="M311.57 720.69L314.79 721.23L318.01 721.78L319.77 718.33L321.53 714.9L318.31 714.58L315.09 714.25L313.33 717.47Z" clip-path="url(#p7e990c3744)" style="fill:#f5533b;fill-opacity:0.6" /><path d="M265.49 732.6L268.65 734L271.82 735.4L273.62 733L275.42 730.61L272.25 729.43L269.09 728.25L267.29 730.42Z" clip-path="url(#p7e990c3744)" style="fill:#fb7252;fill-opacity:0.6" /><path d="M210.35 717.2L213.48 719.23L216.62 721.26L218.51 720.37L220.4 719.48L217.28 717.67L214.16 715.86L212.26 716.53Z" clip-path="url(#p7e990c3744)" style="fill:#f6553c;fill-opacity:0.6" /><path d="M345.02 693.06L348.3 692.71L351.58 692.37L353.33 688.31L355.08 684.26L351.79 684.83L348.51 685.4L346.77 689.22Z" clip-path="url(#p7e990c3744)" style="fill:#ce1a1e;fill-opacity:0.6" /><path d="M291.7 729.73L294.89 730.71L298.08 731.69L299.86 728.66L301.63 725.63L298.44 724.88L295.25 724.12L293.48 726.92Z" clip-path="url(#p7e990c3744)" style="fill:#fb694a;fill-opacity:0.6" /><path d="M321.53 714.9L324.76 715.22L328 715.55L329.76 711.9L331.51 708.25L328.27 708.15L325.04 708.05L323.28 711.47Z" clip-path="url(#p7e990c3744)" style="fill:#f14432;fill-opacity:0.6" /><path d="M232.94 726.74L236.09 728.56L239.24 730.39L241.09 728.84L242.93 727.3L239.79 725.7L236.65 724.09L234.8 725.42Z" clip-path="url(#p7e990c3744)" style="fill:#fa6849;fill-opacity:0.6" /><path d="M152.41 680.6L155.53 683.05L158.65 685.49L160.71 686.38L162.76 687.27L159.66 685.05L156.56 682.83L154.49 681.72Z" clip-path="url(#p7e990c3744)" style="fill:#c4161c;fill-opacity:0.6" /><path d="M355.08 684.26L358.38 683.68L360.13 679.52L361.88 675.37L358.57 676.17L356.83 680.21Z" clip-path="url(#p7e990c3744)" style="fill:#bc141a;fill-opacity:0.6" /><path d="M187.69 705.09L190.82 707.33L193.95 709.57L195.9 709.34L197.85 709.11L194.73 707.09L191.62 705.07L189.66 705.08Z" clip-path="url(#p7e990c3744)" style="fill:#ed392b;fill-opacity:0.6" /><path d="M281.76 732.99L284.95 734.18L288.13 735.37L289.92 732.55L291.7 729.73L288.51 728.76L285.34 727.79L283.55 730.38Z" clip-path="url(#p7e990c3744)" style="fill:#fb7050;fill-opacity:0.6" /><path d="M331.51 708.25L334.76 708.35L338.02 708.46L339.77 704.6L341.53 700.74L338.26 700.86L335.01 700.98L333.26 704.61Z" clip-path="url(#p7e990c3744)" style="fill:#e93529;fill-opacity:0.6" /><path d="M216.62 721.26L219.76 723.29L222.9 725.33L224.79 724.21L226.66 723.1L223.53 721.29L220.4 719.48L218.51 720.37Z" clip-path="url(#p7e990c3744)" style="fill:#f75b40;fill-opacity:0.6" /><path d="M255.53 733.74L258.69 735.36L261.86 736.98L263.67 734.78L265.49 732.6L262.33 731.2L259.17 729.8L257.35 731.77Z" clip-path="url(#p7e990c3744)" style="fill:#fb7252;fill-opacity:0.6" /><path d="M158.65 685.49L161.78 687.94L164.91 690.38L166.95 691.05L168.98 691.71L165.87 689.49L162.76 687.27L160.71 686.38Z" clip-path="url(#p7e990c3744)" style="fill:#cb181d;fill-opacity:0.6" /><path d="M239.24 730.39L242.39 732.21L245.54 734.04L247.39 732.28L249.22 730.52L246.07 728.91L242.93 727.3L241.09 728.84Z" clip-path="url(#p7e990c3744)" style="fill:#fb6d4d;fill-opacity:0.6" /><path d="M271.82 735.4L274.99 736.81L278.17 738.22L279.97 735.6L281.76 732.99L278.59 731.8L275.42 730.61L273.62 733Z" clip-path="url(#p7e990c3744)" style="fill:#fb7555;fill-opacity:0.6" /><path d="M341.53 700.74L344.8 700.62L348.07 700.5L349.83 696.43L351.58 692.37L348.3 692.71L345.02 693.06L343.28 696.9Z" clip-path="url(#p7e990c3744)" style="fill:#d92523;fill-opacity:0.6" /><path d="M193.95 709.57L197.09 711.81L200.22 714.06L202.16 713.6L204.09 713.15L200.97 711.13L197.85 709.11L195.9 709.34Z" clip-path="url(#p7e990c3744)" style="fill:#f0402f;fill-opacity:0.6" /><path d="M308.04 727.15L311.25 727.92L314.47 728.68L316.24 725.22L318.01 721.78L314.79 721.23L311.57 720.69L309.81 723.92Z" clip-path="url(#p7e990c3744)" style="fill:#f85f43;fill-opacity:0.6" /><path d="M298.08 731.69L301.29 732.66L304.49 733.64L306.27 730.4L308.04 727.15L304.83 726.39L301.63 725.63L299.86 728.66Z" clip-path="url(#p7e990c3744)" style="fill:#fb694a;fill-opacity:0.6" /><path d="M318.01 721.78L321.24 722.32L324.47 722.87L326.24 719.2L328 715.55L324.76 715.22L321.53 714.9L319.77 718.33Z" clip-path="url(#p7e990c3744)" style="fill:#f4503a;fill-opacity:0.6" /><path d="M351.58 692.37L354.88 692.02L356.63 687.85L358.38 683.68L355.08 684.26L353.33 688.31Z" clip-path="url(#p7e990c3744)" style="fill:#c8171c;fill-opacity:0.6" /><path d="M164.91 690.38L168.04 692.83L171.17 695.29L173.19 695.73L175.2 696.16L172.09 693.94L168.98 691.71L166.95 691.05Z" clip-path="url(#p7e990c3744)" style="fill:#d21f20;fill-opacity:0.6" /><path d="M222.9 725.33L226.05 727.37L229.2 729.41L231.08 728.07L232.94 726.74L229.8 724.92L226.66 723.1L224.79 724.21Z" clip-path="url(#p7e990c3744)" style="fill:#f96044;fill-opacity:0.6" /><path d="M288.13 735.37L291.32 736.57L294.52 737.76L296.3 734.72L298.08 731.69L294.89 730.71L291.7 729.73L289.92 732.55Z" clip-path="url(#p7e990c3744)" style="fill:#fb7151;fill-opacity:0.6" /><path d="M328 715.55L331.24 715.87L334.49 716.2L336.26 712.32L338.02 708.46L334.76 708.35L331.51 708.25L329.76 711.9Z" clip-path="url(#p7e990c3744)" style="fill:#f0402f;fill-opacity:0.6" /><path d="M261.86 736.98L265.03 738.6L268.2 740.22L270.01 737.81L271.82 735.4L268.65 734L265.49 732.6L263.67 734.78Z" clip-path="url(#p7e990c3744)" style="fill:#fb7656;fill-opacity:0.6" /><path d="M200.22 714.06L203.37 716.3L206.51 718.55L208.43 717.87L210.35 717.2L207.22 715.17L204.09 713.15L202.16 713.6Z" clip-path="url(#p7e990c3744)" style="fill:#f24734;fill-opacity:0.6" /><path d="M245.54 734.04L248.71 735.87L251.87 737.71L253.7 735.72L255.53 733.74L252.37 732.13L249.22 730.52L247.39 732.28Z" clip-path="url(#p7e990c3744)" style="fill:#fb7151;fill-opacity:0.6" /><path d="M171.17 695.29L174.31 697.74L177.45 700.2L179.45 700.41L181.44 700.62L178.32 698.39L175.2 696.16L173.19 695.73Z" clip-path="url(#p7e990c3744)" style="fill:#d92523;fill-opacity:0.6" /><path d="M278.17 738.22L281.36 739.63L284.55 741.04L286.34 738.2L288.13 735.37L284.95 734.18L281.76 732.99L279.97 735.6Z" clip-path="url(#p7e990c3744)" style="fill:#fb7656;fill-opacity:0.6" /><path d="M338.02 708.46L341.28 708.56L344.55 708.66L346.31 704.58L348.07 700.5L344.8 700.62L341.53 700.74L339.77 704.6Z" clip-path="url(#p7e990c3744)" style="fill:#e43027;fill-opacity:0.6" /><path d="M229.2 729.41L232.36 731.45L235.52 733.49L237.38 731.94L239.24 730.39L236.09 728.56L232.94 726.74L231.08 728.07Z" clip-path="url(#p7e990c3744)" style="fill:#fa6849;fill-opacity:0.6" /><path d="M348.07 700.5L351.36 700.38L353.12 696.2L354.88 692.02L351.58 692.37L349.83 696.43Z" clip-path="url(#p7e990c3744)" style="fill:#d42121;fill-opacity:0.6" /><path d="M206.51 718.55L209.66 720.8L212.81 723.06L214.72 722.16L216.62 721.26L213.48 719.23L210.35 717.2L208.43 717.87Z" clip-path="url(#p7e990c3744)" style="fill:#f44f39;fill-opacity:0.6" /><path d="M304.49 733.64L307.71 734.63L310.92 735.61L312.7 732.14L314.47 728.68L311.25 727.92L308.04 727.15L306.27 730.4Z" clip-path="url(#p7e990c3744)" style="fill:#fb694a;fill-opacity:0.6" /><path d="M314.47 728.68L317.7 729.45L320.93 730.21L322.7 726.54L324.47 722.87L321.24 722.32L318.01 721.78L316.24 725.22Z" clip-path="url(#p7e990c3744)" style="fill:#f75c41;fill-opacity:0.6" /><path d="M177.45 700.2L180.59 702.65L183.73 705.11L185.71 705.1L187.69 705.09L184.56 702.86L181.44 700.62L179.45 700.41Z" clip-path="url(#p7e990c3744)" style="fill:#e02c26;fill-opacity:0.6" /><path d="M251.87 737.71L255.04 739.54L258.21 741.38L260.04 739.17L261.86 736.98L258.69 735.36L255.53 733.74L253.7 735.72Z" clip-path="url(#p7e990c3744)" style="fill:#fb7555;fill-opacity:0.6" /><path d="M268.2 740.22L271.38 741.84L274.57 743.47L276.37 740.84L278.17 738.22L274.99 736.81L271.82 735.4L270.01 737.81Z" clip-path="url(#p7e990c3744)" style="fill:#fb7858;fill-opacity:0.6" /><path d="M294.52 737.76L297.72 738.96L300.93 740.16L302.71 736.9L304.49 733.64L301.29 732.66L298.08 731.69L296.3 734.72Z" clip-path="url(#p7e990c3744)" style="fill:#fb7252;fill-opacity:0.6" /><path d="M324.47 722.87L327.71 723.41L330.96 723.96L332.73 720.07L334.49 716.2L331.24 715.87L328 715.55L326.24 719.2Z" clip-path="url(#p7e990c3744)" style="fill:#f44d38;fill-opacity:0.6" /><path d="M235.52 733.49L238.68 735.54L241.84 737.59L243.7 735.81L245.54 734.04L242.39 732.21L239.24 730.39L237.38 731.94Z" clip-path="url(#p7e990c3744)" style="fill:#fb6d4d;fill-opacity:0.6" /><path d="M284.55 741.04L287.74 742.45L290.94 743.87L292.73 740.81L294.52 737.76L291.32 736.57L288.13 735.37L286.34 738.2Z" clip-path="url(#p7e990c3744)" style="fill:#fb7858;fill-opacity:0.6" /><path d="M212.81 723.06L215.96 725.31L219.12 727.57L221.01 726.45L222.9 725.33L219.76 723.29L216.62 721.26L214.72 722.16Z" clip-path="url(#p7e990c3744)" style="fill:#f6583e;fill-opacity:0.6" /><path d="M334.49 716.2L337.75 716.52L341.02 716.85L342.79 712.75L344.55 708.66L341.28 708.56L338.02 708.46L336.26 712.32Z" clip-path="url(#p7e990c3744)" style="fill:#ef3c2c;fill-opacity:0.6" /><path d="M183.73 705.11L186.88 707.58L190.02 710.04L191.99 709.8L193.95 709.57L190.82 707.33L187.69 705.09L185.71 705.1Z" clip-path="url(#p7e990c3744)" style="fill:#e63328;fill-opacity:0.6" /><path d="M344.55 708.66L347.83 708.77L349.6 704.57L351.36 700.38L348.07 700.5L346.31 704.58Z" clip-path="url(#p7e990c3744)" style="fill:#e12d26;fill-opacity:0.6" /><path d="M148.22 678.35L151.36 681.02L154.51 683.69L156.58 684.59L158.65 685.49L155.53 683.05L152.41 680.6L150.32 679.48Z" clip-path="url(#p7e990c3744)" style="fill:#b71319;fill-opacity:0.6" /><path d="M258.21 741.38L261.39 743.22L264.57 745.06L266.39 742.64L268.2 740.22L265.03 738.6L261.86 736.98L260.04 739.17Z" clip-path="url(#p7e990c3744)" style="fill:#fb7a5a;fill-opacity:0.6" /><path d="M274.57 743.47L277.75 745.1L280.95 746.73L282.75 743.88L284.55 741.04L281.36 739.63L278.17 738.22L276.37 740.84Z" clip-path="url(#p7e990c3744)" style="fill:#fb7c5c;fill-opacity:0.6" /><path d="M190.02 710.04L193.18 712.51L196.33 714.97L198.28 714.51L200.22 714.06L197.09 711.81L193.95 709.57L191.99 709.8Z" clip-path="url(#p7e990c3744)" style="fill:#ed392b;fill-opacity:0.6" /><path d="M219.12 727.57L222.28 729.83L225.44 732.09L227.33 730.75L229.2 729.41L226.05 727.37L222.9 725.33L221.01 726.45Z" clip-path="url(#p7e990c3744)" style="fill:#f85f43;fill-opacity:0.6" /><path d="M310.92 735.61L314.15 736.6L317.38 737.59L319.16 733.9L320.93 730.21L317.7 729.45L314.47 728.68L312.7 732.14Z" clip-path="url(#p7e990c3744)" style="fill:#fb694a;fill-opacity:0.6" /><path d="M241.84 737.59L245.01 739.64L248.19 741.69L250.03 739.7L251.87 737.71L248.71 735.87L245.54 734.04L243.7 735.81Z" clip-path="url(#p7e990c3744)" style="fill:#fb7252;fill-opacity:0.6" /><path d="M300.93 740.16L304.14 741.37L307.36 742.57L309.15 739.09L310.92 735.61L307.71 734.63L304.49 733.64L302.71 736.9Z" clip-path="url(#p7e990c3744)" style="fill:#fb7252;fill-opacity:0.6" /><path d="M320.93 730.21L324.17 730.98L327.42 731.75L329.19 727.85L330.96 723.96L327.71 723.41L324.47 722.87L322.7 726.54Z" clip-path="url(#p7e990c3744)" style="fill:#f75b40;fill-opacity:0.6" /><path d="M154.51 683.69L157.65 686.37L160.8 689.04L162.86 689.71L164.91 690.38L161.78 687.94L158.65 685.49L156.58 684.59Z" clip-path="url(#p7e990c3744)" style="fill:#bf151b;fill-opacity:0.6" /><path d="M290.94 743.87L294.14 745.29L297.35 746.71L299.14 743.43L300.93 740.16L297.72 738.96L294.52 737.76L292.73 740.81Z" clip-path="url(#p7e990c3744)" style="fill:#fb7a5a;fill-opacity:0.6" /><path d="M330.96 723.96L334.22 724.51L337.48 725.06L339.25 720.95L341.02 716.85L337.75 716.52L334.49 716.2L332.73 720.07Z" clip-path="url(#p7e990c3744)" style="fill:#f34a36;fill-opacity:0.6" /><path d="M341.02 716.85L344.3 717.18L346.07 712.97L347.83 708.77L344.55 708.66L342.79 712.75Z" clip-path="url(#p7e990c3744)" style="fill:#ed392b;fill-opacity:0.6" /><path d="M196.33 714.97L199.48 717.44L202.64 719.92L204.58 719.23L206.51 718.55L203.37 716.3L200.22 714.06L198.28 714.51Z" clip-path="url(#p7e990c3744)" style="fill:#f14130;fill-opacity:0.6" /><path d="M264.57 745.06L267.75 746.91L270.94 748.75L272.75 746.11L274.57 743.47L271.38 741.84L268.2 740.22L266.39 742.64Z" clip-path="url(#p7e990c3744)" style="fill:#fb7d5d;fill-opacity:0.6" /><path d="M225.44 732.09L228.61 734.35L231.77 736.62L233.65 735.05L235.52 733.49L232.36 731.45L229.2 729.41L227.33 730.75Z" clip-path="url(#p7e990c3744)" style="fill:#fa6648;fill-opacity:0.6" /><path d="M160.8 689.04L163.95 691.72L167.1 694.4L169.14 694.84L171.17 695.29L168.04 692.83L164.91 690.38L162.86 689.71Z" clip-path="url(#p7e990c3744)" style="fill:#c8171c;fill-opacity:0.6" /><path d="M248.19 741.69L251.36 743.75L254.54 745.81L256.38 743.59L258.21 741.38L255.04 739.54L251.87 737.71L250.03 739.7Z" clip-path="url(#p7e990c3744)" style="fill:#fb7757;fill-opacity:0.6" /><path d="M280.95 746.73L284.14 748.37L287.34 750L289.14 746.93L290.94 743.87L287.74 742.45L284.55 741.04L282.75 743.88Z" clip-path="url(#p7e990c3744)" style="fill:#fc7f5f;fill-opacity:0.6" /><path d="M202.64 719.92L205.81 722.39L208.97 724.87L210.89 723.96L212.81 723.06L209.66 720.8L206.51 718.55L204.58 719.23Z" clip-path="url(#p7e990c3744)" style="fill:#f34a36;fill-opacity:0.6" /><path d="M167.1 694.4L170.26 697.08L173.42 699.76L175.43 699.98L177.45 700.2L174.31 697.74L171.17 695.29L169.14 694.84Z" clip-path="url(#p7e990c3744)" style="fill:#d01d1f;fill-opacity:0.6" /><path d="M307.36 742.57L310.59 743.78L313.82 744.99L315.6 741.28L317.38 737.59L314.15 736.6L310.92 735.61L309.15 739.09Z" clip-path="url(#p7e990c3744)" style="fill:#fb7353;fill-opacity:0.6" /><path d="M317.38 737.59L320.62 738.58L323.86 739.57L325.64 735.66L327.42 731.75L324.17 730.98L320.93 730.21L319.16 733.9Z" clip-path="url(#p7e990c3744)" style="fill:#fb694a;fill-opacity:0.6" /><path d="M231.77 736.62L234.95 738.89L238.12 741.16L239.99 739.37L241.84 737.59L238.68 735.54L235.52 733.49L233.65 735.05Z" clip-path="url(#p7e990c3744)" style="fill:#fb6d4d;fill-opacity:0.6" /><path d="M297.35 746.71L300.57 748.13L303.79 749.56L305.58 746.06L307.36 742.57L304.14 741.37L300.93 740.16L299.14 743.43Z" clip-path="url(#p7e990c3744)" style="fill:#fb7c5c;fill-opacity:0.6" /><path d="M327.42 731.75L330.67 732.52L333.93 733.3L335.7 729.17L337.48 725.06L334.22 724.51L330.96 723.96L329.19 727.85Z" clip-path="url(#p7e990c3744)" style="fill:#f7593f;fill-opacity:0.6" /><path d="M337.48 725.06L340.75 725.61L342.52 721.39L344.3 717.18L341.02 716.85L339.25 720.95Z" clip-path="url(#p7e990c3744)" style="fill:#f34935;fill-opacity:0.6" /><path d="M270.94 748.75L274.13 750.6L277.33 752.45L279.14 749.59L280.95 746.73L277.75 745.1L274.57 743.47L272.75 746.11Z" clip-path="url(#p7e990c3744)" style="fill:#fc8262;fill-opacity:0.6" /><path d="M254.54 745.81L257.72 747.87L260.91 749.93L262.74 747.49L264.57 745.06L261.39 743.22L258.21 741.38L256.38 743.59Z" clip-path="url(#p7e990c3744)" style="fill:#fb7d5d;fill-opacity:0.6" /><path d="M173.42 699.76L176.57 702.45L179.74 705.13L181.74 705.12L183.73 705.11L180.59 702.65L177.45 700.2L175.43 699.98Z" clip-path="url(#p7e990c3744)" style="fill:#d82422;fill-opacity:0.6" /><path d="M208.97 724.87L212.14 727.34L215.3 729.82L217.22 728.69L219.12 727.57L215.96 725.31L212.81 723.06L210.89 723.96Z" clip-path="url(#p7e990c3744)" style="fill:#f5533b;fill-opacity:0.6" /><path d="M287.34 750L290.55 751.64L293.76 753.28L295.56 749.99L297.35 746.71L294.14 745.29L290.94 743.87L289.14 746.93Z" clip-path="url(#p7e990c3744)" style="fill:#fc8262;fill-opacity:0.6" /><path d="M238.12 741.16L241.3 743.43L244.48 745.7L246.34 743.7L248.19 741.69L245.01 739.64L241.84 737.59L239.99 739.37Z" clip-path="url(#p7e990c3744)" style="fill:#fb7353;fill-opacity:0.6" /><path d="M179.74 705.13L182.9 707.82L186.06 710.51L188.05 710.27L190.02 710.04L186.88 707.58L183.73 705.11L181.74 705.12Z" clip-path="url(#p7e990c3744)" style="fill:#e02c26;fill-opacity:0.6" /><path d="M215.3 729.82L218.48 732.31L221.65 734.79L223.55 733.44L225.44 732.09L222.28 729.83L219.12 727.57L217.22 728.69Z" clip-path="url(#p7e990c3744)" style="fill:#f75c41;fill-opacity:0.6" /><path d="M260.91 749.93L264.1 751.99L267.29 754.06L269.12 751.4L270.94 748.75L267.75 746.91L264.57 745.06L262.74 747.49Z" clip-path="url(#p7e990c3744)" style="fill:#fc8262;fill-opacity:0.6" /><path d="M277.33 752.45L280.53 754.31L283.73 756.16L285.54 753.08L287.34 750L284.14 748.37L280.95 746.73L279.14 749.59Z" clip-path="url(#p7e990c3744)" style="fill:#fc8666;fill-opacity:0.6" /><path d="M313.82 744.99L317.05 746.2L320.29 747.41L322.08 743.49L323.86 739.57L320.62 738.58L317.38 737.59L315.6 741.28Z" clip-path="url(#p7e990c3744)" style="fill:#fb7555;fill-opacity:0.6" /><path d="M333.93 733.3L337.19 734.07L338.97 729.84L340.75 725.61L337.48 725.06L335.7 729.17Z" clip-path="url(#p7e990c3744)" style="fill:#f6583e;fill-opacity:0.6" /><path d="M303.79 749.56L307.01 750.98L310.24 752.41L312.03 748.7L313.82 744.99L310.59 743.78L307.36 742.57L305.58 746.06Z" clip-path="url(#p7e990c3744)" style="fill:#fb7d5d;fill-opacity:0.6" /><path d="M323.86 739.57L327.11 740.56L330.36 741.56L332.15 737.42L333.93 733.3L330.67 732.52L327.42 731.75L325.64 735.66Z" clip-path="url(#p7e990c3744)" style="fill:#fa6849;fill-opacity:0.6" /><path d="M186.06 710.51L189.23 713.2L192.4 715.9L194.37 715.43L196.33 714.97L193.18 712.51L190.02 710.04L188.05 710.27Z" clip-path="url(#p7e990c3744)" style="fill:#e83429;fill-opacity:0.6" /><path d="M244.48 745.7L247.66 747.98L250.85 750.26L252.7 748.03L254.54 745.81L251.36 743.75L248.19 741.69L246.34 743.7Z" clip-path="url(#p7e990c3744)" style="fill:#fb7a5a;fill-opacity:0.6" /><path d="M293.76 753.28L296.98 754.93L300.19 756.57L301.99 753.06L303.79 749.56L300.57 748.13L297.35 746.71L295.56 749.99Z" clip-path="url(#p7e990c3744)" style="fill:#fc8565;fill-opacity:0.6" /><path d="M221.65 734.79L224.83 737.28L228.01 739.77L229.89 738.19L231.77 736.62L228.61 734.35L225.44 732.09L223.55 733.44Z" clip-path="url(#p7e990c3744)" style="fill:#fa6547;fill-opacity:0.6" /><path d="M143.99 676.08L147.15 678.98L150.32 681.88L152.42 682.79L154.51 683.69L151.36 681.02L148.22 678.35L146.11 677.22Z" clip-path="url(#p7e990c3744)" style="fill:#aa1016;fill-opacity:0.6" /><path d="M192.4 715.9L195.57 718.59L198.75 721.29L200.7 720.6L202.64 719.92L199.48 717.44L196.33 714.97L194.37 715.43Z" clip-path="url(#p7e990c3744)" style="fill:#ef3c2c;fill-opacity:0.6" /><path d="M267.29 754.06L270.49 756.13L273.69 758.2L275.51 755.33L277.33 752.45L274.13 750.6L270.94 748.75L269.12 751.4Z" clip-path="url(#p7e990c3744)" style="fill:#fc8767;fill-opacity:0.6" /><path d="M283.73 756.16L286.94 758.02L290.15 759.88L291.96 756.58L293.76 753.28L290.55 751.64L287.34 750L285.54 753.08Z" clip-path="url(#p7e990c3744)" style="fill:#fc8a6a;fill-opacity:0.6" /><path d="M150.32 681.88L153.49 684.78L156.65 687.69L158.73 688.37L160.8 689.04L157.65 686.37L154.51 683.69L152.42 682.79Z" clip-path="url(#p7e990c3744)" style="fill:#b31218;fill-opacity:0.6" /><path d="M250.85 750.26L254.04 752.54L257.23 754.82L259.07 752.37L260.91 749.93L257.72 747.87L254.54 745.81L252.7 748.03Z" clip-path="url(#p7e990c3744)" style="fill:#fc8161;fill-opacity:0.6" /><path d="M330.36 741.56L333.62 742.55L335.41 738.31L337.19 734.07L333.93 733.3L332.15 737.42Z" clip-path="url(#p7e990c3744)" style="fill:#fa6849;fill-opacity:0.6" /><path d="M228.01 739.77L231.19 742.26L234.37 744.75L236.25 742.95L238.12 741.16L234.95 738.89L231.77 736.62L229.89 738.19Z" clip-path="url(#p7e990c3744)" style="fill:#fb6d4d;fill-opacity:0.6" /><path d="M310.24 752.41L313.47 753.85L316.71 755.28L318.5 751.34L320.29 747.41L317.05 746.2L313.82 744.99L312.03 748.7Z" clip-path="url(#p7e990c3744)" style="fill:#fc8060;fill-opacity:0.6" /><path d="M320.29 747.41L323.54 748.63L326.79 749.84L328.58 745.7L330.36 741.56L327.11 740.56L323.86 739.57L322.08 743.49Z" clip-path="url(#p7e990c3744)" style="fill:#fb7555;fill-opacity:0.6" /><path d="M198.75 721.29L201.92 723.99L205.1 726.69L207.04 725.78L208.97 724.87L205.81 722.39L202.64 719.92L200.7 720.6Z" clip-path="url(#p7e990c3744)" style="fill:#f24633;fill-opacity:0.6" /><path d="M300.19 756.57L303.42 758.22L306.65 759.87L308.44 756.14L310.24 752.41L307.01 750.98L303.79 749.56L301.99 753.06Z" clip-path="url(#p7e990c3744)" style="fill:#fc8969;fill-opacity:0.6" /><path d="M156.65 687.69L159.83 690.6L163 693.5L165.06 693.95L167.1 694.4L163.95 691.72L160.8 689.04L158.73 688.37Z" clip-path="url(#p7e990c3744)" style="fill:#bd151a;fill-opacity:0.6" /><path d="M273.69 758.2L276.9 760.28L280.1 762.35L281.92 759.26L283.73 756.16L280.53 754.31L277.33 752.45L275.51 755.33Z" clip-path="url(#p7e990c3744)" style="fill:#fc8e6e;fill-opacity:0.6" /><path d="M234.37 744.75L237.56 747.24L240.75 749.74L242.62 747.72L244.48 745.7L241.3 743.43L238.12 741.16L236.25 742.95Z" clip-path="url(#p7e990c3744)" style="fill:#fb7555;fill-opacity:0.6" /><path d="M257.23 754.82L260.43 757.11L263.63 759.4L265.46 756.73L267.29 754.06L264.1 751.99L260.91 749.93L259.07 752.37Z" clip-path="url(#p7e990c3744)" style="fill:#fc8767;fill-opacity:0.6" /><path d="M205.1 726.69L208.28 729.39L211.46 732.1L213.39 730.96L215.3 729.82L212.14 727.34L208.97 724.87L207.04 725.78Z" clip-path="url(#p7e990c3744)" style="fill:#f4503a;fill-opacity:0.6" /><path d="M290.15 759.88L293.37 761.75L296.59 763.61L298.39 760.09L300.19 756.57L296.98 754.93L293.76 753.28L291.96 756.58Z" clip-path="url(#p7e990c3744)" style="fill:#fc8f6f;fill-opacity:0.6" /><path d="M163 693.5L166.17 696.41L169.35 699.33L171.39 699.54L173.42 699.76L170.26 697.08L167.1 694.4L165.06 693.95Z" clip-path="url(#p7e990c3744)" style="fill:#c7171c;fill-opacity:0.6" /><path d="M326.79 749.84L330.05 751.06L331.84 746.81L333.62 742.55L330.36 741.56L328.58 745.7Z" clip-path="url(#p7e990c3744)" style="fill:#fb7656;fill-opacity:0.6" /><path d="M169.35 699.33L172.53 702.24L175.71 705.15L177.73 705.14L179.74 705.13L176.57 702.45L173.42 699.76L171.39 699.54Z" clip-path="url(#p7e990c3744)" style="fill:#d01d1f;fill-opacity:0.6" /><path d="M211.46 732.1L214.65 734.8L217.84 737.51L219.75 736.15L221.65 734.79L218.48 732.31L215.3 729.82L213.39 730.96Z" clip-path="url(#p7e990c3744)" style="fill:#f75b40;fill-opacity:0.6" /><path d="M316.71 755.28L319.95 756.72L323.2 758.16L325 754L326.79 749.84L323.54 748.63L320.29 747.41L318.5 751.34Z" clip-path="url(#p7e990c3744)" style="fill:#fc8262;fill-opacity:0.6" /><path d="M240.75 749.74L243.94 752.24L247.14 754.74L249 752.5L250.85 750.26L247.66 747.98L244.48 745.7L242.62 747.72Z" clip-path="url(#p7e990c3744)" style="fill:#fb7c5c;fill-opacity:0.6" /><path d="M280.1 762.35L283.32 764.43L286.53 766.51L288.34 763.2L290.15 759.88L286.94 758.02L283.73 756.16L281.92 759.26Z" clip-path="url(#p7e990c3744)" style="fill:#fc9373;fill-opacity:0.6" /><path d="M306.65 759.87L309.88 761.52L313.12 763.18L314.92 759.23L316.71 755.28L313.47 753.85L310.24 752.41L308.44 756.14Z" clip-path="url(#p7e990c3744)" style="fill:#fc8b6b;fill-opacity:0.6" /><path d="M263.63 759.4L266.83 761.69L270.04 763.98L271.87 761.09L273.69 758.2L270.49 756.13L267.29 754.06L265.46 756.73Z" clip-path="url(#p7e990c3744)" style="fill:#fc8e6e;fill-opacity:0.6" /><path d="M175.71 705.15L178.89 708.07L182.07 710.99L184.07 710.75L186.06 710.51L182.9 707.82L179.74 705.13L177.73 705.14Z" clip-path="url(#p7e990c3744)" style="fill:#d92523;fill-opacity:0.6" /><path d="M296.59 763.61L299.81 765.48L303.04 767.35L304.85 763.61L306.65 759.87L303.42 758.22L300.19 756.57L298.39 760.09Z" clip-path="url(#p7e990c3744)" style="fill:#fc9373;fill-opacity:0.6" /><path d="M217.84 737.51L221.02 740.22L224.22 742.93L226.11 741.35L228.01 739.77L224.83 737.28L221.65 734.79L219.75 736.15Z" clip-path="url(#p7e990c3744)" style="fill:#fa6547;fill-opacity:0.6" /><path d="M247.14 754.74L250.34 757.24L253.54 759.75L255.39 757.28L257.23 754.82L254.04 752.54L250.85 750.26L249 752.5Z" clip-path="url(#p7e990c3744)" style="fill:#fc8565;fill-opacity:0.6" /><path d="M182.07 710.99L185.26 713.91L188.44 716.83L190.43 716.36L192.4 715.9L189.23 713.2L186.06 710.51L184.07 710.75Z" clip-path="url(#p7e990c3744)" style="fill:#e22e27;fill-opacity:0.6" /><path d="M323.2 758.16L326.46 759.6L328.25 755.33L330.05 751.06L326.79 749.84L325 754Z" clip-path="url(#p7e990c3744)" style="fill:#fc8464;fill-opacity:0.6" /><path d="M270.04 763.98L273.25 766.27L276.46 768.57L278.28 765.46L280.1 762.35L276.9 760.28L273.69 758.2L271.87 761.09Z" clip-path="url(#p7e990c3744)" style="fill:#fc9474;fill-opacity:0.6" /><path d="M286.53 766.51L289.75 768.6L292.97 770.68L294.78 767.14L296.59 763.61L293.37 761.75L290.15 759.88L288.34 763.2Z" clip-path="url(#p7e990c3744)" style="fill:#fc9879;fill-opacity:0.6" /><path d="M224.22 742.93L227.41 745.65L230.6 748.36L232.49 746.55L234.37 744.75L231.19 742.26L228.01 739.77L226.11 741.35Z" clip-path="url(#p7e990c3744)" style="fill:#fb6e4e;fill-opacity:0.6" /><path d="M313.12 763.18L316.36 764.83L319.61 766.49L321.41 762.32L323.2 758.16L319.95 756.72L316.71 755.28L314.92 759.23Z" clip-path="url(#p7e990c3744)" style="fill:#fc8f6f;fill-opacity:0.6" /><path d="M188.44 716.83L191.63 719.75L194.82 722.67L196.79 721.98L198.75 721.29L195.57 718.59L192.4 715.9L190.43 716.36Z" clip-path="url(#p7e990c3744)" style="fill:#eb372a;fill-opacity:0.6" /><path d="M253.54 759.75L256.74 762.25L259.95 764.76L261.79 762.08L263.63 759.4L260.43 757.11L257.23 754.82L255.39 757.28Z" clip-path="url(#p7e990c3744)" style="fill:#fc8d6d;fill-opacity:0.6" /><path d="M303.04 767.35L306.28 769.22L309.51 771.1L311.32 767.13L313.12 763.18L309.88 761.52L306.65 759.87L304.85 763.61Z" clip-path="url(#p7e990c3744)" style="fill:#fc9777;fill-opacity:0.6" /><path d="M230.6 748.36L233.8 751.08L237 753.8L238.88 751.77L240.75 749.74L237.56 747.24L234.37 744.75L232.49 746.55Z" clip-path="url(#p7e990c3744)" style="fill:#fb7757;fill-opacity:0.6" /><path d="M194.82 722.67L198.01 725.6L201.2 728.53L203.16 727.61L205.1 726.69L201.92 723.99L198.75 721.29L196.79 721.98Z" clip-path="url(#p7e990c3744)" style="fill:#f0402f;fill-opacity:0.6" /><path d="M276.46 768.57L279.67 770.87L282.89 773.17L284.71 769.84L286.53 766.51L283.32 764.43L280.1 762.35L278.28 765.46Z" clip-path="url(#p7e990c3744)" style="fill:#fc9b7c;fill-opacity:0.6" /><path d="M139.71 673.78L142.9 676.91L146.09 680.05L148.21 680.97L150.32 681.88L147.15 678.98L143.99 676.08L141.85 674.93Z" clip-path="url(#p7e990c3744)" style="fill:#9a0c14;fill-opacity:0.6" /><path d="M292.97 770.68L296.2 772.77L299.43 774.86L301.24 771.1L303.04 767.35L299.81 765.48L296.59 763.61L294.78 767.14Z" clip-path="url(#p7e990c3744)" style="fill:#fc9d7f;fill-opacity:0.6" /><path d="M259.95 764.76L263.16 767.27L266.37 769.79L268.2 766.88L270.04 763.98L266.83 761.69L263.63 759.4L261.79 762.08Z" clip-path="url(#p7e990c3744)" style="fill:#fc9474;fill-opacity:0.6" /><path d="M319.61 766.49L322.86 768.16L324.66 763.87L326.46 759.6L323.2 758.16L321.41 762.32Z" clip-path="url(#p7e990c3744)" style="fill:#fc9070;fill-opacity:0.6" /><path d="M201.2 728.53L204.4 731.46L207.6 734.39L209.53 733.24L211.46 732.1L208.28 729.39L205.1 726.69L203.16 727.61Z" clip-path="url(#p7e990c3744)" style="fill:#f34c37;fill-opacity:0.6" /><path d="M146.09 680.05L149.28 683.18L152.47 686.32L154.57 687.01L156.65 687.69L153.49 684.78L150.32 681.88L148.21 680.97Z" clip-path="url(#p7e990c3744)" style="fill:#a91016;fill-opacity:0.6" /><path d="M237 753.8L240.2 756.52L243.41 759.24L245.28 756.99L247.14 754.74L243.94 752.24L240.75 749.74L238.88 751.77Z" clip-path="url(#p7e990c3744)" style="fill:#fc8060;fill-opacity:0.6" /><path d="M309.51 771.1L312.75 772.98L316 774.86L317.8 770.67L319.61 766.49L316.36 764.83L313.12 763.18L311.32 767.13Z" clip-path="url(#p7e990c3744)" style="fill:#fc9c7d;fill-opacity:0.6" /><path d="M282.89 773.17L286.11 775.48L289.34 777.78L291.16 774.23L292.97 770.68L289.75 768.6L286.53 766.51L284.71 769.84Z" clip-path="url(#p7e990c3744)" style="fill:#fca183;fill-opacity:0.6" /><path d="M152.47 686.32L155.66 689.46L158.86 692.6L160.93 693.05L163 693.5L159.83 690.6L156.65 687.69L154.57 687.01Z" clip-path="url(#p7e990c3744)" style="fill:#b21218;fill-opacity:0.6" /><path d="M207.6 734.39L210.79 737.32L213.99 740.25L215.92 738.88L217.84 737.51L214.65 734.8L211.46 732.1L209.53 733.24Z" clip-path="url(#p7e990c3744)" style="fill:#f6583e;fill-opacity:0.6" /><path d="M266.37 769.79L269.58 772.3L272.8 774.82L274.63 771.69L276.46 768.57L273.25 766.27L270.04 763.98L268.2 766.88Z" clip-path="url(#p7e990c3744)" style="fill:#fc9c7d;fill-opacity:0.6" /><path d="M299.43 774.86L302.66 776.95L305.9 779.05L307.71 775.07L309.51 771.1L306.28 769.22L303.04 767.35L301.24 771.1Z" clip-path="url(#p7e990c3744)" style="fill:#fca486;fill-opacity:0.6" /><path d="M243.41 759.24L246.61 761.97L249.82 764.69L251.68 762.22L253.54 759.75L250.34 757.24L247.14 754.74L245.28 756.99Z" clip-path="url(#p7e990c3744)" style="fill:#fc8767;fill-opacity:0.6" /><path d="M158.86 692.6L162.05 695.74L165.25 698.88L167.3 699.11L169.35 699.33L166.17 696.41L163 693.5L160.93 693.05Z" clip-path="url(#p7e990c3744)" style="fill:#bd151a;fill-opacity:0.6" /><path d="M213.99 740.25L217.2 743.19L220.4 746.12L222.31 744.52L224.22 742.93L221.02 740.22L217.84 737.51L215.92 738.88Z" clip-path="url(#p7e990c3744)" style="fill:#f96346;fill-opacity:0.6" /><path d="M316 774.86L319.25 776.74L321.05 772.44L322.86 768.16L319.61 766.49L317.8 770.67Z" clip-path="url(#p7e990c3744)" style="fill:#fc9e80;fill-opacity:0.6" /><path d="M165.25 698.88L168.44 702.03L171.64 705.17L173.68 705.16L175.71 705.15L172.53 702.24L169.35 699.33L167.3 699.11Z" clip-path="url(#p7e990c3744)" style="fill:#c8171c;fill-opacity:0.6" /><path d="M289.34 777.78L292.56 780.09L295.8 782.4L297.61 778.63L299.43 774.86L296.2 772.77L292.97 770.68L291.16 774.23Z" clip-path="url(#p7e990c3744)" style="fill:#fca98c;fill-opacity:0.6" /><path d="M249.82 764.69L253.03 767.42L256.25 770.15L258.1 767.45L259.95 764.76L256.74 762.25L253.54 759.75L251.68 762.22Z" clip-path="url(#p7e990c3744)" style="fill:#fc9070;fill-opacity:0.6" /><path d="M272.8 774.82L276.02 777.34L279.24 779.86L281.07 776.51L282.89 773.17L279.67 770.87L276.46 768.57L274.63 771.69Z" clip-path="url(#p7e990c3744)" style="fill:#fca486;fill-opacity:0.6" /><path d="M220.4 746.12L223.6 749.06L226.81 752L228.71 750.18L230.6 748.36L227.41 745.65L224.22 742.93L222.31 744.52Z" clip-path="url(#p7e990c3744)" style="fill:#fb6e4e;fill-opacity:0.6" /><path d="M171.64 705.17L174.84 708.32L178.04 711.47L180.06 711.23L182.07 710.99L178.89 708.07L175.71 705.15L173.68 705.16Z" clip-path="url(#p7e990c3744)" style="fill:#d21f20;fill-opacity:0.6" /><path d="M305.9 779.05L309.14 781.15L312.38 783.25L314.19 779.05L316 774.86L312.75 772.98L309.51 771.1L307.71 775.07Z" clip-path="url(#p7e990c3744)" style="fill:#fca98c;fill-opacity:0.6" /><path d="M178.04 711.47L181.25 714.62L184.45 717.77L186.45 717.3L188.44 716.83L185.26 713.91L182.07 710.99L180.06 711.23Z" clip-path="url(#p7e990c3744)" style="fill:#db2824;fill-opacity:0.6" /><path d="M256.25 770.15L259.46 772.88L262.68 775.62L264.52 772.7L266.37 769.79L263.16 767.27L259.95 764.76L258.1 767.45Z" clip-path="url(#p7e990c3744)" style="fill:#fc997a;fill-opacity:0.6" /><path d="M226.81 752L230.02 754.94L233.23 757.88L235.12 755.84L237 753.8L233.8 751.08L230.6 748.36L228.71 750.18Z" clip-path="url(#p7e990c3744)" style="fill:#fb7858;fill-opacity:0.6" /><path d="M279.24 779.86L282.46 782.38L285.69 784.91L287.51 781.34L289.34 777.78L286.11 775.48L282.89 773.17L281.07 776.51Z" clip-path="url(#p7e990c3744)" style="fill:#fcab8f;fill-opacity:0.6" /><path d="M295.8 782.4L299.03 784.71L302.27 787.03L304.08 783.03L305.9 779.05L302.66 776.95L299.43 774.86L297.61 778.63Z" clip-path="url(#p7e990c3744)" style="fill:#fcaf93;fill-opacity:0.6" /><path d="M184.45 717.77L187.66 720.92L190.86 724.07L192.84 723.37L194.82 722.67L191.63 719.75L188.44 716.83L186.45 717.3Z" clip-path="url(#p7e990c3744)" style="fill:#e53228;fill-opacity:0.6" /><path d="M312.38 783.25L315.63 785.35L317.44 781.04L319.25 776.74L316 774.86L314.19 779.05Z" clip-path="url(#p7e990c3744)" style="fill:#fcad90;fill-opacity:0.6" /><path d="M233.23 757.88L236.44 760.83L239.65 763.77L241.53 761.5L243.41 759.24L240.2 756.52L237 753.8L235.12 755.84Z" clip-path="url(#p7e990c3744)" style="fill:#fc8262;fill-opacity:0.6" /><path d="M262.68 775.62L265.9 778.35L269.12 781.09L270.96 777.95L272.8 774.82L269.58 772.3L266.37 769.79L264.52 772.7Z" clip-path="url(#p7e990c3744)" style="fill:#fca285;fill-opacity:0.6" /><path d="M190.86 724.07L194.07 727.22L197.28 730.38L199.24 729.45L201.2 728.53L198.01 725.6L194.82 722.67L192.84 723.37Z" clip-path="url(#p7e990c3744)" style="fill:#ef3c2c;fill-opacity:0.6" /><path d="M285.69 784.91L288.92 787.43L292.15 789.96L293.97 786.18L295.8 782.4L292.56 780.09L289.34 777.78L287.51 781.34Z" clip-path="url(#p7e990c3744)" style="fill:#fcb398;fill-opacity:0.6" /><path d="M302.27 787.03L305.51 789.34L308.75 791.66L310.57 787.45L312.38 783.25L309.14 781.15L305.9 779.05L304.08 783.03Z" clip-path="url(#p7e990c3744)" style="fill:#fcb69b;fill-opacity:0.6" /><path d="M239.65 763.77L242.87 766.72L246.09 769.67L247.96 767.18L249.82 764.69L246.61 761.97L243.41 759.24L241.53 761.5Z" clip-path="url(#p7e990c3744)" style="fill:#fc8b6b;fill-opacity:0.6" /><path d="M197.28 730.38L200.49 733.53L203.7 736.69L205.65 735.54L207.6 734.39L204.4 731.46L201.2 728.53L199.24 729.45Z" clip-path="url(#p7e990c3744)" style="fill:#f34935;fill-opacity:0.6" /><path d="M269.12 781.09L272.34 783.83L275.57 786.57L277.4 783.21L279.24 779.86L276.02 777.34L272.8 774.82L270.96 777.95Z" clip-path="url(#p7e990c3744)" style="fill:#fcab8f;fill-opacity:0.6" /><path d="M203.7 736.69L206.91 739.85L210.12 743.01L212.06 741.63L213.99 740.25L210.79 737.32L207.6 734.39L205.65 735.54Z" clip-path="url(#p7e990c3744)" style="fill:#f6563d;fill-opacity:0.6" /><path d="M246.09 769.67L249.3 772.62L252.52 775.57L254.39 772.86L256.25 770.15L253.03 767.42L249.82 764.69L247.96 767.18Z" clip-path="url(#p7e990c3744)" style="fill:#fc9576;fill-opacity:0.6" /><path d="M292.15 789.96L295.39 792.5L298.62 795.03L300.45 791.02L302.27 787.03L299.03 784.71L295.8 782.4L293.97 786.18Z" clip-path="url(#p7e990c3744)" style="fill:#fcbba1;fill-opacity:0.6" /><path d="M308.75 791.66L312 793.98L313.81 789.66L315.63 785.35L312.38 783.25L310.57 787.45Z" clip-path="url(#p7e990c3744)" style="fill:#fcbba1;fill-opacity:0.6" /><path d="M135.39 671.46L138.6 674.83L141.82 678.2L143.96 679.12L146.09 680.05L142.9 676.91L139.71 673.78L137.56 672.62Z" clip-path="url(#p7e990c3744)" style="fill:#840711;fill-opacity:0.6" /><path d="M275.57 786.57L278.8 789.32L282.03 792.06L283.86 788.48L285.69 784.91L282.46 782.38L279.24 779.86L277.4 783.21Z" clip-path="url(#p7e990c3744)" style="fill:#fcb499;fill-opacity:0.6" /><path d="M210.12 743.01L213.34 746.17L216.56 749.33L218.48 747.72L220.4 746.12L217.2 743.19L213.99 740.25L212.06 741.63Z" clip-path="url(#p7e990c3744)" style="fill:#f96245;fill-opacity:0.6" /><path d="M252.52 775.57L255.75 778.52L258.97 781.48L260.83 778.55L262.68 775.62L259.46 772.88L256.25 770.15L254.39 772.86Z" clip-path="url(#p7e990c3744)" style="fill:#fca082;fill-opacity:0.6" /><path d="M141.82 678.2L145.03 681.57L148.24 684.94L150.36 685.63L152.47 686.32L149.28 683.18L146.09 680.05L143.96 679.12Z" clip-path="url(#p7e990c3744)" style="fill:#980c13;fill-opacity:0.6" /><path d="M216.56 749.33L219.77 752.49L222.99 755.66L224.9 753.83L226.81 752L223.6 749.06L220.4 746.12L218.48 747.72Z" clip-path="url(#p7e990c3744)" style="fill:#fb6e4e;fill-opacity:0.6" /><path d="M148.24 684.94L151.46 688.31L154.67 691.69L156.77 692.15L158.86 692.6L155.66 689.46L152.47 686.32L150.36 685.63Z" clip-path="url(#p7e990c3744)" style="fill:#a91016;fill-opacity:0.6" /><path d="M298.62 795.03L301.86 797.57L305.11 800.1L306.93 795.88L308.75 791.66L305.51 789.34L302.27 787.03L300.45 791.02Z" clip-path="url(#p7e990c3744)" style="fill:#fcc2aa;fill-opacity:0.6" /><path d="M282.03 792.06L285.26 794.81L288.49 797.56L290.32 793.76L292.15 789.96L288.92 787.43L285.69 784.91L283.86 788.48Z" clip-path="url(#p7e990c3744)" style="fill:#fcbda4;fill-opacity:0.6" /><path d="M258.97 781.48L262.2 784.44L265.42 787.4L267.27 784.24L269.12 781.09L265.9 778.35L262.68 775.62L260.83 778.55Z" clip-path="url(#p7e990c3744)" style="fill:#fcaa8d;fill-opacity:0.6" /><path d="M154.67 691.69L157.89 695.06L161.11 698.44L163.18 698.66L165.25 698.88L162.05 695.74L158.86 692.6L156.77 692.15Z" clip-path="url(#p7e990c3744)" style="fill:#b31218;fill-opacity:0.6" /><path d="M222.99 755.66L226.21 758.82L229.43 761.99L231.33 759.93L233.23 757.88L230.02 754.94L226.81 752L224.9 753.83Z" clip-path="url(#p7e990c3744)" style="fill:#fb7a5a;fill-opacity:0.6" /><path d="M161.11 698.44L164.33 701.82L167.54 705.19L169.6 705.18L171.64 705.17L168.44 702.03L165.25 698.88L163.18 698.66Z" clip-path="url(#p7e990c3744)" style="fill:#bf151b;fill-opacity:0.6" /><path d="M305.11 800.1L308.35 802.64L310.18 798.31L312 793.98L308.75 791.66L306.93 795.88Z" clip-path="url(#p7e990c3744)" style="fill:#fdc7b2;fill-opacity:0.6" /><path d="M229.43 761.99L232.65 765.16L235.88 768.33L237.77 766.05L239.65 763.77L236.44 760.83L233.23 757.88L231.33 759.93Z" clip-path="url(#p7e990c3744)" style="fill:#fc8565;fill-opacity:0.6" /><path d="M265.42 787.4L268.65 790.36L271.88 793.32L273.73 789.94L275.57 786.57L272.34 783.83L269.12 781.09L267.27 784.24Z" clip-path="url(#p7e990c3744)" style="fill:#fcb499;fill-opacity:0.6" /><path d="M288.49 797.56L291.73 800.31L294.97 803.06L296.8 799.04L298.62 795.03L295.39 792.5L292.15 789.96L290.32 793.76Z" clip-path="url(#p7e990c3744)" style="fill:#fdc5ae;fill-opacity:0.6" /><path d="M167.54 705.19L170.76 708.57L173.98 711.95L176.02 711.71L178.04 711.47L174.84 708.32L171.64 705.17L169.6 705.18Z" clip-path="url(#p7e990c3744)" style="fill:#cb181d;fill-opacity:0.6" /><path d="M235.88 768.33L239.1 771.5L242.33 774.67L244.21 772.17L246.09 769.67L242.87 766.72L239.65 763.77L237.77 766.05Z" clip-path="url(#p7e990c3744)" style="fill:#fc8f6f;fill-opacity:0.6" /><path d="M173.98 711.95L177.21 715.33L180.43 718.71L182.44 718.24L184.45 717.77L181.25 714.62L178.04 711.47L176.02 711.71Z" clip-path="url(#p7e990c3744)" style="fill:#d52221;fill-opacity:0.6" /><path d="M271.88 793.32L275.12 796.28L278.35 799.24L280.19 795.65L282.03 792.06L278.8 789.32L275.57 786.57L273.73 789.94Z" clip-path="url(#p7e990c3744)" style="fill:#fcbea5;fill-opacity:0.6" /><path d="M180.43 718.71L183.65 722.09L186.87 725.48L188.87 724.77L190.86 724.07L187.66 720.92L184.45 717.77L182.44 718.24Z" clip-path="url(#p7e990c3744)" style="fill:#e12d26;fill-opacity:0.6" /><path d="M294.97 803.06L298.21 805.81L301.45 808.57L303.28 804.33L305.11 800.1L301.86 797.57L298.62 795.03L296.8 799.04Z" clip-path="url(#p7e990c3744)" style="fill:#fdcdb9;fill-opacity:0.6" /><path d="M242.33 774.67L245.56 777.84L248.78 781.02L250.66 778.29L252.52 775.57L249.3 772.62L246.09 769.67L244.21 772.17Z" clip-path="url(#p7e990c3744)" style="fill:#fc9b7c;fill-opacity:0.6" /><path d="M186.87 725.48L190.1 728.86L193.32 732.24L195.3 731.31L197.28 730.38L194.07 727.22L190.86 724.07L188.87 724.77Z" clip-path="url(#p7e990c3744)" style="fill:#ec382b;fill-opacity:0.6" /><path d="M278.35 799.24L281.58 802.21L284.82 805.18L286.66 801.36L288.49 797.56L285.26 794.81L282.03 792.06L280.19 795.65Z" clip-path="url(#p7e990c3744)" style="fill:#fdc7b2;fill-opacity:0.6" /><path d="M248.78 781.02L252.01 784.19L255.25 787.37L257.11 784.42L258.97 781.48L255.75 778.52L252.52 775.57L250.66 778.29Z" clip-path="url(#p7e990c3744)" style="fill:#fca689;fill-opacity:0.6" /><path d="M193.32 732.24L196.55 735.63L199.77 739.01L201.74 737.85L203.7 736.69L200.49 733.53L197.28 730.38L195.3 731.31Z" clip-path="url(#p7e990c3744)" style="fill:#f14432;fill-opacity:0.6" /><path d="M301.45 808.57L304.7 811.33L306.53 806.98L308.35 802.64L305.11 800.1L303.28 804.33Z" clip-path="url(#p7e990c3744)" style="fill:#fdd3c1;fill-opacity:0.6" /><path d="M199.77 739.01L203 742.4L206.23 745.79L208.18 744.39L210.12 743.01L206.91 739.85L203.7 736.69L201.74 737.85Z" clip-path="url(#p7e990c3744)" style="fill:#f5533b;fill-opacity:0.6" /><path d="M255.25 787.37L258.48 790.55L261.71 793.73L263.57 790.56L265.42 787.4L262.2 784.44L258.97 781.48L257.11 784.42Z" clip-path="url(#p7e990c3744)" style="fill:#fcb296;fill-opacity:0.6" /><path d="M284.82 805.18L288.06 808.15L291.3 811.12L293.14 807.09L294.97 803.06L291.73 800.31L288.49 797.56L286.66 801.36Z" clip-path="url(#p7e990c3744)" style="fill:#fdd0bc;fill-opacity:0.6" /><path d="M206.23 745.79L209.46 749.17L212.69 752.56L214.62 750.94L216.56 749.33L213.34 746.17L210.12 743.01L208.18 744.39Z" clip-path="url(#p7e990c3744)" style="fill:#f96245;fill-opacity:0.6" /><path d="M261.71 793.73L264.95 796.91L268.18 800.09L270.03 796.7L271.88 793.32L268.65 790.36L265.42 787.4L263.57 790.56Z" clip-path="url(#p7e990c3744)" style="fill:#fcbca2;fill-opacity:0.6" /><path d="M212.69 752.56L215.92 755.95L219.15 759.34L221.07 757.5L222.99 755.66L219.77 752.49L216.56 749.33L214.62 750.94Z" clip-path="url(#p7e990c3744)" style="fill:#fb6e4e;fill-opacity:0.6" /><path d="M291.3 811.12L294.55 814.09L297.79 817.07L299.62 812.82L301.45 808.57L298.21 805.81L294.97 803.06L293.14 807.09Z" clip-path="url(#p7e990c3744)" style="fill:#fed9c9;fill-opacity:0.6" /><path d="M219.15 759.34L222.38 762.73L225.61 766.13L227.53 764.06L229.43 761.99L226.21 758.82L222.99 755.66L221.07 757.5Z" clip-path="url(#p7e990c3744)" style="fill:#fb7b5b;fill-opacity:0.6" /><path d="M268.18 800.09L271.42 803.27L274.66 806.46L276.51 802.85L278.35 799.24L275.12 796.28L271.88 793.32L270.03 796.7Z" clip-path="url(#p7e990c3744)" style="fill:#fdc6b0;fill-opacity:0.6" /><path d="M225.61 766.13L228.85 769.52L232.08 772.91L233.98 770.62L235.88 768.33L232.65 765.16L229.43 761.99L227.53 764.06Z" clip-path="url(#p7e990c3744)" style="fill:#fc8767;fill-opacity:0.6" /><path d="M297.79 817.07L301.04 820.04L302.87 815.68L304.7 811.33L301.45 808.57L299.62 812.82Z" clip-path="url(#p7e990c3744)" style="fill:#fee0d2;fill-opacity:0.6" /><path d="M274.66 806.46L277.9 809.64L281.14 812.83L282.98 809L284.82 805.18L281.58 802.21L278.35 799.24L276.51 802.85Z" clip-path="url(#p7e990c3744)" style="fill:#fdd1be;fill-opacity:0.6" /><path d="M232.08 772.91L235.32 776.31L238.55 779.7L240.44 777.18L242.33 774.67L239.1 771.5L235.88 768.33L233.98 770.62Z" clip-path="url(#p7e990c3744)" style="fill:#fc9373;fill-opacity:0.6" /><path d="M238.55 779.7L241.79 783.1L245.02 786.49L246.91 783.75L248.78 781.02L245.56 777.84L242.33 774.67L240.44 777.18Z" clip-path="url(#p7e990c3744)" style="fill:#fca082;fill-opacity:0.6" /><path d="M131.03 669.11L134.26 672.72L137.5 676.33L139.66 677.27L141.82 678.2L138.6 674.83L135.39 671.46L133.22 670.29Z" clip-path="url(#p7e990c3744)" style="fill:#71020e;fill-opacity:0.6" /><path d="M281.14 812.83L284.38 816.02L287.62 819.2L289.46 815.16L291.3 811.12L288.06 808.15L284.82 805.18L282.98 809Z" clip-path="url(#p7e990c3744)" style="fill:#fedbcc;fill-opacity:0.6" /><path d="M137.5 676.33L140.74 679.94L143.98 683.55L146.12 684.25L148.24 684.94L145.03 681.57L141.82 678.2L139.66 677.27Z" clip-path="url(#p7e990c3744)" style="fill:#840711;fill-opacity:0.6" /><path d="M245.02 786.49L248.26 789.89L251.5 793.29L253.38 790.33L255.25 787.37L252.01 784.19L248.78 781.02L246.91 783.75Z" clip-path="url(#p7e990c3744)" style="fill:#fcad90;fill-opacity:0.6" /><path d="M143.98 683.55L147.22 687.16L150.45 690.77L152.57 691.23L154.67 691.69L151.46 688.31L148.24 684.94L146.12 684.25Z" clip-path="url(#p7e990c3744)" style="fill:#9a0c14;fill-opacity:0.6" /><path d="M150.45 690.77L153.69 694.38L156.93 697.99L159.02 698.22L161.11 698.44L157.89 695.06L154.67 691.69L152.57 691.23Z" clip-path="url(#p7e990c3744)" style="fill:#aa1016;fill-opacity:0.6" /><path d="M287.62 819.2L290.87 822.39L294.11 825.59L295.95 821.32L297.79 817.07L294.55 814.09L291.3 811.12L289.46 815.16Z" clip-path="url(#p7e990c3744)" style="fill:#fee3d6;fill-opacity:0.6" /><path d="M251.5 793.29L254.74 796.69L257.98 800.09L259.85 796.9L261.71 793.73L258.48 790.55L255.25 787.37L253.38 790.33Z" clip-path="url(#p7e990c3744)" style="fill:#fcb89e;fill-opacity:0.6" /><path d="M156.93 697.99L160.17 701.6L163.41 705.21L165.48 705.2L167.54 705.19L164.33 701.82L161.11 698.44L159.02 698.22Z" clip-path="url(#p7e990c3744)" style="fill:#b71319;fill-opacity:0.6" /><path d="M163.41 705.21L166.65 708.83L169.89 712.44L171.94 712.19L173.98 711.95L170.76 708.57L167.54 705.19L165.48 705.2Z" clip-path="url(#p7e990c3744)" style="fill:#c4161c;fill-opacity:0.6" /><path d="M294.11 825.59L297.36 828.78L299.2 824.41L301.04 820.04L297.79 817.07L295.95 821.32Z" clip-path="url(#p7e990c3744)" style="fill:#fee7dc;fill-opacity:0.6" /><path d="M257.98 800.09L261.22 803.49L264.46 806.89L266.32 803.49L268.18 800.09L264.95 796.91L261.71 793.73L259.85 796.9Z" clip-path="url(#p7e990c3744)" style="fill:#fcc4ad;fill-opacity:0.6" /><path d="M169.89 712.44L173.13 716.05L176.37 719.67L178.4 719.19L180.43 718.71L177.21 715.33L173.98 711.95L171.94 712.19Z" clip-path="url(#p7e990c3744)" style="fill:#d01d1f;fill-opacity:0.6" /><path d="M176.37 719.67L179.61 723.28L182.85 726.89L184.87 726.18L186.87 725.48L183.65 722.09L180.43 718.71L178.4 719.19Z" clip-path="url(#p7e990c3744)" style="fill:#dc2924;fill-opacity:0.6" /><path d="M264.46 806.89L267.71 810.29L270.95 813.7L272.81 810.07L274.66 806.46L271.42 803.27L268.18 800.09L266.32 803.49Z" clip-path="url(#p7e990c3744)" style="fill:#fdd0bc;fill-opacity:0.6" /><path d="M182.85 726.89L186.09 730.51L189.34 734.12L191.33 733.18L193.32 732.24L190.1 728.86L186.87 725.48L184.87 726.18Z" clip-path="url(#p7e990c3744)" style="fill:#e83429;fill-opacity:0.6" /><path d="M189.34 734.12L192.58 737.74L195.82 741.35L197.8 740.18L199.77 739.01L196.55 735.63L193.32 732.24L191.33 733.18Z" clip-path="url(#p7e990c3744)" style="fill:#f14130;fill-opacity:0.6" /><path d="M270.95 813.7L274.19 817.1L277.44 820.51L279.29 816.66L281.14 812.83L277.9 809.64L274.66 806.46L272.81 810.07Z" clip-path="url(#p7e990c3744)" style="fill:#fedaca;fill-opacity:0.6" /><path d="M195.82 741.35L199.06 744.97L202.31 748.58L204.27 747.18L206.23 745.79L203 742.4L199.77 739.01L197.8 740.18Z" clip-path="url(#p7e990c3744)" style="fill:#f4503a;fill-opacity:0.6" /><path d="M202.31 748.58L205.55 752.2L208.79 755.81L210.74 754.19L212.69 752.56L209.46 749.17L206.23 745.79L204.27 747.18Z" clip-path="url(#p7e990c3744)" style="fill:#f96044;fill-opacity:0.6" /><path d="M277.44 820.51L280.69 823.91L283.93 827.32L285.78 823.26L287.62 819.2L284.38 816.02L281.14 812.83L279.29 816.66Z" clip-path="url(#p7e990c3744)" style="fill:#fee3d7;fill-opacity:0.6" /><path d="M208.79 755.81L212.04 759.43L215.28 763.05L217.22 761.19L219.15 759.34L215.92 755.95L212.69 752.56L210.74 754.19Z" clip-path="url(#p7e990c3744)" style="fill:#fb6e4e;fill-opacity:0.6" /><path d="M215.28 763.05L218.53 766.67L221.77 770.28L223.7 768.2L225.61 766.13L222.38 762.73L219.15 759.34L217.22 761.19Z" clip-path="url(#p7e990c3744)" style="fill:#fb7c5c;fill-opacity:0.6" /><path d="M283.93 827.32L287.18 830.73L290.43 834.13L292.27 829.86L294.11 825.59L290.87 822.39L287.62 819.2L285.78 823.26Z" clip-path="url(#p7e990c3744)" style="fill:#fee9df;fill-opacity:0.6" /><path d="M221.77 770.28L225.02 773.9L228.26 777.52L230.17 775.21L232.08 772.91L228.85 769.52L225.61 766.13L223.7 768.2Z" clip-path="url(#p7e990c3744)" style="fill:#fc8a6a;fill-opacity:0.6" /><path d="M290.43 834.13L293.68 837.54L295.52 833.16L297.36 828.78L294.11 825.59L292.27 829.86Z" clip-path="url(#p7e990c3744)" style="fill:#ffeee7;fill-opacity:0.6" /><path d="M228.26 777.52L231.51 781.14L234.75 784.76L236.65 782.23L238.55 779.7L235.32 776.31L232.08 772.91L230.17 775.21Z" clip-path="url(#p7e990c3744)" style="fill:#fc9777;fill-opacity:0.6" /><path d="M234.75 784.76L238 788.38L241.25 792L243.14 789.24L245.02 786.49L241.79 783.1L238.55 779.7L236.65 782.23Z" clip-path="url(#p7e990c3744)" style="fill:#fca588;fill-opacity:0.6" /><path d="M241.25 792L244.49 795.62L247.74 799.24L249.62 796.26L251.5 793.29L248.26 789.89L245.02 786.49L243.14 789.24Z" clip-path="url(#p7e990c3744)" style="fill:#fcb296;fill-opacity:0.6" /><path d="M247.74 799.24L250.99 802.86L254.23 806.48L256.11 803.28L257.98 800.09L254.74 796.69L251.5 793.29L249.62 796.26Z" clip-path="url(#p7e990c3744)" style="fill:#fcbfa7;fill-opacity:0.6" /><path d="M254.23 806.48L257.48 810.1L260.73 813.72L262.6 810.3L264.46 806.89L261.22 803.49L257.98 800.09L256.11 803.28Z" clip-path="url(#p7e990c3744)" style="fill:#fdcbb6;fill-opacity:0.6" /><path d="M260.73 813.72L263.98 817.34L267.23 820.97L269.09 817.33L270.95 813.7L267.71 810.29L264.46 806.89L262.6 810.3Z" clip-path="url(#p7e990c3744)" style="fill:#fed8c7;fill-opacity:0.6" /><path d="M267.23 820.97L270.48 824.59L273.73 828.21L275.59 824.36L277.44 820.51L274.19 817.1L270.95 813.7L269.09 817.33Z" clip-path="url(#p7e990c3744)" style="fill:#fee2d5;fill-opacity:0.6" /><path d="M273.73 828.21L276.98 831.84L280.23 835.46L282.08 831.39L283.93 827.32L280.69 823.91L277.44 820.51L275.59 824.36Z" clip-path="url(#p7e990c3744)" style="fill:#fee9df;fill-opacity:0.6" /><path d="M280.23 835.46L283.48 839.08L286.73 842.71L288.58 838.42L290.43 834.13L287.18 830.73L283.93 827.32L282.08 831.39Z" clip-path="url(#p7e990c3744)" style="fill:#fff0e9;fill-opacity:0.6" /><path d="M286.73 842.71L289.98 846.33L291.83 841.93L293.68 837.54L290.43 834.13L288.58 838.42Z" clip-path="url(#p7e990c3744)" style="fill:#fff5f0;fill-opacity:0.6" /></g><g><g transform="translate(196.04 529)"><text><tspan x="1 12 23 29 34 45" y="0" style="font-size:18.333px">Selle </tspan><tspan x="51" y="0" style="font-style:italic;font-size:18.333px">Z</tspan><tspan x="67" y="0" style="font-size:18.333px">=</tspan><tspan x="86 99" y="0" style="font-style:italic;font-size:18.333px">XY</tspan></text></g><g transform="translate(216.12 552)"><text><tspan x="1 12 23 35 45" y="-1" style="font-size:18.333px">dans </tspan><tspan x="63" y="-8" style="font-size:12.833px">3</tspan></text><text transform="translate(50 -1) skewX(-14) scale(0.92 1)" style="font-size:16.5px">𝔸</text></g></g></g><g><g><path d="M573 879L950 879L950 565L573 565Z" style="fill:#ffffff" /></g><g><g><g><rect clip-path="url(#pf53362e9e9)" style="fill:#cccccc" x="572.806" y="564.806" width="1.389" height="315.389" /></g><g><text style="font-size:16.806px;text-anchor:middle" x="572.42" y="907">−2</text></g></g><g><g><rect clip-path="url(#pf53362e9e9)" style="fill:#cccccc" x="666.806" y="564.806" width="1.389" height="315.389" /></g><g><text style="font-size:16.806px;text-anchor:middle" x="666.41" y="907">−1</text></g></g><g><g><rect clip-path="url(#pf53362e9e9)" style="fill:#cccccc" x="760.806" y="564.806" width="1.389" height="315.389" /></g><g><text style="font-size:16.806px;text-anchor:middle" x="761.22" y="907">0</text></g></g><g><g><rect clip-path="url(#pf53362e9e9)" style="fill:#cccccc" x="854.806" y="564.806" width="1.389" height="315.389" /></g><g><text style="font-size:16.806px;text-anchor:middle" x="856.34" y="907">1</text></g></g><g><g><rect clip-path="url(#pf53362e9e9)" style="fill:#cccccc" x="949.806" y="564.806" width="1.389" height="315.389" /></g><g><text style="font-size:16.806px;text-anchor:middle" x="950.39" y="907">2</text></g></g><g><g transform="translate(753.03 931)"><text><tspan x="1" y="0" style="font-style:italic;font-size:18.333px">X</tspan></text></g></g></g><g><g><g><rect clip-path="url(#pf53362e9e9)" style="fill:#cccccc" x="572.806" y="878.806" width="378.389" height="1.389" /></g><g><text style="font-size:16.806px;text-anchor:end" x="559.49" y="887">−2.0</text></g></g><g><g><rect clip-path="url(#pf53362e9e9)" style="fill:#cccccc" x="572.806" y="839.806" width="378.389" height="1.389" /></g><g><text style="font-size:16.806px;text-anchor:end" x="559.69" y="848">−1.5</text></g></g><g><g><rect clip-path="url(#pf53362e9e9)" style="fill:#cccccc" x="572.806" y="800.806" width="378.389" height="1.389" /></g><g><text style="font-size:16.806px;text-anchor:end" x="559.5" y="808">−1.0</text></g></g><g><g><rect clip-path="url(#pf53362e9e9)" style="fill:#cccccc" x="572.806" y="760.806" width="378.389" height="1.389" /></g><g><text style="font-size:16.806px;text-anchor:end" x="559.5" y="769">−0.5</text></g></g><g><g><rect clip-path="url(#pf53362e9e9)" style="fill:#cccccc" x="572.806" y="721.806" width="378.389" height="1.389" /></g><g><text style="font-size:16.806px;text-anchor:end" x="558.99" y="730">0.0</text></g></g><g><g><rect clip-path="url(#pf53362e9e9)" style="fill:#cccccc" x="572.806" y="682.806" width="378.389" height="1.389" /></g><g><text style="font-size:16.806px;text-anchor:end" x="559.17" y="691">0.5</text></g></g><g><g><rect clip-path="url(#pf53362e9e9)" style="fill:#cccccc" x="572.806" y="643.806" width="378.389" height="1.389" /></g><g><text style="font-size:16.806px;text-anchor:end" x="559.76" y="651">1.0</text></g></g><g><g><rect clip-path="url(#pf53362e9e9)" style="fill:#cccccc" x="572.806" y="603.806" width="378.389" height="1.389" /></g><g><text style="font-size:16.806px;text-anchor:end" x="560.02" y="612">1.5</text></g></g><g><g><rect clip-path="url(#pf53362e9e9)" style="fill:#cccccc" x="572.806" y="564.806" width="378.389" height="1.389" /></g><g><text style="font-size:16.806px;text-anchor:end" x="558.9" y="573">2.0</text></g></g><g><g transform="translate(508.37 731.11)rotate(-90)"><text><tspan x="1" y="0" style="font-style:italic;font-size:18.333px">Y</tspan></text></g></g></g><g><rect clip-path="url(#pf53362e9e9)" style="fill:#4682b4" x="571.764" y="720.764" width="380.472" height="3.472" /></g><g><rect clip-path="url(#pf53362e9e9)" style="fill:#ff6347" x="759.764" y="563.764" width="3.472" height="317.472" /></g><g><rect style="fill:#cccccc" x="572.132" y="564.132" width="1.736" height="315.736" /></g><g><rect style="fill:#cccccc" x="949.132" y="564.132" width="1.736" height="315.736" /></g><g><rect style="fill:#cccccc" x="572.132" y="878.132" width="378.736" height="1.736" /></g><g><rect style="fill:#cccccc" x="572.132" y="564.132" width="378.736" height="1.736" /></g><g><g transform="translate(663.01 537)"><text><tspan x="1" y="0" style="font-style:italic;font-size:18.333px">V</tspan><tspan x="13" y="0" style="font-size:18.333px">(</tspan><tspan x="20 33" y="0" style="font-style:italic;font-size:18.333px">XY</tspan><tspan x="44 55 74 80 91 103 114 125 131 143 150 161 167 174 185" y="0" style="font-size:18.333px">)= deux droites</tspan></text></g><text style="font-size:18.333px" x="680.39" y="557">Variété réductible</text></g><g><g><path d="M867.5 613.5L941.5 613.5Q943.5 613.5 943.5 611.5L943.5 574.5Q943.5 571.5 941.5 571.5L867.5 571.5Q865.5 571.5 865.5 574.5L865.5 611.5Q865.5 613.5 867.5 613.5Z" style="fill:#ffffff;opacity:0.8;stroke:#cccccc;stroke-linejoin:miter;stroke-width:1.389" /></g><g><path d="M870.5 582.5L895.5 582.5" style="fill:none;stroke:#4682b4;stroke-width:3.472;stroke-linecap:round" /></g><g><g transform="translate(904.94 587)"><text><tspan x="1" y="0" style="font-style:italic;font-size:12.5px">Y</tspan><tspan x="11 23" y="0" style="font-size:12.5px">=0</tspan></text></g></g><g><path d="M870.5 601.5L895.5 601.5" style="fill:none;stroke:#ff6347;stroke-width:3.472;stroke-linecap:round" /></g><g><g transform="translate(904.94 606)"><text><tspan x="1" y="0" style="font-style:italic;font-size:12.5px">X</tspan><tspan x="12 25" y="0" style="font-size:12.5px">=0</tspan></text></g></g></g></g><g><g><path d="M1082 879L1459 879L1459 565L1082 565Z" style="fill:#ffffff" /></g><g><g><g><rect clip-path="url(#pf5da55c2d1)" style="fill:#cccccc" x="1081.806" y="564.806" width="1.389" height="315.389" /></g><g><text style="font-size:16.806px;text-anchor:middle" x="1081.4" y="907">−2</text></g></g><g><g><rect clip-path="url(#pf5da55c2d1)" style="fill:#cccccc" x="1175.806" y="564.806" width="1.389" height="315.389" /></g><g><text style="font-size:16.806px;text-anchor:middle" x="1175.4" y="907">−1</text></g></g><g><g><rect clip-path="url(#pf5da55c2d1)" style="fill:#cccccc" x="1269.806" y="564.806" width="1.389" height="315.389" /></g><g><text style="font-size:16.806px;text-anchor:middle" x="1270.21" y="907">0</text></g></g><g><g><rect clip-path="url(#pf5da55c2d1)" style="fill:#cccccc" x="1363.806" y="564.806" width="1.389" height="315.389" /></g><g><text style="font-size:16.806px;text-anchor:middle" x="1365.32" y="907">1</text></g></g><g><g><rect clip-path="url(#pf5da55c2d1)" style="fill:#cccccc" x="1458.806" y="564.806" width="1.389" height="315.389" /></g><g><text style="font-size:16.806px;text-anchor:middle" x="1459.38" y="907">2</text></g></g><g><g transform="translate(1262.02 931)"><text><tspan x="1" y="0" style="font-style:italic;font-size:18.333px">X</tspan></text></g></g></g><g><g><g><rect clip-path="url(#pf5da55c2d1)" style="fill:#cccccc" x="1081.806" y="878.806" width="378.389" height="1.389" /></g><g><text style="font-size:16.806px;text-anchor:end" x="1068.55" y="887">−2.0</text></g></g><g><g><rect clip-path="url(#pf5da55c2d1)" style="fill:#cccccc" x="1081.806" y="839.806" width="378.389" height="1.389" /></g><g><text style="font-size:16.806px;text-anchor:end" x="1068.63" y="848">−1.5</text></g></g><g><g><rect clip-path="url(#pf5da55c2d1)" style="fill:#cccccc" x="1081.806" y="800.806" width="378.389" height="1.389" /></g><g><text style="font-size:16.806px;text-anchor:end" x="1068.56" y="808">−1.0</text></g></g><g><g><rect clip-path="url(#pf5da55c2d1)" style="fill:#cccccc" x="1081.806" y="760.806" width="378.389" height="1.389" /></g><g><text style="font-size:16.806px;text-anchor:end" x="1068.63" y="769">−0.5</text></g></g><g><g><rect clip-path="url(#pf5da55c2d1)" style="fill:#cccccc" x="1081.806" y="721.806" width="378.389" height="1.389" /></g><g><text style="font-size:16.806px;text-anchor:end" x="1067.98" y="730">0.0</text></g></g><g><g><rect clip-path="url(#pf5da55c2d1)" style="fill:#cccccc" x="1081.806" y="682.806" width="378.389" height="1.389" /></g><g><text style="font-size:16.806px;text-anchor:end" x="1068.16" y="691">0.5</text></g></g><g><g><rect clip-path="url(#pf5da55c2d1)" style="fill:#cccccc" x="1081.806" y="643.806" width="378.389" height="1.389" /></g><g><text style="font-size:16.806px;text-anchor:end" x="1068.75" y="651">1.0</text></g></g><g><g><rect clip-path="url(#pf5da55c2d1)" style="fill:#cccccc" x="1081.806" y="603.806" width="378.389" height="1.389" /></g><g><text style="font-size:16.806px;text-anchor:end" x="1069.01" y="612">1.5</text></g></g><g><g><rect clip-path="url(#pf5da55c2d1)" style="fill:#cccccc" x="1081.806" y="564.806" width="378.389" height="1.389" /></g><g><text style="font-size:16.806px;text-anchor:end" x="1067.89" y="573">2.0</text></g></g><g><g transform="translate(1017.35 731.11)rotate(-90)"><text><tspan x="1" y="0" style="font-style:italic;font-size:18.333px">Y</tspan></text></g></g></g><g><rect clip-path="url(#pf5da55c2d1)" style="fill:#808080" x="1082.153" y="722.153" width="377.694" height="0.694" /></g><g><rect clip-path="url(#pf5da55c2d1)" style="fill:#808080" x="1270.153" y="565.153" width="0.694" height="314.694" /></g><g><rect style="fill:#cccccc" x="1081.132" y="564.132" width="1.736" height="315.736" /></g><g><rect style="fill:#cccccc" x="1458.132" y="564.132" width="1.736" height="315.736" /></g><g><rect style="fill:#cccccc" x="1081.132" y="878.132" width="378.736" height="1.736" /></g><g><rect style="fill:#cccccc" x="1081.132" y="564.132" width="378.736" height="1.736" /></g><g><g transform="translate(1168.11 537)"><text><tspan x="1 12 23 28 40 47" y="0.27" style="font-size:18.333px">Point </tspan><tspan x="53" y="0.27" style="font-style:italic;font-size:18.333px">V</tspan><tspan x="65" y="0.27" style="font-size:18.333px">(</tspan><tspan x="72" y="0.27" style="font-style:italic;font-size:18.333px">X</tspan><tspan x="85" y="0.27" style="font-size:18.333px">,</tspan><tspan x="94" y="0.27" style="font-style:italic;font-size:18.333px">Y</tspan><tspan x="106 116 135 147 154 166 175 187 194" y="0.27" style="font-size:18.333px">)={(0,0)}</tspan></text></g><text style="font-size:18.333px" x="1164.25" y="557">Variété de dimension 0</text></g><g><defs><path id="m2c19bbfbbe" d="M0 12.03C3.19 12.03 6.25 10.76 8.51 8.51C10.76 6.25 12.03 3.19 12.03 0C12.03 -3.19 10.76 -6.25 8.51 -8.51C6.25 -10.76 3.19 -12.03 0 -12.03C-3.19 -12.03 -6.25 -10.76 -8.51 -8.51C-10.76 -6.25 -12.03 -3.19 -12.03 0C-12.03 3.19 -10.76 6.25 -8.51 8.51C-6.25 10.76 -3.19 12.03 0 12.03Z" style="stroke:#ffd700;stroke-width:1.389" /></defs><g clip-path="url(#pf5da55c2d1)"><use x="1270.5" y="722.5" style="fill:#ffd700;stroke:#ffd700;stroke-width:1.389" href="#m2c19bbfbbe" /></g></g><g><g><path d="M1307.5 599.5L1450.5 599.5Q1452.5 599.5 1452.5 596.5L1452.5 574.5Q1452.5 571.5 1450.5 571.5L1307.5 571.5Q1305.5 571.5 1305.5 574.5L1305.5 596.5Q1305.5 599.5 1307.5 599.5Z" style="fill:#ffffff;opacity:0.8;stroke:#cccccc;stroke-linejoin:miter;stroke-width:1.389" /></g><g><g><use x="1322.5" y="587.5" style="fill:#ffd700;stroke:#ffd700;stroke-width:1.389" href="#m2c19bbfbbe" /></g></g><g><g transform="translate(1345.03 591)"><text><tspan x="1 5 13 20 28 35" y="-1.3" style="font-size:12.5px">(0,0)=</tspan><tspan x="48" y="-1.3" style="font-style:italic;font-size:12.5px">V</tspan><tspan x="56" y="-1.3" style="font-size:12.5px">(</tspan><tspan x="61" y="-1.3" style="font-style:italic;font-size:12.5px">X</tspan><tspan x="71" y="-6.3" style="font-size:8.75px">2</tspan><tspan x="77" y="-1.3" style="font-size:12.5px">,</tspan><tspan x="83" y="-1.3" style="font-style:italic;font-size:12.5px">Y</tspan><tspan x="92" y="-6.3" style="font-size:8.75px">2</tspan><tspan x="97" y="-1.3" style="font-size:12.5px">)</tspan></text></g></g></g></g><g><text style="font-weight:700;font-size:19.444px;text-anchor:middle" x="738.86" y="25">Galerie de variétés affines</text></g></g><defs><clipPath id="pf85b3733b2"><rect x="64" y="109" width="377" height="315" /></clipPath><clipPath id="p10204e9731"><rect x="573" y="109" width="377" height="315" /></clipPath><clipPath id="p0a0b44ae8d"><rect x="1113" y="109" width="314" height="315" /></clipPath><clipPath id="p7e990c3744"><rect x="95" y="565" width="314" height="314" /></clipPath><clipPath id="pf53362e9e9"><rect x="573" y="565" width="377" height="314" /></clipPath><clipPath id="pf5da55c2d1"><rect x="1082" y="565" width="377" height="314" /></clipPath></defs></svg>
</body></html>
